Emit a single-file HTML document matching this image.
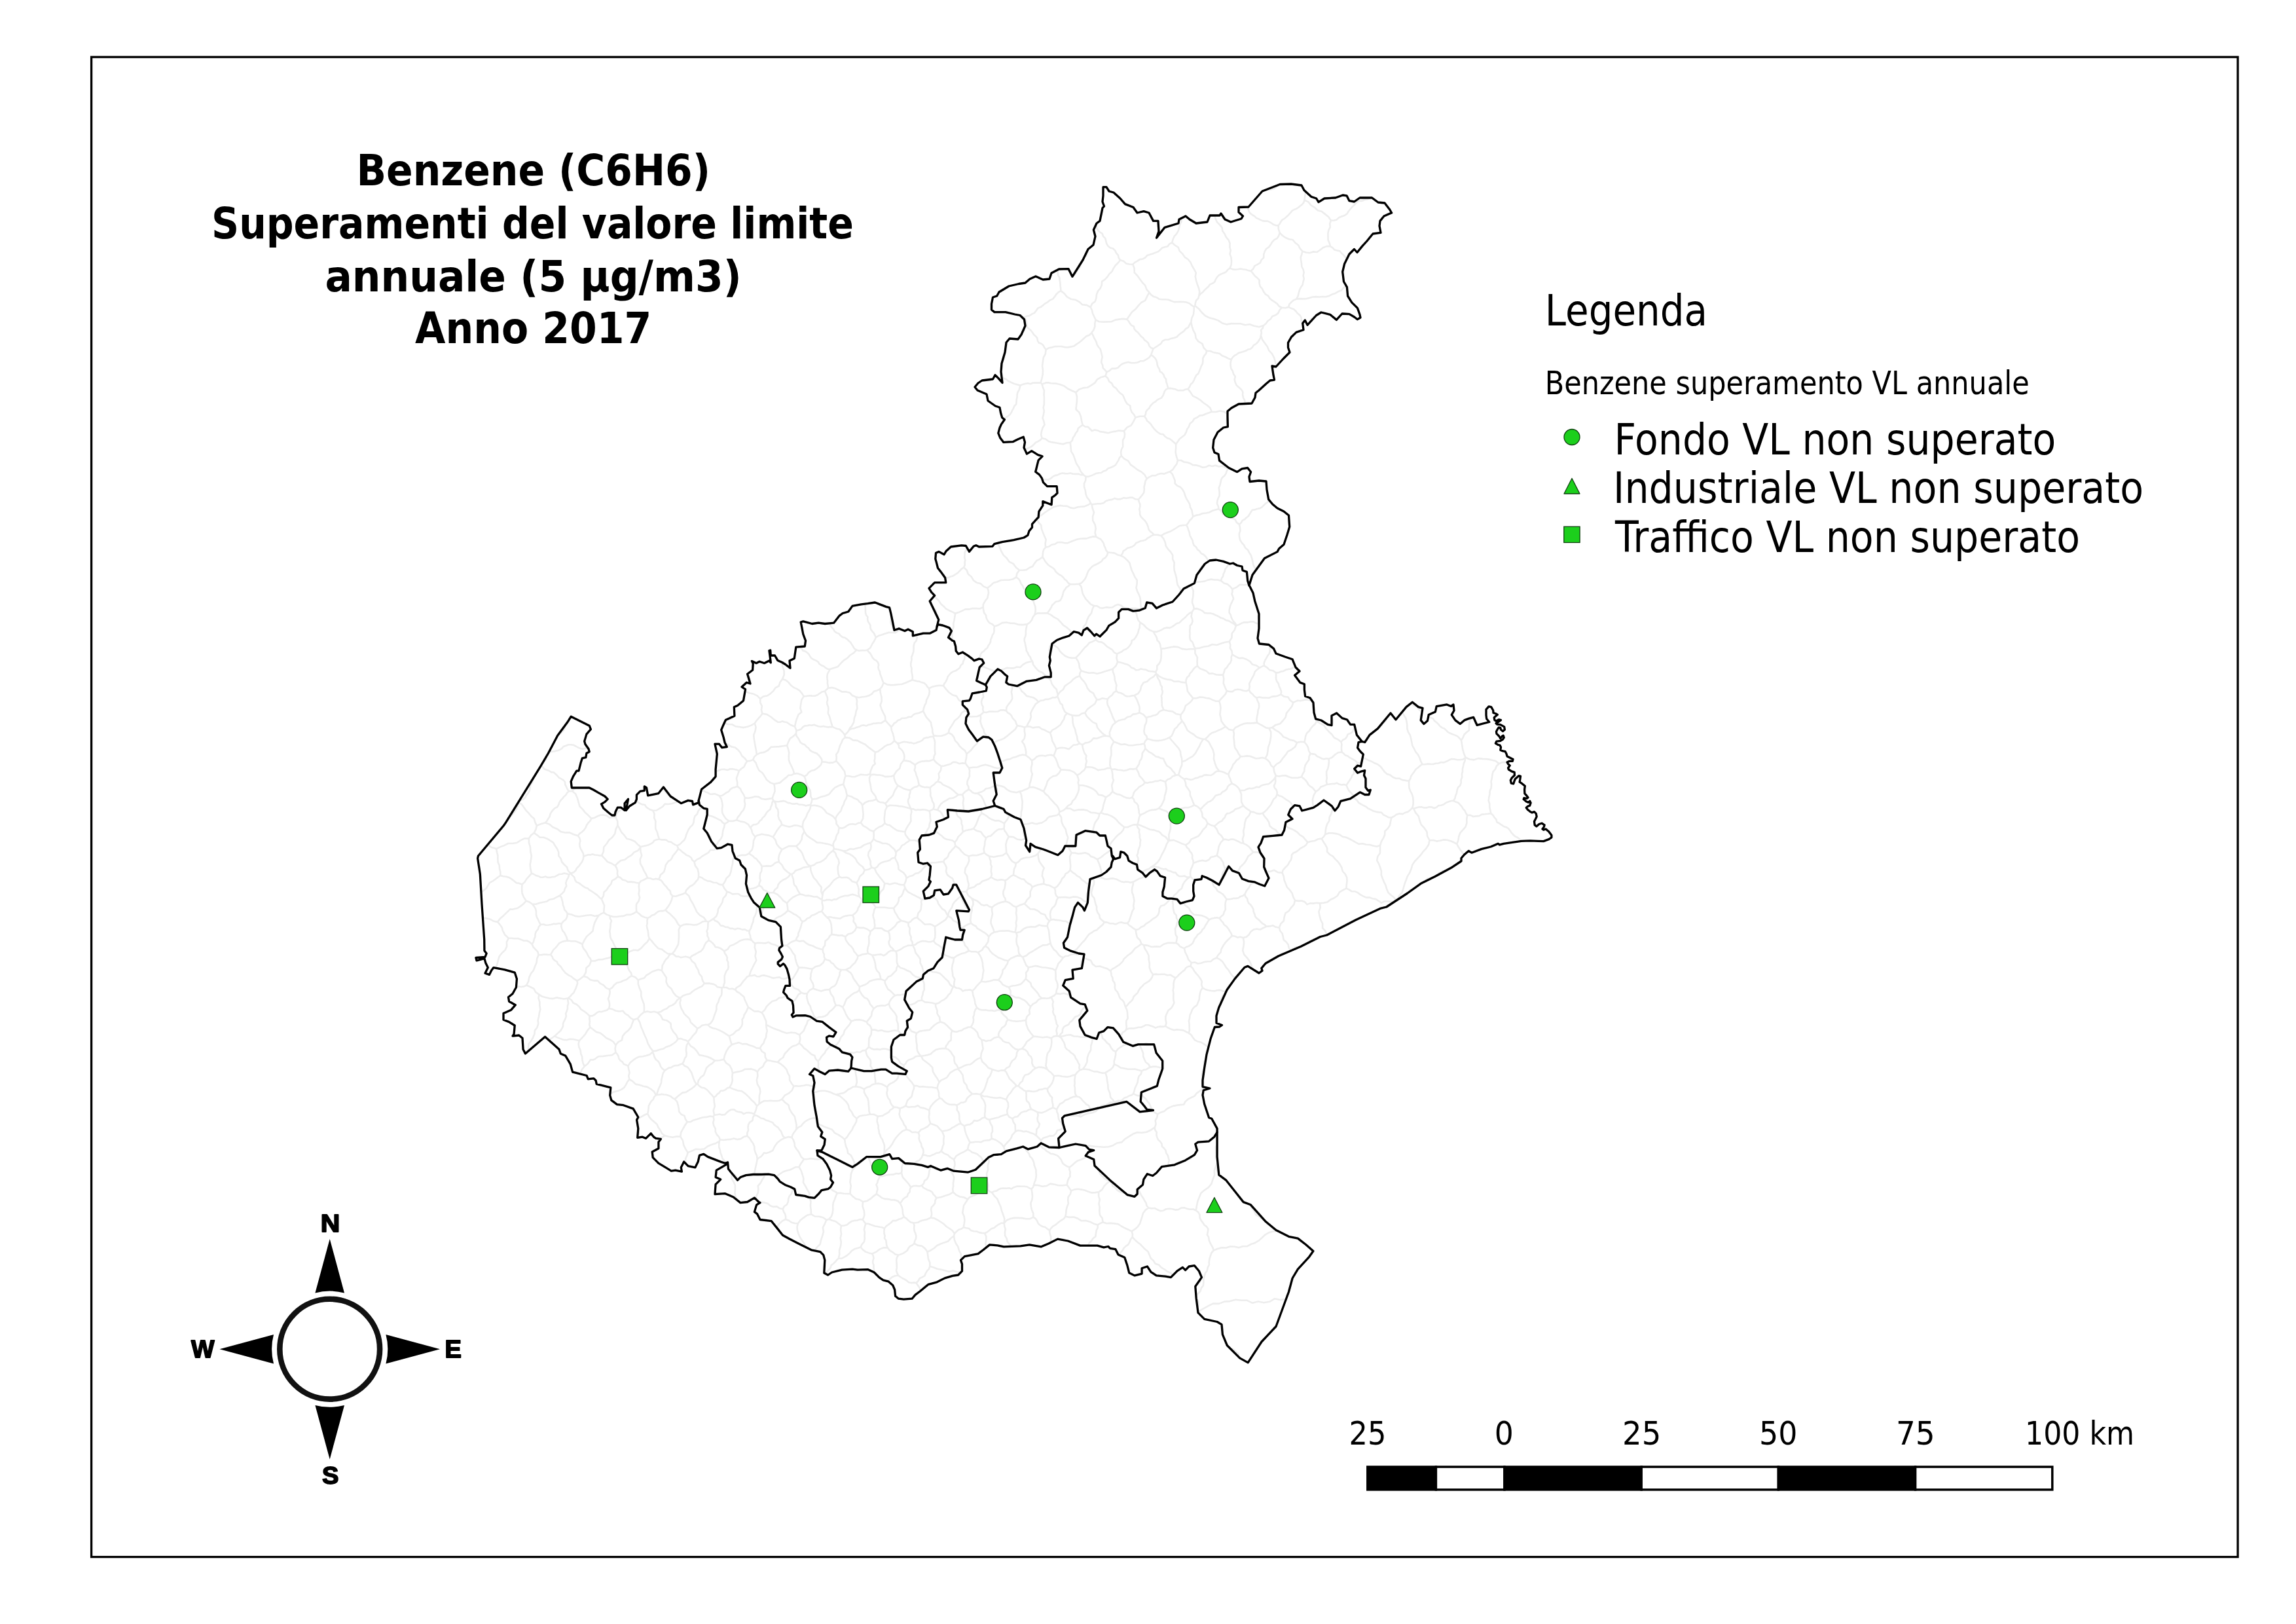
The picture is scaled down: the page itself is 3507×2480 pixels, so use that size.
<!DOCTYPE html><html><head><meta charset="utf-8"><title>Benzene (C6H6) - Anno 2017</title>
<style>html,body{margin:0;padding:0;background:#fff;width:3507px;height:2480px;overflow:hidden}svg{display:block;will-change:transform}.b{font-family:"DejaVu Sans","Liberation Sans",sans-serif;font-weight:bold}.r{font-family:"DejaVu Sans","Liberation Sans",sans-serif}.k{font-family:"Liberation Sans","DejaVu Sans",sans-serif;font-weight:bold;stroke:#000;stroke-width:1.8px;stroke-linejoin:round}</style></head><body>
<svg width="3507" height="2480" viewBox="0 0 3507 2480">
<rect width="3507" height="2480" fill="#fff"/>
<rect x="139.6" y="87.1" width="3278.5" height="2290.5" fill="none" stroke="#000" stroke-width="3.3"/>
<defs><clipPath id="vc"><polygon points="1431.3,956.2 1433.7,946.3 1420.2,918 1427.6,909.4 1422.7,904.4 1419,898.3 1427.6,889.7 1444.8,889.7 1443.6,882.3 1437.4,873.6 1432.5,867.5 1430,857.6 1428.8,853.5 1429.5,844.6 1433.9,842.4 1442.1,846.8 1445,841.7 1452.4,835 1468.7,832.8 1475.3,833.5 1480.5,842.4 1487.1,834.3 1490.8,832.8 1495.3,835 1516,834.3 1518.9,830.6 1530.7,827.6 1548.5,824.7 1564,821 1569.9,817.3 1572.1,810.6 1576.5,805.5 1576.5,800.3 1583.9,792.2 1586.1,790 1586.9,781.1 1592.8,772.2 1592.8,765.6 1606.1,770.7 1606.8,759.6 1611.3,756.7 1615,753 1614.2,742.7 1599.5,742.7 1593.5,736.7 1591.3,730.1 1587.6,724.9 1581.7,720.5 1583.9,711.6 1586.1,702.8 1592.1,696.8 1585.4,694.6 1575.8,688.7 1568.4,693.1 1564,683.5 1565.5,675.4 1563.2,667.3 1554.4,671 1547,674.7 1532.9,675.4 1527.8,668.8 1524.8,661.4 1527,653.2 1529.3,648.1 1534.4,640.7 1530.7,637.7 1528.5,630.3 1527,622.2 1520.4,620 1509,612 1507,602 1493,596 1489,591 1494,585 1500,581 1516.5,579 1520,572.7 1525,577.6 1531,584.5 1529,567.7 1530,555 1535,538 1537,523 1542,517 1555,518 1560,511 1566,497.5 1564.5,487.7 1558,481.5 1550,480 1536,476.6 1519,476.6 1514.5,473 1514.5,464 1516.5,454 1522.7,452 1526,446 1541,437 1556,433.5 1566,432 1573,426 1582,422 1593,427 1603,426 1606,417 1617.5,411 1632,410.6 1638,422.4 1654,397 1662,380.5 1670,374 1673,361 1670.4,351 1675,341 1680,337.4 1684,317.7 1686.5,315 1684,308 1685,299 1685,285.7 1690,285.7 1694,292 1701,294 1711,303 1718.5,311.6 1731,316.5 1737,325 1747,322.7 1755,325 1761.6,337.4 1769,337.4 1770,353.4 1766.5,363.3 1779,347.3 1800,341 1801,335 1811,330 1817,335 1827,341 1844,339 1848,329 1863,329 1865,326 1871,335 1880,339 1896,334 1898.5,330 1892,324 1892,316.5 1907,316 1928,292 1955,281.5 1972,281 1988,283 1992,290.6 2003,300.5 2010.6,303 2014,308.6 2023,303 2040,302 2051,298 2057,298.8 2061,306.7 2068.5,308 2077,302 2095.6,302 2105,309 2115,310 2122.7,320 2125.6,325 2114,330 2108,337.4 2107,345 2109,355.4 2097,357 2088,368 2081,375.6 2073,385.5 2068.5,380.5 2061,388 2053.7,402.7 2050.7,415 2052.5,430 2057.4,438.4 2058.6,452 2064.8,461.8 2073.4,470.4 2077,480.3 2078,485 2073.4,487.7 2068.5,484 2061,479.6 2050,479 2041.4,488.4 2031.5,480.3 2018,477 2010.6,481.5 1997,496.3 1993.3,489 1989.7,493.8 1991,503.7 1980,507.4 1972.4,514.8 1967.5,523.4 1967.5,530.8 1970,538 1960,548 1949,560 1943,559 1945,572.7 1946.5,580 1940,581 1934,586 1923,596 1918,600 1917,607 1912,616 1892,617 1881,623 1875,628 1875,636 1875.4,651.7 1868.7,653 1860,660 1854,671.4 1852.7,683.7 1855,691 1861,693.6 1862.6,703.4 1872.4,711 1877,714.5 1889.7,720.7 1897,715.8 1905.7,714.5 1910.6,720.7 1908,728 1909,735.5 1923,734 1934,735 1935,747.8 1937.7,762.6 1943.8,770 1951,776 1961,781 1968.5,787 1969.7,804.4 1966,816.7 1961,831.5 1953.7,837.7 1951,842.6 1931.5,852.5 1921.7,866 1913,878 1908,894 1909,895.6 1914,905.4 1916.7,917.7 1923,937.4 1923,959.6 1921,974.6 1923.4,983 1938,984.5 1945.6,990.6 1949,998 1962.8,1003 1974,1006.7 1979,1019 1985,1025 1977.6,1031.3 1986,1042.4 1992.4,1044.8 1992.4,1053.4 1993.6,1063.3 2001,1065.8 2006,1073 2007,1088 2009.6,1097.8 2018,1100 2028,1106.4 2034,1107.6 2034,1092.9 2041.6,1089 2050,1096.6 2057.6,1099 2062.6,1106.4 2068.7,1106.4 2072.4,1122.4 2080.3,1132.3 2084.7,1133.5 2092,1122.4 2104.4,1112.6 2124,1089 2132,1099 2148,1079.6 2157.3,1072.2 2166.5,1079.6 2173,1081.4 2170.2,1099.9 2174.8,1105.4 2180.4,1100.8 2182.2,1091.6 2192.4,1087 2194.2,1078.6 2210,1075.9 2216.4,1078.6 2220,1075.9 2221,1085 2217.3,1091.6 2222.9,1099.9 2230.2,1105.4 2236.7,1099.9 2244,1097.1 2250.6,1095.3 2256,1107.3 2274.8,1102.5 2270.7,1097.7 2270,1092.2 2270,1083.3 2274,1078.9 2277.7,1079.6 2280.7,1084.8 2281,1088.5 2285.1,1090 2287.3,1091.4 2284.4,1093.7 2282.2,1095.9 2282.9,1099.6 2285.1,1101 2289.6,1098.8 2292.5,1099.6 2289.6,1101.8 2285.1,1104.7 2286.6,1106.2 2291.8,1106.6 2297.7,1109.9 2298.4,1114.3 2295.5,1116.6 2292.5,1114.3 2291.8,1111.4 2289.2,1111 2287.3,1113.6 2285.5,1117.3 2285.9,1120.3 2289.6,1124 2291.8,1127.6 2294,1124.7 2296.2,1123.2 2297.3,1126.2 2295.5,1129.1 2291.8,1131.3 2285.9,1132.1 2284.4,1135 2288.1,1137.3 2291,1138 2292.5,1141 2291.8,1145.4 2295.5,1146.9 2299.2,1147.6 2301,1151.3 2302.1,1155 2306.6,1157.2 2311,1159.4 2310.3,1162.4 2305.1,1162.4 2302.1,1163.9 2303.6,1166.8 2306.2,1169 2303.6,1172.7 2304.3,1175 2308.8,1177.9 2313.2,1179.4 2313.4,1184.1 2309.6,1187.4 2307.3,1191.5 2308.3,1196.2 2311.7,1196.9 2313,1192.9 2314.4,1189.5 2319.8,1184.7 2322.5,1185.4 2321.8,1190.2 2321.1,1194.2 2325.2,1196.9 2329.3,1200.3 2328.6,1205.7 2328.9,1211.8 2332,1215.2 2334,1217.9 2332,1219.3 2327.9,1218.6 2327.2,1220.6 2331.3,1224 2334.7,1225.4 2336.7,1223.3 2338.1,1226 2336.7,1230.1 2333.3,1231.5 2331.3,1233.5 2333.3,1236.2 2337.4,1239.6 2340.1,1240.9 2343.5,1239.6 2346.2,1242.3 2347.2,1247 2345.5,1250.4 2343.5,1254.5 2344.2,1259.9 2346.9,1261.9 2350.9,1258.5 2355,1257.2 2359.1,1259.9 2358.4,1262.6 2356,1266 2357.7,1267.3 2361.1,1266 2365.8,1270 2369.9,1275.5 2369.9,1278.8 2365.8,1281.6 2357.7,1284.6 2349.6,1284.3 2337.4,1283.9 2323.9,1284.3 2310.3,1286.3 2296.8,1288.3 2290.3,1290.2 2288.4,1288.3 2277.3,1293 2262.6,1296.6 2247.8,1302.2 2243.2,1299.4 2236.7,1305 2232,1310.5 2232,1315 2216.4,1325.3 2192.4,1338.2 2170.2,1349.3 2149.8,1364 2117.7,1385 2108,1387.4 2071,1404.7 2026.6,1428 2016.7,1430.5 1987.2,1445.3 1952.7,1460 1933,1471.2 1926.8,1478.6 1928,1482.3 1923,1486 1906,1475.4 1901,1477.3 1886.2,1494.6 1874,1511.8 1861.6,1539 1858,1551.2 1858,1562.3 1866.5,1565.5 1862.8,1568 1855.4,1568.5 1849.3,1585.7 1843,1610.3 1839.4,1632.5 1837,1649.8 1837,1659.6 1848,1662 1838.2,1665 1837,1672.2 1839.7,1686 1846.6,1706.8 1850.8,1708.2 1859.1,1723.4 1859.1,1730.4 1859.1,1741.4 1859.1,1766.4 1861.8,1794.1 1872.9,1802.4 1888.2,1821.8 1899.2,1835.6 1910.3,1839.8 1932.5,1864.7 1949.1,1878.6 1968.5,1888.3 1982.4,1891.1 1994.8,1900.8 2005.9,1910.5 1999,1920.2 1982.4,1938.2 1974.1,1952 1968.5,1972.8 1949.1,2025.5 1927,2049 1906.2,2080.9 1893.7,2073.9 1874.3,2054.5 1867.4,2037.9 1866,2022.7 1859.1,2018.5 1839.7,2014.4 1830,2004.7 1827.2,1982.5 1825.8,1964.5 1835.5,1950.6 1831.4,1941 1824.4,1932.6 1816.1,1934 1810.6,1939.6 1806.4,1935.4 1798.1,1940.9 1788.4,1950.6 1780.1,1949.2 1766.3,1947.9 1757.9,1942.3 1752.4,1934 1744.1,1936.8 1744.1,1945.1 1733,1947.9 1724.7,1943.7 1721.9,1932.6 1717.8,1920.2 1708.1,1916 1703.9,1907.7 1695.6,1906.3 1692.8,1903.5 1685.9,1904.9 1676.2,1902.1 1649.9,1902.1 1631.2,1895 1615.5,1892.1 1601.8,1899 1590,1903.9 1572.4,1900.9 1558.7,1902.9 1533.2,1903.9 1523.4,1901.9 1511.6,1900.9 1501.8,1908.8 1494,1914.6 1473.4,1918.6 1467.5,1924.4 1469.5,1930.3 1469.5,1941.1 1463.6,1947 1454.8,1948.4 1443,1951.9 1431.3,1957.8 1417.6,1961.7 1405.8,1971.5 1398,1977.4 1393.1,1983.2 1380.3,1984.2 1372.5,1983.2 1367.6,1979.3 1366.6,1969.5 1363.7,1962.7 1356.8,1956.8 1349,1954.8 1343.1,1950.9 1335.2,1943 1325.4,1938.6 1309.8,1939.1 1301.9,1938.2 1286.2,1939.1 1270.6,1943 1264.7,1947 1258.8,1944 1259.8,1924.4 1257.8,1916.6 1252.9,1911.7 1239.2,1908.8 1219.6,1899 1206,1892 1195.5,1886.2 1186.9,1875.4 1178.3,1864.7 1161,1862.5 1156.7,1853.9 1152.4,1850.6 1155.6,1839.9 1161,1836.6 1158.9,1835.5 1152.4,1829.1 1141.6,1835.5 1130.9,1836.6 1120.1,1828 1107.2,1822.6 1092,1823.7 1093.1,1808.6 1100.7,1801.1 1093.1,1797.8 1094.2,1787.1 1109.3,1778.4 1111.5,1775.2 1107.2,1776.3 1100.7,1774.1 1081.3,1766.6 1074.8,1762.3 1068.4,1764.4 1066.2,1774.1 1061.9,1782.8 1051.1,1780.6 1044.7,1774.1 1040.3,1782.8 1041.4,1789.2 1031.7,1787.1 1025.3,1788.1 1005.9,1776.3 997.2,1767.7 996.2,1759 1005.9,1753.7 1005.9,1744 1009.3,1739.4 1001.7,1738.4 998.5,1736.2 994.2,1730.8 986.6,1738.4 981.3,1736.2 973.7,1737.3 974.8,1723.3 972.6,1710.3 974.8,1706 967.2,1693.1 952.2,1687.7 942.5,1686.6 933.8,1680.2 931.7,1672.6 932.8,1660.8 911.2,1655.4 910.1,1650 906.9,1646.8 898.3,1647.8 896.1,1642.5 878.9,1638.1 874.6,1637.1 871.3,1625.2 863.8,1612.3 856.3,1609 854.1,1602.6 832.5,1583.2 802.4,1609 799.1,1602.6 798,1585.3 792.7,1581 783,1582.1 785.1,1578.9 786.2,1566 777.6,1560.6 769,1557.3 769,1547.6 780.8,1542.2 787.3,1534.7 777.6,1529.3 776.5,1522.8 783,1517.5 788.4,1507.8 789.4,1494.8 786.2,1485.1 771.1,1480.8 753.9,1477.6 750.6,1481.9 747.4,1488.4 741,1486.2 745.3,1477.6 742,1471.1 739.9,1463.6 728,1466.8 726.9,1462.5 741,1461.4 743.1,1456 739.9,1451.7 739.7,1434.5 736,1381 733.3,1334.7 729.6,1310.7 730.5,1307 769.3,1260.8 773,1255.3 825.6,1170.3 837.6,1150 851.7,1123.3 866.8,1102.8 872.2,1094.2 900.2,1108.2 902.4,1113.6 895.9,1121.1 892.7,1131.9 893.8,1136.2 899.1,1143.8 900.2,1148 895.9,1150.2 894.8,1156.7 889.4,1157.8 887.3,1164.2 884,1177.2 880.8,1177.2 875.4,1185.8 872.2,1193.3 873.3,1203 884,1203 892.7,1203 900.2,1203 906.7,1206.3 914.2,1210.6 923.9,1216 928.2,1220.3 923.9,1224.6 918.5,1227.8 921.8,1234.3 929.3,1240.7 934.7,1245 939,1245 940.1,1239.7 943.3,1233.2 948.7,1233.2 954.1,1237.5 954.1,1226.7 959.5,1220.3 956.3,1237.5 961.6,1231 970.3,1225.6 972.4,1220.3 972.4,1213.8 977.8,1208.4 984.3,1207.3 984.3,1200.9 987.5,1203 989.7,1214.9 1005.8,1211.6 1013.4,1202 1024.1,1216 1033.8,1222.4 1040.3,1226.7 1051,1222.4 1057.5,1223.5 1058.6,1228.9 1067.2,1225.6 1067.2,1222.4 1071.6,1205.2 1085.6,1194.4 1093.1,1185.8 1093.1,1175 1095.3,1151.3 1092,1136.2 1098.5,1136.2 1102.8,1141.6 1110.3,1140.5 1107.1,1134 1105,1125.4 1101.7,1114.7 1103.9,1109.3 1108.4,1099.5 1121.9,1093.3 1121.3,1079.8 1126.8,1077.3 1135.5,1070 1138.5,1052.7 1133,1049 1140.4,1042.2 1146,1044 1141.6,1029.3 1149.6,1023.2 1150.2,1013.3 1148.4,1009.6 1155.2,1012.7 1160.1,1010.2 1167.5,1012.7 1174.9,1009 1177.3,1012 1176.1,1002.2 1174.9,993.6 1176.7,993 1177.3,1001 1183.5,1001 1187.8,1008.4 1194.6,1011.5 1199.5,1014.5 1207,1020.2 1206,1009 1213.3,1005.4 1215.8,988.2 1229.3,987 1230.5,978.3 1226.8,968.5 1223.2,950 1226.8,948.8 1240.4,952.5 1250.2,951.2 1260.1,952.5 1273.6,951.2 1282.3,940.1 1287.2,936.5 1295.8,934 1302,925.4 1315.5,922.9 1325.4,921.7 1336.5,920 1343.8,922.9 1353.7,926.6 1358.6,927.8 1361,937.7 1366,962.3 1373.4,959.9 1382,963.5 1387,961 1394.3,964.8 1394.3,970.9 1410.3,967.2 1420.2,967.2 1430,962.3 1431.3,956.2"/></clipPath></defs>
<g clip-path="url(#vc)" fill="none" stroke="#ededed" stroke-width="2.6" stroke-linejoin="round">
<path d="M726.9,1462.5 L728,1466.8 M726.9,1462.5 L730.2,1460.8 L733.8,1460.2 L737.3,1461.2 L741,1461.4 M728,1466.8 L734.3,1466.4 L739.9,1463.6 M729.6,1310.7 L730.5,1307 M729.6,1310.7 L729.8,1316.9 L732.6,1322.5 L732.7,1328.6 L733.3,1334.7 M730.5,1307 L734.7,1302.6 L736.3,1296.8 L740.1,1292.1 L745.4,1289.3 M733.3,1334.7 L734.5,1338.2 L733.9,1341.8 L732.9,1345.2 L732.5,1348.7 L734,1352 L735.1,1355.4 L734.7,1359 L734.9,1362.6 M734.9,1362.6 L735.7,1367.3 L734.1,1371.9 L734.9,1376.5 L736,1381 M734.9,1362.6 L738.9,1359.6 L742.9,1356.5 L745.3,1352.2 L748,1347.9 L752.4,1345.7 L756.5,1342.8 L760.3,1339.8 L764.4,1337 M736,1381 L735.9,1386.2 L734.7,1391.2 L736.4,1396.1 L737.4,1401.2 M737.4,1401.2 L737.8,1405.5 L736.2,1409.6 L735.8,1413.8 L735.9,1418 L735.3,1422.4 L736.6,1426.5 L737.6,1430.7 L739.7,1434.5 M737.4,1401.2 L743.2,1402.4 L749,1403.8 L754.2,1406.8 L760.1,1407.9 M739.7,1434.5 L739.9,1438.8 L740.6,1443.1 L741.3,1447.5 L739.9,1451.7 M739.9,1451.7 L743.1,1456 M739.9,1463.6 L740.1,1467.6 L742,1471.1 M741,1461.4 L743.1,1456 M741,1486.2 L742.3,1481.5 L745.3,1477.6 M741,1486.2 L747.4,1488.4 M742,1471.1 L744.1,1474.1 L745.3,1477.6 M745.4,1289.3 L747.9,1292.1 L751,1294.1 L754.6,1294.9 L758.1,1296.2 M745.4,1289.3 L746.5,1284.6 L748.6,1280.3 L752.7,1277.5 L755.3,1273.4 L759.6,1271.1 L763.3,1268.2 L767.2,1265.2 L769.3,1260.8 M747.4,1488.4 L749.6,1485.5 L750.6,1481.9 M750.6,1481.9 L753.9,1477.6 M753.9,1477.6 L757.4,1478.2 M757.4,1478.2 L760.5,1479.9 L764.1,1480.4 L767.6,1480 L771.1,1480.8 M757.4,1478.2 L759.3,1472.3 L760.9,1466.3 L762.8,1460.2 L766.8,1455.3 L771.5,1450.9 L774.2,1445.1 L773.9,1438.6 L776.8,1432.7 M758.1,1296.2 L759,1301.3 L760.4,1306.3 L760.3,1311.5 L760.6,1316.7 L762.7,1321.5 L763.1,1326.7 L764.3,1331.8 L764.4,1337 M758.1,1296.2 L764,1293.4 L770.1,1291.1 L776.1,1288 L782.8,1288 L789.5,1287 L795,1283.3 L801.1,1280.3 L807.8,1280.5 M760.1,1407.9 L762.6,1410.8 L764.9,1413.8 L767,1417 L767.7,1420.8 L769.6,1424.1 L771.2,1427.6 L774.1,1430.1 L776.8,1432.7 M760.1,1407.9 L764.2,1402.4 L769.5,1397.9 L774.4,1393.1 L779.3,1388.4 L782.9,1388.7 L786.5,1387.8 L790,1387.1 L793.1,1385.1 L796,1383.1 L798.8,1381 L801.3,1378.4 L803.7,1375.8 M764.4,1337 L768.8,1338.2 L773.3,1338.7 L777.6,1340.1 L781.5,1342.4 L785.1,1345.3 L788.6,1348.2 L793.1,1348.9 L797.5,1350.4 M769,1547.6 L768.7,1552.4 L769,1557.3 M769,1547.6 L774.3,1543.5 L780.8,1542.2 M769,1557.3 L772.9,1560 L777.6,1560.6 M769.3,1260.8 L773,1255.3 M771.1,1480.8 L774.9,1481.9 L779,1481.9 L782.2,1484.3 L786.2,1485.1 M773,1255.3 L775.3,1251.4 L778.2,1247.9 L781.4,1244.8 L784.5,1241.5 L787.3,1237.9 L789.6,1234 L791.4,1229.7 L791.7,1225.1 M776.5,1522.8 L777.6,1529.3 M776.5,1522.8 L779.3,1519.6 L783,1517.5 M776.8,1432.7 L781.5,1432.7 L786.1,1433.3 L790.9,1433 L795.4,1434.6 L799.9,1436.5 L804.8,1436.5 L809,1438.7 L812.6,1441.9 M777.6,1529.3 L782,1532.9 L787.3,1534.7 M777.6,1560.6 L782.5,1562.3 L786.2,1566 M780.8,1542.2 L783.5,1538 L787.3,1534.7 M783,1517.5 L785.1,1512.3 L788.4,1507.8 M783,1582.1 L785.1,1578.9 M783,1582.1 L787.9,1582.1 L792.7,1581 M785.1,1578.9 L786.5,1572.5 L786.2,1566 M786.2,1485.1 L787.3,1490.1 L789.4,1494.8 M788.4,1507.8 L788.5,1506.6 M788.5,1506.6 L788.6,1500.7 L789.4,1494.8 M788.5,1506.6 L792.5,1506.5 L796.5,1507 L800.6,1506.4 L804.2,1504.5 M791.7,1225.1 L796.7,1228.1 L800.1,1232.8 L803.4,1237.6 L807.5,1241.6 L811.2,1246.2 L815.7,1250 L817.4,1255.6 L819.8,1260.9 M791.7,1225.1 L794.9,1222.4 L798.8,1220.6 L802.3,1218 L804.2,1214.1 L806.9,1210.8 L808.9,1207.1 L809.6,1202.8 L810.1,1198.6 L812.8,1195.5 L814,1191.5 L815.6,1187.8 L817.5,1184.2 L819,1180.4 L819.9,1176.3 L822.6,1173.2 L825.6,1170.3 M792.7,1581 L798,1585.3 M797.5,1350.4 L797.1,1357.1 L797.5,1363.9 L800,1370.1 L803.7,1375.8 M797.5,1350.4 L801.7,1346.7 L804.6,1341.9 L808.4,1337.9 L812,1333.6 M798,1585.3 L799.1,1589.6 L798.1,1594 L798.4,1598.3 L799.1,1602.6 M799.1,1602.6 L801.4,1605.5 L802.4,1609 M802.4,1609 L806.4,1605.6 M803.7,1375.8 L808.6,1377.5 L812.9,1380.5 M804.2,1504.5 L807.1,1498.8 L808.3,1492.6 L810.9,1486.8 L814.9,1481.9 L817,1476 L819.5,1470.3 L820.2,1464 L822.6,1458.2 M804.2,1504.5 L809.8,1507 L815.2,1509.7 L818.2,1515.2 L823.4,1518.7 M806.4,1605.6 L807,1599.8 L807.5,1594.1 L811.3,1589.6 L814.1,1584.5 L816.4,1579.3 L816.9,1573.6 L820.4,1569 L822.2,1563.6 L821.7,1557.9 L823.1,1552.3 L823.9,1546.7 L825.3,1541.2 L824.3,1535.6 L824.3,1530 L822.5,1524.4 L823.4,1518.7 M806.4,1605.6 L810.1,1603 L814.5,1602 L816.9,1598.3 L820.4,1595.5 L823.9,1592.8 L827.9,1590.8 L829.5,1586.6 L832.5,1583.2 M807.8,1280.5 L808,1287.2 L810,1293.7 L810.3,1300.4 L811.8,1306.9 L810.9,1313.6 L809.7,1320.3 L810.3,1327 L812,1333.6 M807.8,1280.5 L811.1,1275.6 L815.7,1271.9 M812,1333.6 L815.4,1335 L818.6,1337 L822.2,1337.9 L825.5,1339.7 L829.3,1339.7 L833,1338.5 L836.5,1340 L840.4,1339.9 L844,1339.1 L847.8,1338.7 L851,1336.9 L854.3,1335 L858.1,1334.8 L861.8,1333.6 L865.6,1334.2 L869.1,1335.7 M812.6,1441.9 L814.6,1446.3 L818,1449.8 L821.3,1453.4 L822.6,1458.2 M812.6,1441.9 L814.9,1438.4 L815.8,1434.3 L817.4,1430.4 L817.6,1426.2 L819,1422.3 L821.7,1419.1 L823,1415.1 L825.9,1412 M812.9,1380.5 L815.7,1383.9 L818,1387.7 L819,1392 L818.9,1396.4 L819.9,1400.7 L822,1404.4 L823.7,1408.3 L825.9,1412 M812.9,1380.5 L818.5,1380.8 L823.9,1379.1 L829.3,1377.8 L834.8,1376.8 L839.6,1373.7 L845.2,1372.8 L850.1,1370.1 L855,1367.6 M815.7,1271.9 L818.5,1266.7 L819.8,1260.9 M815.7,1271.9 L820.3,1275.1 L824.6,1278.7 L830.3,1278.8 L835.6,1280.7 L840.4,1283.6 L845,1286.7 L847.9,1291.5 L851,1296.1 L853.2,1301.2 L853.3,1306.8 L856.6,1311.2 L858.3,1316.5 L862,1320.5 L866,1324.2 L867.7,1329.6 L871.5,1333.7 M819.8,1260.9 L826.2,1258.3 L832.8,1256.4 M822.6,1458.2 L827.2,1458.1 L831.8,1457.5 L836.4,1457.9 L841,1458 M823.4,1518.7 L828.1,1521.8 L833.7,1523.2 L839.1,1524.6 L844.7,1525.1 L850.1,1523.4 L855.8,1524.5 L861.3,1525.5 L866.9,1524.5 M825.6,1170.3 L826,1169.6 M825.9,1412 L830,1411.5 L833.9,1412.8 L837.9,1412.5 L841.8,1412 L845.7,1410.8 L849.7,1411.1 L853.7,1410 L857.7,1410.8 M826,1169.6 L829.2,1164.8 L833.3,1160.7 L835.2,1155.2 L837.6,1150 M826,1169.6 L829.2,1171.6 L831.6,1174.6 L835.2,1175.7 L838.7,1177 L842,1179.1 L845.8,1179.5 L848.6,1182 L851.3,1184.7 L853.9,1187.6 L857.3,1189.3 L860.6,1191.3 L863,1194.3 L863.3,1198.2 L865.1,1201.7 L866.7,1205.2 L868.9,1208.3 M832.5,1583.2 L835.2,1585.6 L837.8,1588 M832.8,1256.4 L835.4,1253.6 L837.3,1250.3 L839.6,1247.1 L840.4,1243.3 L842.3,1239.9 L844.7,1236.9 L847.4,1234.1 L851.1,1232.5 L853.1,1229.3 L854.2,1225.6 L856.3,1222.4 L859,1219.6 L861.3,1216.6 L864.2,1214.2 L866.1,1210.9 L868.9,1208.3 M832.8,1256.4 L839.3,1258.8 L844.5,1263.2 L850.9,1265.8 L856.4,1269.9 L863.1,1271.5 L870,1271.4 L876.2,1274.2 L882.8,1276.2 M837.6,1150 L839.2,1147 M837.8,1588 L842.6,1585.5 L847,1582.3 M837.8,1588 L841,1592.5 L844.6,1596.8 L848.7,1600.8 L854.1,1602.6 M839.2,1147 L842.7,1141 L843.6,1134.2 L848.4,1129.3 L851.7,1123.3 M839.2,1147 L843.1,1148 L847.1,1147.3 L850.9,1146.2 L854.7,1145.2 L858.1,1143.1 L860.7,1140 L864.5,1138.7 L868.1,1137.2 L872,1137.3 L875.9,1137.8 L879.5,1139.5 L882.9,1141.5 L886.6,1142.9 L890.4,1143.8 L894.3,1142.8 L898.2,1142.5 M841,1458 L843.2,1454.2 L845.3,1450.4 L848.6,1447.4 L851.4,1444 L854.2,1440.4 L858.3,1438.3 L862.7,1437.1 L867.1,1436.5 M841,1458 L843.5,1460.8 L844.7,1464.3 L847.4,1466.8 L850.7,1468.6 L852,1472 L854.8,1474.4 L857.3,1477 L859,1480.2 L861.4,1483 L863.6,1485.8 L866.6,1487.9 L869.6,1489.9 L872.9,1491.4 L875.5,1493.9 L878.6,1495.9 L881.5,1497.9 M847,1582.3 L850,1579.6 L853,1576.9 L856,1574.2 L858.3,1570.8 L860,1567.1 L860.1,1563 L861.7,1559.3 L863.6,1555.7 L864.8,1551.8 L864.2,1547.8 L865.7,1544.1 L866.9,1540.3 L866.9,1536.2 L868.1,1532.4 L867.5,1528.4 L866.9,1524.5 M847,1582.3 L851.4,1584.4 L856,1586.1 L860.6,1587.8 L865.5,1588.2 L870.2,1586.8 L875.2,1587 L880,1588.1 L884.8,1589.3 M851.7,1123.3 L856.9,1119.3 L861.5,1114.7 L863.4,1108.4 L866.8,1102.8 M854.1,1602.6 L856.3,1609 M855,1367.6 L857.6,1370.6 L858.5,1374.4 L859.5,1378.1 L859.9,1381.9 L861.4,1385.5 L862.2,1389.3 L864.9,1392 L866.8,1395.4 M855,1367.6 L858.4,1364.6 L861.6,1361.4 L862.9,1357 L865.2,1353.1 L864.3,1348.5 L865.6,1344 L868,1340.1 L869.1,1335.7 M856.3,1609 L859.7,1611.6 L863.8,1612.3 M857.7,1410.8 L860.4,1407 L864.2,1404.2 L866.2,1400 L866.8,1395.4 M857.7,1410.8 L857.2,1414.4 L858.1,1417.8 L859.3,1421.3 L861.8,1423.9 L864.9,1430 L867.1,1436.5 M863.8,1612.3 L864.7,1616 L866.9,1619.1 L869,1622.2 L871.3,1625.2 M866.8,1102.8 L869.1,1098.2 L872.2,1094.2 M866.8,1395.4 L872.8,1396.5 L878.5,1398.9 L884.6,1399.7 L890.6,1398.7 L896.6,1397.7 L902.6,1397.2 L908.6,1399 L914.7,1397.9 M866.9,1524.5 L868.1,1524 M867.1,1436.5 L872.9,1437.3 L878.8,1437.3 L884.3,1439.3 L889.6,1441.8 M868.1,1524 L871.1,1521.6 L873.4,1518.6 L876.4,1516.1 L877.9,1512.5 L879.6,1509.1 L880.9,1505.5 L882.1,1501.8 L881.5,1497.9 M868.1,1524 L872.7,1527 L875.6,1531.5 L880.6,1533.8 L884.6,1537.3 L887.8,1541.7 L892.5,1544.5 L896.7,1547.7 L900.5,1551.4 M868.9,1208.3 L873.8,1208 M869.1,1335.7 L871.5,1333.7 M871.3,1625.2 L872.3,1631.3 L874.6,1637.1 M871.5,1333.7 L872,1333.6 M872,1333.6 L876,1332.2 L879.3,1329.5 L881.1,1325.6 L884.2,1322.8 L886.6,1319.3 L889.1,1316 L890.7,1312.2 L891.3,1308 M872,1333.6 L874.3,1336.9 L877.3,1339.6 L878.2,1343.5 L880.4,1346.9 L884.1,1348.4 L887.3,1350.8 L890.4,1353.2 L893.7,1355.3 L897.5,1356.4 L900.4,1359.2 L903.8,1361 L906.9,1363.2 L910.1,1365.4 L913.2,1367.8 L915.7,1370.7 L918.9,1372.9 M872.2,1094.2 L876,1095.8 L880.1,1095.8 L882.9,1098.8 L886.3,1101 L890.2,1101.7 L893.9,1103.4 L896.5,1106.5 L900.2,1108.2 M872.2,1193.3 L872.3,1198.2 L873.3,1203 M872.2,1193.3 L873.6,1189.5 L875.4,1185.8 M873.3,1203 L876.8,1203.8 L880.4,1203 M873.8,1208 L876.8,1205.1 L880.4,1203 M873.8,1208 L879.1,1212.3 L881.8,1218.5 L883.6,1224.9 L885.4,1231.3 L890,1235.9 L894,1241.1 L898.9,1245.3 L903.4,1250.1 M874.6,1637.1 L878.9,1638.1 M875.4,1185.8 L878.5,1181.8 L880.8,1177.2 M878.9,1638.1 L882.8,1638.3 L886.3,1640 M880.4,1203 L884,1203 M880.8,1177.2 L884,1177.2 M881.5,1497.9 L886.7,1494.6 L891.5,1490.8 M882.8,1276.2 L885.3,1279.8 L886.3,1284 L885.3,1288.2 L885.6,1292.5 L887,1296.4 L889.2,1300 L891,1303.8 L891.3,1308 M882.8,1276.2 L885.4,1272.8 L888.9,1270.5 L891.9,1267.6 L894.4,1264.2 L896,1260.3 L898.3,1256.7 L901.3,1253.8 L903.4,1250.1 M884,1177.2 L886,1170.8 L887.3,1164.2 M884,1203 L888.4,1201.9 L892.7,1203 M884.8,1589.3 L883.6,1594.3 L884.5,1599.4 L886.7,1604 L887.2,1609.2 L889.2,1613.8 L889.5,1618.9 L890.6,1623.8 L892.9,1628.3 M884.8,1589.3 L889.4,1584.5 L893.8,1579.6 L897.1,1573.9 L901.3,1568.7 M886.3,1640 L888.6,1633.6 L892.9,1628.3 M886.3,1640 L891,1641.9 L896.1,1642.5 M887.3,1164.2 L889.4,1157.8 M889.4,1157.8 L894.8,1156.7 M889.6,1441.8 L889.9,1445.6 L891.6,1448.9 L894,1451.7 L896.1,1454.7 L897.6,1458 L899.3,1461.2 L901.8,1463.9 L902.9,1467.5 M889.6,1441.8 L892.5,1436 L895.9,1430.4 L900.7,1426.1 L905.5,1421.8 L906.5,1415.4 L908.3,1409.1 L911.2,1403.3 L914.7,1397.9 M891.3,1308 L894.5,1306.5 L898,1305.4 L901.6,1305.4 L905,1304.4 L908.4,1305.5 L912,1305.8 L915.5,1306.4 L919.1,1306.5 M891.5,1490.8 L894.8,1485 L895.4,1478.3 L900.4,1473.8 L902.9,1467.5 M891.5,1490.8 L897.1,1492.4 L901.6,1496.2 L907.2,1497.6 L912.9,1497.6 L916.8,1501.8 L921.9,1504.4 L925.7,1508.6 L931,1510.9 M892.7,1131.9 L893.8,1136.2 M892.7,1131.9 L894.8,1126.6 L895.9,1121.1 M892.7,1203 L896.5,1203.6 L900.2,1203 M892.9,1628.3 L898.2,1623.9 L902,1618.2 L905.5,1618.5 L908.9,1617.3 L911.6,1614.9 L914.6,1613.2 L921.3,1612.9 L927.9,1612 L934.8,1611.2 L940.4,1607.2 M893.8,1136.2 L896.5,1139 L898.2,1142.5 M894.8,1156.7 L895.9,1150.2 M895.9,1121.1 L898.9,1117.1 L902.4,1113.6 M895.9,1150.2 L900.2,1148 M896.1,1642.5 L898.3,1647.8 M898.2,1142.5 L899.1,1143.8 M898.3,1647.8 L902.5,1646.2 L906.9,1646.8 M899.1,1143.8 L900.2,1148 M900.2,1108.2 L902.4,1113.6 M900.2,1203 L903.2,1205.2 L906.7,1206.3 M900.5,1551.4 L900.3,1555.7 L900.9,1560 L900.2,1564.4 L901.3,1568.7 M900.5,1551.4 L904.6,1551.4 L908.3,1549.5 L911.3,1546.7 L914.9,1544.8 L919,1545.1 L922.9,1543.7 L926.9,1542.8 L930,1540 M901.3,1568.7 L906.2,1572.2 L910.9,1575.9 L916.9,1577.4 L921.7,1581.2 L926.2,1585.3 L931.8,1587.7 L936.9,1591 L940.5,1596 M902.9,1467.5 L908.7,1467.5 L914.1,1465.4 L919.9,1465.3 L925.4,1463.8 L931,1462.5 L936,1459.5 L941.9,1459.8 L947.3,1457.5 M903.4,1250.1 L908.1,1248.8 L912.4,1246.5 L917,1244.8 L921.8,1244.6 L926.8,1245.6 L930.8,1248.8 L935.7,1248 L940.7,1248.4 M906.7,1206.3 L910.3,1208.7 L914.2,1210.6 M906.9,1646.8 L910.1,1650 M910.1,1650 L911.2,1655.4 M911.2,1655.4 L916.1,1658.3 L921.5,1660.1 L927.2,1659.2 L932.8,1660.8 M914.2,1210.6 L919.4,1212.7 L923.9,1216 M914.7,1397.9 L918.3,1395.4 L922.3,1393.6 M918.5,1227.8 L919.5,1231.4 L921.8,1234.3 M918.5,1227.8 L923.9,1224.6 M918.9,1372.9 L921,1377.9 L923.1,1382.8 L922.6,1388.2 L922.3,1393.6 M918.9,1372.9 L921.8,1368.1 L922.4,1362.6 L926.5,1359 L929.4,1354.3 L933.2,1350.1 L934.9,1344.8 L939.8,1342.2 L943.9,1338.5 M919.1,1306.5 L923.6,1311.2 L927.9,1316.1 L934,1318.5 L939.6,1321.8 M919.1,1306.5 L921.9,1300.3 L922.2,1293.5 L926.6,1288.5 L930.2,1282.8 L935.4,1278.5 L939.3,1273 L940.6,1266.4 L943.5,1260.3 M921.8,1234.3 L925.6,1237.5 L929.3,1240.7 M922.3,1393.6 L926.6,1396.6 L931.6,1398.4 M923.9,1216 L928.2,1220.3 M923.9,1224.6 L928.2,1220.3 M929.3,1240.7 L934.7,1245 M930,1540 L931,1536.3 L931,1532.6 L930.3,1528.9 L928.8,1525.4 L930.2,1522 L931.2,1518.4 L931.6,1514.6 L931,1510.9 M930,1540 L935.4,1541.1 L940.3,1543.5 L945.8,1544.5 L951.2,1543.7 L954.8,1547.9 L959.5,1550.6 L963.2,1554.7 L968,1557.3 M931,1510.9 L935.2,1508.1 L938.3,1504 L942.4,1500.7 L947.5,1499.8 L952,1497.5 L956.8,1496.1 L960.6,1492.7 L964.9,1490.2 M931.6,1398.4 L931.9,1402.5 L934,1406.2 L932.6,1410 L932.5,1414.1 L932.1,1418.1 L931.2,1422 L931.9,1425.9 L932.1,1429.9 L933.2,1433.8 L935.5,1437 L937.1,1440.6 L938.8,1444.2 L940.7,1447.8 L941.7,1451.7 L944.8,1454.4 L947.3,1457.5 M931.6,1398.4 L936.7,1400 L942,1400 L947.2,1399.2 L952.5,1398.9 L957.4,1396.8 L962.8,1396.9 L967.7,1395 L972.2,1392.2 M931.7,1672.6 L931.8,1671.4 M931.7,1672.6 L932.5,1676.5 L933.8,1680.2 M931.8,1671.4 L932.5,1666.1 L932.8,1660.8 M931.8,1671.4 L935.6,1668.2 L940.3,1666.7 L945,1665.5 L949.5,1663.6 L953.5,1660.6 L956.1,1656.4 L958.3,1652 L961.3,1648.2 M933.8,1680.2 L938.4,1683.1 L942.5,1686.6 M934.7,1245 L939,1245 M939,1245 L940.1,1239.7 M939.6,1321.8 L941.9,1325.5 L943.2,1329.8 L942.9,1334.2 L943.9,1338.5 M939.6,1321.8 L943.8,1317.6 L948.6,1313.9 L954.6,1312.7 L959.4,1308.8 L964.6,1305.8 L968.7,1301.4 L974.3,1299 L978.1,1294.2 M940.1,1239.7 L941.5,1236.4 L943.3,1233.2 M940.4,1607.2 L939.6,1601.6 L940.5,1596 M940.4,1607.2 L942.8,1609.9 L944.6,1613 L945.4,1616.7 L947.7,1619.6 L950.8,1621.7 L952.6,1625 L956.1,1626.2 L959.4,1627.9 M940.5,1596 L944.4,1591.1 L950,1588.3 L951.1,1582.1 L955,1577.2 L959.8,1573.4 L963.8,1568.7 L965.7,1562.9 L968,1557.3 M940.7,1248.4 L943.2,1254.1 L943.5,1260.3 M940.7,1248.4 L941.1,1243.9 L943.5,1240.2 L947.2,1237.6 L949.2,1233.6 M942.5,1686.6 L947.2,1688.3 L952.2,1687.7 M943.3,1233.2 L948.7,1233.2 M943.5,1260.3 L946.5,1265.7 L949.4,1271.2 L953.7,1275.7 L957.3,1280.7 L963.5,1282.3 L969.3,1284.7 L973.7,1289.2 L978.5,1293.3 M943.9,1338.5 L947.9,1340.5 L951,1343.6 L955.3,1344.5 L959.1,1346.9 L963.4,1346.6 L967.8,1347.1 L972,1348 L976.3,1348.7 M947.3,1457.5 L950.9,1459.4 M948.7,1233.2 L949.2,1233.6 M949.2,1233.6 L954.1,1237.5 M950.9,1459.4 L953.2,1463 L954.6,1467 L957,1470.6 L958.2,1474.7 L959.4,1478.7 L961.3,1482.5 L964.1,1485.9 L964.9,1490.2 M950.9,1459.4 L956.9,1457 L961.9,1452.9 L968.1,1450.8 L974.7,1451.4 L979.7,1447.6 L983.8,1442.8 L988.6,1438.6 L991.8,1433.1 M952.2,1687.7 L955.8,1689.5 L959.5,1691 L963.3,1692.1 L967.2,1693.1 M954.1,1226.7 L955.2,1232.1 L954.1,1237.5 M954.1,1226.7 L956,1222.8 L959.5,1220.3 M956.3,1237.5 L957.2,1233.2 L957.3,1228.8 L958.9,1224.7 L959.5,1220.3 M956.3,1237.5 L958.2,1233.7 L961.6,1231 M959.4,1627.9 L960.3,1633 L961.6,1637.9 L960.2,1643 L961.3,1648.2 M959.4,1627.9 L962.3,1623.1 L966.6,1619.4 L971.1,1616.1 L976.2,1613.7 L981.8,1613.3 L987.2,1612.1 L992.7,1610.2 L996.9,1606.4 M961.3,1648.2 L966.5,1651.4 L970.9,1655.6 L976.8,1656.7 L982.6,1658.7 L988.7,1659.9 L994,1663 L999,1666.9 L1001.9,1672.4 M961.6,1231 L966.1,1228.5 L970.3,1225.6 M964.9,1490.2 L970.5,1492.4 L974.7,1496.6 M967.2,1693.1 L969.3,1696.3 L970,1700.1 L971.8,1703.6 L974.8,1706 M968,1557.3 L973.9,1555.3 M970.3,1225.6 L971.7,1222.2 M971.7,1222.2 L972.4,1220.3 M971.7,1222.2 L974.4,1225 L977.7,1227 L981.2,1228.6 L985.1,1229 L987,1232.4 L990.2,1234.6 L993.5,1236.6 L997.2,1237.8 M972.2,1392.2 L971.9,1386.5 L972,1380.8 L975.4,1376.2 L977.2,1370.7 L975.6,1365.3 L976.5,1359.7 L975.8,1354.2 L976.3,1348.7 M972.2,1392.2 L976.2,1395.3 L979.9,1398.7 L984.6,1400.7 L989.5,1401.9 M972.4,1213.8 L972.4,1220.3 M972.4,1213.8 L974.7,1210.7 L977.8,1208.4 M972.6,1710.3 L972.6,1710.5 M972.6,1710.3 L974.8,1706 M972.6,1710.5 L974.6,1716.7 L974.8,1723.3 M972.6,1710.5 L976.2,1707.3 L980.5,1704.8 L984.7,1702.5 L989.3,1700.8 M973.7,1737.3 L974.4,1733.7 L975.9,1730.4 L975,1726.9 L974.8,1723.3 M973.7,1737.3 L977.4,1735.9 L981.3,1736.2 M973.9,1555.3 L978.3,1550 L983.7,1545.6 M973.9,1555.3 L977.3,1561.4 L979.2,1568 L982,1574.3 L984.6,1580.7 L987.5,1587 L989.7,1593.5 L993.1,1599.6 L997.3,1605.1 M974.7,1496.6 L974.8,1502.9 L976.8,1508.9 L979.3,1514.7 L979.3,1521.1 L981.1,1527.1 L983.5,1533 L984,1539.3 L983.7,1545.6 M974.7,1496.6 L979.4,1494.8 L984.2,1493.5 L987.3,1489.3 L991.7,1486.8 L995.9,1484 L1000.7,1482.2 L1005.7,1480.8 L1010.8,1482.1 M976.3,1348.7 L978.7,1345.6 L982.3,1344.1 L985.6,1342.3 L989.1,1340.8 M977.8,1208.4 L984.3,1207.3 M978.1,1294.2 L978.5,1293.3 M978.1,1294.2 L978.5,1300.5 L980.2,1306.5 L977.7,1312.4 L978.1,1318.8 L981.1,1324.1 L983.6,1329.8 L986.8,1335.1 L989.1,1340.8 M978.5,1293.3 L982.3,1292.3 L986.1,1291.5 L989.9,1290.6 L993.4,1288.9 L997,1286.9 L999.3,1283.5 L1003.1,1282.2 L1007,1281.4 M981.3,1736.2 L986.6,1738.4 M983.7,1545.6 L988.8,1544.6 L993.9,1545.7 L999.1,1544.7 L1004.1,1546.2 M984.3,1200.9 L984.3,1207.3 M984.3,1200.9 L987.5,1203 M986.6,1738.4 L990.9,1735.1 L994.2,1730.8 M987.5,1203 L988.9,1208.9 L989.7,1214.9 M989.1,1340.8 L993.4,1341.2 L997.4,1342.9 L1001.6,1341.9 L1005.9,1342.7 M989.3,1700.8 L990,1696.9 L990.5,1692.9 L990.8,1688.9 L992.6,1685.3 L994.7,1681.8 L997.7,1679.1 L999,1675.3 L1001.9,1672.4 M989.3,1700.8 L991.7,1705.7 L995.2,1709.8 L999.3,1713.2 L1003.4,1716.8 L1005.6,1721.7 L1008.6,1726.1 L1011.1,1731 L1015.6,1734.2 M989.5,1401.9 L988.4,1405.8 L988.7,1409.8 L987.8,1413.7 L988.6,1417.6 L989.7,1421.4 L990.2,1425.4 L990.5,1429.3 L991.8,1433.1 M989.5,1401.9 L992.9,1400.3 L995.7,1397.8 L999.4,1396.8 L1002.3,1394.3 L1005.3,1392 L1009,1391 L1012.8,1391.1 L1016.4,1389.7 M989.7,1214.9 L993.9,1214.2 L997.4,1211.6 L1001.6,1212.5 L1005.8,1211.6 M991.8,1433.1 L995.4,1436.9 L998.6,1441 L1002.1,1444.9 L1005.8,1448.6 L1011.1,1449.7 L1015.3,1453.2 L1019.7,1456.2 L1025.1,1456.8 M994.2,1730.8 L998.5,1736.2 M996.2,1759 L997.5,1763.3 L997.2,1767.7 M996.2,1759 L1001.1,1756.4 L1005.9,1753.7 M996.9,1606.4 L997.3,1605.1 M996.9,1606.4 L998.5,1610.4 L999.8,1614.5 L1002,1618.3 L1005.6,1620.9 L1007.7,1624.7 L1009.2,1628.8 L1011.9,1632.2 L1015.6,1634.6 M997.2,1237.8 L999.6,1243 L999.2,1248.8 L1001.4,1254.1 L1001.2,1259.8 L1001.3,1265.5 L1003.8,1270.7 L1005.2,1276.1 L1007,1281.4 M997.2,1237.8 L1002.7,1237.5 L1007.5,1234.7 L1012.1,1231.9 L1015.6,1227.7 L1020.9,1228 L1026.2,1227.3 L1031.2,1225.5 L1036.3,1224.1 M997.2,1767.7 L1001.9,1771.7 L1005.9,1776.3 M997.3,1605.1 L1002.7,1604.6 L1007.9,1602.8 L1013.2,1601.6 L1017.8,1598.7 L1023.2,1597.1 L1027.8,1594.2 L1032.3,1591 L1035.6,1586.5 M998.5,1736.2 L1001.7,1738.4 M1001.7,1738.4 L1005.5,1738.7 L1009.3,1739.4 M1001.9,1672.4 L1003.1,1671.9 M1003.1,1671.9 L1004.4,1667.1 L1006.1,1662.5 L1008.2,1658 L1010,1653.5 L1010.4,1648.5 L1011.6,1643.7 L1012.8,1638.8 L1015.6,1634.6 M1003.1,1671.9 L1006.8,1671.8 L1010.4,1670.9 L1014,1671.5 L1017.7,1671.7 L1021.2,1672.9 L1024.6,1674.3 L1027.4,1676.8 L1030.7,1678.5 M1004.1,1546.2 L1009.2,1550.8 L1012.3,1556.9 L1019,1558.5 L1024.5,1562.7 L1025.1,1569.5 L1028.3,1575.4 L1032.8,1580.4 L1035.6,1586.5 M1004.1,1546.2 L1009.2,1545.1 L1013.6,1542.1 L1018.4,1540.2 L1022.3,1536.7 L1027.3,1534.9 L1031.5,1531.7 L1034.3,1527.2 L1038.5,1524 M1005.8,1211.6 L1009.2,1206.5 L1013.4,1202 M1005.9,1342.7 L1009.9,1344.5 L1012.5,1347.9 L1014.9,1351.3 L1018,1354.2 L1020.4,1357.8 L1023.6,1360.6 L1024.4,1364.8 L1027.2,1368.2 M1005.9,1342.7 L1007.8,1339.6 L1008.8,1336.1 L1011.6,1333.8 L1014.2,1331.3 L1015.3,1327.9 L1016.1,1324.5 L1016.8,1320.9 L1018.9,1318 L1021,1315 L1024.2,1313.3 L1026.3,1310.4 L1027.6,1307.1 L1032.1,1301.8 L1036.2,1296.1 M1005.9,1744 L1004.7,1748.8 L1005.9,1753.7 M1005.9,1744 L1007.1,1742.3 M1005.9,1776.3 L1010.6,1779.5 L1015.5,1782.4 L1019.8,1786.2 L1025.3,1788.1 M1007,1281.4 L1010.6,1282.4 L1014.4,1282.2 L1018.1,1282.9 L1021,1285.3 L1024.8,1285.8 L1027.9,1288 L1031,1289.9 L1034.3,1291.4 M1007.1,1742.3 L1009.3,1739.4 M1007.1,1742.3 L1010.5,1737.4 L1015.6,1734.2 M1010.8,1482.1 L1011.4,1478.4 L1011.6,1474.6 L1013.5,1471.3 L1015.2,1467.9 L1017.4,1464.8 L1020.2,1462.4 L1022,1459 L1025.1,1456.8 M1010.8,1482.1 L1014.3,1487.6 L1017.9,1493 L1017.6,1499.7 L1020.5,1505.8 L1025.5,1510 L1028.5,1515.9 L1032.7,1520.9 L1038.5,1524 M1013.4,1202 L1014.4,1206.5 L1017.1,1210.2 L1020.3,1213.4 L1024.1,1216 M1015.6,1634.6 L1018.6,1632.6 L1021.7,1630.6 L1025.3,1630.1 L1028.5,1628.1 L1032,1627.1 L1035.7,1627 L1039,1625.5 L1042.4,1624.2 M1015.6,1734.2 L1021.4,1735.7 L1027.3,1736.7 L1033.3,1735.5 L1039.3,1735.8 M1016.4,1389.7 L1020.2,1384.9 L1023.5,1379.8 L1025.9,1374.2 L1027.2,1368.2 M1016.4,1389.7 L1019.4,1392.7 L1022.9,1395.1 L1025.9,1398.1 L1028.9,1401.1 L1031.8,1404.2 L1033.9,1408 L1036,1411.7 L1039.3,1414.5 M1024.1,1216 L1029.6,1218.2 L1033.8,1222.4 M1025.1,1456.8 L1026.9,1456.3 M1025.3,1788.1 L1031.7,1787.1 M1026.9,1456.3 L1030.5,1452 L1033.3,1447.1 L1036,1442.1 L1036.6,1436.4 L1036.9,1430.9 L1036.9,1425.3 L1036.7,1419.6 L1039.3,1414.5 M1026.9,1456.3 L1030,1458.2 L1032.7,1460.7 L1036.4,1460.6 L1039.8,1462.1 L1043.3,1461.5 L1046.9,1460.8 L1050.5,1461.5 L1053.9,1462.7 M1027.2,1368.2 L1032.4,1368.7 L1037.3,1367.1 L1042.1,1365.5 L1046.8,1363.5 M1030.7,1678.5 L1034.1,1682.4 L1035.7,1687.4 L1036.7,1692.4 L1037.2,1697.5 L1040.5,1701.7 L1045.4,1703.9 L1046.9,1708.9 L1049.7,1713.3 M1030.7,1678.5 L1034.4,1675 L1038.3,1671.8 L1042.6,1668.6 L1047.8,1667.9 L1052,1665.1 L1056.3,1662.5 L1060.4,1659.4 L1063.7,1655.6 M1031.7,1787.1 L1036.3,1789.2 L1041.4,1789.2 M1033.8,1222.4 L1036.3,1224.1 M1034.3,1291.4 L1036.2,1296.1 M1034.3,1291.4 L1038.4,1289.3 L1041.6,1286.1 L1045.1,1283.1 L1047.1,1279 L1048.3,1274.6 L1050,1270.5 L1051.9,1266.4 L1054.5,1262.7 L1058,1259.6 L1059.6,1255.2 L1060.1,1250.7 L1061.4,1246.3 L1064.8,1243.2 L1066.4,1238.8 L1069,1235.1 L1073.1,1232.9 M1035.6,1586.5 L1039.7,1586 L1043.5,1587.4 L1047.4,1588.4 L1050.8,1590.5 M1036.2,1296.1 L1039.5,1298.3 L1042.3,1301.1 L1045.6,1303.3 L1048.6,1305.9 L1052.4,1307.3 L1055.7,1309.7 L1057.4,1313.4 L1060.6,1316.1 M1036.3,1224.1 L1040.3,1226.7 M1038.5,1524 L1039.2,1524 M1039.2,1524 L1039.6,1527.6 L1038.5,1531.1 L1039,1534.6 L1039.9,1538.1 L1041.3,1541.3 L1043.2,1544.3 L1044.7,1547.5 L1047.1,1550.2 L1049.7,1552.5 L1052.3,1554.9 L1054.1,1558 L1055.1,1561.4 L1060.2,1566 L1065.3,1570.6 M1039.2,1524 L1043.4,1520.5 L1048.5,1518.7 L1053.9,1517.5 L1058.1,1513.8 L1062.5,1510.8 L1067.3,1508.3 L1072.3,1506.1 L1075.9,1501.9 M1039.3,1414.5 L1044,1412.1 L1049.2,1411.4 L1054.4,1411.8 L1059.5,1412.5 L1064.6,1412.1 L1069.3,1409.9 L1073.8,1407.2 L1079,1406.8 M1039.3,1735.8 L1040.1,1729.5 L1043.2,1723.9 L1046.2,1718.5 L1049.7,1713.3 M1039.3,1735.8 L1043,1741.6 L1044.1,1748.3 L1047.1,1754.3 L1050.6,1760.1 M1040.3,1226.7 L1045.7,1224.8 L1051,1222.4 M1040.3,1782.8 L1041.4,1789.2 M1040.3,1782.8 L1042.9,1778.6 L1044.7,1774.1 M1042.4,1624.2 L1044.6,1620.6 L1045.8,1616.5 L1048.3,1613 L1048.7,1608.7 L1048,1604.4 L1048.2,1600.1 L1049,1595.8 L1051.3,1592.1 M1042.4,1624.2 L1045.8,1627.8 L1050.4,1629.8 L1053.4,1633.7 L1056.1,1637.8 L1057.8,1642.4 L1059.2,1647 L1061.1,1651.5 L1063.7,1655.6 M1044.7,1774.1 L1048.5,1778 M1046.8,1363.5 L1048.2,1359.5 L1051,1356.5 L1054,1353.5 L1057.8,1351.8 L1060.8,1349.1 L1063.3,1345.9 L1066.1,1342.8 L1067.2,1338.8 M1046.8,1363.5 L1052.2,1367.9 L1054.9,1374.4 L1058.5,1380.2 L1061.4,1386.3 L1064.3,1392.5 L1068.9,1397.7 L1075,1401.1 L1079,1406.8 M1048.5,1778 L1046.8,1773.5 L1047.3,1768.8 L1049.4,1764.6 L1050.6,1760.1 M1048.5,1778 L1051.1,1780.6 M1049.7,1713.3 L1055,1713.1 L1059.5,1710.4 L1064.5,1709.3 L1069.3,1707.6 L1074.3,1706.2 L1079.4,1705.9 L1084.4,1704.6 L1089.6,1705.3 M1050.6,1760.1 L1056.7,1757.6 L1062.6,1754.8 L1069.2,1755.2 L1075.8,1754.5 L1080.9,1750.5 L1086.9,1747.9 L1093.1,1745.9 L1098.8,1742.9 M1050.8,1590.5 L1051.3,1592.1 M1050.8,1590.5 L1055.1,1586.1 L1058.8,1581.1 L1063.2,1576.5 L1065.3,1570.6 M1051,1222.4 L1057.5,1223.5 M1051.1,1780.6 L1056.6,1781.3 L1061.9,1782.8 M1051.3,1592.1 L1055,1597.4 L1060.5,1600.8 L1064.7,1605.7 L1068.1,1611.1 L1074.4,1612.2 L1080.6,1613.7 L1086.5,1616.3 L1091.9,1619.7 M1053.9,1462.7 L1056.9,1467.7 L1061.4,1471.2 L1063.5,1476.5 L1066.5,1481.4 L1068,1487 L1071.8,1491.4 L1073,1497 L1075.9,1501.9 M1053.9,1462.7 L1057.6,1459.2 L1062.2,1457.2 L1066.5,1454.5 L1071,1452.3 L1074.2,1448.4 L1076.1,1443.7 L1078.6,1439.2 L1082.6,1436 M1057.5,1223.5 L1058.6,1228.9 M1058.6,1228.9 L1062.6,1226.3 L1067.2,1225.6 M1060.6,1316.1 L1061.9,1322.1 L1065.6,1326.9 L1067,1332.8 L1067.2,1338.8 M1060.6,1316.1 L1064.3,1312.6 L1069,1310.5 L1072.9,1307.3 L1077.2,1304.8 L1081.9,1302.2 L1085.1,1298 L1090.4,1297.9 L1095.1,1295.5 M1061.9,1782.8 L1065.1,1779 L1066.2,1774.1 M1063.7,1655.6 L1065.5,1655.7 M1065.3,1570.6 L1069.2,1568.6 L1072.6,1565.8 L1076.9,1564.9 L1081.3,1564.9 M1065.5,1655.7 L1068.4,1658.6 L1071.8,1660.9 L1076,1661.5 L1079.5,1663.8 L1082.3,1666.7 L1084.9,1669.8 L1087.7,1672.7 L1090.3,1675.8 M1065.5,1655.7 L1066.8,1650.1 L1070.1,1645.4 L1074.8,1641.9 L1077.1,1636.6 L1079,1631 L1083.1,1626.9 L1088,1623.9 L1091.9,1619.7 M1066.2,1774.1 L1067.7,1769.3 L1068.4,1764.4 M1067.2,1222.4 L1067.2,1225.6 M1067.2,1222.4 L1068.3,1228.9 M1067.2,1222.4 L1068,1218.4 L1069.9,1214.8 L1069.8,1210.7 L1071.2,1206.8 M1067.2,1338.8 L1071.9,1340.2 L1075.9,1343.1 L1080.3,1345.2 L1085.2,1345.8 L1089.7,1347.8 L1094.6,1348 L1098.8,1350.6 L1103.7,1351.4 M1068.3,1228.9 L1073.1,1232.9 M1068.3,1228.9 L1071.4,1231.8 L1074.8,1234.3 M1068.4,1764.4 L1074.8,1762.3 M1071.2,1206.8 L1071.6,1205.2 M1071.2,1206.8 L1074.8,1207.5 L1077.9,1209.5 L1081.4,1210.6 L1084.4,1212.8 L1088.1,1212.6 L1091.9,1212.2 L1095.3,1213.6 L1098.7,1215.2 M1071.6,1205.2 L1073.7,1201 L1077.4,1198.2 L1081.6,1196.6 L1085.6,1194.4 M1073.1,1232.9 L1074.8,1234.3 M1074.8,1234.3 L1080.2,1235.3 M1074.8,1265.5 L1076.1,1261.3 L1077,1257 M1074.8,1265.5 L1077.4,1268.8 L1080.2,1272 M1074.8,1762.3 L1078.6,1763.6 L1081.3,1766.6 M1075.9,1501.9 L1082.9,1501.6 L1089.8,1502.9 L1093.1,1504.4 L1095.5,1507.2 L1099.1,1507.8 L1102.6,1508.3 M1077,1257 L1079.3,1251.3 L1079.9,1245.2 M1077,1257 L1078.7,1250.5 L1080.2,1244 M1079,1406.8 L1081.8,1407.9 M1079.9,1245.2 L1080.2,1244 M1079.9,1245.2 L1083.7,1245.4 L1087.4,1246.5 L1091,1248 L1094.4,1249.6 L1097.8,1251.4 L1101.3,1253 L1103.7,1256.1 L1107,1258.1 M1080.2,1235.3 L1079.8,1239.7 L1080.2,1244 M1080.2,1272 L1082.9,1274.7 L1085.1,1277.7 L1085,1281.5 L1086.6,1285 M1081.3,1564.9 L1085,1563.1 L1087.4,1559.8 L1089.5,1556.3 L1090.5,1552.5 L1091.8,1548.8 L1093.3,1545.2 L1094.5,1541.4 L1094.2,1537.4 L1095.2,1533.7 L1097.2,1530.4 L1098.1,1526.7 L1099.5,1523.2 L1101.9,1520 L1102.5,1516 L1102.5,1512.2 L1102.6,1508.3 M1081.3,1564.9 L1084.6,1568.3 L1089,1570.2 L1093.5,1571.1 L1097.8,1572.9 L1102,1574.9 L1106,1577.2 L1109.8,1579.7 L1113.7,1582.2 M1081.3,1766.6 L1086.3,1768 L1091,1770.3 L1095.5,1773.1 L1100.7,1774.1 M1081.8,1407.9 L1081.4,1411.5 L1081.3,1415.1 L1081,1418.7 L1079.4,1422 L1080.7,1425.5 L1080.4,1429.1 L1082.3,1432.3 L1082.6,1436 M1081.8,1407.9 L1085.7,1405.7 L1089.5,1403.2 M1082.6,1436 L1085.8,1437.9 L1088.6,1440.3 L1091,1443.2 L1092.9,1446.3 L1096.6,1446.8 L1100.2,1447.9 L1103.2,1450.1 L1106.1,1452.5 M1085.6,1194.4 L1090.3,1191 L1093.1,1185.8 M1086.6,1285 L1088.6,1288.8 L1091.9,1291.5 M1086.6,1285 L1089.5,1291.3 L1095.1,1295.5 M1089.5,1403.2 L1094.1,1399.3 L1096.3,1393.6 L1097.1,1387.7 L1100.5,1382.7 L1103.5,1377.6 L1104.6,1371.8 L1108.7,1367.4 L1110.5,1361.7 M1089.5,1403.2 L1092.2,1406 L1095.9,1407.5 L1098.6,1410.2 L1100.7,1413.4 L1104.5,1413.9 L1107.9,1415.7 L1111.9,1415.9 L1115.2,1417.9 L1119,1417.9 L1122.6,1419.2 L1126.3,1417.8 L1130.1,1418.3 L1133.7,1419.6 L1137.5,1419.2 L1140.8,1421.2 L1144.6,1421.6 M1089.6,1705.3 L1091,1702.8 M1089.6,1705.3 L1090.5,1710 L1089.2,1714.7 L1090.4,1719.3 L1092.7,1723.4 L1092.8,1728.2 L1094.7,1732.5 L1098,1735.9 L1099.9,1740.3 M1090.3,1675.8 L1090.8,1682.6 L1091.8,1689.3 L1089.7,1695.9 L1091,1702.8 M1090.3,1675.8 L1093.4,1673.9 L1095.6,1670.8 L1098.7,1668.8 L1100.7,1665.7 L1104.4,1665.6 L1107.9,1664.3 L1110.7,1661.8 L1114.3,1660.6 M1091,1702.8 L1095,1702.3 L1099,1701.4 L1103,1702.4 L1107.1,1702.1 L1110.1,1699.1 L1113.2,1696.4 L1117,1694.5 L1121.3,1694.3 L1124.5,1696.9 L1128.5,1697.9 L1132.6,1698.6 L1135.9,1701.1 L1139.7,1699.3 L1144,1699.1 L1148.1,1699.8 L1152,1701.2 M1091.9,1291.5 L1095.3,1295.7 M1091.9,1291.5 L1095.5,1288.4 L1098,1284.3 L1101.1,1280.8 L1103.3,1276.5 L1103.8,1271.9 L1104.6,1267.2 L1106.2,1262.8 L1107,1258.1 M1091.9,1619.7 L1098.8,1619.3 L1105.6,1617.8 M1092,1136.2 L1092.2,1140.1 L1092.4,1144 L1093,1148 L1095.3,1151.3 M1092,1136.2 L1098.5,1136.2 M1092,1823.7 L1092.4,1819.9 L1092.8,1816.2 L1092.5,1812.4 L1093.1,1808.6 M1092,1823.7 L1095.6,1822 L1099.5,1821.5 L1103.3,1822.2 L1107.2,1822.6 M1093.1,1175 L1093.1,1177.9 M1093.1,1175 L1091.7,1169 L1093,1163 L1094.4,1157.2 L1095.3,1151.3 M1093.1,1177.9 L1092.9,1181.8 L1093.1,1185.8 M1093.1,1177.9 L1097.6,1176.8 L1101.8,1175 L1106.5,1174.8 L1111,1176 L1115.3,1174.2 L1120.1,1174.4 L1124.6,1175.4 L1128.9,1177.1 M1093.1,1797.8 L1094.8,1792.6 L1094.2,1787.1 M1093.1,1797.8 L1096.5,1800.3 L1100.7,1801.1 M1093.1,1808.6 L1097.4,1805.3 L1100.7,1801.1 M1094.2,1787.1 L1098.3,1785.5 L1102.4,1783.8 L1105.7,1780.9 L1109.3,1778.4 M1095.1,1295.5 L1095.3,1295.7 M1095.3,1295.7 L1101.7,1294.6 M1098.5,1136.2 L1102.8,1141.6 M1098.7,1215.2 L1101.6,1219.8 L1102.9,1225 L1103.7,1230.3 L1102.9,1235.7 L1103.2,1241.2 L1105.8,1246 L1109,1250.5 L1113.4,1253.7 M1098.7,1215.2 L1102.7,1215 L1106.2,1212.9 L1109.3,1210.5 L1112.9,1208.9 L1115.3,1205.6 L1118.6,1203.3 L1122.5,1202.3 L1126.2,1200.9 M1098.8,1742.9 L1099.9,1740.3 M1098.8,1742.9 L1098.2,1747.3 L1098.2,1751.8 L1099.8,1755.9 L1100.5,1760.4 L1102.2,1764.5 L1103.3,1768.8 L1106.1,1772.2 L1108.6,1775.9 M1099.9,1740.3 L1105.1,1741 L1110.4,1740.3 L1115.7,1739.9 L1120.7,1738.5 L1126,1740.1 L1131.5,1739.1 L1136,1736.1 L1141.3,1734.7 M1100.7,1774.1 L1107.2,1776.3 M1101.7,1114.7 L1103.9,1109.3 M1101.7,1114.7 L1104.2,1119.8 L1105,1125.4 M1101.7,1294.6 L1106.9,1292.6 L1111.4,1289.2 M1102.6,1508.3 L1104.9,1507.7 M1102.8,1141.6 L1106.4,1140.1 L1110.3,1140.5 M1103.7,1351.4 L1106.6,1356.9 L1110.5,1361.7 M1103.7,1351.4 L1107.2,1346.5 L1109.6,1340.9 L1114.4,1336.8 L1116.5,1331 L1117.5,1325 L1119.1,1319.2 L1119.5,1313.1 L1122,1307.5 M1103.9,1109.3 L1106.1,1104.5 M1104.9,1507.7 L1105.5,1504.1 L1106.8,1500.8 L1106.8,1497.1 L1106.7,1493.5 L1106.8,1489.9 L1108,1486.4 L1109.5,1483 L1111.8,1480.2 L1112.7,1476.7 L1112.2,1473 L1112.2,1469.3 L1110.4,1466.1 L1110.8,1462.4 L1109.4,1458.9 L1107.2,1456 L1106.1,1452.5 M1104.9,1507.7 L1109.6,1508 L1113.8,1510.2 L1118.5,1509.8 L1122.9,1511.3 M1105,1125.4 L1106.9,1129.5 L1107.1,1134 M1105.6,1617.8 L1107,1611.4 L1109.5,1605.4 L1113,1599.8 L1117.8,1595.3 M1105.6,1617.8 L1109.1,1623.2 L1114.4,1626.9 L1117.5,1632.5 L1119,1638.7 M1106.1,1104.5 L1108.4,1099.5 M1106.1,1104.5 L1112,1106 L1118,1106.2 L1123.4,1109.2 L1129.4,1110 L1135.6,1111.1 L1141.7,1109.7 L1147.5,1107.6 L1152.8,1104.5 M1106.1,1452.5 L1111.4,1449.7 L1114.8,1444.6 L1120.3,1442.6 L1125.4,1439.8 L1130.5,1436.5 L1136.3,1434.8 L1142.3,1434.2 L1148.2,1435.7 M1107,1258.1 L1110.4,1256.2 L1113.4,1253.7 M1107.1,1134 L1107.6,1135.1 M1107.2,1776.3 L1108.6,1775.9 M1107.2,1822.6 L1110.6,1824.1 L1114.2,1823.9 L1116.9,1826.4 L1120.1,1828 M1107.6,1135.1 L1110.3,1140.5 M1107.6,1135.1 L1112.7,1137.3 L1117.3,1140.4 L1122.9,1141.5 L1127.3,1145.2 L1130.9,1149.5 L1133.4,1154.5 L1137.7,1158.1 L1141.1,1162.5 M1108.4,1099.5 L1112.1,1098.6 L1115.8,1097.8 L1119.2,1096 L1121.9,1093.3 M1108.6,1775.9 L1111.5,1775.2 M1109.3,1778.4 L1111.5,1775.2 M1110.5,1361.7 L1114.9,1363.1 L1118.8,1365.4 L1123.4,1365 L1128,1365 L1131.7,1367.9 L1136.3,1368.8 L1140.9,1368.5 L1145.5,1368.1 M1111.4,1289.2 L1117.9,1290.3 M1111.5,1775.2 L1113.1,1779.9 L1112.5,1784.9 M1112.5,1784.9 L1115,1788.1 M1112.5,1784.9 L1115.8,1789.2 M1113.4,1253.7 L1119.3,1253.9 L1125,1252.2 M1113.7,1582.2 L1115.7,1588.8 L1117.8,1595.3 M1113.7,1582.2 L1120,1579.2 L1124.8,1574.2 L1128.2,1572.8 L1130.5,1570.1 L1132.7,1567.2 L1133.9,1563.9 L1133.9,1560.3 L1133.6,1556.8 L1135.8,1553.9 L1136.5,1550.3 L1140.1,1544.5 L1142.8,1538.1 M1114.3,1660.6 L1117.1,1655.6 L1118.8,1650.1 L1118.3,1644.4 L1119,1638.7 M1114.3,1660.6 L1120.3,1663.1 L1126.4,1665.3 L1133,1666.2 L1138.4,1670.1 L1143.2,1674.6 L1147.5,1679.4 L1152.4,1683.7 L1156.1,1689.1 M1115,1788.1 L1115.8,1789.2 M1115,1788.1 L1117.7,1793.5 L1117.4,1799.5 L1120.4,1804.5 L1122.8,1809.8 L1122.9,1815.6 L1122.4,1821.5 L1123.3,1827.3 L1125.9,1832.6 M1115.8,1789.2 L1119.1,1792.1 L1122.8,1794.4 L1125.4,1798 L1126.6,1802.2 M1117.8,1595.3 L1123.2,1593.6 L1128.7,1592.1 L1134.1,1594.4 L1139.8,1594 L1144.9,1596.3 L1150.3,1597.7 L1155.2,1600.4 L1160.9,1600.7 M1117.9,1290.3 L1117.7,1295.2 L1119,1300 M1119,1300 L1121.4,1303.4 L1122,1307.5 M1119,1300 L1120.8,1305.3 L1123.1,1310.4 M1119,1638.7 L1123.7,1637.3 L1128.5,1636.4 L1133.4,1635.3 L1137.6,1632.8 L1142.7,1632.6 L1147.7,1632.4 L1152.6,1633.9 L1156.8,1636.7 M1120.1,1828 L1122.6,1830.8 L1125.9,1832.6 M1121.3,1079.8 L1121.5,1086.6 L1121.9,1093.3 M1121.3,1079.8 L1126.8,1077.3 M1122,1307.5 L1123.3,1310.8 M1122.9,1511.3 L1125.9,1514.5 L1129.7,1516.6 L1132.9,1519.5 L1136.3,1522.2 L1137.4,1526.3 L1139.3,1530.2 L1141.1,1534.2 L1142.8,1538.1 M1122.9,1511.3 L1125.2,1508.1 L1128.6,1506.2 L1131.6,1503.9 L1133.7,1500.6 L1136,1497.6 L1138.7,1494.9 L1141,1491.8 L1144.6,1490.1 M1123.1,1310.4 L1123.3,1310.8 M1123.1,1310.4 L1127.7,1307 L1133.2,1305.8 L1138.9,1305.9 L1144,1303.3 M1123.3,1310.8 L1126.2,1313.1 L1129.7,1314 M1125,1252.2 L1127,1247.9 L1130,1244.4 L1132.5,1240.4 L1135.6,1236.9 L1137.4,1232.5 L1138.1,1227.8 L1137,1223.1 L1137.8,1218.4 M1125,1252.2 L1130.9,1254.4 L1137.2,1255.5 L1142.8,1258.8 L1146.4,1264.2 M1125.9,1832.6 L1130.9,1836.6 M1126.2,1200.9 L1126.2,1194.7 L1124.9,1188.7 L1126.9,1182.9 L1128.9,1177.1 M1126.2,1200.9 L1130.6,1204.1 L1132.9,1209 L1135.9,1213.4 L1137.8,1218.4 M1126.6,1802.2 L1130.9,1797.8 M1126.8,1077.3 L1131.5,1074 L1135.5,1070 M1128.9,1177.1 L1132.5,1173.8 L1136.5,1171 L1138.5,1166.6 L1141.1,1162.5 M1129.7,1314 L1131.9,1320.5 M1130.9,1797.8 L1135,1795.6 L1139.5,1794.6 M1130.9,1836.6 L1136.2,1835.6 L1141.6,1835.5 M1131.9,1320.5 L1134.9,1324 L1138.4,1327 M1133,1049 L1138.5,1052.7 M1133,1049 L1136.2,1045.1 L1140.4,1042.2 M1135.5,1070 L1136.3,1066.4 L1136.1,1062.7 L1137.6,1059.3 L1138,1055.6 M1137.8,1218.4 L1143.1,1218.7 L1148.3,1217.9 L1153.4,1216.3 L1158.8,1216.9 L1163.5,1219.8 L1169,1220.7 L1174.3,1219.9 L1179.7,1219 M1138,1055.6 L1138.5,1052.7 M1138,1055.6 L1144,1058.3 L1150.5,1059.6 L1156.6,1062.4 L1161.2,1067.2 M1138.4,1327 L1139.5,1331.8 L1140.5,1336.6 M1139.4,1349.6 L1140.2,1343.1 L1140.5,1336.6 M1139.4,1349.6 L1140.7,1353.1 L1141.2,1356.8 M1139.4,1349.6 L1142.4,1355.7 L1142.7,1362.5 M1139.5,1794.6 L1145,1794.8 L1150.3,1793.5 M1140.4,1042.2 L1146,1044 M1141.1,1162.5 L1145.9,1161.9 L1150.3,1160.1 M1141.2,1356.8 L1142.7,1362.5 M1141.2,1356.8 L1146,1357.5 L1150.8,1356.5 L1155.4,1354.9 L1159.4,1352.1 M1141.3,1734.7 L1141.3,1730.2 L1143,1726.1 L1142.5,1721.8 L1143,1717.4 L1145.5,1713.5 L1149.5,1711.2 L1150,1706.7 L1152.3,1702.7 M1141.3,1734.7 L1145,1738.1 L1147.5,1742.4 L1150.4,1746.3 L1152.3,1750.9 L1152.5,1755.8 L1154,1760.6 L1156.1,1765.1 L1156.7,1770 M1141.6,1029.3 L1143.8,1032.5 L1145.2,1036.2 L1146.3,1040 L1146,1044 M1141.6,1029.3 L1145.2,1025.7 L1149.6,1023.2 M1141.6,1835.5 L1147.1,1832.5 L1152.4,1829.1 M1142.7,1362.5 L1145.5,1368.1 M1142.7,1362.5 L1145.1,1366.7 L1147,1371.1 M1142.8,1538.1 L1147.6,1541.2 L1152.3,1544.5 L1158.1,1544.3 L1163.6,1546.4 M1144,1303.3 L1146.1,1300.4 L1148.6,1297.9 L1149.6,1294.5 L1150.4,1291.1 L1151,1284.1 L1153.7,1277.7 M1144,1303.3 L1146.9,1305.4 L1149.9,1307.2 L1152.3,1309.8 L1155.4,1311.6 L1157.5,1314.5 L1160,1317 L1162,1320 L1163.8,1323 M1144.6,1421.6 L1144.6,1425.3 L1146,1428.8 L1146.3,1432.5 L1148.2,1435.7 M1144.6,1421.6 L1147.1,1417.1 L1148.5,1412.1 L1150.5,1407.3 L1151.1,1402.2 L1153.6,1397.7 L1155.4,1392.8 L1155.8,1387.6 L1156.6,1382.5 M1144.6,1490.1 L1146.4,1483.8 L1149.3,1478 L1152.2,1472.2 L1155.3,1466.5 L1153.5,1460 L1154.8,1453.5 L1152.8,1447.2 L1153.2,1440.6 M1144.6,1490.1 L1148.6,1490 L1152.4,1488.9 L1155.8,1491 L1159.9,1491.3 L1163.5,1489.7 L1167.5,1489.4 L1171.3,1490.6 L1175.2,1491.4 L1178.8,1493.1 L1182.7,1493.6 L1186.6,1492.8 L1190.5,1492.2 L1193.9,1494.3 L1197.9,1494.7 L1201.7,1493.4 L1205.7,1493.8 M1145.5,1368.1 L1147,1371.1 M1146.4,1264.2 L1148.2,1267.7 L1148.9,1271.6 L1151,1274.9 L1153.7,1277.7 M1146.4,1264.2 L1148.5,1261.2 L1151.5,1259.2 L1155.2,1258.9 L1158.4,1257 L1160.2,1253.9 L1163.1,1251.8 L1164.9,1248.7 L1167.7,1246.5 L1169.5,1243.5 L1171.4,1240.4 L1173.9,1237.9 L1176.7,1235.7 L1177.4,1232.2 L1179,1229 L1179.4,1225.5 L1181.3,1222.4 M1147,1371.1 L1148.8,1375.1 L1151.7,1378.3 M1148.2,1435.7 L1150.4,1438.5 L1153.2,1440.6 M1148.4,1009.6 L1150.2,1013.3 M1148.4,1009.6 L1152.1,1010.6 L1155.2,1012.7 M1149.6,1023.2 L1150.1,1018.3 L1150.2,1013.3 M1150.3,1160.1 L1152.2,1155.6 L1155.8,1152.4 M1150.3,1160.1 L1154.6,1164.8 L1156.6,1170.8 L1159.4,1176.5 L1164.5,1180.3 L1168,1185.6 L1171.3,1191.1 L1176.4,1195.1 L1182.4,1197.3 M1150.3,1793.5 L1152.1,1793.5 M1150.3,1793.5 L1156.8,1794.7 L1163.2,1793.5 M1151.7,1378.3 L1156.6,1382.5 M1151.7,1378.3 L1155.2,1382.9 L1160.3,1385.7 M1152,1701.2 L1152.3,1702.7 M1152,1701.2 L1154.6,1695.3 L1156.1,1689.1 M1152.1,1793.5 L1153.1,1787.6 L1154.3,1781.7 L1155.7,1775.9 L1156.7,1770 M1152.1,1793.5 L1157.7,1793.9 L1163.2,1793.5 M1152.3,1702.7 L1155.9,1703.7 L1159.3,1705.5 L1162.5,1707.7 L1166.3,1708.3 L1169.5,1710.4 L1173.2,1711.4 L1176.6,1712.9 L1180.2,1714.2 L1182.3,1717.4 L1185.4,1719.7 L1188.6,1721.9 L1190.7,1725.1 L1193.2,1728 L1194.5,1731.7 L1196.1,1735.2 L1199.1,1737.7 M1152.4,1829.1 L1154.9,1831.5 M1152.4,1850.6 L1153.1,1845 L1155.6,1839.9 M1152.4,1850.6 L1156.7,1853.9 M1152.8,1104.5 L1154.6,1110.5 L1153.5,1116.6 L1151.2,1122.4 L1151.8,1128.6 L1152.8,1134.6 L1153.9,1140.5 L1155.1,1146.4 L1155.8,1152.4 M1152.8,1104.5 L1155.5,1100.6 L1158.5,1097 L1161.7,1093.6 L1164.4,1089.7 M1153.2,1440.6 L1158.4,1439.7 L1163.6,1440 L1168.9,1440.5 L1173.9,1438.8 L1178.4,1441.6 L1183.6,1442.7 L1188.4,1445.2 L1193.7,1445.4 M1153.7,1277.7 L1156.7,1275.7 L1160.2,1274.8 L1163.7,1273.8 L1167.2,1274.5 L1174.2,1275.6 L1180.7,1278.1 M1154.9,1831.5 L1157.9,1834.5 M1154.9,1831.5 L1155.4,1826.2 L1157.8,1821.4 L1158.4,1816.1 L1157.7,1810.8 L1161.4,1807 L1163.8,1802.3 L1166.6,1797.9 L1169.1,1793.3 M1155.2,1012.7 L1160.1,1010.2 M1155.6,1839.9 L1161,1836.6 M1155.8,1152.4 L1161.5,1149.7 L1167.7,1148.6 L1173.3,1145.5 L1177.6,1140.8 L1183.8,1140.5 L1190,1140.1 L1196.1,1139.2 L1202.2,1138.4 M1156.1,1689.1 L1159.6,1685.8 M1156.6,1382.5 L1160.3,1385.7 M1156.7,1770 L1159.6,1768 L1162.5,1766.1 L1165,1763.5 L1166.8,1760.5 L1170.4,1761.1 L1173.9,1760.1 L1177.1,1758.5 L1180.3,1757 L1183.2,1750.7 L1187.3,1745 L1192.8,1740.7 L1199.1,1737.7 M1156.7,1853.9 L1158.9,1858.2 L1161,1862.5 M1156.8,1636.7 L1157.4,1643.1 L1155.8,1649.3 L1156.9,1655.7 L1160.3,1661.1 L1161.4,1667.3 L1159.9,1673.5 L1159.8,1679.6 L1159.6,1685.8 M1156.8,1636.7 L1160.3,1632 L1165.2,1628.9 L1167.7,1623.6 L1171.4,1619.1 M1157.9,1834.5 L1158.9,1835.5 M1157.9,1834.5 L1162.7,1835.9 L1167.8,1836.4 L1172.7,1837.9 L1176.5,1841.3 L1181.4,1842.9 L1186.5,1842.4 L1190.7,1845.3 L1195.8,1846.2 M1158.9,1835.5 L1161,1836.6 M1159.4,1352.1 L1159.9,1348.3 L1161.6,1344.9 L1160.6,1341.2 L1160.8,1337.4 L1161.3,1333.7 L1163.2,1330.4 L1163.4,1326.7 L1163.8,1323 M1159.4,1352.1 L1163.6,1354.7 L1166.2,1358.9 L1170.6,1360.7 L1174.7,1363.3 M1159.6,1685.8 L1163.4,1683.1 L1167.5,1681 L1172.1,1681.3 L1176.7,1680.7 L1181.2,1681.3 L1185.8,1681.2 L1190.4,1680.7 L1194.5,1678.6 M1160.1,1010.2 L1163.7,1011.6 L1167.5,1012.7 M1160.3,1385.7 L1160.2,1389.3 L1159.9,1392.8 L1161.2,1396.1 L1162.8,1399.3 M1160.9,1600.7 L1163.2,1596.5 L1166.4,1592.8 L1167.9,1588.2 L1170.1,1584 L1170.5,1579.1 L1171.8,1574.5 L1170.7,1569.7 L1170.3,1564.9 M1160.9,1600.7 L1163.8,1605.5 L1168.5,1608.6 L1168.8,1614.2 L1171.4,1619.1 M1161,1862.5 L1165.5,1863.4 L1169.9,1862 L1173.8,1864.2 L1178.3,1864.7 M1161.2,1067.2 L1161.3,1073.1 L1163.9,1078.3 L1162.9,1084.1 L1164.4,1089.7 M1161.2,1067.2 L1165.9,1063.5 L1171.8,1062.5 L1176.7,1059.3 L1181,1055.4 L1184.4,1050.4 L1189.7,1047.5 L1191.5,1041.8 L1195.1,1037.1 M1162.8,1399.3 L1163.7,1399.8 M1162.8,1399.3 L1167.9,1403.2 L1173.9,1405.4 M1163.2,1793.5 L1169.1,1793.3 M1163.2,1793.5 L1168.6,1792 L1174,1793.1 M1163.6,1546.4 L1166.3,1550.6 L1168.3,1555.2 L1170.3,1559.8 L1170.3,1564.9 M1163.6,1546.4 L1168,1542.4 L1170.9,1537.2 L1175,1532.9 L1179.5,1529.1 L1185.4,1527.6 L1190,1523.7 L1196,1523.2 L1201.4,1520.6 M1163.7,1399.8 L1169.4,1401.6 L1173.9,1405.4 M1163.7,1399.8 L1163.1,1394.9 L1164.9,1390.3 L1166.8,1385.8 L1167.7,1381.1 L1169,1376.5 L1171,1372.1 L1173.9,1368.2 L1174.7,1363.3 M1163.8,1323 L1170.7,1322.4 L1177.6,1322.6 L1180.7,1320.8 L1183.2,1318.3 L1186.4,1316.8 L1189.9,1316.3 M1164.4,1089.7 L1171.2,1090.9 L1177.1,1094.5 L1182.3,1098.8 L1188,1102.6 L1191.6,1102.7 L1195,1101.4 L1198.3,1102.5 L1201.8,1103 L1207.5,1107 L1214,1109.5 M1167.5,1012.7 L1171.6,1011.6 L1174.9,1009 M1169.1,1793.3 L1174,1793.1 M1170.3,1564.9 L1176.4,1567.8 L1182.3,1570.8 L1188.7,1572.9 L1194.9,1575.5 L1201.5,1577.7 L1208.3,1576.8 L1215.1,1577.3 L1221.3,1580.3 M1171.4,1619.1 L1175.5,1619.6 L1179.6,1620.6 L1183.7,1621.2 L1187.8,1622.1 M1173.9,1405.4 L1177.9,1405.4 L1181.6,1407.1 M1173.9,1405.4 L1179.6,1405.8 L1185,1407.9 M1174,1793.1 L1178.1,1794.9 L1182.6,1794.6 M1174.7,1363.3 L1181.1,1363 M1174.9,993.6 L1174.5,998 L1176.1,1002.2 M1174.9,993.6 L1176.7,993 M1174.9,1009 L1177.3,1012 M1176.1,1002.2 L1177.6,1007 L1177.3,1012 M1176.7,993 L1177.8,996.9 L1177.3,1001 M1177.3,1001 L1183.5,1001 M1178.3,1864.7 L1182.4,1870.2 L1186.9,1875.4 M1179.7,1219 L1181.3,1222.4 M1179.7,1219 L1181.5,1213.7 L1183.6,1208.5 L1183.3,1202.8 L1182.4,1197.3 M1180.7,1278.1 L1183.9,1273.2 L1186.8,1268.2 L1190.3,1263.5 L1194.2,1259.2 M1180.7,1278.1 L1184.5,1282.9 L1186.2,1288.7 L1189.9,1293.4 L1194.5,1297.3 M1181.1,1363 L1187.3,1365.7 L1192.2,1370.2 L1196.4,1375.4 L1202,1379.1 M1181.1,1363 L1183.5,1358.6 L1187.5,1355.5 L1188.7,1350.6 L1191.9,1346.7 L1195.9,1343.7 L1200.5,1341.8 L1204.5,1338.8 L1207.4,1334.7 M1181.3,1222.4 L1182.5,1223.5 M1181.6,1407.1 L1185,1407.9 M1181.6,1407.1 L1183.5,1404.1 L1186.1,1401.7 L1189.3,1400.1 L1192.7,1399 L1198.4,1395.2 L1203.4,1390.5 M1182.4,1197.3 L1186.7,1196.2 L1191.1,1195.4 L1194.5,1192.5 L1197.9,1189.6 L1201.4,1186.9 L1204.5,1183.7 L1209.1,1183.5 L1213.2,1181.6 M1182.5,1223.5 L1184.9,1227.7 L1185.2,1232.5 L1188.2,1236.4 L1188.9,1241.2 L1188.5,1246 L1189.9,1250.7 L1192.8,1254.6 L1194.2,1259.2 M1182.5,1223.5 L1186,1224.3 L1189.6,1224.3 L1193.1,1223.6 L1196.7,1223.1 L1200.1,1224 L1203.2,1225.9 L1206.8,1226.4 L1210.1,1227.6 L1213.7,1227.6 L1217.2,1227 L1220.4,1228.7 L1224,1228.8 L1227.6,1229.3 L1231,1230.4 L1234.5,1229.6 L1238,1229 M1182.6,1794.6 L1185.4,1797.4 M1182.6,1794.6 L1185.2,1797.4 L1188,1800 M1183.5,1001 L1184.9,1005.1 L1187.8,1008.4 M1185,1407.9 L1189.1,1411.2 L1192.4,1415.3 M1185.4,1797.4 L1188,1800 M1185.4,1797.4 L1189.1,1794.2 L1193.1,1791.5 L1197.3,1788.9 L1202,1787.6 L1206.7,1786.5 L1211.1,1784.3 L1215.5,1782.2 L1220.5,1782.2 M1186.9,1875.4 L1190.5,1881.3 L1195.5,1886.2 M1186.9,1875.4 L1188.6,1870.8 L1191.9,1867.2 L1195.6,1864.1 L1200,1862 M1187.8,1008.4 L1194.1,1011.3 M1187.8,1622.1 L1192.8,1624.9 L1197.2,1628.6 L1201.2,1632.9 L1203.2,1638.3 L1206,1643.4 L1206.1,1649.3 L1208.9,1654.2 L1212.4,1658.7 M1187.8,1622.1 L1191.6,1618 L1196.3,1614.8 L1198.4,1609.5 L1202.3,1605.4 L1206.1,1601.2 L1210.5,1597.7 L1216,1596.3 L1220.7,1593.1 M1188,1800 L1191.2,1804.3 M1188.2,1469.4 L1188.2,1472.1 M1188.2,1469.4 L1191.2,1467.4 L1193.8,1464.9 M1188.2,1472.1 L1191.6,1475.5 M1189.9,1316.3 L1189.1,1311.3 L1190,1306.3 L1191.9,1301.6 L1194.5,1297.3 M1189.9,1316.3 L1194.4,1320.9 L1197.4,1326.7 L1202.2,1331 L1207.4,1334.7 M1189.9,1451.1 L1190.5,1447.8 M1189.9,1451.1 L1193.2,1456.6 M1190.5,1447.8 L1193.7,1445.4 M1190.5,1447.8 L1194.9,1444.4 M1191.2,1804.3 L1195.5,1807.3 L1200,1809.8 M1191.6,1475.5 L1196.6,1471.6 M1192.4,1415.3 L1191.3,1420.2 L1191.5,1425.2 L1192.8,1430.1 L1193.6,1435 M1193.2,1456.6 L1195.4,1461.1 M1193.6,1435 L1193.5,1439.5 L1194.8,1443.9 M1193.6,1435 L1194.1,1439.7 L1194.9,1444.4 M1193.7,1445.4 L1194.9,1444.4 M1193.8,1464.9 L1195.4,1461.1 M1194.1,1011.3 L1194.6,1011.5 M1194.1,1011.3 L1195.2,1017.9 L1197.6,1024.1 L1197.7,1030.8 L1195.1,1037.1 M1194.2,1259.2 L1198,1260.7 L1201.9,1261.8 L1206.1,1262.6 L1210.1,1261.4 L1214.1,1260.3 L1218.2,1260.8 L1222.2,1261.8 L1226,1263.3 M1194.5,1297.3 L1199.6,1294.7 L1204.8,1292.1 L1210.5,1292.1 L1216.3,1292 M1194.5,1678.6 L1198.5,1672.9 L1204.6,1669.7 L1209.8,1665.1 L1212.4,1658.7 M1194.5,1678.6 L1199,1683.5 L1204.4,1687.4 L1206.1,1693.9 L1209.4,1699.7 L1213.8,1704.9 L1215.2,1711.5 L1216.6,1718 L1216.4,1724.6 M1194.6,1011.5 L1199.5,1014.5 M1194.8,1443.9 L1194.9,1444.4 M1194.8,1443.9 L1201.7,1443.8 M1195.1,1037.1 L1200.3,1038.7 L1204.4,1042.1 L1207.8,1046.2 L1212,1049.6 L1216.9,1051.9 L1221.5,1054.7 L1224.9,1058.9 L1227.8,1063.4 M1195.5,1886.2 L1200.3,1889.9 L1206,1892 M1195.8,1846.2 L1196.9,1850.2 L1199.1,1853.8 L1200.2,1857.8 L1200,1862 M1195.8,1846.2 L1198,1842 L1201.9,1839.5 L1203.8,1835.3 L1204.2,1830.7 L1205.8,1826.5 L1208.7,1823.1 L1210.2,1818.9 L1211.9,1814.8 M1196.6,1471.6 L1198.8,1473.8 M1196.6,1515.4 L1197.7,1510.9 M1196.6,1515.4 L1201,1519.8 M1197.7,1510.9 L1199.9,1505.4 M1198.8,1473.8 L1202.1,1479.9 M1199.1,1737.7 L1204.3,1736.1 L1209.6,1737.1 M1199.5,1014.5 L1202.9,1017.7 L1207,1020.2 M1199.9,1505.4 L1206.5,1505.4 M1200,1809.8 L1204,1811 L1207.8,1812.7 M1200,1862 L1204.8,1863.7 L1208.9,1866.7 L1213.8,1868 L1218.9,1868.3 M1201,1519.8 L1201.4,1520.6 M1201,1519.8 L1203.2,1524.2 M1201.4,1520.6 L1203.2,1524.2 M1201.7,1443.8 L1204.9,1441.3 L1208.3,1438.8 L1212,1437.2 L1215.9,1435.8 M1201.7,1443.8 L1205.5,1446.9 L1208.6,1450.8 L1211,1455.2 L1214.2,1458.9 L1214.8,1463.8 L1216.1,1468.6 L1217.7,1473.3 L1220.2,1477.6 M1202,1379.1 L1202.9,1384.8 L1203.4,1390.5 M1202,1379.1 L1206.1,1374.5 L1210.9,1370.5 L1216.3,1367.6 L1222.1,1365.5 M1202.1,1479.9 L1202.7,1484 L1204.3,1487.7 M1202.2,1138.4 L1203.9,1143.8 L1205.2,1149.4 L1204.8,1155 L1204.9,1160.7 L1206.9,1166 L1209.4,1171 L1211.6,1176.2 L1213.2,1181.6 M1202.2,1138.4 L1204.2,1132.9 L1206.9,1127.6 L1211.8,1124.3 L1215.9,1120.1 M1203.2,1524.2 L1206.1,1527.1 L1209.9,1528.7 M1203.4,1390.5 L1206.6,1392.1 L1209.7,1393.9 L1212.6,1395.9 L1215.9,1397.3 L1218.8,1399.5 L1221.7,1401.6 L1223.2,1405 L1226,1407.4 M1204.3,1487.7 L1205.7,1493.8 M1204.3,1487.7 L1205.2,1491.5 L1206,1495.4 M1205.7,1493.8 L1206,1495.4 M1206,1009 L1206.8,1014.6 L1207,1020.2 M1206,1009 L1209.9,1007.6 L1213.3,1005.4 M1206,1495.4 L1206.1,1497.7 M1206,1495.4 L1205.3,1500.4 L1206.5,1505.4 M1206,1892 L1209.7,1893.2 L1212.6,1895.9 L1215.9,1897.9 L1219.6,1899 M1206.1,1497.7 L1206.4,1501.5 L1206.5,1505.4 M1206.1,1497.7 L1206.7,1497.7 M1206.7,1497.7 L1211.4,1493.7 L1214.6,1488.4 L1217.8,1483.2 L1220.2,1477.6 M1206.7,1497.7 L1208.9,1503.9 L1213.2,1509 L1219.4,1511.2 L1224,1516.1 M1207.4,1334.7 L1209.3,1335 M1207.8,1812.7 L1211.9,1814.8 M1207.8,1812.7 L1213.7,1815.7 M1209.3,1335 L1210.5,1339 L1211.9,1343 L1212.2,1347.2 L1213.2,1351.3 L1216.3,1354.3 L1217.9,1358.3 L1220,1361.9 L1222.1,1365.5 M1209.3,1335 L1212.8,1332.8 L1215.1,1329.5 L1219,1328.3 L1222.8,1327 L1226.2,1325.1 L1230.1,1324.2 L1234,1323.7 L1237.8,1322.6 M1209.3,1549.7 L1211,1553.1 M1209.3,1549.7 L1212.1,1546.4 M1209.6,1737.1 L1210.3,1733.5 L1212.1,1730.4 L1214.3,1727.5 L1216.4,1724.6 M1209.6,1737.1 L1212,1741.2 L1213.6,1745.7 L1214,1750.6 L1216.6,1754.7 L1219.6,1758.4 L1221.8,1762.6 L1224,1767 L1227.8,1770 M1209.9,1528.7 L1210.3,1530.3 M1209.9,1528.7 L1211.5,1535.3 M1210.3,1530.3 L1211.5,1535.3 M1210.3,1530.3 L1214.3,1527.2 L1217,1523 L1219.6,1518.7 L1224,1516.1 M1211,1553.1 L1216.5,1550.8 M1211.5,1535.3 L1210.6,1540.9 L1212.1,1546.4 M1211.9,1814.8 L1213.7,1815.7 M1212.4,1658.7 L1216.3,1658.2 L1220.1,1658.7 L1223.9,1658.2 L1227.7,1657.8 L1231.6,1656.7 L1235.5,1657.3 L1239.2,1658.5 L1243.1,1658.6 M1213.2,1181.6 L1217.3,1181.1 L1221.2,1182.3 L1225,1183.6 L1228.5,1185.6 M1213.3,1005.4 L1213.2,1001 L1213.1,996.6 L1214.1,992.3 L1215.8,988.2 M1213.7,1815.7 L1214.2,1820.2 L1215.7,1824.5 M1214,1109.5 L1216.6,1115.7 M1214,1109.5 L1215.3,1103.4 L1217.1,1097.5 L1219.4,1091.6 L1224.3,1087.5 L1222.4,1081.4 L1223.3,1075 L1224.3,1068.7 L1227.8,1063.4 M1215.7,1824.5 L1222.5,1826.1 L1229.4,1826.4 M1215.8,988.2 L1221.5,987.7 M1215.9,1120.1 L1216.6,1115.7 M1215.9,1120.1 L1216.6,1123.9 L1219,1127 L1220.9,1130.3 L1222.6,1133.7 L1225.7,1135.9 L1229.4,1137.2 L1231.8,1140.2 L1235,1142.4 L1237.1,1145.7 L1240.4,1147.9 L1244,1149.2 L1247.6,1150.5 L1250.4,1153.2 L1252.9,1156.2 L1255.1,1159.4 L1255.6,1163.3 M1215.9,1435.8 L1216.9,1432.1 L1219.3,1429 L1219.4,1425.2 L1221,1421.6 L1222.4,1418.1 L1223.5,1414.5 L1224.2,1410.8 L1226,1407.4 M1215.9,1435.8 L1221.4,1437.4 L1227.1,1436.8 L1231.4,1440.3 L1236.4,1443 L1241.6,1444.5 L1246.4,1447.2 L1251.6,1448.8 L1256.8,1450.3 M1216.3,1292 L1221.2,1287.7 L1224.5,1282.1 L1225.4,1275.6 L1228.5,1269.9 M1216.3,1292 L1219,1295.9 L1222.6,1299 L1225.3,1302.9 L1226.9,1307.4 L1228.5,1311.9 L1231.1,1315.9 L1233.6,1320.1 L1237.8,1322.6 M1216.4,1724.6 L1219.7,1721.4 L1223.9,1719.3 L1226.6,1715.6 L1230,1712.5 L1234,1710.1 L1238.3,1708.3 L1243,1707.4 L1247.7,1708.3 M1216.5,1550.8 L1223.2,1551.9 L1229.8,1550.6 M1216.6,1115.7 L1220.2,1114.7 L1223.7,1113.5 L1226,1110.6 L1229.1,1108.4 L1232.7,1108.2 L1236.2,1107.2 L1239.9,1107.7 L1243.5,1106.7 L1246.8,1108.1 L1250.2,1109.3 L1253.9,1109.7 L1257.5,1108.9 L1260.9,1109.8 L1264.5,1110.4 L1268,1110.1 L1271.6,1109.9 M1218.9,1868.3 L1217.5,1873.4 L1217.9,1878.7 L1219.5,1883.7 L1221.5,1888.6 L1224.1,1893 L1227.1,1897.1 L1229.9,1901.4 L1232.8,1905.6 M1218.9,1868.3 L1222.6,1863.2 L1227.7,1859.4 L1232.8,1855.7 L1239,1854.2 M1219.6,1899 L1222.3,1901.7 L1225.7,1903.3 L1229.5,1903.7 L1232.8,1905.6 M1220.2,1477.6 L1225.4,1477.5 L1230.5,1478 L1235.6,1479 L1240.7,1479.8 M1220.5,1782.2 L1222,1779 L1223.9,1776 L1226.1,1773.1 L1227.8,1770 M1220.5,1782.2 L1223.6,1787.6 L1225.6,1793.5 L1227.4,1799.6 L1226.9,1805.9 L1230.2,1811.1 L1233.1,1816.6 L1236.2,1822.1 L1236.4,1828.5 M1220.7,1593.1 L1222.4,1586.8 L1221.3,1580.3 M1220.7,1593.1 L1224.6,1596.3 L1227.7,1600.3 L1231.9,1603.1 L1235.6,1606.5 L1239.4,1610 L1244.3,1612 L1245.9,1617 L1249.6,1620.8 M1221.3,1580.3 L1224.2,1577.4 L1227.2,1574.6 L1229,1570.9 L1230.4,1567 L1232.5,1563.4 L1233.4,1559.3 L1236.6,1556.7 L1239.7,1553.9 M1221.5,987.7 L1225.4,987.4 L1229.3,987 M1221.5,987.7 L1224.5,990.1 L1226.2,993.5 L1229.8,994.5 L1233,996.6 L1235.5,999.2 L1237.3,1002.5 L1239.6,1005.4 L1242.8,1007.2 L1246.3,1008.6 L1249.4,1010.5 L1251.5,1013.7 L1254.5,1016 L1257.9,1017.3 L1260.8,1019.6 L1264,1021.6 L1267.7,1022 M1222.1,1365.5 L1226.4,1366.3 L1230.4,1367.9 L1234.8,1367.6 L1239.1,1368.4 L1243.4,1369.5 L1247.8,1369.3 L1251.6,1371.6 L1255.4,1373.8 M1223.2,950 L1226.8,948.8 M1223.2,950 L1223.8,954.9 L1226.6,958.9 L1226.2,963.7 L1226.8,968.5 M1224,1516.1 L1228.4,1517.4 L1233,1517 M1226,1263.3 L1227.2,1266.6 L1228.5,1269.9 M1226,1263.3 L1226.1,1258.8 L1227.1,1254.4 L1229.5,1250.5 L1231.8,1246.7 L1233.1,1242.4 L1235.5,1238.7 L1237.5,1234.7 L1238.4,1230.4 M1226,1407.4 L1230,1405.8 L1232.8,1402.6 L1236.8,1401.1 L1239.8,1398 L1243.8,1396.8 L1247.5,1394.9 L1251.1,1392.7 L1255.2,1391.7 M1226.8,948.8 L1230.3,949.8 L1233.3,951.7 L1236.9,951.6 L1240.4,952.5 M1226.8,968.5 L1228.4,973.5 L1230.5,978.3 M1227.8,1063.4 L1232,1063 L1236.2,1062.2 L1240.4,1062.6 L1244.7,1062.7 L1248.7,1061.3 L1252.1,1058.8 L1255.7,1056.4 L1259.9,1055.5 M1227.8,1770 L1231.4,1770.2 L1235,1769.8 L1238.6,1769.1 L1242.2,1769.6 L1245.8,1770.3 L1249.4,1770.4 L1253,1770 L1256.6,1769.5 M1228.5,1185.6 L1230.3,1189.9 L1231.2,1194.5 L1232.6,1198.9 L1234.9,1202.9 L1237.6,1206.9 L1238.1,1211.6 L1238.4,1216.3 L1240.5,1220.5 M1228.5,1185.6 L1232.5,1183.3 L1235.2,1179.6 L1239,1177.1 L1243.4,1176.1 L1247.3,1173.8 L1250.9,1171 L1254,1167.6 L1255.6,1163.3 M1228.5,1269.9 L1232,1275.4 L1237.2,1279.4 L1242.7,1282.8 L1247.9,1286.6 L1254.3,1287 L1260.6,1288.2 L1266.9,1289.6 L1272.9,1292 M1229.3,987 L1229.4,982.6 L1230.5,978.3 M1229.4,1826.4 L1235.3,1828.4 M1229.8,1550.6 L1233.9,1550.9 L1237.6,1552.5 M1232.8,1905.6 L1235.9,1907.4 L1239.2,1908.8 M1233,1517 L1236.6,1512.2 L1242,1509.5 M1233,1517 L1232.2,1522.2 L1233.4,1527.3 L1234.9,1532.3 L1237.8,1536.7 L1239,1541.7 L1241.3,1546.2 L1243.2,1551 L1246.3,1555.1 M1235.3,1828.4 L1236.3,1828.5 M1235.3,1828.4 L1236.4,1828.5 M1236.3,1828.5 L1238.5,1834.7 L1237.9,1841.3 L1238.7,1847.7 L1239,1854.2 M1236.3,1828.5 L1240.1,1829.9 L1244.1,1829.4 M1236.4,1828.5 L1240.2,1829.7 L1244.1,1829.4 M1236.5,1640.5 L1241.8,1642.7 M1236.5,1640.5 L1240.6,1636.5 L1244,1631.9 M1237.6,1552.5 L1239.7,1553.9 M1237.6,1552.5 L1241.5,1554.9 L1245.2,1557.7 M1237.8,1322.6 L1238,1322.6 M1238,1229 L1238.4,1230.4 M1238,1229 L1239.6,1224.9 L1240.5,1220.5 M1238,1322.6 L1238.3,1328.8 L1240.3,1334.7 L1242.9,1340.4 L1247.2,1344.9 L1250.6,1350.1 L1254.7,1354.8 L1254.1,1361.1 L1256.4,1367.1 M1238,1322.6 L1243.2,1321 L1247.4,1317.8 L1252.7,1316.6 L1257.3,1313.9 L1261.4,1310.5 L1264.4,1306 L1268.2,1302.3 L1272.4,1299 M1238.4,1230.4 L1244.1,1229.8 L1249.7,1230.9 L1255,1232.9 L1259.3,1236.8 L1262.6,1241.3 L1267.6,1243.8 L1272.4,1246.6 L1276,1250.8 M1239,1854.2 L1244.6,1857.5 L1251,1857.8 L1257.2,1859.2 L1262.4,1862.9 M1239.2,1908.8 L1244.1,1909.8 M1239.7,1553.9 L1243.9,1556.1 L1247.5,1559.2 M1240.4,952.5 L1245.4,952.9 L1250.2,951.2 M1240.5,1220.5 L1247.2,1219.7 L1253.5,1217.1 L1260,1215.5 L1266.3,1213 L1270.6,1207.6 L1275.4,1202.7 L1281.6,1199.6 L1288.2,1197.5 M1240.7,1479.8 L1239.7,1483.5 L1238.6,1487.2 L1238.4,1491 L1237.8,1494.8 L1239.5,1498.3 L1241.6,1501.7 L1242.7,1505.5 L1242,1509.5 M1240.7,1479.8 L1246,1475.9 L1252.4,1474.6 L1257.3,1470.3 L1260.2,1464.4 M1241.8,1642.7 L1243.5,1647.9 L1244,1653.4 M1241.8,1666.4 L1241.9,1667.4 M1241.8,1666.4 L1242.4,1662.5 L1243.1,1658.6 M1241.8,1666.4 L1244.5,1660.2 L1244,1653.4 M1241.8,1666.4 L1243.2,1671.8 L1242.1,1677.2 L1242.1,1682.7 L1244,1687.9 M1241.9,1667.4 L1242.7,1672.5 L1242.2,1677.7 L1241.8,1683 L1244,1687.9 M1241.9,1667.4 L1246.5,1667.8 L1250.8,1666.2 L1255.3,1665.7 L1259.8,1665.8 L1264.3,1666.7 L1268.6,1668 L1272.7,1670 L1276.9,1671.6 M1242,1509.5 L1248.1,1511.8 L1254.3,1513.4 L1260.6,1511.6 L1267,1511 M1243.1,1658.6 L1244,1653.4 M1244,1631.9 L1248.2,1633.4 L1251.6,1636.2 M1244,1687.9 L1244.4,1692.3 L1245,1696.7 L1245.3,1701.1 L1247.2,1705.2 M1244.1,1829.4 L1248.2,1826.6 L1251,1822.5 M1244.1,1909.8 L1248.7,1910.1 L1252.9,1911.7 M1244.1,1909.8 L1248,1904.6 L1252.7,1900 L1254,1893.6 L1256.1,1887.5 L1257.9,1881.1 L1256.9,1874.6 L1259.8,1868.8 L1262.4,1862.9 M1245.2,1557.7 L1246.3,1555.1 M1245.2,1557.7 L1247.5,1559.2 M1246.3,1555.1 L1250.7,1553.1 L1255.5,1553 L1260.1,1551.7 L1264.1,1549.1 L1266.8,1545.2 L1270.6,1542.3 L1273.9,1538.9 L1276.7,1535.2 M1247.2,1705.2 L1247.7,1708.3 M1247.2,1705.2 L1247,1711.1 L1248.9,1716.7 M1247.5,1559.2 L1251.6,1560.5 L1255.9,1560.3 M1247.7,1708.3 L1247,1714.5 L1249.4,1720.3 M1248,1756.9 L1248.3,1760.8 L1249,1764.7 M1248,1756.9 L1254.8,1756.9 M1248,1756.9 L1252.1,1759.4 L1256.8,1759.8 M1248.9,1716.7 L1249.4,1720.3 M1248.9,1716.7 L1254.7,1718.4 L1260,1721.1 L1265.7,1722.9 L1271.2,1725.3 L1275,1730.1 L1280.5,1732.8 L1285.5,1736.1 L1290.1,1739.9 M1249,1764.7 L1252.3,1767.9 L1256.6,1769.5 M1249,1764.7 L1252.7,1767.4 L1256.8,1769.6 M1249.4,1720.3 L1252.3,1724.8 L1255.9,1728.9 M1249.6,1620.8 L1250.2,1624.8 L1249.7,1628.9 L1250.8,1632.8 L1252.3,1636.6 M1249.6,1620.8 L1252.2,1617.6 L1254.2,1614.1 L1256.9,1611 L1259.7,1608.1 L1261.5,1604.3 L1264.4,1601.2 L1267.3,1598.1 L1271.1,1596.4 M1250.2,951.2 L1255,952.7 L1260.1,952.5 M1251,1822.5 L1254.9,1817.6 M1251.6,1636.2 L1252.3,1636.6 M1251.6,1636.2 L1256.3,1637.5 L1260.2,1640.5 M1252.3,1636.6 L1256.6,1637.8 L1260.2,1640.5 M1252.9,1911.7 L1257.8,1916.6 M1253.7,1735.3 L1255.9,1728.9 M1253.7,1735.3 L1257.4,1736.8 L1260.2,1739.7 M1254.8,1756.9 L1257.6,1752.9 L1259.1,1748.3 M1254.9,1817.6 L1259.6,1815.8 L1264.7,1815.7 M1255.2,1391.7 L1256.9,1387.7 L1256.8,1383.3 L1255.6,1379.1 L1255.8,1374.8 M1255.2,1391.7 L1258.9,1396.5 L1263,1400.9 M1255.4,1373.8 L1255.8,1374.8 M1255.4,1373.8 L1256.4,1367.1 M1255.6,1163.3 L1261.1,1163.8 L1266.6,1164.9 L1272.2,1164.6 L1277.3,1162.2 M1255.8,1374.8 L1259.5,1375.3 L1263.1,1374.1 L1266.8,1374.1 L1270.4,1375.1 L1273.8,1373.4 L1277.6,1373.5 L1280.7,1371.4 L1284,1369.8 L1287.5,1368.7 L1291.1,1367.7 L1294.8,1367.9 L1298.3,1366.7 L1302,1365.8 L1305.7,1366.8 L1309.2,1368.1 L1312.7,1369.4 M1255.9,1560.3 L1260.2,1565.7 L1266.4,1568.6 M1256.4,1367.1 L1257.3,1362.1 L1260.5,1358.2 L1264.1,1354.9 L1267.8,1351.7 L1270.7,1347.8 L1273.8,1344 L1277.8,1341.3 L1282.2,1339.1 M1256.6,1769.5 L1256.8,1769.6 M1256.8,1450.3 L1257.1,1454 L1258.8,1457.3 L1258.7,1461 L1260.2,1464.4 M1256.8,1450.3 L1257.6,1446.7 L1259.9,1443.9 L1260.2,1440.4 L1260.6,1436.9 L1263.5,1434.9 L1265.9,1432.4 L1267.5,1429.2 L1270.3,1426.9 M1256.8,1759.8 L1261.5,1763.8 L1266.8,1766.8 L1272.8,1768 L1278.4,1770.6 M1256.8,1769.6 L1260.1,1773.2 L1262.7,1777.4 M1257.8,1916.6 L1259,1920.4 L1259.8,1924.4 M1258.8,1944 L1259.1,1939.1 L1260.2,1934.2 L1259.6,1929.3 L1259.8,1924.4 M1258.8,1944 L1261,1945.1 M1259.1,1748.3 L1259,1743.9 L1260.2,1739.7 M1259.9,1055.5 L1264.9,1050.7 M1259.9,1055.5 L1261.3,1058.7 L1262.5,1062 L1263.9,1065.3 L1264.1,1068.8 L1263,1072.3 L1263.6,1075.9 L1265,1079.2 L1265.4,1082.8 L1265,1086.3 L1264.9,1089.9 L1266.7,1093.1 L1267.7,1096.5 L1269.5,1103.2 L1271.6,1109.9 M1260.1,952.5 L1266.6,951.9 M1260.2,1464.4 L1263.6,1466.1 L1267.4,1467.1 L1269.7,1470.2 L1273.1,1472.1 L1275.2,1475.4 L1278,1478.1 L1281.3,1480.3 L1285.2,1481 M1260.2,1640.5 L1263.7,1638.1 L1266.6,1635.1 M1261,1945.1 L1264.7,1947 M1261,1945.1 L1263,1941.7 L1266.1,1939.3 L1268.5,1936.1 L1269.6,1932.3 L1272.6,1930 L1275.4,1927.3 L1277.9,1924.3 L1280.8,1921.8 M1262.4,1862.9 L1266.2,1861.7 M1262.5,1584.1 L1263.1,1590.7 M1262.5,1584.1 L1266.4,1581.9 M1262.7,1777.4 L1264.9,1782.4 L1267.6,1787.2 M1263,1400.9 L1265.9,1403.1 L1267.8,1406.2 L1269.1,1409.5 L1269.8,1413 L1270.4,1419.9 L1270.3,1426.9 M1263,1400.9 L1268.1,1400.3 L1273,1401.4 L1278,1402.1 L1283,1402.8 L1287.4,1400.1 L1292.3,1398.6 L1297.3,1397.8 L1302.4,1397.5 M1263.1,1590.7 L1266.2,1592.6 L1268.6,1595.2 M1264.7,1815.7 L1267.5,1813.5 M1264.7,1815.7 L1268.6,1812.7 M1264.7,1947 L1268,1945.5 L1270.6,1943 M1264.9,1050.7 L1264.6,1047 L1263.9,1043.4 L1264.1,1039.7 L1263.5,1036.1 L1263.4,1032.3 L1264.1,1028.6 L1266,1025.4 L1267.7,1022 M1264.9,1050.7 L1270.6,1050.1 L1276.2,1051.3 L1281.3,1053.9 L1286.3,1056.5 L1292.1,1056.4 L1297.7,1057.7 L1301.7,1062 L1307.1,1064.2 M1266.2,1861.7 L1269.9,1857.7 L1271.6,1852.5 L1272.3,1847.1 L1272.2,1841.8 L1272.8,1836.5 L1274.9,1831.7 L1276.6,1826.8 L1278.9,1822.1 M1266.2,1861.7 L1271.2,1863.7 L1276.4,1865.2 L1280.7,1868.5 L1284.9,1871.8 M1266.4,1568.6 L1271,1573.4 L1276.9,1576.3 M1266.4,1581.9 L1273,1583 M1266.6,951.9 L1270.1,951.2 L1273.6,951.2 M1266.6,951.9 L1268.4,955.2 L1270.5,958.2 L1273.1,960.9 L1274.8,964.2 L1277.9,966.4 L1281.4,967.7 L1283.8,970.6 L1286.8,972.9 L1290.5,973.8 L1293.7,975.9 L1296.3,978.5 L1299.1,981 L1301.1,984.1 L1303.1,987.3 L1305,990.5 L1308.2,992.6 M1266.6,1635.1 L1273.1,1634.8 L1279.6,1634 M1267,1511 L1268.9,1517.4 L1272.9,1522.7 L1274.2,1529.1 L1276.7,1535.2 M1267,1511 L1270.3,1507.6 L1274.6,1505.8 L1277.5,1502.2 L1279,1497.7 L1280.6,1493.6 L1282.4,1489.5 L1282.7,1484.9 L1285.2,1481 M1267.5,1813.5 L1268.6,1812.7 M1267.5,1813.5 L1269.8,1816.3 L1272.8,1818.4 L1276,1819.9 L1278.9,1822.1 M1267.6,1787.2 L1268.1,1791.3 L1269.6,1795.1 M1267.7,1022 L1273.8,1019.9 L1280,1017.9 L1284.2,1013 L1288.8,1008.4 L1294.1,1005.1 L1298.5,1000.5 L1303.9,997.2 L1308.2,992.6 M1268.6,1595.2 L1271.1,1596.4 M1268.6,1595.2 L1274.5,1598.1 M1268.6,1801 L1269.6,1795.1 M1268.6,1801 L1272.5,1805.9 M1268.6,1812.7 L1270.5,1809.3 L1272.5,1805.9 M1270.3,1426.9 L1275.6,1427.6 L1280.8,1428.6 L1286.2,1428.3 L1291.2,1430.5 M1270.6,1943 L1274.5,1942 L1278.2,1940.1 L1282.1,1938.8 L1286.2,1939.1 M1271.1,1596.4 L1277.1,1597.9 L1281.9,1601.8 M1271.6,1109.9 L1276.9,1112.4 L1282.6,1113.7 L1286.8,1117.8 L1290.4,1122.4 M1272.4,1299 L1273.9,1296.2 M1272.4,1299 L1276.2,1302.9 L1277.8,1308.1 L1280.8,1312.6 L1281.7,1318 L1279.8,1323.1 L1279.8,1328.6 L1280.4,1334 L1282.2,1339.1 M1272.9,1292 L1273.9,1296.2 M1272.9,1292 L1272.7,1288.2 L1274.3,1284.8 L1276.4,1281.7 L1277.1,1278 L1278.4,1274.5 L1280.6,1271.4 L1281,1267.7 L1281.8,1264.1 M1273,1583 L1274.5,1579.4 L1276.9,1576.3 M1273.6,951.2 L1276.1,948.7 L1278,945.7 L1280.2,942.9 L1282.3,940.1 M1273.9,1296.2 L1280.7,1297.3 L1287.3,1299.2 M1274.5,1598.1 L1278.3,1599.7 L1281.9,1601.8 M1274.5,1598.1 L1278.8,1594.1 L1282.3,1589.4 L1284.4,1583.8 L1288.4,1579.4 L1290,1573.7 L1293.7,1569.1 L1297.6,1564.6 L1300.4,1559.5 M1276,1250.8 L1277.5,1254.3 L1277.5,1258.1 L1279.8,1261 L1281.8,1264.1 M1276,1250.8 L1277.9,1246 L1281.1,1242 L1284.5,1238.1 L1286,1233.1 L1288.5,1228.7 L1289.9,1223.8 L1292.6,1219.4 L1293.8,1214.4 M1276.7,1535.2 L1282.2,1535.3 L1287.1,1537.9 M1276.9,1671.6 L1280.9,1670.7 L1284.9,1669.8 L1288.9,1668.9 L1292.4,1666.6 L1295.5,1663.8 L1299.2,1662.1 L1302.7,1659.7 L1306.9,1659.2 M1276.9,1671.6 L1282.9,1673.7 L1287.6,1677.9 L1292.2,1682.1 L1295.7,1687.3 L1297.2,1693.4 L1301,1698.3 L1303.8,1703.9 L1308.5,1708.1 M1277.3,1162.2 L1277.8,1157.2 L1277.2,1152.2 L1280.2,1148.1 L1281.6,1143.3 L1283,1138.6 L1285.3,1134.2 L1287.1,1129.5 L1290.7,1126.1 M1277.3,1162.2 L1281.7,1167.2 L1286,1172.4 L1290,1178 L1291.4,1184.7 M1278.4,1770.6 L1283.9,1774.3 L1290,1776.7 L1295.3,1780.8 L1301.9,1782.3 M1278.9,1822.1 L1283.8,1821.7 L1288.7,1822.8 L1293.6,1823 L1298.5,1822.9 M1279.6,1634 L1283.6,1635.1 L1287.4,1637 L1291.6,1636.9 L1295.7,1636.2 M1280.8,1921.8 L1282.2,1915.6 L1282,1909.3 L1284,1903.2 L1284.8,1897 L1283.7,1890.7 L1285,1884.4 L1284.1,1878.1 L1284.9,1871.8 M1280.8,1921.8 L1285.7,1921.6 L1290.2,1919.4 L1294.3,1916.8 L1297.9,1913.6 L1301.2,1909.9 L1305.3,1907.3 L1310,1905.9 L1314.6,1904.5 M1281.8,1264.1 L1286.3,1264.8 L1290.5,1263.3 L1294,1260.6 L1297.9,1258.7 L1302.3,1258.2 L1306.6,1259.1 L1310.5,1257.1 L1314.8,1256.2 M1281.9,1601.8 L1285.6,1606 M1281.9,1601.8 L1286.3,1606.8 M1282.2,1339.1 L1285.6,1340.3 L1289.3,1340 L1292.9,1339.8 L1296.3,1340.9 L1299.1,1343.2 L1301.6,1345.9 L1305.1,1347 L1308.5,1348.3 M1282.3,940.1 L1287.2,936.5 M1284.9,1871.8 L1289.3,1871.6 L1293.7,1870.5 L1297,1867.6 L1300.7,1865.1 L1304.9,1863.9 L1309.2,1863.8 L1313.3,1862.1 L1317.7,1862.4 M1285.2,1481 L1292.1,1480.7 M1285.6,1606 L1286.3,1606.8 M1285.6,1606 L1290.2,1607.1 L1294.8,1607.9 L1299.5,1607.2 L1304.2,1607.7 L1308.8,1606.3 L1313.6,1607 L1317.6,1604.4 L1322.4,1603.7 M1286.2,1939.1 L1290.1,1938.9 L1294.1,1939.1 L1298.1,1939.6 L1301.9,1938.2 M1286.3,1606.8 L1292.7,1607.5 L1298.5,1610.1 M1287.1,1537.9 L1289.9,1543.6 L1292.4,1549.5 L1295.8,1555 L1300.4,1559.5 M1287.1,1537.9 L1289.7,1534 L1291.2,1529.5 L1293.3,1525.2 L1297.2,1522.4 L1300.6,1519.2 L1304.4,1516.5 L1308.9,1515.1 L1312.5,1512 M1287.2,936.5 L1291.8,936.3 L1295.8,934 M1287.3,1299.2 L1292.1,1302.4 L1297.5,1304.1 L1302.4,1307.1 L1306.6,1311 L1309.2,1316.1 L1313.1,1320.3 L1317.7,1323.8 L1320.7,1328.7 M1287.3,1299.2 L1293,1299.1 L1298.1,1296.3 L1303.7,1296.8 L1309.1,1295.3 L1314.7,1294.1 L1319.3,1290.6 L1324.4,1288.6 L1329.8,1287.1 M1288.2,1197.5 L1289.6,1191 L1291.4,1184.7 M1288.2,1197.5 L1289.9,1201.7 L1291.8,1205.7 L1292.7,1210.1 L1293.8,1214.4 M1290.1,1739.9 L1290.9,1745.3 L1292.1,1750.6 L1294.3,1755.6 L1295.1,1761 L1299.8,1764.3 L1302.4,1769.5 L1304.8,1774.6 L1305.1,1780.3 M1290.1,1739.9 L1293.6,1736.8 L1296,1732.8 L1298.7,1729 L1301.5,1725.3 L1303.3,1721 L1305.8,1717 L1308,1712.8 L1308.5,1708.1 M1290.4,1122.4 L1290.7,1126.1 M1290.4,1122.4 L1294.8,1118 M1290.7,1126.1 L1297.4,1126.7 L1302.9,1130.4 L1309.6,1130.9 L1315.4,1134 L1321.4,1136.7 L1326.4,1141.1 L1331.6,1144.9 L1336.8,1148.8 M1291.2,1430.5 L1295.5,1426.5 L1301.3,1424.9 L1305.8,1421.1 L1308.3,1415.8 M1291.2,1430.5 L1291.7,1435.1 L1294.3,1438.9 L1296.9,1442.6 L1300.4,1445.5 L1303.1,1449.1 L1304.7,1453.2 L1307.7,1456.5 L1310.3,1460.1 M1291.4,1184.7 L1296.2,1185 L1300.8,1186.1 L1305.7,1186.3 L1310.2,1184.4 L1314.7,1182.8 L1319.5,1183.3 L1324.3,1183.5 L1328.8,1182 M1292.1,1480.7 L1295.3,1479.1 L1298.6,1477.7 L1300.9,1474.9 L1303.4,1472.4 L1306.2,1470 L1307.8,1466.8 L1309.8,1463.7 L1310.3,1460.1 M1292.1,1480.7 L1295.7,1483.1 L1299.3,1485.6 L1301.7,1489.2 L1303.2,1493.3 L1305.4,1496.9 L1308,1500.1 L1310.3,1503.7 L1313,1506.9 M1293.8,1214.4 L1297.2,1215.5 L1300.7,1216.4 L1303.6,1218.5 L1306.9,1219.8 L1310.3,1221.4 L1312.5,1224.3 L1315.4,1226.5 L1317.1,1229.7 M1294.8,1118 L1296.7,1115 L1298.1,1111.7 L1300.7,1109.1 L1302.4,1106 L1304.2,1102.8 L1304.6,1099.2 L1305.1,1095.6 L1306.6,1092.4 L1307.2,1088.9 L1307.8,1085.4 L1309.3,1082 L1309.1,1078.3 L1308.5,1074.7 L1309.1,1071.1 L1308.5,1067.5 L1307.1,1064.2 M1294.8,1118 L1297.1,1114.7 L1300.7,1112.8 L1304.6,1112.4 L1308.3,1110.8 L1312.1,1109.8 L1315.6,1108 L1319.5,1107.4 L1323.4,1108.4 L1326.8,1106.7 L1330.5,1106 L1334.2,1104.8 L1338,1104.6 L1341.8,1104 L1345.8,1104.3 L1349.1,1102.2 L1352.4,1100.2 M1295.7,1636.2 L1300,1631 M1295.8,934 L1299.9,930.5 L1302,925.4 M1298.5,1610.1 L1301.9,1614.6 M1298.5,1822.9 L1298.9,1816.9 L1299.8,1811 L1298.4,1805.1 L1299.3,1799.1 L1299.8,1793 L1301.9,1787.2 L1305.8,1782.5 L1309.5,1777.6 M1298.5,1822.9 L1302.6,1827.1 L1307.2,1830.8 L1313,1832 L1318,1835.3 M1300,1631 L1301.1,1625.5 L1300.7,1620 M1300,1631 L1306.5,1632.5 M1300,1631 L1304.9,1632.1 L1310,1632.3 L1314.7,1634.2 L1319.5,1635.6 M1300.4,1559.5 L1306.2,1557.6 L1312.2,1557.1 L1318.1,1558.2 L1323.7,1560.6 M1300.7,1620 L1301.9,1614.6 M1301.9,1782.3 L1305.1,1780.3 M1301.9,1782.3 L1305.1,1779 L1309.5,1777.6 M1301.9,1938.2 L1305.9,1938.3 L1309.8,1939.1 M1302,925.4 L1308.7,923.8 L1315.5,922.9 M1302.4,1397.5 L1304.2,1402.2 L1303.6,1407.2 L1306.7,1411.1 L1308.3,1415.8 M1302.4,1397.5 L1305.3,1395.4 L1307.9,1392.9 L1309.9,1389.9 L1310.8,1386.3 L1313,1383.5 L1314.1,1380.2 L1315.8,1377 L1316.3,1373.5 M1305.1,1780.3 L1309.8,1777.4 M1306.5,1632.5 L1307,1639.2 L1308.2,1645.8 L1308.9,1652.6 L1306.9,1659.2 M1306.5,1632.5 L1312.7,1635.4 L1319.5,1635.6 M1306.9,1659.2 L1313.7,1660.3 L1319.9,1663.1 M1307.1,1064.2 L1312.1,1065.2 L1317.2,1064.2 L1322.2,1063.8 L1327.1,1062.3 L1331.6,1059.9 L1334.9,1055.8 L1339.8,1054.4 L1344.3,1052.1 M1308.2,992.6 L1312.2,993.8 L1316.3,993.1 L1320.4,993.2 L1324.5,992.8 M1308.3,1415.8 L1313.9,1416.9 L1319.5,1416.9 L1324.8,1419 L1329.5,1422.2 M1308.5,1348.3 L1310.6,1353.3 L1311.9,1358.6 L1311.3,1364.1 L1312.7,1369.4 M1308.5,1348.3 L1311.4,1343.3 L1313.6,1337.9 L1318.3,1334.1 L1320.7,1328.7 M1308.5,1708.1 L1312.7,1704.4 L1318.2,1703.2 L1323.6,1702.7 L1328.9,1701.5 M1309.5,1777.6 L1309.8,1777.4 M1309.8,1777.4 L1312.7,1774.1 L1316.5,1771.8 L1319.6,1768.8 L1323.5,1766.7 M1309.8,1939.1 L1313.8,1939.2 L1317.6,1938.2 L1321.5,1938.9 L1325.4,1938.6 M1310.3,1460.1 L1314.1,1458.8 L1317.9,1457.2 L1321.9,1456.9 L1325.8,1455.7 M1312.5,1512 L1313,1506.9 M1312.5,1512 L1314.6,1516.1 L1317.2,1519.9 L1320.3,1523.4 L1324.7,1525.2 L1327.4,1528.9 L1328.8,1533.2 L1331.9,1536.6 L1334.6,1540.2 M1312.7,1369.4 L1316.3,1373.5 M1313,1506.9 L1317.1,1505.2 L1321.3,1503.8 L1325.1,1501.5 L1328.3,1498.4 L1332.4,1497 L1336.7,1496 L1341,1495.4 L1345.4,1495.2 M1314.6,1904.5 L1316.6,1900.1 L1319.8,1896.5 L1320.8,1891.8 L1320.5,1887 L1320.9,1882.3 L1319.9,1877.6 L1320.9,1873.1 L1322.3,1868.6 M1314.6,1904.5 L1318,1908.5 L1322.2,1911.6 L1327.1,1913.4 L1332.2,1914.5 M1314.8,1256.2 L1318.1,1250.1 L1318.6,1243.2 L1317.9,1236.4 L1317.1,1229.7 M1314.8,1256.2 L1318.5,1261.1 L1324,1263.9 L1328.8,1267.7 L1334.5,1269.7 M1315.5,922.9 L1321.3,922.2 M1316.3,1373.5 L1322.8,1374.2 L1329,1376.6 M1317.1,1229.7 L1321.5,1225.5 L1327.1,1223.3 L1333,1222.6 L1338.7,1220.6 M1317.7,1862.4 L1319.3,1859.2 L1320.3,1855.9 L1320.1,1852.4 L1319.8,1848.9 L1317.5,1842.3 L1318,1835.3 M1317.7,1862.4 L1319.8,1865.6 L1322.3,1868.6 M1318,1835.3 L1324,1834.1 L1329.3,1830.9 L1333.9,1826.9 L1338.8,1823.4 M1319.5,1635.6 L1325.5,1635.1 L1331.4,1635.6 M1319.9,1663.1 L1320,1668.2 L1322.4,1672.8 L1325.2,1676.9 L1326.5,1681.8 L1326.8,1686.8 L1327.3,1691.7 L1327.4,1696.7 L1328.9,1701.5 M1319.9,1663.1 L1324,1660.6 L1328.6,1659.2 L1332.5,1656.2 L1337.2,1655 M1320.7,1328.7 L1326.5,1327.8 L1331.5,1324.8 M1321.3,922.2 L1325.4,921.7 M1321.3,922.2 L1321.9,929 L1322,935.9 L1323,939.3 L1325.4,942 L1325.1,945.6 L1325.8,949 L1327.8,951.9 L1329.5,955 L1329.4,958.5 L1330.5,961.9 L1335,967.1 L1337.9,973.4 M1322.3,1868.6 L1326.1,1868.7 L1329.6,1870 L1333.1,1871.2 L1336.6,1872.5 L1340.2,1873 L1343.9,1873.7 L1347.6,1874.3 L1350.9,1876.1 M1322.4,1603.7 L1327,1598.9 M1322.4,1603.7 L1323.1,1608 L1324.4,1612.1 L1327,1615.5 L1329.7,1618.9 L1330.1,1623.2 L1329.6,1627.5 L1331.8,1631.3 L1333.4,1635.3 M1323.5,1766.7 L1326.4,1766.7 M1323.5,1766.7 L1329,1766.2 L1334.2,1767.8 L1339.6,1767.1 L1345,1766.7 M1323.7,1560.6 L1325.5,1563.8 L1328.6,1565.8 L1330.4,1568.9 L1331.2,1572.4 M1323.7,1560.6 L1327.4,1556.1 L1331,1551.4 L1331.9,1545.5 L1334.6,1540.2 M1324.5,992.8 L1329.4,989.2 L1332.1,983.7 L1335.4,978.8 L1337.9,973.4 M1324.5,992.8 L1326.9,995.5 L1329.4,998 L1331.1,1001.2 L1332.8,1004.4 L1335.3,1007.1 L1338.6,1008.8 L1341,1011.6 L1342.2,1015.1 L1341.4,1018.7 L1342.1,1022.4 L1343.9,1025.6 L1344.3,1029.3 L1345.6,1032.6 L1346.9,1035.9 L1348,1039.4 L1349.5,1042.6 M1325.4,921.7 L1331.2,922.2 L1336.5,920 M1325.4,1938.6 L1330.2,1939.9 L1334.4,1942.6 M1325.8,1455.7 L1324.9,1451.5 L1325.6,1447.2 L1326.9,1443.1 L1327.5,1438.9 L1327.3,1434.7 L1327.1,1430.4 L1329,1426.5 L1329.5,1422.2 M1325.8,1455.7 L1329,1457.1 L1332.2,1458.7 M1326.4,1766.7 L1327.7,1770.8 L1329.5,1774.7 L1330.4,1779 L1333,1782.5 L1335.9,1785.7 L1338.1,1789.4 L1341,1792.6 L1343.5,1796.1 M1326.4,1766.7 L1331.2,1766.7 L1335.7,1768.1 L1340.5,1768.3 L1345,1766.7 M1327,1598.9 L1327.1,1592.1 L1327.5,1585.4 L1330.7,1579.3 L1331.2,1572.4 M1327,1598.9 L1330.9,1601.2 L1335,1602.8 L1339.5,1602.1 L1344,1602.9 L1348.3,1601.5 L1352.9,1601.7 L1357.2,1603 L1361.4,1604.5 M1328.8,1182 L1330.3,1183.1 M1328.8,1182 L1329.8,1177.6 L1331.3,1173.4 L1333.3,1169.3 L1336.7,1166.4 L1335.6,1162 L1336.4,1157.6 L1336.3,1153.2 L1336.8,1148.8 M1328.9,1701.5 L1335.2,1701.9 L1340.8,1704.9 M1329,1376.6 L1334.2,1380.3 L1337.7,1385.6 M1329,1376.6 L1333.3,1374.8 L1336.6,1371.5 L1340.7,1369.2 L1343.3,1365.4 L1345.6,1361.2 L1349.2,1358.1 L1350.4,1353.6 L1351.3,1349 M1329.5,1422.2 L1332.8,1419.9 L1335.7,1417.3 M1329.8,1287.1 L1330.6,1292.1 L1329.9,1297 L1326.9,1301.1 L1326,1306.2 L1327.8,1310.7 L1329.7,1315.2 L1329.6,1320.2 L1331.5,1324.8 M1329.8,1287.1 L1332.4,1284.4 L1334.3,1281.1 M1330.3,1183.1 L1328,1187.8 L1328.2,1192.9 L1329.5,1197.8 L1330.2,1202.8 L1331.1,1207.8 L1334.1,1211.9 L1337.2,1215.8 L1338.7,1220.6 M1330.3,1183.1 L1334.7,1182.7 L1339.1,1183.4 L1343.5,1183.5 L1347.8,1184.2 L1352,1186.1 L1356.6,1185.9 L1361.2,1185.8 L1365.4,1184 M1331.2,1572.4 L1336.3,1572.6 L1341.2,1574.2 L1346.4,1573.3 L1351.4,1574.9 L1356.5,1575.5 L1361.5,1574.4 L1366.6,1573.5 L1371.7,1574.3 M1331.4,1635.6 L1333.4,1635.3 M1331.4,1635.6 L1335.4,1634.9 M1331.5,1324.8 L1335.8,1326.1 M1332.2,1458.7 L1334.4,1463.1 L1336,1467.7 L1337,1472.5 L1337.5,1477.4 L1339.3,1482.1 L1342.8,1485.7 L1344.4,1490.4 L1345.4,1495.2 M1332.2,1458.7 L1336.6,1458.4 L1341,1457.8 L1345.6,1457.4 L1349.7,1459.3 L1353.7,1457 L1356.8,1453.8 L1360.9,1451.7 L1365.5,1451.6 M1332.2,1914.5 L1333.8,1917.8 L1334.5,1921.4 L1333.4,1924.9 L1333.2,1928.6 L1334.6,1931.9 L1334.4,1935.5 L1335,1939.1 L1334.4,1942.6 M1332.2,1914.5 L1338.1,1911.9 L1343.2,1907.9 L1349.2,1905.4 L1355.7,1905.2 M1333.4,1635.3 L1339.4,1632.8 L1345.8,1633.2 M1334.3,1281.1 L1334.7,1275.4 L1334.5,1269.7 M1334.3,1281.1 L1338.4,1284.3 L1343.4,1285.8 L1348.1,1288 L1353.4,1288 L1358.3,1289.9 L1362,1293.6 L1366.1,1296.9 L1368.5,1301.6 M1334.4,1942.6 L1335.2,1943 M1334.5,1269.7 L1338.1,1265.8 L1342.7,1263 L1347.6,1261 L1351.4,1257.1 M1334.6,1540.2 L1339.7,1536.5 L1345.9,1535.6 L1352.2,1535.7 L1357.8,1532.9 M1335.2,1943 L1339.1,1947 L1343.1,1950.9 M1335.4,1634.9 L1336,1639.9 L1336.4,1644.9 L1337.1,1649.9 L1337.2,1655 M1335.4,1634.9 L1340.5,1633.5 L1345.8,1633.2 M1335.7,1417.3 L1336.3,1413.3 L1335.7,1409.2 L1335.5,1405.1 L1334.1,1401.3 L1333.5,1397.2 L1334.7,1393.2 L1335.4,1389.1 L1337.7,1385.6 M1335.7,1417.3 L1341.2,1417.6 L1346.7,1417.6 L1351.1,1420.9 L1356.5,1422.4 M1335.8,1326.1 L1338.6,1332.5 L1342.7,1338.1 L1347.1,1343.5 L1351.3,1349 M1335.8,1326.1 L1339.9,1323.9 L1342.4,1320.1 L1346.1,1317.5 L1350.4,1316.1 L1354.7,1314.9 L1359,1313.8 L1362.4,1310.8 L1366.9,1309.8 M1336.5,920 L1340.3,921 L1343.8,922.9 M1336.8,1148.8 L1341,1147.7 L1344.5,1145 L1348.1,1142.6 L1351.3,1139.8 L1355.1,1137.6 L1359.4,1136.8 L1363.1,1134.4 L1366,1131.1 M1337.2,1655 L1342,1654.6 L1346.8,1655.5 L1351,1657.7 L1355.1,1660.2 M1337.7,1385.6 L1344.5,1385.7 L1351.4,1385.8 L1358.2,1386.7 L1365,1386.8 M1337.9,973.4 L1342.4,970.7 L1347.4,969.3 L1352.3,967.6 L1357.2,965.9 L1362.5,966 L1367.8,966.1 L1372.2,962.9 L1377.4,961.6 M1338.7,1220.6 L1341.2,1223.6 L1344.7,1225.3 L1348.6,1225.5 L1352.2,1226.9 M1338.8,1823.4 L1339.4,1819.8 L1340.4,1816.3 L1339.9,1812.6 L1338.4,1809.3 L1340.2,1806.2 L1340.9,1802.7 L1342.7,1799.6 L1343.5,1796.1 M1338.8,1823.4 L1343,1826.1 L1346.9,1829.2 L1351.6,1830.9 L1356.6,1831.1 L1361.5,1832.5 L1366.5,1832.4 L1371.4,1834 L1375,1837.6 M1340.8,1704.9 L1339.9,1708.5 L1339.6,1712.2 L1340.6,1715.8 L1341.7,1719.3 L1341.5,1722.9 L1342.5,1726.5 L1342.8,1730.1 L1344.4,1733.5 L1345.5,1737 L1347.8,1740 L1348.9,1743.5 L1350.3,1746.9 L1351.1,1750.5 L1350.8,1754.2 L1350.8,1757.9 L1350.4,1761.6 M1340.8,1704.9 L1344.4,1704.2 L1348.1,1703.9 L1351.2,1701.9 L1354.5,1700.2 L1357.7,1698.2 L1359.7,1695.1 L1362.9,1693.4 L1365.4,1690.6 M1343.1,1950.9 L1345.8,1953.3 L1349,1954.8 M1343.5,1796.1 L1347.8,1796.2 L1351.9,1794.9 L1356.1,1794.1 L1360.3,1793.8 L1364.6,1793.6 L1368.6,1792 L1372.9,1792.4 L1377,1791 M1343.8,922.9 L1348.7,924.9 L1353.7,926.6 M1344.3,1052.1 L1347.6,1047.7 L1349.5,1042.6 M1344.3,1052.1 L1344.9,1058.3 L1346.4,1064.4 L1346.7,1070.8 L1344.6,1076.8 L1346.4,1082.7 L1349,1088.3 L1352,1093.9 L1352.4,1100.2 M1345,1766.7 L1349.4,1765.4 M1345,1766.7 L1348.7,1766.8 L1352.4,1766.5 L1356,1765.2 L1358.8,1762.7 M1345.4,1495.2 L1351.8,1497.6 M1345.8,1633.2 L1349.4,1633 L1353,1633.2 M1349,1954.8 L1354.6,1956.2 M1349.4,1765.4 L1350.4,1761.6 M1349.4,1765.4 L1354.1,1764.2 L1358.8,1762.7 M1349.5,1042.6 L1354.7,1045.2 L1360.5,1046.1 L1366.3,1045.9 L1372,1045.2 L1377.7,1044.8 L1383.1,1042.7 L1388.3,1040.5 L1393.5,1038.2 M1350.4,1761.6 L1354.1,1756.4 L1359,1752.3 L1362.7,1747.2 L1365.7,1741.6 L1369.4,1736.3 L1373.7,1731.6 L1378.5,1727.2 L1384.6,1724.9 M1350.9,1876.1 L1350.4,1879.8 L1350.5,1883.6 L1351.6,1887.2 L1351,1891 L1353.3,1894.1 L1353.8,1898 L1354.2,1901.7 L1355.7,1905.2 M1350.9,1876.1 L1353.6,1872.5 L1357.3,1869.9 L1360.8,1867.3 L1363.9,1864 L1368.5,1864.1 L1372.6,1862.1 L1376.9,1860.7 L1380.7,1858.4 M1351.3,1349 L1355.2,1349.2 L1358.8,1350.5 L1362.6,1349.6 L1366.3,1348.5 L1370,1349.1 L1373.5,1350.6 L1377.2,1351.2 L1381,1351.3 M1351.4,1257.1 L1350.7,1250.7 L1351.4,1244.2 L1352.1,1237.7 L1354.9,1231.8 M1351.4,1257.1 L1355,1259.5 L1359.3,1260.3 L1362.6,1263.1 L1366.1,1265.5 L1369.7,1267.9 L1373.9,1269 L1378.2,1269.7 L1382.4,1270.3 M1351.8,1497.6 L1351.8,1501.2 L1353.2,1504.5 L1354.8,1507.7 L1356.5,1510.8 L1359.4,1512.7 L1362.1,1515.1 L1364.5,1517.6 L1366.9,1520.2 M1351.8,1497.6 L1354.5,1494.8 L1356.8,1491.6 L1360.6,1490.3 L1363.4,1487.5 L1366.2,1484.6 L1369,1481.8 L1369.5,1477.8 L1371.5,1474.3 M1352.2,1226.9 L1354.9,1231.8 M1352.2,1226.9 L1355.4,1224 L1357.8,1220.5 L1361,1217.7 L1363.8,1214.6 L1365.3,1210.6 L1367,1206.8 L1369.4,1203.2 L1371.4,1199.5 M1352.4,1100.2 L1356.8,1105.1 L1361.3,1110 M1353,1633.2 L1357.2,1637.1 L1362.6,1639.2 M1353.7,926.6 L1358.6,927.8 M1354.6,1956.2 L1356.8,1956.8 M1354.6,1956.2 L1358.8,1953.5 L1362.6,1950.2 L1367.2,1948.2 L1372.2,1947.8 M1354.9,1231.8 L1359.3,1229.8 L1364,1230 L1368.7,1230.2 L1373.3,1231.1 L1377.9,1231.5 L1382.4,1232.6 L1386.8,1233.8 L1391.3,1234.9 M1355.1,1660.2 L1355.6,1664.5 L1354.4,1668.6 L1355.1,1672.7 L1356.5,1676.7 L1359.2,1680 L1360.2,1684.1 L1362.3,1687.7 L1365.4,1690.6 M1355.1,1660.2 L1357,1657.1 L1359.9,1654.9 L1363.2,1653.4 L1366.2,1651.6 L1369.1,1649.3 L1371.3,1646.4 L1372.2,1642.9 L1373.5,1639.5 M1355.7,1905.2 L1358.8,1909.4 L1363.3,1912.1 L1367.5,1915.4 L1372.6,1916.6 M1356.5,1422.4 L1358.5,1426 L1359,1430.1 L1359.3,1434.3 L1357.6,1438.1 L1358.1,1442.1 L1360,1445.7 L1363.2,1448.2 L1365.5,1451.6 M1356.5,1422.4 L1361.9,1418.8 L1366.9,1414.6 L1370.6,1409 L1376.6,1406 M1356.8,1956.8 L1360,1960 L1363.7,1962.7 M1357.8,1532.9 L1359.1,1529.1 L1361.2,1525.7 L1363.9,1522.8 L1366.9,1520.2 M1357.8,1532.9 L1359.5,1538.4 L1363.1,1542.8 L1366.9,1547 L1369.6,1552 L1369.5,1557.7 L1371.5,1563.1 L1371.9,1568.7 L1371.7,1574.3 M1358.6,927.8 L1359.8,932.8 L1361,937.7 M1358.8,1762.7 L1360.2,1766.5 L1362.7,1769.6 M1361,937.7 L1361,944.2 L1360.4,950.6 L1362.8,956.6 L1366,962.3 M1361.3,1110 L1361.9,1115.4 L1363.9,1120.5 L1365.3,1125.7 L1366,1131.1 M1361.3,1110 L1363.9,1107.5 L1365.8,1104.5 L1368.9,1102.8 L1371.3,1100.1 L1374.9,1099.1 L1377.6,1096.7 L1381.3,1096.7 L1384.8,1096.2 L1388.1,1094.7 L1391.8,1094.8 L1394.3,1092.3 L1397.1,1090.2 L1403.9,1088.8 L1410.1,1085.9 M1361.4,1598.5 L1361.4,1604.5 M1361.4,1598.5 L1361.8,1602.2 L1361,1605.9 L1361.5,1609.6 L1361.4,1613.3 M1361.4,1598.5 L1362.3,1592.8 L1365,1587.7 M1361.4,1604.5 L1361,1609.9 L1361.4,1615.3 M1361.4,1613.3 L1361.4,1615.3 M1361.4,1613.3 L1367.4,1614.4 L1372.3,1618.2 L1375.3,1623.5 L1380.5,1626.8 M1361.4,1615.3 L1362.6,1621.3 M1362.6,1621.3 L1366.8,1625.7 L1372.2,1628.4 M1362.6,1639.2 L1366.2,1638.3 L1369.8,1639.2 M1362.7,1769.6 L1367.6,1769.5 L1372.5,1768.6 M1363.7,1962.7 L1365.6,1965.9 L1366.6,1969.5 M1365,1386.8 L1366.6,1392.3 L1369.7,1397.1 L1372.5,1402.1 L1376.6,1406 M1365,1386.8 L1368.1,1383.4 L1371,1379.9 L1372.6,1375.6 L1373,1371 L1376.8,1368.4 L1379,1364.3 L1380.3,1359.9 L1382.5,1356 M1365,1587.7 L1370.7,1585.3 L1374.6,1580.5 M1365.4,1184 L1365.6,1188.3 L1366.9,1192.3 L1368.7,1196.2 L1371.4,1199.5 M1365.4,1184 L1369,1178.1 L1374.2,1173.6 L1375.9,1166.8 L1380.2,1161.3 M1365.4,1690.6 L1370.2,1691 L1374.7,1692.7 M1365.5,1451.6 L1368.7,1452.9 M1366,962.3 L1369.9,961.6 L1373.4,959.9 M1366,1131.1 L1370.6,1134.9 M1366.6,1969.5 L1367.5,1974.4 L1367.6,1979.3 M1366.9,1309.8 L1368.4,1305.8 L1368.5,1301.6 M1366.9,1309.8 L1368.9,1314 L1371.1,1318.1 L1372.2,1322.6 L1372.3,1327.3 L1376,1330.2 L1379.9,1332.7 L1383,1336.3 L1384.6,1340.8 M1366.9,1520.2 L1370.9,1519.3 L1374.9,1519.4 L1378.9,1518.6 L1383,1519.2 M1367.6,1979.3 L1372.5,1983.2 M1368.5,1301.6 L1370.9,1298.9 L1374,1297 L1376,1294 L1377.9,1290.9 L1381.2,1289.6 L1383.9,1287.1 L1386.9,1285.3 L1389.8,1283.2 M1368.7,1452.9 L1369.7,1458.2 L1369.8,1463.6 L1369.8,1469.1 L1371.5,1474.3 M1368.7,1452.9 L1375,1450.3 L1380.6,1446.4 L1387,1443.9 L1393.8,1443.5 M1369.8,1639.2 L1373.5,1639.5 M1369.8,1639.2 L1376.3,1639.8 L1382.9,1640.4 M1370.6,1134.9 L1372.8,1138.1 L1373.2,1141.9 L1376.2,1144 L1378.7,1146.9 L1380.4,1150.3 L1381.3,1153.9 L1381.4,1157.7 L1380.2,1161.3 M1370.6,1134.9 L1374.2,1134.9 L1377.6,1133.6 L1381.2,1132.7 L1384.8,1133.3 L1388.2,1134.1 L1391.8,1134.1 L1395.3,1135.4 L1398.9,1134.8 L1402.3,1133.3 L1405.8,1132.2 L1409,1130.3 L1411.3,1127.4 L1414.8,1126.4 L1418.3,1126.1 L1421.8,1125.1 L1425.4,1124.7 M1371.4,1199.5 L1376,1201.9 L1380.5,1204.3 L1385.4,1205.9 L1390.5,1206.9 M1371.5,1474.3 L1375.6,1477.9 L1380.8,1479.5 L1385.5,1482 L1390.4,1484 L1394,1488.2 L1398.5,1491.5 L1403.8,1492.7 L1409,1494.4 M1371.7,1574.3 L1375.6,1577.8 L1380,1580.5 M1372.2,1628.4 L1375.6,1631 L1379.7,1632.5 M1372.2,1628.4 L1375.2,1630.7 L1378.5,1632.4 L1381.8,1634.3 L1385.3,1635.6 M1372.2,1947.8 L1370.3,1944.2 L1369,1940.3 L1369.8,1936.3 L1369.7,1932.2 L1369.5,1928.1 L1369.2,1924 L1370.1,1920 L1372.6,1916.6 M1372.2,1947.8 L1375.2,1950 L1378.4,1952 L1381.8,1953.6 L1384.9,1955.6 L1387.9,1958.2 L1391.8,1959.1 L1395.7,1958.6 L1399.5,1959 M1372.5,1768.6 L1377.3,1771.2 L1380.8,1775.3 M1372.5,1768.6 L1376.6,1773.5 L1382.3,1776.5 M1372.5,1983.2 L1376.4,1983.8 L1380.3,1984.2 M1372.6,1916.6 L1376.2,1915.3 L1379.7,1913.9 L1382.8,1911.8 L1385.8,1909.6 L1387.6,1906.1 L1390,1903.1 L1393.5,1901.5 L1396.5,1899 M1373.4,959.9 L1377.4,961.6 M1373.5,1639.5 L1378.1,1640.7 L1382.9,1640.4 M1374.6,1580.5 L1380,1580.5 M1374.6,1580.5 L1378.2,1579.7 L1381.7,1580.5 M1374.7,1692.7 L1379,1691 L1383.2,1689 M1374.7,1692.7 L1374.4,1697.1 L1373.6,1701.5 L1374.8,1705.8 L1377,1709.6 L1379.3,1713.2 L1380.7,1717.3 L1383.5,1720.7 L1384.6,1724.9 M1375,1837.6 L1377.4,1842.5 L1378.7,1847.8 L1379,1853.2 L1380.7,1858.4 M1375,1837.6 L1377.2,1834.5 L1379.4,1831.2 L1382.4,1828.8 L1385.8,1827 L1386.9,1823.2 L1389.6,1820.3 L1389.8,1816.5 L1391.4,1812.9 M1376.6,1406 L1382.1,1407.3 L1387.4,1409.2 M1377,1791 L1377.6,1786.9 L1377.3,1782.8 L1378.4,1778.7 L1380.8,1775.3 M1377,1791 L1378.7,1797.6 L1383.2,1802.6 L1387.6,1807.5 L1391.4,1812.9 M1377.4,961.6 L1382,963.5 M1379.7,1632.5 L1379.9,1632.3 M1379.7,1632.5 L1380.3,1632.8 M1379.9,1632.3 L1380.3,1632.8 M1379.9,1632.3 L1380.5,1626.8 M1380,1580.5 L1381.7,1580.5 M1380.2,1161.3 L1385,1161.9 L1389.7,1162.7 L1393.7,1165.3 L1397.7,1168.1 M1380.3,1632.8 L1385.3,1635.6 M1380.3,1984.2 L1386.8,1984.4 L1393.1,1983.2 M1380.5,1626.8 L1383.3,1624.1 L1385.2,1620.7 L1388.3,1618.4 L1392,1617.2 L1395.6,1615.7 L1398.5,1613.2 L1402.4,1612.8 L1406.2,1612.5 M1380.7,1858.4 L1384.4,1860.7 L1387.4,1863.8 L1391,1866.4 L1395.2,1867.5 M1380.8,1775.3 L1382.3,1776.5 M1381,1351.3 L1382.5,1356 M1381,1351.3 L1383.2,1346.2 L1384.6,1340.8 M1381.7,1526.6 L1382.4,1522.9 L1383,1519.2 M1381.7,1526.6 L1381.2,1519.7 L1384.1,1513.5 M1381.7,1526.6 L1383.9,1530.3 L1385.8,1534.2 M1381.7,1526.6 L1383.9,1529.7 L1385.3,1533.2 L1387.4,1536.3 L1388.9,1539.8 M1381.7,1580.5 L1382.9,1574.6 M1382,963.5 L1387,961 M1382.3,1776.5 L1389.2,1775.7 L1396,1777.4 M1382.4,1270.3 L1382.8,1274.2 L1385,1277.4 L1387.3,1280.4 L1389.8,1283.2 M1382.4,1270.3 L1384.1,1265.9 L1386.4,1261.8 L1389.1,1257.9 L1391.5,1253.9 L1391.2,1249.2 L1391.3,1244.5 L1392.3,1239.8 L1391.5,1235.1 M1382.5,1356 L1384.5,1359.5 L1387.3,1362.4 L1390.8,1364.2 L1394.3,1366.1 L1397.9,1367.8 L1401.3,1369.7 L1404.9,1371.2 L1407.9,1373.8 M1382.9,1574.6 L1386.5,1568.6 M1382.9,1640.4 L1383.8,1638.5 M1382.9,1640.4 L1385.3,1635.6 M1383,1519.2 L1384.1,1513.5 M1383.2,1689 L1384.6,1684.8 L1386,1680.6 L1389.1,1677.6 L1392.4,1674.7 L1393.5,1670.5 L1394.4,1666.4 L1396,1662.3 L1396,1658 M1383.2,1689 L1387.8,1690.7 L1392.6,1690.2 L1397.5,1690.2 L1402,1688.2 L1405.8,1691.2 L1410.5,1692.1 L1415,1693.6 L1419.3,1695.4 M1383.8,1638.5 L1385.3,1635.6 M1383.8,1638.5 L1385.4,1644.2 L1389,1648.8 L1392.9,1653.1 L1396,1658 M1384.1,1513.5 L1388.9,1511 L1392.7,1507.2 L1395.9,1502.9 L1399.7,1499.1 M1384.6,1340.8 L1389,1338.3 L1394,1337.1 L1398.1,1334 L1403.1,1332.9 L1407.2,1329.9 L1410.3,1325.9 L1413.9,1322.1 L1418.7,1320.2 M1384.6,1724.9 L1389.3,1726.2 L1393.3,1729.2 L1398.1,1728.7 L1402.9,1729.7 M1385.3,1559 L1384.7,1563.9 L1386.5,1568.4 M1385.3,1559 L1386.2,1563.8 L1386.5,1568.6 M1385.3,1559 L1391.3,1555.4 M1385.8,1534.2 L1388.9,1539.8 M1385.8,1534.2 L1391.8,1534.3 L1397.4,1532.1 L1402.2,1528.5 L1408.2,1527.5 M1386.5,1568.4 L1386.5,1568.6 M1386.5,1568.4 L1389.7,1571.2 L1392.1,1574.7 L1396.1,1576.2 L1400,1577.8 M1387,961 L1390.9,962.5 L1394.3,964.8 M1387.4,1409.2 L1387.6,1413.7 L1389.8,1417.7 L1389.2,1422.1 L1389.6,1426.5 L1391.6,1430.6 L1391.4,1435.1 L1393.7,1439 L1393.8,1443.5 M1387.4,1409.2 L1390.9,1407.3 L1393.6,1404.4 L1396.9,1402 L1400.9,1401.3 M1388.9,1539.8 L1391.7,1542.4 L1393.7,1545.8 M1389.8,1283.2 L1393.6,1283.2 L1397.4,1283.2 L1401.1,1284.3 L1404.5,1286.1 M1390.5,1206.9 L1390.2,1210.5 L1388.9,1214 L1389,1217.7 L1387.3,1221 L1387,1224.7 L1388.2,1228.3 L1389.7,1231.6 L1391.3,1234.9 M1390.5,1206.9 L1393.4,1204.2 L1396.7,1202.1 L1400.7,1201.3 L1403.8,1198.7 M1391.3,1234.9 L1391.5,1235.1 M1391.3,1555.4 L1393.1,1550.8 L1393.7,1545.8 M1391.4,1812.9 L1395.3,1811 L1399.5,1810.9 L1403.7,1811.5 L1407.9,1810.5 M1391.5,1235.1 L1395.2,1235.4 L1398.4,1237.2 L1402,1236.5 L1405.6,1236.9 L1409.2,1236.2 L1412.8,1236.5 L1416.3,1237.4 L1419.7,1238.7 M1393.1,1983.2 L1396.1,1980.8 L1398,1977.4 M1393.5,1038.2 L1393.9,1033.8 L1393.2,1029.5 L1392.3,1025.2 L1392.5,1020.8 L1391.2,1016.5 L1391.4,1012.1 L1392.5,1007.7 L1392.3,1003.3 L1394,999.2 L1395.3,995 L1395.6,990.6 L1395.6,986.1 L1396.8,981.7 L1399.7,978.3 L1400.8,973.9 L1400.6,969.4 M1393.5,1038.2 L1397,1039.2 L1400.5,1040.3 L1404.2,1040.6 L1407.7,1042.1 L1411.4,1043 L1414.4,1045.4 L1416.4,1048.6 L1419,1051.4 M1393.8,1443.5 L1394.2,1443.6 M1394.2,1443.6 L1397,1449 L1398.4,1454.9 L1402.2,1459.6 L1405.6,1464.6 L1405.6,1470.7 L1408.5,1476.2 L1410,1481.9 L1411.1,1487.8 M1394.2,1443.6 L1398.3,1442.4 L1401.5,1439.7 L1405.4,1438.1 L1409.4,1437.1 L1413.6,1437.2 L1417.7,1438.3 L1421.9,1438.1 L1426,1437 M1394.3,964.8 L1394.3,970.9 M1394.3,970.9 L1400.6,969.4 M1395.2,1867.5 L1396.6,1871.4 L1396.1,1875.4 L1396.6,1879.4 L1398.1,1883.2 L1399.3,1887.1 L1399.1,1891.3 L1397.3,1895 L1396.5,1899 M1395.2,1867.5 L1398.7,1867.3 L1402.2,1866.8 L1405.2,1864.9 L1408.6,1863.7 L1415.4,1862.2 L1421.8,1859.5 M1396,1658 L1400.6,1658.1 L1404.8,1659.7 L1409.3,1659.3 L1413.8,1659.8 L1418.3,1660.1 L1422.8,1660.2 L1427.2,1661 L1431.6,1661.7 M1396,1777.4 L1396.1,1777.4 M1396,1777.4 L1402.1,1777.3 L1407.8,1779.4 M1396.1,1777.4 L1401.7,1779.6 L1407.8,1779.4 M1396.1,1777.4 L1399.6,1773.8 L1404.2,1771.9 L1407.5,1768.2 L1409.4,1763.6 M1396.5,1899 L1402,1901.9 L1408.1,1902.8 L1413,1906.6 L1416.5,1911.7 M1397.7,1168.1 L1397.9,1172.2 L1396.7,1176.1 L1398.6,1179.7 L1399.6,1183.6 L1401,1187.3 L1402.2,1191 L1403,1194.9 L1403.8,1198.7 M1397.7,1168.1 L1400.7,1165.7 L1404,1163.9 L1407.6,1162.7 L1411.5,1162.4 L1415.2,1161.9 L1419,1162.2 L1422.6,1161 L1426.1,1159.6 M1398,1977.4 L1402.1,1975.3 L1405.3,1971.9 M1399.5,1959 L1401.4,1962.1 L1403.5,1964.9 L1405.3,1968.2 L1405.3,1971.9 M1399.5,1959 L1402.6,1956 L1404.7,1952.2 L1408.6,1950.4 L1412.3,1948.4 L1413.9,1944.5 L1415.9,1940.8 L1418.9,1937.8 L1420.3,1933.7 M1399.7,1499.1 L1403.8,1497.2 L1407.8,1495.1 M1399.7,1499.1 L1404.9,1497.8 L1409,1494.4 M1400,1577.8 L1398.9,1582.2 L1399.4,1586.7 L1399.7,1591.2 L1400.5,1595.6 L1400.5,1600.2 L1401.3,1604.8 L1403.5,1608.8 L1406.2,1612.5 M1400,1577.8 L1404.4,1574.9 L1409.6,1574 L1414.8,1573.4 L1419.9,1572.8 L1423.5,1569 L1427.2,1565.5 L1431.5,1562.5 L1436.4,1560.6 M1400.6,969.4 L1405.3,967.8 L1410.3,967.2 M1400.9,1401.3 L1401.8,1397.7 L1402.6,1394.2 L1405.2,1391.5 L1406.8,1388.2 L1407,1384.6 L1407.6,1381 L1407.1,1377.4 L1407.9,1373.8 M1400.9,1401.3 L1403.8,1404 L1406.9,1406.3 L1409.7,1409.1 L1412.7,1411.7 L1416.7,1411.5 L1420.8,1411.3 L1424.6,1412.8 L1428,1415 M1401.7,1302 L1402.3,1305.6 L1402.5,1309.3 L1401.9,1313.1 L1403,1316.7 M1401.7,1302 L1405.4,1297 M1402.9,1729.7 L1404.2,1734 L1403.6,1738.4 L1404.8,1742.7 L1407.1,1746.5 L1407.7,1751 L1410.1,1754.8 L1410.6,1759.3 L1409.4,1763.6 M1402.9,1729.7 L1406.7,1725.2 L1412.2,1722.9 L1417.3,1720 L1421.2,1715.7 M1403,1316.7 L1406.4,1318.6 L1410.3,1319.2 M1403.8,1198.7 L1407.6,1201.1 L1411.9,1202.3 L1416.4,1202.1 L1420.8,1202.8 M1404.2,1282.3 L1404.5,1286.1 M1404.2,1282.3 L1404.9,1285.9 L1405,1289.6 L1405.6,1293.3 L1405.4,1297 M1404.2,1282.3 L1405.9,1279 L1407.9,1276 M1404.5,1286.1 L1405.8,1291.5 L1405.4,1297 M1405.3,1971.9 L1405.8,1971.5 M1405.8,1971.5 L1408.7,1968.8 L1410.7,1965.4 L1414,1963.2 L1417.6,1961.7 M1406.2,1612.5 L1407,1612.7 M1407,1612.7 L1409.9,1618.3 L1415,1622 L1419.9,1625.8 L1424.2,1630.2 L1425,1636.5 L1428.2,1641.9 L1431.7,1647 L1434.6,1652.5 M1407,1612.7 L1411.9,1612 L1416.8,1611.1 L1421.7,1609.5 L1425.4,1605.9 L1429.5,1603.1 L1434.4,1601.8 L1439.3,1601.1 L1444.3,1601.1 M1407.8,1495.1 L1410.5,1498.5 L1411.6,1502.7 L1411.6,1507 L1411.8,1511.3 L1409.9,1515.1 L1409.3,1519.2 L1407.8,1523.2 L1408.2,1527.5 M1407.8,1495.1 L1409.3,1494.3 M1407.8,1779.4 L1412.9,1780.1 L1417.6,1782.3 M1407.9,1276 L1411.6,1275.7 M1407.9,1276 L1413.5,1276.2 L1419,1275 M1407.9,1373.8 L1413.9,1373.6 L1419.3,1371.1 M1407.9,1810.5 L1410.9,1807.3 L1412.1,1803.1 L1415.7,1800.8 L1417.9,1797 L1418.9,1792.9 L1419.4,1788.7 L1420.6,1784.6 L1422.5,1780.8 M1407.9,1810.5 L1410.2,1813.6 L1413.7,1815.3 L1416.9,1817.2 L1420.5,1818.3 L1423.7,1820.4 L1425.6,1823.8 L1428.2,1826.4 L1430.4,1829.4 M1408.2,1527.5 L1413,1530.4 L1418.6,1530.7 L1423.9,1531.5 L1429.1,1533.1 M1409,1494.4 L1409.3,1494.3 M1409.3,1494.3 L1410.5,1488.3 M1409.4,1763.6 L1413.2,1763.9 L1416.7,1765.2 L1420.6,1765.4 L1424.1,1763.8 L1427.5,1762.4 L1430.7,1760.7 L1434.5,1760.2 L1437.5,1757.9 M1410.1,1085.9 L1411,1081.5 L1412.3,1077.3 L1414.5,1073.3 L1415.2,1068.8 L1417.4,1064.8 L1419.2,1060.6 L1419.9,1056 L1419,1051.4 M1410.1,1085.9 L1412.5,1090.6 L1414.9,1095.2 L1418.4,1099.1 L1421.9,1103.1 L1422.7,1108.2 L1424.1,1113.2 L1424.4,1118.5 L1426.3,1123.4 M1410.3,967.2 L1415.2,967.4 L1420.2,967.2 M1410.3,1319.2 L1416.5,1318 M1410.3,1361 L1412.1,1366.5 L1412.8,1372.2 M1410.3,1361 L1414.2,1357.6 L1417.7,1353.7 M1410.5,1488.3 L1411.1,1487.8 M1410.5,1488.3 L1414.9,1486.2 L1417.7,1482.3 M1411.1,1487.8 L1414.9,1485.7 L1417.7,1482.3 M1411.6,1275.7 L1415.3,1275.2 L1419,1275 M1411.6,1275.7 L1414.3,1271.6 L1416.5,1267.3 L1419.3,1263.1 L1419.8,1258.1 L1421.5,1253.4 L1420.8,1248.4 L1420.7,1243.5 L1419.7,1238.7 M1412.8,1372.2 L1419.3,1371.1 M1412.8,1372.2 L1416.6,1372.5 L1420.2,1371 M1416.5,1318 L1417.9,1319.4 M1416.5,1318 L1418.7,1320.2 M1416.5,1911.7 L1417.3,1917.2 L1418,1922.8 L1420.3,1928 L1420.3,1933.7 M1416.5,1911.7 L1421.9,1909.2 L1426.9,1906 L1431.3,1902 L1436.8,1899.5 L1442.5,1897.4 L1448.2,1895.5 L1452.3,1891 L1457.1,1887.3 M1417.6,1782.3 L1421.5,1780.4 M1417.6,1961.7 L1420.9,1960.2 L1424.4,1959.6 L1428,1959.2 L1431.3,1957.8 M1417.7,1353.7 L1418.9,1349.7 L1421.4,1346.3 M1417.7,1482.3 L1419.2,1481.7 M1417.7,1482.3 L1421.7,1480.1 L1426,1478.7 M1417.9,1319.4 L1421.4,1323 M1417.9,1319.4 L1423.4,1317.2 L1429.4,1317.3 L1435.2,1316.4 L1441,1315.8 M1418.7,1320.2 L1421.4,1323 M1419,898.3 L1421.2,901.1 L1422.7,904.4 M1419,898.3 L1423.7,893.6 M1419,1051.4 L1424.1,1048.7 L1429.6,1047.4 L1435.3,1046.8 L1441,1047.3 M1419,1275 L1422.5,1273.1 L1426.4,1272.4 M1419,1343.8 L1420.1,1340.2 L1420.2,1336.5 M1419,1343.8 L1421.4,1346.3 M1419.2,1481.7 L1422.4,1479.7 L1426,1478.7 M1419.2,1481.7 L1424.5,1484.2 L1430.3,1484.7 L1435.8,1486.6 L1440.1,1490.6 L1444.1,1494.7 L1448.4,1498.4 L1451.1,1503.6 L1455.8,1507.1 M1419.3,1371.1 L1420.2,1371 M1419.3,1695.4 L1419.6,1700.6 L1418.8,1705.7 L1419.7,1710.8 L1421.2,1715.7 M1419.3,1695.4 L1421.6,1689.6 L1425.6,1684.7 L1430.2,1680.5 L1435.3,1677 M1419.7,1238.7 L1425.4,1235.6 M1420.2,918 L1423.6,914 L1427,910.1 M1420.2,918 L1422,921.6 L1423.4,925.4 L1425.7,928.7 L1428.9,931.2 L1430.2,935 L1431.2,938.8 L1433.4,942.2 L1433.7,946.3 M1420.2,967.2 L1424.8,964.2 L1430,962.3 M1420.2,1336.5 L1420.7,1329.7 L1421.4,1323 M1420.2,1371 L1420.4,1370.9 M1420.2,1371 L1423,1368.6 L1426.4,1367.2 M1420.3,1933.7 L1426.1,1935.5 L1431.8,1937.7 L1437.7,1938.7 L1443.6,1940.3 L1449.7,1941.9 L1455.8,1940.4 L1461.6,1942.2 L1467.7,1942.9 M1420.4,1370.9 L1423.8,1370.1 M1420.4,1370.9 L1425.2,1368 M1420.8,1202.8 L1420.9,1207 L1421.3,1211.1 L1421.2,1215.4 L1423.1,1219.2 L1424,1223.5 L1426.3,1227.1 L1426.8,1231.5 L1425.4,1235.6 M1420.8,1202.8 L1423.5,1200.1 L1426.7,1198.2 L1429.1,1195.2 L1432.5,1193.4 M1421.2,1715.7 L1426.4,1717.5 L1431.6,1719.6 L1435.2,1723.8 L1439.1,1727.8 M1421.5,1780.4 L1422.5,1780.8 M1421.5,1780.4 L1425,1783 L1428.7,1785.3 L1432.9,1786.3 L1437.2,1787.2 M1421.8,1859.5 L1423,1855.6 L1423,1851.5 L1422.1,1847.5 L1422.8,1843.5 L1425.7,1840.6 L1428.2,1837.3 L1428.4,1833.1 L1430.4,1829.4 M1421.8,1859.5 L1427.3,1860.5 L1432.3,1863.1 L1437,1866 L1441.6,1869.1 L1445.5,1873 L1450.2,1876 L1454.8,1879.2 L1458,1883.8 M1422.5,1780.8 L1426.2,1782.3 L1429.8,1784.2 L1433.4,1786 L1437.2,1787.2 M1422.7,904.4 L1425.6,906.5 L1427.6,909.4 M1423.7,893.6 L1427.6,889.7 M1423.7,893.6 L1426.7,890.8 L1430.6,889.7 M1423.8,1370.1 L1425.2,1368 M1423.8,1370.1 L1428.5,1371.8 L1431.8,1375.5 L1433.3,1380.2 L1436.3,1384.1 L1439.2,1388 L1443.4,1390.4 L1445.6,1394.7 L1448.1,1398.7 M1425.2,1368 L1426.4,1367.2 M1425.4,1124.7 L1427,1128.9 L1428.1,1133.2 L1427.9,1137.6 L1427.9,1142.1 L1427.9,1146.6 L1428.5,1151 L1426.6,1155.1 L1426.1,1159.6 M1425.4,1124.7 L1426.3,1123.4 M1425.4,1235.6 L1432,1237 M1426,1437 L1428.2,1431.8 L1428.5,1426.1 L1428.2,1420.6 L1428,1415 M1426,1437 L1429.4,1441.2 L1434.1,1443.7 L1438.4,1447 L1441,1451.7 M1426,1478.7 L1428.1,1473.4 L1432,1469.2 M1426.1,1159.6 L1428.4,1162.8 L1431.3,1165.5 L1434.5,1167.8 L1437.7,1170.1 M1426.3,1123.4 L1432.2,1124 L1438.1,1123.8 L1443.8,1122.1 L1448.9,1119 M1426.4,1272.4 L1427.5,1270.2 M1426.4,1272.4 L1428,1267.1 L1431.3,1262.6 M1426.4,1367.2 L1426.7,1365.5 M1426.4,1367.2 L1426.2,1363.4 L1427.6,1359.9 M1426.7,1365.5 L1427.6,1359.9 M1426.7,1365.5 L1429.1,1362.8 L1430.4,1359.5 M1427,910.1 L1427.6,909.4 M1427,910.1 L1430.5,914 L1434.3,917.7 L1437.2,922.2 L1441.2,925.7 L1444.9,929.7 L1449.7,932.2 L1454.5,934.4 L1459.2,936.8 M1427.5,1270.2 L1428.9,1266.1 L1431.3,1262.6 M1427.5,1270.2 L1431.8,1271.4 L1435.4,1274.2 L1438.9,1276.8 L1442,1280 L1446.1,1281.7 L1450.5,1282.5 L1454.9,1283.4 L1458.3,1286.4 M1427.6,889.7 L1430.6,889.7 M1427.6,1359.9 L1430.4,1359.5 M1427.6,1359.9 L1431.7,1358.2 L1436.2,1358.6 M1428,1415 L1433.5,1411.6 L1438.9,1408 L1444.4,1404.3 L1448.1,1398.8 M1428.8,853.5 L1428.7,849 L1429.5,844.6 M1428.8,853.5 L1430,857.6 M1429.1,1533.1 L1429.1,1536.7 L1430.4,1540.1 L1431.6,1543.6 L1431.4,1547.2 L1433,1550.5 L1435.2,1553.4 L1435.4,1557.1 L1436.4,1560.6 M1429.1,1533.1 L1433.8,1531.8 L1437.7,1528.7 L1442,1526.6 L1445.8,1523.5 L1448.5,1519.5 L1452.1,1516.1 L1453.7,1511.5 L1455.8,1507.1 M1429.5,844.6 L1433.9,842.4 M1430,857.6 L1430.4,862.8 L1432.5,867.5 M1430,962.3 L1431.3,956.2 M1430,1255.2 L1430,1259 L1431.3,1262.6 M1430,1255.2 L1435.9,1254.4 L1441,1251.5 M1430.4,1359.5 L1436.2,1358.6 M1430.4,1829.4 L1437.1,1828.2 L1443.5,1826 L1450,1824.1 L1455.8,1820.5 M1430.6,889.7 L1434.2,889.7 L1437.7,890.8 L1441.1,889.4 L1444.8,889.7 M1431.3,956.2 L1432.5,953.7 M1431.3,956.2 L1431.7,951 L1433.7,946.3 M1431.3,1957.8 L1436.7,1954 L1443,1951.9 M1431.6,1661.7 L1432.6,1656.9 L1434.6,1652.5 M1431.6,1661.7 L1433,1665.4 L1434,1669.2 L1434,1673.2 L1435.3,1677 M1432,1237 L1436,1239.1 L1438.8,1242.8 L1440.8,1246.8 L1443.7,1250.2 M1432,1237 L1434.2,1232.3 L1437,1227.9 L1441,1224.6 L1445.5,1222.1 L1450,1219.3 L1455.2,1218.8 L1459.7,1216.6 L1463.9,1213.7 M1432,1469.2 L1436.1,1466.1 L1439.2,1462 M1432.5,867.5 L1434.7,870.7 L1437.4,873.6 M1432.5,953.7 L1436.2,954.8 L1440,955 M1432.5,1193.4 L1434.6,1187.6 L1433.7,1181.4 L1437.1,1176.2 L1437.7,1170.1 M1432.5,1193.4 L1437.1,1195 L1440.5,1198.4 L1444.8,1200.2 L1449.1,1202.1 L1453,1204.7 L1456.7,1207.6 L1460.1,1210.9 L1463.9,1213.7 M1433.9,842.4 L1438.3,844 L1442.1,846.8 M1434.6,1652.5 L1437.8,1649.4 L1441.9,1647.7 L1446,1645.7 L1448.7,1642.1 L1451.2,1638.3 L1455,1635.8 L1458.9,1633.6 L1463.3,1632.5 M1435.3,1677 L1438.8,1678.3 L1441.3,1681.1 L1443.9,1683.5 L1447,1685.4 L1450.5,1686.7 L1454.1,1686.9 L1457.7,1686.8 L1461.3,1687.6 M1436.2,1358.6 L1438.8,1362.2 L1441.1,1366 M1436.4,1560.6 L1442,1562.2 L1446.4,1566 L1450.4,1570 L1454.5,1574 M1437.2,1787.2 L1441.9,1785 L1447,1784.3 M1437.4,873.6 L1441.6,877.2 L1443.6,882.3 M1437.5,1757.9 L1439.1,1754.4 L1440,1750.6 L1441.5,1746.9 L1441.2,1743 L1441.4,1739 L1442,1735.1 L1440.6,1731.5 L1439.1,1727.8 M1437.5,1757.9 L1442.2,1761.5 L1447.7,1763.6 L1451.9,1767.7 L1457,1770.7 M1437.7,1170.1 L1442.5,1169.5 L1447.1,1167.9 L1451.9,1166.7 L1455.8,1163.7 L1460.7,1164.1 L1465.1,1166.2 L1469.9,1165.4 L1474.8,1165.7 M1439.1,1727.8 L1442.9,1726.7 L1446.7,1726.2 L1450.5,1725.1 L1453.7,1722.7 L1457.1,1720.9 L1460.4,1718.8 L1463.8,1716.8 L1467.6,1715.9 M1439.2,1462 L1440.4,1455.4 M1439.2,1462 L1439,1456.7 L1441,1451.7 M1440,955 L1444.8,957 L1449.8,958.6 M1440.4,1455.4 L1440.2,1450.5 L1442,1446 M1440.4,1455.4 L1443.8,1458.6 L1448.2,1460.2 L1452.4,1462.1 L1456.9,1462.9 M1441,1047.3 L1445,1052.4 L1449.4,1057.3 L1454.8,1061.2 L1461.1,1063.1 L1464.5,1068.9 L1469.9,1072.8 L1472.4,1079 L1473.7,1085.4 M1441,1047.3 L1442.5,1043.7 L1444.8,1040.7 L1446.6,1037.2 L1447.5,1033.5 L1450,1030.5 L1452.6,1027.6 L1455.9,1025.5 L1459.7,1024.3 L1462.9,1022.2 L1466,1019.8 L1467.5,1016.1 L1470.6,1013.6 L1471.4,1009.8 L1473.3,1006.4 L1473.3,1002.5 L1474.9,998.9 M1441,1251.5 L1443.7,1250.2 M1441,1251.5 L1444.8,1249.7 L1448.5,1247.8 M1441,1315.8 L1442.9,1312.4 L1446.2,1310.2 L1448.5,1307 L1449.5,1303.2 L1452.1,1300.5 L1454.5,1297.5 L1457.1,1294.9 L1459.4,1291.8 M1441,1315.8 L1443.7,1320.3 L1445.9,1325 L1445,1330.3 L1446.6,1335.4 L1450.6,1338.9 L1455.1,1341.6 L1456.8,1346.7 L1459.5,1351.2 M1441,1451.7 L1442,1446 M1441.1,1366 L1444.9,1365.9 L1448.5,1364.8 M1442,1446 L1443.1,1442.3 L1444.9,1438.9 L1444.4,1435.1 L1444.8,1431.3 M1442.1,846.8 L1445,841.7 M1443,1951.9 L1449.1,1950.7 L1454.8,1948.4 M1443.6,882.3 L1443.6,882.4 M1443.6,882.4 L1445.1,885.9 L1444.8,889.7 M1443.6,882.4 L1447.9,882.3 L1451.7,880.5 L1455.8,879.4 L1459.3,877.1 L1462.9,874.9 L1465.8,871.9 L1468.6,868.8 L1472.1,866.5 M1443.7,1250.2 L1448.5,1247.8 M1444.3,1601.1 L1445,1597.3 L1447.4,1594.2 L1449.3,1590.8 L1452.5,1588.7 L1452.8,1585 L1452.7,1581.3 L1452.9,1577.5 L1454.5,1574 M1444.3,1601.1 L1448.8,1602.9 L1452.2,1606.2 L1454.6,1610.3 L1457.4,1614.1 L1457.4,1618.9 L1458.5,1623.6 L1461.6,1627.2 L1463.7,1631.5 M1444.8,1431.3 L1448.4,1431.9 L1451.4,1433.9 L1454.9,1434.4 L1458.4,1435 M1445,841.7 L1449.4,839.1 L1452.4,835 M1447,1784.3 L1450.4,1785.7 M1447,1784.3 L1452.3,1785.4 L1456.8,1788.2 M1447.3,1236.7 L1448.7,1242.2 L1448.5,1247.8 M1447.3,1236.7 L1454.1,1236.1 L1460.7,1237.9 M1447.3,1236.7 L1451,1236.5 L1454.7,1237.1 L1458.3,1237.6 L1462,1238 M1448.1,1398.7 L1448.1,1398.8 M1448.1,1398.7 L1448.9,1393.9 L1451.2,1389.7 L1454,1385.7 L1455.5,1381.1 L1458.2,1377.1 L1461.7,1373.8 L1465.2,1370.4 L1469.7,1368.4 M1448.1,1398.8 L1452.9,1401.5 L1456.2,1405.9 L1461.2,1408.1 L1465.3,1411.7 M1448.5,973.4 L1451.3,968.6 L1453.4,963.5 M1448.5,973.4 L1451.6,975.8 L1454.7,978.3 M1448.5,1364.8 L1452.4,1361 L1454.7,1356 M1448.9,1119 L1449.9,1113.7 L1452.9,1109.2 L1455.8,1104.7 L1458.5,1100.2 L1462.8,1097 L1466.4,1093 L1469.1,1088.3 L1473.7,1085.4 M1448.9,1119 L1453.8,1121.5 L1457.1,1125.9 L1458.9,1131.1 L1462.9,1135 L1465.8,1139.5 L1469.7,1143.1 L1474,1146.4 L1476.5,1151.3 M1449.8,958.6 L1453.4,963.5 M1450.4,1785.7 L1452.7,1789.7 L1455.5,1793.4 L1457.1,1797.8 L1456.7,1802.5 L1455.9,1807 L1456.1,1811.5 L1455.2,1816 L1455.8,1820.5 M1450.4,1785.7 L1456.8,1788.2 M1452.4,835 L1456.5,834.9 L1460.6,834.4 L1464.6,833.1 L1468.7,832.8 M1454.5,1574 L1458,1575.5 L1461.9,1575.6 L1465.4,1574.3 L1469.1,1573.6 L1472,1571.2 L1475.6,1570 L1479,1568.5 L1482.8,1568.4 M1454.7,978.3 L1455.3,978.5 M1454.7,978.3 L1457.4,979.3 M1454.7,1356 L1456,1351.2 M1454.8,1948.4 L1459.1,1947.3 L1463.6,1947 M1455.3,978.5 L1457.4,979.3 M1455.3,978.5 L1454.5,973.2 L1454,967.9 L1454.7,962.6 L1456.5,957.6 L1456.3,952.3 L1457.5,947.2 L1458.3,942 L1459.2,936.8 M1455.8,1507.1 L1457.3,1506.7 M1455.8,1820.5 L1460.5,1824.8 L1466.2,1827.5 L1472.5,1828.5 L1478.2,1831.4 M1456,1351.2 L1459.5,1351.2 M1456,1351.2 L1460.8,1351.2 M1456.8,1788.2 L1457.6,1788.3 M1456.8,1788.2 L1462.3,1788.8 L1467.7,1787.4 L1472.9,1789.4 L1478.3,1790.2 M1456.9,1462.9 L1456.3,1468.4 L1454.7,1473.7 L1453.9,1479.3 L1454.9,1484.8 L1455.4,1490.6 L1458.4,1495.5 L1457.3,1501.1 L1457.3,1506.7 M1456.9,1462.9 L1462.1,1459.2 L1468,1456.6 L1474.2,1455 L1479.9,1452 M1457,1770.7 L1458.3,1775 L1458.5,1779.5 L1457.1,1783.8 L1457.6,1788.3 M1457,1770.7 L1460.8,1765.1 L1466.6,1761.7 L1472.5,1758.8 L1478.1,1755.3 M1457.1,1887.3 L1458,1883.8 M1457.1,1887.3 L1457.8,1893.2 L1460,1898.8 L1463.3,1903.8 L1465,1909.7 L1467.8,1915 L1468.2,1921.1 L1468.4,1927 L1469.5,1932.9 M1457.3,1506.7 L1460.6,1508.7 L1464.4,1509 L1467.9,1510.7 L1470.5,1513.5 L1474,1512.1 L1477.9,1511.9 L1481.7,1511.5 L1485.3,1513.1 M1457.4,979.3 L1457.5,983.4 L1459.6,987 M1457.6,1788.3 L1462.8,1788.1 L1467.9,1789.3 L1473.2,1788.6 L1478.3,1790.2 M1458,1883.8 L1460.9,1880.7 L1464.1,1877.9 L1468.2,1876.8 L1471.7,1874.2 M1458.3,1286.4 L1459.4,1291.8 M1458.3,1286.4 L1461.6,1282.3 L1463.8,1277.6 L1467.6,1274.1 L1471,1270.2 M1458.4,1435 L1463.7,1434.4 L1468.9,1435 M1458.4,1435 L1464,1434.1 L1469.5,1435 M1459.2,936.8 L1464.4,935.1 L1469.4,932.9 L1474.5,930.4 L1480.1,930.4 L1485.4,929 L1490.9,929.1 L1496.6,929.5 L1501.7,927.2 M1459.4,1291.8 L1464.8,1295.4 L1468.9,1300.3 L1473.5,1304.9 L1479.5,1307.4 M1459.5,1351.2 L1460.8,1351.2 M1459.6,987 L1460.7,990.4 L1460.2,994 M1460.2,994 L1463.9,998.7 M1460.7,1237.9 L1462,1238 M1460.7,1237.9 L1461,1242.4 L1462.9,1246.5 L1466.6,1249.1 L1468.7,1253.2 L1468.6,1257.5 L1470.1,1261.6 L1470,1266 L1471,1270.2 M1460.8,1351.2 L1463.1,1357 L1466.5,1362.2 M1460.8,1351.2 L1461.3,1356.2 L1464.1,1360.4 L1467.2,1364.2 L1469.7,1368.4 M1460.8,1390.6 L1462,1395.6 M1460.8,1390.6 L1465.5,1390.6 L1470,1391.8 L1474.7,1391.4 L1479.3,1391.9 M1461.3,1687.6 L1462,1691.3 L1461.6,1695 L1463.9,1698 L1465.1,1701.6 L1465.4,1705.3 L1465.3,1708.9 L1466.3,1712.5 L1467.6,1715.9 M1461.3,1687.6 L1464.8,1686 L1467.8,1683.7 L1471.7,1683.6 L1475.2,1681.8 L1476.5,1678.2 L1479,1675.2 L1482,1672.7 L1485.1,1670.5 M1462,1238 L1467,1239.2 L1472.2,1238.6 M1462,1238 L1466.3,1239 L1470.7,1238.4 L1474.9,1239.7 L1479.3,1239 M1462,1395.6 L1462.9,1400.6 L1464.5,1405.4 M1463.3,1632.5 L1463.7,1631.5 M1463.3,1632.5 L1467.2,1636.7 L1470.4,1641.4 L1471.3,1647 L1472.4,1652.6 L1476.2,1656.8 L1477.7,1662.3 L1481.1,1666.7 L1485.1,1670.5 M1463.6,1947 L1467.7,1942.9 M1463.7,1631.5 L1468.3,1629.9 L1472.5,1627.6 L1477.1,1626 L1481.9,1625.5 L1485.9,1622.8 L1489.5,1619.5 L1493.5,1616.9 L1498.1,1615.2 M1463.9,998.7 L1470.3,996 M1463.9,1213.7 L1470.1,1213.3 M1464.5,1405.4 L1465.3,1411.7 M1464.5,1405.4 L1466.4,1410.2 L1465.8,1415.3 M1465.3,1411.7 L1465.8,1415.3 M1465.8,1415.3 L1466.7,1418.8 M1465.8,1415.3 L1467,1420.2 M1466.5,1362.2 L1471.2,1361.8 L1475.9,1361.5 M1466.5,1362.2 L1468.9,1365.4 L1470.5,1369.1 L1470.2,1373.1 L1471.1,1377 L1473.3,1380.4 L1476.8,1382.5 L1478.4,1386.1 L1480.5,1389.4 M1466.7,1418.8 L1467,1420.2 M1466.7,1418.8 L1470.7,1416.3 L1474.6,1413.7 L1478.8,1411.5 L1483.2,1409.9 M1467,1420.2 L1473.2,1420.2 M1467.5,1924.4 L1469.5,1930.3 M1467.5,1924.4 L1470.4,1921.4 L1473.4,1918.6 M1467.6,1715.9 L1472.8,1719.5 M1467.7,1942.9 L1469.5,1941.1 M1468.7,832.8 L1475.3,833.5 M1468.9,1435 L1469.5,1435 M1468.9,1435 L1472.4,1438.8 L1474,1443.8 L1477.7,1447.4 L1479.9,1452 M1469.5,1435 L1470.5,1431.4 L1470.7,1427.6 M1469.5,1930.3 L1469.5,1932.9 M1469.5,1932.9 L1469,1937 L1469.5,1941.1 M1469.7,1368.4 L1469.9,1374.6 L1472.9,1380 L1475.6,1385.6 L1480.5,1389.4 M1470.1,1213.3 L1472,1219.5 L1470.9,1226 L1471.7,1232.3 L1472.2,1238.6 M1470.1,1213.3 L1474.3,1208.8 L1479.7,1205.7 M1470.3,996 L1474.9,998.9 M1470.3,996 L1473.6,999 L1477.7,1000.6 M1470.3,1070.8 L1470.3,1076.3 M1470.3,1070.8 L1475.4,1069.9 L1480.5,1069.8 M1470.3,1076.3 L1473.1,1080.9 L1477.7,1083.7 M1470.7,1427.6 L1471.1,1423.6 L1473.2,1420.2 M1471,1270.2 L1474.7,1268.3 L1478.8,1267.4 L1482.9,1266.8 L1486.9,1265.6 M1471.7,1874.2 L1472.8,1868.6 L1473.4,1863 L1472.6,1857.3 L1470.2,1852.1 L1471.2,1846.5 L1472.1,1840.9 L1475.1,1836.2 L1478.2,1831.4 M1471.7,1874.2 L1475.8,1875.3 L1480,1876 L1483.2,1879.1 L1487.4,1880.3 L1491.7,1880.5 L1495.6,1882.1 L1499.8,1882.9 L1504,1883.3 M1472.1,866.5 L1473.8,862.9 L1473.5,858.9 L1474.3,855.1 L1473.2,851.3 L1473.5,847.4 L1473.6,843.5 L1475.7,840.2 L1477.1,836.5 M1472.1,866.5 L1476.7,870.8 L1478.9,876.7 L1483.7,880.7 L1486.8,886.1 L1491.8,889.8 L1497.9,891.2 L1502.4,895.6 L1508.2,897.9 M1472.2,1238.6 L1475.8,1238.5 L1479.3,1239 M1472.8,1719.5 L1473.9,1726.1 L1475.8,1732.5 L1478.6,1738.6 L1481.6,1744.6 M1472.8,1719.5 L1476.9,1717.8 L1481.4,1717.1 L1485.2,1714.8 L1487.9,1711.1 L1492.4,1711.8 L1496.7,1710.2 L1500.2,1707.4 L1504.5,1706.3 M1473.4,1918.6 L1478.6,1917 L1484,1918 L1489.1,1916.6 L1494,1914.6 M1473.7,1085.4 L1478.5,1086.2 M1474.8,1165.7 L1474.9,1162 L1475.8,1158.5 L1476.2,1154.9 L1476.5,1151.3 M1474.8,1165.7 L1477.3,1169.4 L1480,1172.8 M1474.9,998.9 L1477.7,1000.6 M1475,1105 L1474.9,1100.3 L1475.9,1095.7 M1475,1105 L1477,1109.8 L1479.6,1114.2 M1475.3,833.5 L1477.1,836.5 M1475.9,1095.7 L1477.6,1093.1 M1475.9,1095.7 L1479.6,1090 M1475.9,1361.5 L1478.6,1357.6 M1475.9,1361.5 L1479,1367.6 L1484.3,1371.9 M1476.5,1151.3 L1480.1,1148.3 L1483.6,1145.2 L1486.2,1141.4 L1489.5,1138.1 L1493,1134.6 L1494.6,1129.9 L1498.3,1126.6 L1503,1125.3 M1477.1,836.5 L1480.5,842.4 M1477.6,1093.1 L1479.6,1090 M1477.6,1093.1 L1482.6,1094.5 L1487.7,1094.2 L1492.8,1094 L1497.6,1092 M1477.7,1000.6 L1481.9,1002.6 L1485.1,1006.1 M1477.7,1083.7 L1478.5,1086.2 M1477.7,1083.7 L1479.6,1090 M1478.1,1755.3 L1479.1,1749.7 L1481.6,1744.6 M1478.1,1755.3 L1481.7,1757.1 L1484.7,1759.8 L1488.6,1760.7 L1492.4,1762.2 L1495.4,1764.9 L1498.6,1767.3 L1500.6,1770.9 L1502.5,1774.4 M1478.2,1831.4 L1481.1,1828.1 L1485.2,1826.4 L1489.3,1825.1 L1493,1822.9 L1496.3,1820.1 L1500.1,1817.9 L1504.6,1817.9 L1508.7,1816.3 M1478.3,1790.2 L1484.5,1789.2 L1490.1,1786.3 M1478.5,1086.2 L1479.6,1090 M1478.6,1357.6 L1479.8,1351 L1478.1,1344.6 L1477.1,1338 L1473.6,1332.4 L1474.6,1325.9 L1478,1320.2 L1480.3,1314 L1479.5,1307.4 M1478.6,1357.6 L1483.3,1355.8 L1488.1,1354.6 L1491.7,1351 L1496.6,1349.5 L1500.2,1345.8 L1505,1344.2 L1509.7,1342.5 L1513.7,1339.5 M1479.3,1239 L1484,1238.8 L1488.8,1238.8 L1493.5,1238.1 L1497.8,1235.9 M1479.3,1239 L1484.5,1237.8 L1489.9,1238.5 L1494.9,1237 L1500,1235.5 M1479.3,1391.9 L1480.5,1389.4 M1479.5,1307.4 L1485.6,1306.1 L1491.8,1306.2 L1497.8,1304.5 L1503.6,1302.4 M1479.6,1114.2 L1482.1,1118.1 L1485.1,1121.6 M1479.7,1205.7 L1479.3,1201.4 L1477.3,1197.6 L1477.5,1193.3 L1479.1,1189.2 L1481,1185.4 L1480.8,1181.1 L1481.1,1176.9 L1480,1172.8 M1479.7,1205.7 L1482.9,1207.6 L1485.6,1210.3 L1489.2,1211.6 L1493,1211.5 M1479.9,1452 L1483.3,1453.1 L1486.8,1453.3 L1490.4,1453.3 L1493.7,1454.5 M1480,1172.8 L1486.4,1171.8 L1492.8,1171.5 L1498.9,1169.2 L1505.2,1167.7 L1511.4,1169.4 L1517.5,1171.7 L1524,1173.3 L1530.5,1171.9 M1480.5,842.4 L1483.6,838.2 L1487.1,834.3 M1480.5,1069.8 L1482.3,1067 M1481.6,1744.6 L1485.9,1744.4 L1490.1,1743.8 L1494.4,1743.8 L1498.6,1744.1 L1502.4,1742 L1506.7,1741.5 L1511.1,1741.1 L1514.8,1738.8 M1482.3,1067 L1483.1,1062.7 L1485.1,1058.8 M1482.8,1568.4 L1484.9,1565 L1486.6,1561.3 L1487.1,1557.3 L1486.5,1553.3 L1487.9,1549.6 L1488.3,1545.7 L1489.7,1542 L1492.2,1538.9 M1482.8,1568.4 L1488.4,1571.9 L1492.9,1576.8 L1494.8,1583.3 L1499.5,1588.1 M1483.2,1409.9 L1482.2,1405.1 L1482.8,1400.3 L1483.1,1395.5 L1484.7,1390.9 L1484.4,1385.9 L1486.5,1381.4 L1486.3,1376.4 L1484.3,1371.9 M1483.2,1409.9 L1486.6,1412.5 L1490.5,1414.3 L1493,1417.9 L1496.9,1420 L1500.4,1422.3 L1504.1,1424.4 L1507.5,1427.1 L1510.3,1430.3 M1484.3,1371.9 L1488.1,1374 L1492.2,1375.5 L1495.6,1378.2 L1498.6,1381.4 L1502.9,1382.7 L1507.4,1381.8 L1511,1384.3 L1515.2,1385.7 M1485.1,1006.1 L1487.9,1008.9 M1485.1,1058.8 L1490.7,1058.2 L1496.2,1057 M1485.1,1121.6 L1487.8,1127.4 L1492.5,1131.7 M1485.1,1670.5 L1491.3,1670.2 L1497.5,1671.2 M1485.3,1513.1 L1486.3,1519.7 L1488.5,1526.1 L1489.5,1532.7 L1492.2,1538.9 M1485.3,1513.1 L1488.9,1509.8 L1491.8,1505.8 L1495.1,1502.3 L1498.5,1498.8 M1486.9,1265.6 L1490.6,1259.9 L1493.1,1253.6 L1495.4,1247.2 L1499.6,1241.8 M1486.9,1265.6 L1492.2,1268.8 L1498.2,1270.3 L1501.7,1275.3 L1506,1279.7 M1487.1,834.3 L1490.8,832.8 M1487.9,1008.9 L1491.6,1007.6 L1495.2,1006.1 M1487.9,1008.9 L1491.3,1006.7 L1495.3,1006.1 M1489,591 L1493,596 M1489,591 L1491.3,587.8 L1494,585 M1490.1,1786.3 L1493.9,1783.6 L1496.7,1780 M1490.8,832.8 L1495.3,835 M1491.6,1039.4 L1494.4,1033.7 L1494.3,1027.4 M1491.6,1039.4 L1495.5,1040.8 L1499,1043 M1492.2,1538.9 L1496.2,1541.6 L1500.8,1542.5 L1505.5,1542.2 L1510.2,1543.2 L1514.8,1543.1 L1519.4,1544 L1523.9,1542.3 L1528.6,1542.9 M1492.5,1131.7 L1497,1128.3 L1501.7,1125.2 M1493,596 L1496.5,597.8 L1499.4,600.4 L1503.3,600.8 L1507,602 M1493,1211.5 L1498.6,1215.5 L1502,1221.4 L1504.4,1227.6 L1507.2,1233.7 M1493,1211.5 L1496.4,1210 L1500,1209 L1503.2,1207 L1505.8,1204.3 L1509.5,1203.7 L1513.1,1202.9 L1516.3,1201.1 L1520,1200.3 M1493.7,1454.5 L1497.1,1459.3 L1499.5,1464.6 L1500.9,1470.3 L1501.3,1476.1 L1502.4,1481.9 L1501.3,1487.6 L1500.7,1493.4 L1498.5,1498.8 M1493.7,1454.5 L1497.1,1452.7 L1500.3,1450.7 L1502,1447.3 L1504.9,1444.7 M1494,585 L1497.5,583.7 L1500,581 M1494,1914.6 L1497.4,1911 L1501.8,1908.8 M1494.3,1027.4 L1496,1023.4 L1496.2,1019 M1495.2,1006.1 L1495.3,1006.1 M1495.2,1006.1 L1497.1,1003 L1497.7,999.4 L1499.7,996.4 L1502.8,994.3 L1505.1,991.6 L1508,989.5 L1509.3,986.2 L1511.5,983.3 L1513,980.1 L1513.3,976.6 L1514.8,973.4 L1515.8,970 L1517.9,967.1 L1518.6,963.5 L1518.4,959.9 L1519,956.4 M1495.3,835 L1500.7,834.6 L1505.6,832.3 L1510.9,832.9 L1516,834.3 M1495.3,1006.1 L1499.9,1007 M1496.2,1019 L1496.9,1018.3 M1496.2,1019 L1499.8,1016.1 L1502.7,1012.6 M1496.2,1057 L1501.7,1055.9 M1496.2,1057 L1501.3,1056.3 L1506.3,1055 M1496.7,1780 L1500,1777.6 L1502.5,1774.4 M1496.7,1780 L1500.8,1778 L1504,1774.7 L1506,1770.6 L1509.6,1767.7 M1496.9,1018.3 L1499.5,1015.1 L1502.7,1012.6 M1496.9,1018.3 L1502.3,1018.3 L1507.2,1020.4 L1512.2,1022.2 L1517.1,1024.2 L1522.4,1024 L1527.6,1023.4 L1532.8,1022.1 L1537.6,1019.9 L1542.9,1020.3 L1548.1,1020.4 L1553.1,1018.5 L1558.4,1019 L1562.2,1015.2 L1566.8,1012.3 L1571.9,1010.7 L1577.2,1010 M1497.5,1671.2 L1497.9,1671.7 M1497.5,1671.2 L1501.2,1667.3 L1504.1,1662.7 L1505.7,1657.6 L1507.5,1652.5 L1508.8,1647.3 L1512.2,1643 L1514.2,1638.1 L1515.7,1633 M1497.6,1092 L1502.4,1087.5 M1497.6,1092 L1498.2,1096.6 L1497.4,1101.2 L1498.5,1105.7 L1500.1,1110 L1502.3,1114.1 L1503.2,1118.7 L1505.9,1122.4 L1508.9,1125.9 M1497.8,1235.9 L1499.6,1241.8 M1497.8,1235.9 L1500,1235.5 M1497.9,1671.7 L1499.3,1676.1 L1502.1,1679.7 L1504.1,1683.8 L1505.2,1688.2 L1504.8,1692.7 L1504.7,1697.3 L1504.1,1701.8 L1504.5,1706.3 M1497.9,1671.7 L1502.4,1674.2 L1507.5,1674.3 L1512.3,1675.5 L1517.2,1676.3 L1522.2,1676.8 L1527.2,1676.1 L1532,1677.6 L1536.8,1679 M1498.1,1615.2 L1498.9,1608.3 L1501.6,1601.8 L1500.5,1594.9 L1499.5,1588.1 M1498.1,1615.2 L1500.4,1621.3 L1505.3,1625.7 L1509.6,1630.7 L1515.7,1633 M1498.5,1498.8 L1505.2,1499.5 L1511.8,1498.3 L1518.2,1496.2 L1525,1496.6 M1499,1043 L1505.4,1045.8 M1499.5,1588.1 L1503,1588.5 L1506.2,1590.1 L1509.6,1589 L1513.1,1588.9 L1518.8,1584.8 L1525.6,1583.3 M1499.6,1241.8 L1503.8,1244 L1507.8,1246.7 L1511.5,1249.7 L1515.8,1251.8 L1520.4,1253.4 L1525.3,1253.1 L1529.7,1255 L1533.9,1257.5 M1499.9,1007 L1502.7,1012.6 M1500,581 L1504.2,581.8 L1508.4,581.3 L1512.7,580.9 L1516.5,579 M1500,1235.5 L1503.5,1234 L1507.2,1233.7 M1500,1235.5 L1505,1234.5 L1509.8,1233 L1515,1232.7 L1519.7,1230.5 M1501.7,927.2 L1501.8,923.2 L1503.7,919.6 L1505.8,916.3 L1508.3,913.3 L1509,909.4 L1510,905.6 L1509.6,901.6 L1508.2,897.9 M1501.7,927.2 L1502.2,931.6 L1503.2,935.9 L1506,939.5 L1506.7,944 L1508.7,948 L1511.6,951.4 L1515.7,953.2 L1519,956.4 M1501.7,1055.9 L1501.5,1060.1 L1502.2,1064.2 L1500,1067.8 L1498.9,1071.8 L1499.6,1075.8 L1501.6,1079.4 L1501.2,1083.5 L1502.4,1087.5 M1501.7,1055.9 L1506.3,1055 M1501.7,1125.2 L1503,1125.3 M1501.7,1125.2 L1505.4,1124.8 L1508.9,1125.9 M1501.8,1908.8 L1506.9,1904.7 M1502.4,1087.5 L1506.8,1088 L1511,1086.6 L1515.4,1086.6 L1519.7,1086.8 L1524.2,1086.5 L1528.2,1084.4 L1532.7,1084.3 L1537,1085.6 M1502.5,1774.4 L1506.1,1771 L1509.7,1767.6 M1503,1125.3 L1506.4,1126.2 L1510,1126 M1503.6,1302.4 L1502.5,1296.6 L1504,1291 L1504.5,1285.2 L1506,1279.7 M1503.6,1302.4 L1507.1,1305.3 L1511.1,1307.5 M1504,1883.3 L1506.3,1888.3 L1506.3,1893.9 L1505.2,1899.4 L1506.9,1904.7 M1504,1883.3 L1507.8,1881.5 L1511.1,1878.9 L1514.4,1876.2 L1518.6,1875 L1521.8,1872.3 L1525.3,1869.8 L1529.2,1867.8 L1533.6,1867.7 M1504.5,1706.3 L1507.6,1708.7 L1511.3,1710 M1504.9,1444.7 L1507.1,1441.4 L1509.3,1438.1 L1509.8,1434.2 L1510.3,1430.3 M1504.9,1444.7 L1509.5,1447.6 L1512.3,1452.3 L1515.9,1456.2 L1520.3,1459.2 L1524.7,1462.2 L1529.7,1464.1 L1534.6,1466.2 L1539.9,1467.2 M1505.4,1045.8 L1507.3,1049.5 M1505.4,1045.8 L1508.2,1043.2 L1510.3,1040 L1512.2,1036.7 L1512.8,1032.9 M1506,1279.7 L1509.3,1277.3 L1513.2,1276.5 L1516.2,1273.8 L1519,1271 L1522,1268.4 L1525.5,1266.4 L1529.6,1266.3 L1533.5,1265.4 M1506.3,1055 L1507.3,1049.5 M1506.9,1904.7 L1511.6,1900.9 M1507,602 L1508.5,606.9 L1509,612 M1507.2,1233.7 L1513.8,1233.7 L1519.7,1230.5 M1508.2,897.9 L1513.1,894.3 L1517.4,890.1 L1523.3,888.5 L1528.8,886 L1534.9,885.8 L1540.9,885.8 L1546.9,884.5 L1552.2,881.5 M1508.7,1816.3 L1509.8,1810.1 L1507.9,1804.1 L1507.4,1798.1 L1507.1,1792 L1509.1,1786.1 L1508.8,1779.9 L1510.6,1773.9 L1509.6,1767.7 M1508.7,1816.3 L1511.3,1819.4 L1515,1821.1 M1508.9,1125.9 L1510,1126 M1509,612 L1511.8,614.1 L1514.2,616.7 L1517.6,617.9 L1520.4,620 M1509.6,1767.7 L1509.7,1767.6 M1509.7,1767.6 L1514.1,1766.6 L1517.5,1763.7 M1510,1126 L1514.8,1129.6 M1510.3,1430.3 L1513.9,1426.2 L1518.6,1423.5 M1511.1,1307.5 L1511.8,1311.5 L1513.4,1315.3 L1513.1,1319.4 L1514.6,1323.3 L1514,1327.3 L1513.9,1331.4 L1514.8,1335.5 L1513.7,1339.5 M1511.1,1307.5 L1517.9,1308.7 L1524.6,1307.2 L1531.5,1306.2 L1537.2,1302.2 M1511.3,1710 L1512.1,1713.6 L1513.7,1717 L1515.6,1720.3 L1515.9,1724.1 L1516,1727.9 L1514.2,1731.3 L1514.4,1735.1 L1514.8,1738.8 M1511.3,1710 L1514.7,1708.7 L1518.2,1707.9 L1521.7,1707.1 L1525.2,1706.4 L1528.4,1704.7 L1531.9,1703.6 L1535.3,1702.5 L1538.8,1701.7 M1511.6,1900.9 L1517.6,1900 L1523.4,1901.9 M1512.8,1032.9 L1515.9,1030.5 L1518.4,1027.4 M1513.7,1339.5 L1518.6,1342.4 L1523.9,1344.2 L1529.6,1343.2 L1535.2,1344.6 M1514.5,464 L1513.8,468.5 L1514.5,473 M1514.5,464 L1516.4,459.2 L1516.5,454 M1514.5,473 L1516.5,474.6 M1514.8,1129.6 L1517.5,1135 M1514.8,1129.6 L1518.3,1134 L1519.7,1139.4 M1514.8,1738.8 L1520.3,1740.5 L1525.3,1743.5 L1529.8,1747 L1533.3,1751.6 M1515,1821.1 L1518.8,1826.3 L1523.4,1830.9 L1525.8,1836.9 L1528.5,1842.7 L1530,1849 L1532.3,1855 L1534.3,1861.2 L1533.6,1867.7 M1515,1821.1 L1518.5,1819.2 L1522.4,1818.5 L1525.6,1816.1 L1529.4,1814.7 L1533.3,1814.6 L1537.2,1814.7 L1541.2,1814.3 L1545,1815.5 L1548.4,1813.2 L1552.3,1811.9 L1556.3,1811.5 L1560.3,1811.8 L1564.4,1811.7 L1568.4,1812.2 L1571.9,1814.1 L1575.6,1815.7 M1515.2,1385.7 L1515,1390.6 L1516,1395.4 L1515,1400.2 L1513.7,1404.9 L1513.5,1409.8 L1515.3,1414.4 L1517.3,1418.8 L1518.6,1423.5 M1515.2,1385.7 L1519.7,1382.1 L1524.9,1379.5 L1530.3,1377.6 L1536,1376.6 M1515.7,1633 L1520.2,1634.5 L1524.8,1635.7 L1529.4,1634.6 L1534.2,1634.5 M1516,834.3 L1518.9,830.6 M1516.5,454 L1522.7,452 M1516.5,474.6 L1519,476.6 M1516.5,474.6 L1520.9,476.5 L1525.6,476.6 M1516.5,579 L1518.4,575.9 L1520,572.7 M1517.2,1180 L1518.8,1184 L1518.6,1188.4 L1518.3,1192.7 L1519.5,1196.8 M1517.2,1180 L1517.4,1184.7 L1517.7,1189.4 L1517.9,1194.1 L1519.7,1198.5 M1517.2,1180 L1522.1,1179.8 L1527,1180 M1517.2,1223 L1518.8,1226.6 L1519.7,1230.5 M1517.2,1223 L1520.4,1218.5 L1522.2,1213.3 M1517.5,1135 L1519.7,1139.4 M1517.5,1135 L1522.3,1131.8 L1527.7,1129.9 L1533.2,1127.9 L1537.8,1124.4 L1542.2,1120.7 L1546.7,1117.1 L1551.1,1113.2 L1553.9,1108.1 M1517.5,1763.7 L1523.3,1762.6 L1529.3,1762.7 M1518.4,1027.4 L1520.4,1023.9 L1523.9,1021.8 M1518.6,1423.5 L1522.6,1422.9 L1526.5,1421.7 L1530.6,1421.6 L1534.6,1421.6 L1538.7,1421.3 L1542.7,1421.9 L1546.7,1423 L1550.7,1423.4 M1518.9,830.6 L1523.6,829.4 M1519,476.6 L1525.6,476.6 M1519,956.4 L1525.1,954.4 L1530.7,951.1 L1537.2,950.5 L1543.6,951.7 L1550,951.9 L1556,953.9 L1562.3,954.1 L1568.6,953.3 M1519.5,1196.8 L1519.7,1198.5 M1519.5,1196.8 L1524,1199.4 L1529,1200.3 L1534,1202 L1537.8,1205.5 L1542.3,1208.2 L1547.4,1209.4 L1552.7,1210.2 L1557.8,1208.5 M1519.7,1139.4 L1520.9,1144.6 L1523.4,1149.3 M1519.7,1198.5 L1520,1200.3 M1519.7,1198.5 L1521.2,1202.1 L1522.8,1205.6 L1522.4,1209.4 L1522.2,1213.3 M1519.7,1230.5 L1523.2,1231.2 L1526.7,1232 L1530,1233.5 L1533,1235.5 M1520,572.7 L1521.9,575.8 L1525,577.6 M1520,1200.3 L1520.1,1207 L1522.2,1213.3 M1520.4,620 L1527,622.2 M1522.7,452 L1526,446 M1523.4,1149.3 L1523.9,1155.2 L1527,1160.3 M1523.4,1901.9 L1528.1,1903.8 L1533.2,1903.9 M1523.6,829.4 L1527.4,829.4 L1530.7,827.6 M1523.6,829.4 L1526.8,835.3 L1529.3,841.7 L1532.6,847.6 L1537.6,852.3 L1541.7,857.9 L1547.9,861 L1551.8,866.5 L1557.1,870.8 M1523.9,1021.8 L1529.4,1024.6 M1524.8,661.4 L1524.9,657 L1527,653.2 M1524.8,661.4 L1526.9,664.8 L1527.8,668.8 M1525,577.6 L1527.2,581.8 L1531,584.5 M1525,1496.6 L1527.6,1493.3 L1529.5,1489.5 L1531.1,1485.7 L1531.6,1481.4 L1534.6,1478.5 L1536.6,1474.8 L1538.9,1471.3 L1539.9,1467.2 M1525,1496.6 L1528.8,1499.8 L1531.7,1503.7 L1536.1,1505.9 L1540.7,1507.5 M1525.6,476.6 L1530.8,477.9 L1536,476.6 M1525.6,1583.3 L1525.1,1579.4 L1526.4,1575.7 L1528.7,1572.6 L1530.6,1569.3 L1534,1567.4 L1536.4,1564.3 L1537.1,1560.4 L1539.5,1557.3 M1525.6,1583.3 L1529.2,1586.2 L1532.2,1589.8 L1536.4,1591.8 L1541.1,1592.5 L1544.1,1596 L1547.3,1599.3 L1551.1,1602.1 L1555.7,1603 M1526,446 L1530.3,444.8 L1533.9,442.1 L1537,439 L1541,437 M1527,622.2 L1527,626.4 L1528.5,630.3 M1527,653.2 L1529.3,648.1 M1527,1160.3 L1527.6,1162.3 M1527,1160.3 L1529.9,1165.8 L1530.5,1171.9 M1527,1180 L1528.2,1176 L1530.8,1172.7 M1527.6,1162.3 L1528.1,1167.8 L1530.8,1172.7 M1527.6,1162.3 L1532.7,1162 L1537.5,1160.1 L1542.5,1159.3 L1547.1,1156.9 L1552.1,1155.8 L1556.8,1153.8 L1561.9,1152.5 L1567,1153.5 M1527.8,668.8 L1531,671.6 L1532.9,675.4 M1528.5,630.3 L1528.7,634.3 L1530.7,637.7 M1528.6,1542.9 L1530.4,1547.1 L1533.5,1550.5 L1537.1,1553.4 L1539.5,1557.3 M1528.6,1542.9 L1530.1,1539.6 L1530.8,1536.1 L1533,1533.3 L1534.3,1529.9 L1536.9,1527.3 L1540.3,1525.8 L1542.3,1522.7 L1543.5,1519.2 M1529,567.7 L1530.4,571.3 L1529.9,575.1 M1529,567.7 L1530.5,561.4 L1530,555 M1529.3,648.1 L1531.5,644.2 L1534.4,640.7 M1529.3,1762.7 L1534.3,1759.5 M1529.3,1762.7 L1533.1,1760.1 L1537.1,1757.8 M1529.4,1024.6 L1532.5,1027 L1535,1030 M1529.9,575.1 L1529.6,579.9 L1531,584.5 M1529.9,575.1 L1532.9,577.8 L1536.8,579.1 L1539.9,581.7 L1543.5,583.4 L1547.1,585.2 L1550.8,586.6 L1554.7,587.4 L1558.5,588.7 M1530,555 L1531.9,550.9 L1534.1,547 L1534,542.4 L1535,538 M1530.5,1171.9 L1530.8,1172.7 M1530.7,637.7 L1533.1,639.7 M1530.7,827.6 L1535.2,827 L1539.7,826.7 L1544.3,826.8 L1548.5,824.7 M1532.9,675.4 L1536.4,674.4 L1539.9,673.6 L1543.4,674.4 L1547,674.7 M1533,1235.5 L1535.7,1240.4 M1533.1,639.7 L1534.4,640.7 M1533.1,639.7 L1536.3,637.7 L1539.4,635.6 L1542.4,633.3 L1544.6,630.2 L1546.1,626.8 L1548,623.6 L1549.4,620 L1552.1,617.3 L1552.6,613.7 L1552.8,610 L1553.6,606.4 L1553.6,602.6 L1554.5,599 L1556.5,595.8 L1557.5,592.3 L1558.5,588.7 M1533.2,1903.9 L1539.1,1903.7 L1544.9,1903.4 M1533.3,1751.6 L1534.3,1755.5 L1534.3,1759.5 M1533.3,1751.6 L1535.2,1748.4 L1537.8,1745.6 L1540.3,1742.9 L1542.9,1740.2 L1544.8,1737 L1546,1733.3 L1548.6,1730.6 L1551.1,1727.8 M1533.5,1265.4 L1533.9,1261.5 L1533.9,1257.5 M1533.5,1265.4 L1534.6,1268.8 L1537,1271.6 L1538.6,1274.8 L1540.8,1277.6 M1533.6,1867.7 L1533.7,1867.7 M1533.7,1867.7 L1534.3,1872.5 L1535.7,1877.2 L1534.9,1882 L1535.1,1886.9 L1537.6,1891.1 L1538.6,1896 L1541.6,1899.8 L1544.9,1903.4 M1533.7,1867.7 L1537.9,1863.3 L1543.5,1861 L1549.4,1859.9 L1555.4,1859.9 L1561.2,1860.1 L1567,1861.2 L1573,1861.3 L1578.4,1858.6 M1533.9,1257.5 L1536.3,1254.3 L1538.8,1251.1 L1540.6,1247.4 L1543.8,1244.8 M1534.2,1634.5 L1536.9,1637.2 L1538.6,1640.6 L1540.3,1644 L1542,1647.4 L1544.9,1649.8 L1547.5,1652.5 L1550.2,1655.2 L1552.6,1658.1 M1534.2,1634.5 L1537.6,1630.8 L1542.1,1628.6 L1543.7,1623.9 L1546.4,1619.7 L1550.5,1616.8 L1552.7,1612.3 L1553.2,1607.3 L1555.7,1603 M1534.3,1759.5 L1537.1,1757.8 M1535,538 L1536.9,534.6 L1537.1,530.7 L1538,526.8 L1537,523 M1535,1030 L1538.7,1032.9 M1535.2,1344.6 L1535.8,1348.7 L1535.1,1352.8 L1534.4,1356.9 L1532.6,1360.7 L1532.3,1364.8 L1533.3,1368.9 L1535.5,1372.4 L1536,1376.6 M1535.2,1344.6 L1538.6,1342.9 L1541.4,1340.2 L1544.4,1337.9 L1547.9,1336.3 M1535.7,1240.4 L1539.7,1242.7 L1543.8,1244.8 M1535.7,1240.4 L1538.1,1243.7 L1541.7,1245.6 L1545.4,1246.9 L1549.3,1247.8 M1536,476.6 L1539.2,478.5 L1542.6,479.8 L1546.3,480.7 L1550,480 M1536,1376.6 L1540.5,1377.9 L1544.3,1380.5 L1547.8,1383.6 L1552.3,1384.9 M1536.8,1042.1 L1538.4,1037.6 L1538.7,1032.9 M1536.8,1042.1 L1540.5,1045 M1536.8,1679 L1539.8,1684.2 L1540.1,1690.1 L1538.2,1695.8 L1538.8,1701.7 M1536.8,1679 L1539.7,1673 L1544.1,1668.1 L1547.7,1662.5 L1552.6,1658.1 M1537,523 L1539,519.6 L1542,517 M1537,1085.6 L1537.3,1080.2 L1540.3,1075.6 L1543.7,1071.6 L1546.2,1067 L1545.8,1061.7 L1544.8,1056.6 L1546.1,1051.5 L1546.4,1046.2 M1537,1085.6 L1539.3,1088.5 L1542.5,1090.2 L1544.9,1092.9 L1546.4,1096.2 L1548.8,1098.8 L1551.2,1101.5 L1552.2,1104.9 L1553.9,1108.1 M1537.1,1757.8 L1541.1,1756.9 L1544.8,1755.2 L1549,1755.6 L1552.8,1753.9 M1537.2,1302.2 L1536.8,1295.8 L1536.3,1289.5 L1537.9,1283.3 L1540.8,1277.6 M1537.2,1302.2 L1540.2,1306.8 L1543,1311.6 L1546.7,1315.9 L1551.8,1318.3 M1538.8,1701.7 L1541.8,1705.9 L1546.4,1708.2 M1539.5,1557.3 L1546.2,1559 L1553.1,1559.7 L1560,1559 L1566.9,1558 M1539.9,1467.2 L1543.9,1463.6 L1548.8,1461.5 L1553.8,1459.4 L1559.2,1459.8 M1540.5,1045 L1546.4,1046.2 M1540.5,1045 L1547,1046.4 L1553.5,1047.7 M1540.7,1507.5 L1543.6,1513 L1543.5,1519.2 M1540.7,1507.5 L1544.2,1506.1 L1547.8,1505.3 L1551.5,1505 L1555.1,1504.1 L1558.8,1502.9 L1561.8,1500.5 L1564.2,1497.6 L1566.7,1494.8 M1540.8,1277.6 L1547.7,1278.1 L1553.7,1281.7 L1560.5,1282.6 L1567.1,1280.6 M1541,437 L1545,436.5 L1548.3,434.2 L1552.1,433.2 L1556,433.5 M1542,517 L1548.6,516.1 L1555,518 M1543.5,1519.2 L1547.5,1521.3 L1551.6,1523.4 L1556.2,1523.4 L1560.4,1525.5 L1564.6,1527.4 L1568.1,1530.3 L1570.9,1533.9 L1574.2,1537.1 M1543.8,1244.8 L1549.3,1247.8 M1544.9,1903.4 L1551.8,1903.2 L1558.7,1902.9 M1546.4,1046.2 L1549.9,1047.2 L1553.5,1047.7 M1546.4,1708.2 L1547.7,1713.2 L1550.6,1717.5 L1550.8,1722.7 L1551.1,1727.8 M1546.4,1708.2 L1550,1705.7 L1554.3,1705.2 L1557,1702 L1560,1698.9 L1563.9,1697.4 L1568,1696.9 L1571.5,1694.5 L1575.7,1694 M1547,674.7 L1550.4,672.3 L1554.4,671 M1547.9,1336.3 L1548.4,1331.7 L1549,1327.1 L1551.1,1322.9 L1551.8,1318.3 M1547.9,1336.3 L1552,1338 L1555.7,1340.2 L1559.7,1342.2 L1564.1,1342.8 L1566.8,1346.2 L1570.2,1349 L1574.2,1351 L1576.9,1354.6 M1548.5,824.7 L1552.4,823.7 L1556.1,822.1 L1560.1,821.9 L1564,821 M1549.3,1247.8 L1553.2,1249.9 L1557.5,1250.9 M1549.3,1247.8 L1554.5,1248.9 L1559,1251.5 M1550,480 L1554,480.7 L1558,481.5 M1550.7,1423.4 L1552.2,1424.5 M1550.7,1423.4 L1551.5,1418.6 L1552.5,1413.9 L1551.8,1409 L1553,1404.2 L1552.9,1399.4 L1552,1394.6 L1552.6,1389.8 L1552.3,1384.9 M1551.1,1727.8 L1555,1726.3 L1559.2,1726.7 L1563.2,1728.1 L1567.4,1727.6 L1571.3,1728.7 L1575.2,1730.2 L1579,1731.6 L1582.5,1733.8 M1551.8,1318.3 L1555.9,1315.8 L1559,1312.3 L1563.4,1310.5 L1568,1309.5 L1572.7,1309.3 L1577.2,1307.9 L1581.7,1306.5 L1585.4,1303.5 M1552.2,881.5 L1553.4,875.6 L1557.1,870.8 M1552.2,881.5 L1555.7,883.8 L1558.1,887.3 L1559.5,891.2 L1562,894.6 L1563.6,898.5 L1566.9,901.2 L1570.1,903.8 L1572.9,906.8 L1574.6,910.7 L1575.3,914.8 L1578.4,917.9 L1579.6,922 L1581.3,925.9 L1581.7,930.2 L1581.5,934.5 L1580.5,938.6 M1552.2,1424.5 L1553.6,1429 L1552.6,1433.6 L1552.5,1438.1 L1553.4,1442.6 L1555.5,1446.8 L1555.7,1451.4 L1556.4,1456.1 L1559.2,1459.8 M1552.2,1424.5 L1558.4,1423 L1563.1,1418.7 L1568.8,1416 L1575,1415.4 L1581.5,1415.5 L1587.2,1412.5 L1593.3,1413.9 L1599.6,1414.2 M1552.3,1384.9 L1558.4,1382 L1564.8,1380.1 M1552.6,1658.1 L1555.6,1658.4 M1552.8,1753.9 L1557.9,1753.1 L1562.6,1751 M1553.5,1047.7 L1554.3,1047.3 M1553.5,1047.7 L1557.2,1045.8 L1560.4,1043 L1564.4,1041.9 L1568.2,1040.3 M1553.9,1108.1 L1559.6,1109 L1565,1110.8 M1554.3,1047.3 L1558,1046 L1561.8,1044.9 L1564.8,1042.3 L1568.2,1040.3 M1554.3,1047.3 L1558.1,1050.9 L1560.5,1055.5 L1564.6,1058.8 L1567.9,1062.7 L1573,1064.1 L1578.2,1065.2 L1582.7,1068.1 L1586.3,1072 M1554.4,671 L1558.8,669.3 L1563.2,667.3 M1555,518 L1557.8,514.7 L1560,511 M1555.6,1658.4 L1558.2,1660.8 L1561.2,1662.7 L1563.9,1665.1 L1567.2,1666.4 M1555.6,1658.4 L1558,1654 L1561.8,1650.8 L1563,1646 L1565.5,1641.8 L1570.4,1640.6 L1574.5,1637.7 L1577.7,1634 L1581.8,1631.2 M1555.7,1603 L1561,1601.6 M1556,433.5 L1561,432.6 L1566,432 M1557.1,870.8 L1562.5,870.8 L1567.8,870.1 L1572.2,867 L1577.2,865 L1580.1,860.4 L1583.3,856.2 L1588.1,853.8 L1592.4,850.6 M1557.5,1250.9 L1559.8,1245.9 L1559.8,1240.4 L1561.1,1235.1 L1561.4,1229.7 L1561.7,1224.3 L1560.7,1218.9 L1559.9,1213.5 L1557.8,1208.5 M1557.5,1250.9 L1559,1251.5 M1557.8,1208.5 L1561.7,1207.7 L1565.3,1205.9 L1569.1,1204.6 L1572.4,1202.3 M1558,481.5 L1561.1,484.4 M1558.5,588.7 L1562.1,586.9 L1566,586 L1570,585.3 L1574,586.3 L1577.6,584.7 L1581.6,584.5 L1585.6,584.6 L1589.5,584.6 M1558.7,1902.9 L1565.7,1902.6 L1572.4,1900.9 M1559,1251.5 L1559.6,1255.8 L1561.9,1259.4 M1559,1251.5 L1559.8,1255.1 L1561.7,1258.2 L1562.3,1261.8 L1564,1265 M1559.2,1459.8 L1562.2,1461.5 M1560,511 L1561.9,507.6 L1564.6,505 L1564.8,501.1 L1566,497.5 M1561,1601.6 L1565.1,1596.5 L1568.4,1590.8 L1573.6,1586.9 L1578.6,1582.6 M1561,1601.6 L1565.7,1602.9 L1569.3,1606.2 L1571.2,1610.8 L1575,1613.9 L1576.5,1618.5 L1576.3,1623.4 L1578.1,1627.9 L1581.8,1631.2 M1561.1,484.4 L1564,485.1 M1561.1,484.4 L1564.5,487.7 M1561.9,1259.4 L1564,1265 M1561.9,1259.4 L1565.5,1258.5 L1569.2,1258.2 L1572.9,1257.6 L1576.5,1256.5 L1580.1,1257.7 L1583.9,1258.2 L1587.6,1257.1 L1591.3,1256.5 L1594.5,1254.5 L1597.8,1252.5 L1600,1249.3 L1603.1,1247.1 L1606.9,1246.6 L1610.5,1245.7 L1614.4,1245 L1617.5,1242.7 M1562.2,1461.5 L1563.8,1465.7 L1565.7,1469.9 L1567.5,1474.2 L1570.9,1477.3 M1562.2,1461.5 L1567.8,1459.3 L1572.3,1455.3 L1577.6,1452.5 L1582.6,1449.3 L1587.7,1446.1 L1593.1,1443.4 L1599.1,1443 L1604.7,1440.5 M1562.6,1751 L1566,1752.7 M1562.6,1751 L1566.6,1752.8 L1570.4,1754.9 M1563.2,667.3 L1565.3,671.1 L1565.5,675.4 M1564,485.1 L1566.3,488.3 L1567.9,491.8 L1568.1,495.7 L1568.6,499.6 L1571.6,502 L1574.5,504.5 L1576.9,507.5 L1579,510.7 L1581.8,513.4 L1584.3,516.2 L1584.9,520.1 L1586.7,523.5 L1590.4,524.8 L1593.5,527.3 L1595.2,530.8 L1597.6,533.8 M1564,485.1 L1567.9,482.9 L1572.3,482.1 L1576.1,479.7 L1580.1,477.8 L1582.8,474.2 L1585.4,470.5 L1589.7,468.9 L1593.3,466.1 L1596.7,463.3 L1600.5,461.1 L1604,458.3 L1608.1,456.6 L1610.9,453.2 L1613.3,449.5 L1616.5,446.3 L1620.4,444.1 M1564,683.5 L1564.6,679.4 L1565.5,675.4 M1564,683.5 L1565.5,686.8 M1564,821 L1569.9,817.3 M1564,1265 L1565.7,1268.7 L1566,1272.7 L1565.6,1276.8 L1567.1,1280.6 M1564,1265 L1563,1269.8 L1564,1274.6 L1565.8,1279.1 L1567.7,1283.5 M1564.5,487.7 L1564.5,492.7 L1566,497.5 M1564.8,1380.1 L1567,1377.2 L1568.7,1374 L1571.5,1371.6 L1573.7,1368.7 L1573.7,1365 L1573.7,1361.3 L1575.5,1358 L1576.9,1354.6 M1564.8,1380.1 L1569.2,1384.3 L1573.8,1388.2 L1579.9,1388.5 L1585.5,1391 L1590.2,1395 L1596.1,1396.7 L1598.8,1402.2 L1603,1406.6 M1565,1110.8 L1564.8,1116.5 L1565.8,1122.1 L1564.7,1127.8 L1561.1,1132.4 L1564.4,1137 L1566.1,1142.4 L1567.2,1147.9 L1567,1153.5 M1565,1110.8 L1568.2,1109.5 M1565.5,686.8 L1568.4,693.1 M1565.5,686.8 L1569,684.9 L1572.7,683.4 L1576.1,681.5 L1579.1,678.8 L1581.8,675.9 L1585.4,674.1 L1588.9,672.1 L1591.6,669.2 M1566,432 L1569.8,429.3 L1573,426 M1566,1752.7 L1570.4,1754.9 M1566,1752.7 L1567.2,1756.4 L1569.7,1759.3 L1572,1762.3 L1573.1,1766 L1576,1768.6 L1577.9,1772 L1579.3,1775.6 L1579.7,1779.5 L1581.2,1783.1 L1582.5,1786.8 L1582.4,1790.7 L1582.9,1794.6 L1582.4,1798.5 L1581.7,1802.3 L1580,1805.8 L1579.1,1809.6 M1566.5,1291 L1567.9,1287.4 L1567.7,1283.5 M1566.5,1291 L1569.9,1295.7 L1572.7,1300.7 M1566.7,1494.8 L1567.5,1490.2 L1567,1485.6 L1570,1481.9 L1570.9,1477.3 M1566.7,1494.8 L1570.5,1497.9 L1574.2,1501.1 L1575.5,1506 L1578.9,1509.7 L1582.1,1513.2 L1585.3,1516.9 L1587.7,1521.1 L1591.3,1524.4 M1566.9,1558 L1568.6,1552.4 L1572.9,1548.4 L1572.2,1542.6 L1574.2,1537.1 M1566.9,1558 L1567.8,1564.9 L1570.2,1571.5 L1574.2,1577.2 L1578.6,1582.6 M1567,1153.5 L1571.9,1157.1 L1576.1,1161.4 M1567.1,1280.6 L1567.7,1283.5 M1567.2,1666.4 L1567.5,1670.1 L1567.7,1673.8 L1567.5,1677.5 L1568.3,1681.2 L1571.2,1683.7 L1572.9,1687.1 L1573.5,1690.8 L1575.7,1694 M1567.2,1666.4 L1571.4,1665.9 L1575.5,1666.6 L1579.6,1666.9 L1583.7,1666 L1587.5,1664 L1591.7,1663.6 L1595.7,1662.1 L1599.9,1662.5 M1568.2,1040.3 L1571.9,1039.6 L1575.6,1039.1 L1579.2,1038.1 L1583,1038.4 M1568.2,1109.5 L1570.4,1104.6 L1573.2,1100 L1574.9,1094.7 L1574.2,1089.3 L1576.4,1084.4 L1579,1079.8 L1581.8,1075.1 L1586.3,1072 M1568.2,1109.5 L1573.1,1109.5 L1577.7,1111.4 L1582.4,1110.5 L1587.3,1110.3 L1591.1,1113.2 L1595.7,1114.8 L1599.8,1117.1 L1604.2,1119.1 M1568.4,693.1 L1571.9,690.6 L1575.8,688.7 M1568.6,953.3 L1568,957 L1567.2,960.6 L1566.8,964.3 L1566.9,968 L1566.2,971.7 L1564.8,975.2 L1564.8,979 L1565.9,982.7 L1566.5,986.4 L1567.4,990 L1567.8,993.8 L1569.9,997 L1571.3,1000.5 L1573.7,1003.4 L1574.9,1007 L1577.2,1010 M1568.6,953.3 L1572.8,950.8 L1575.9,947 L1577.6,942.5 L1580.5,938.6 M1569.9,817.3 L1570.8,813.9 L1572.1,810.6 M1570.4,1754.9 L1573.9,1754.2 L1577.3,1752.8 L1580.5,1751.2 L1584.2,1751 M1570.9,1477.3 L1576.2,1476.3 L1581.4,1474.9 L1586.6,1475.9 L1591.8,1477.3 L1597.1,1477.5 L1602.3,1478.5 L1607.5,1479.4 L1612.2,1482 M1572.1,810.6 L1576.5,805.5 M1572.4,1202.3 L1572.8,1197.1 L1574.5,1192.2 L1575.5,1187.1 L1576.8,1182.1 L1575.1,1177.1 L1575.1,1171.8 L1576.5,1166.7 L1576.1,1161.4 M1572.4,1202.3 L1578.1,1202.1 L1583.6,1203.7 L1588.8,1206 L1593.9,1208.5 M1572.4,1900.9 L1576.8,1901.4 L1581.3,1902 L1585.6,1903.3 L1590,1903.9 M1572.7,1300.7 L1574.8,1294.7 L1574,1288.4 M1573,426 L1577.4,423.8 L1582,422 M1574,1288.4 L1577.4,1291.2 L1581.3,1293.3 M1574.2,1537.1 L1577.9,1533.2 L1582.7,1530.7 L1586.2,1526.5 L1591.3,1524.4 M1575.6,1815.7 L1576.4,1821.1 L1577,1826.6 L1576.4,1832.1 L1574.4,1837.3 L1574.9,1842.7 L1576.1,1848 L1578.3,1853.1 L1578.4,1858.6 M1575.6,1815.7 L1577.9,1813 L1579.1,1809.6 M1575.7,1694 L1580.4,1696.1 L1585,1698.6 M1575.8,688.7 L1580.8,691.3 L1585.4,694.6 M1576.1,1161.4 L1580.1,1159.1 L1583.2,1155.8 L1587.4,1154.1 L1592,1153.8 L1596.5,1154.5 L1600.8,1153.2 L1605.3,1152.8 L1609.6,1154.2 M1576.5,800.3 L1576.5,805.5 M1576.5,800.3 L1580.1,796.2 L1583.9,792.2 M1576.9,1354.6 L1581,1352.7 L1585.3,1351.3 L1589.7,1350.4 L1594.2,1349.6 M1577.2,1010 L1578,1014.8 L1581,1018.6 L1584,1022.2 L1587.5,1025.3 L1592,1027 L1595.4,1030.3 L1599.5,1032.6 L1604,1033.8 M1578.4,1858.6 L1581.8,1861 L1584.2,1864.4 L1585.8,1868.3 L1588.7,1871.2 L1592.5,1873 L1596.5,1874 L1599.7,1876.6 L1603.1,1878.9 M1578.6,1582.6 L1585.4,1583.2 L1592.2,1584.2 L1599.2,1583.5 L1605.9,1585.2 M1579.1,1809.6 L1585.7,1810 L1592,1811.7 L1598.6,1811 L1604.4,1807.6 L1610.7,1808.8 L1616.9,1810.2 L1623.3,1810.3 L1629.7,1809.5 M1580.5,938.6 L1584.9,936.4 L1589.9,936.5 L1594.7,936.4 L1599.5,936.4 M1581.3,1293.3 L1585.7,1294.5 L1590,1295.9 M1581.3,1293.3 L1587.4,1295.4 L1593.6,1297 M1581.7,720.5 L1583.7,716.3 L1583.9,711.6 M1581.7,720.5 L1585,722.2 L1587.6,724.9 M1581.8,1631.2 L1586.3,1629.6 L1591,1629.9 L1595.6,1630.8 L1599.7,1633.2 M1582,422 L1587.3,424.9 L1593,427 M1582.5,1733.8 L1583.1,1729.2 L1583.4,1724.6 L1586.6,1721 L1587.9,1716.5 L1585.2,1712.6 L1584.5,1707.9 L1585.6,1703.3 L1585,1698.6 M1582.5,1733.8 L1586.4,1737.5 L1590.1,1741.4 M1583,1038.4 L1589.5,1036.1 L1596,1033.8 M1583.9,711.6 L1585.1,707.2 L1586.1,702.8 M1583.9,792.2 L1584.3,791.8 M1584.2,1751 L1587.9,1747.7 M1584.2,1751 L1586.9,1748.1 L1590.1,1745.8 M1584.3,791.8 L1586.1,790 M1584.3,791.8 L1586.1,797.5 L1590.2,801.8 L1590.9,807.6 L1593,813.1 L1595.2,818.6 L1597.7,824 L1596.6,829.9 L1597.1,835.8 M1585,1698.6 L1591.3,1699.4 L1597.3,1697.1 L1602.6,1694 L1608.2,1691.3 M1585.4,694.6 L1588.5,696.5 L1592.1,696.8 M1585.4,1303.5 L1588,1299.9 L1590,1295.9 M1585.4,1303.5 L1586,1309.6 L1587.5,1315.6 L1591.1,1320.7 L1594.7,1325.6 L1592.5,1331.4 L1591.8,1337.5 L1594.4,1343.3 L1594.2,1349.6 M1586.1,702.8 L1588.4,699.1 L1592.1,696.8 M1586.1,790 L1586.2,788.9 M1586.2,788.9 L1586.2,785 L1586.9,781.1 M1586.2,788.9 L1591,786.6 L1595.2,783.3 L1599.5,780.2 L1604,777.4 L1608.6,774.6 L1613.8,773 L1619.2,771.9 L1624.6,772.7 L1630.1,772.9 L1635,775.4 L1640.5,776.2 L1645.7,774.4 L1651.1,773.8 L1656.4,773.4 L1661.4,771.3 L1666.1,768.7 M1586.3,1072 L1589.5,1069.9 L1593.4,1069.5 L1596.9,1067.8 L1600.8,1067.9 L1604.4,1066.8 L1607.8,1065.1 L1611.7,1065.3 L1615.2,1063.7 M1586.9,781.1 L1589.7,776.5 L1592.8,772.2 M1587.6,724.9 L1591.3,730.1 M1587.9,1747.7 L1590.1,1745.8 M1587.9,1747.7 L1590.5,1750.4 L1592.6,1753.4 L1596,1755 L1598.5,1757.8 L1601.8,1759.6 L1604.8,1761.7 L1608.5,1762.1 L1612,1763.4 L1615.5,1764.9 L1618.1,1767.7 L1620.5,1770.5 L1622,1773.9 L1623.8,1777.2 L1627,1779.3 L1630.1,1781.3 L1633.6,1782.5 M1589.5,584.6 L1591.5,586.4 M1589.5,584.6 L1591.3,578.3 L1592.7,572 L1593,565.4 L1592,558.9 L1592.9,552.6 L1593.8,546.2 L1596.8,540.3 L1597.6,533.8 M1590,1295.9 L1593.6,1297 M1590,1903.9 L1595.4,1900.2 L1601.8,1899 M1590.1,1741.4 L1590.2,1745.8 M1590.1,1741.4 L1593.8,1737.7 L1598.8,1736.2 L1603.7,1734.6 L1608.8,1734.5 L1612.9,1731.1 L1614.9,1726.2 L1620,1725.1 L1624.2,1721.9 M1590.1,1745.8 L1590.2,1745.8 M1590.1,1745.8 L1596.5,1747.9 L1602.1,1751.8 M1590.2,1745.8 L1595.7,1749.7 L1602.1,1751.8 M1591.3,730.1 L1592.3,733 M1591.3,1524.4 L1595,1524.2 L1598.6,1524.7 L1602.3,1524.3 L1605.7,1522.7 M1591.5,586.4 L1592.9,591.5 L1595,596.4 L1594.5,601.7 L1594.9,607 L1594.9,612.2 L1594.8,617.4 L1593.7,622.6 L1594.8,627.8 L1593.9,633.1 L1592.5,638.3 L1594.4,643.4 L1595.5,648.7 L1592.6,653.3 L1591,658.5 L1590.1,663.9 L1591.6,669.2 M1591.5,586.4 L1595,585.6 L1598.2,584.2 L1601.8,584.4 L1605.2,585.3 L1612.1,585.6 L1618.9,587 L1625.3,589.4 L1630.9,593.5 L1637,596.5 L1643.3,599.3 M1591.6,669.2 L1597.1,670.5 L1601.7,674 L1607.1,675.4 L1612.6,676.3 L1618.2,677.3 L1623.8,678.3 L1629.1,676.3 L1634.8,675.7 M1592.3,733 L1593.5,736.7 M1592.3,733 L1596.4,732.1 L1600.6,732.5 L1604.6,731 L1607.8,728.2 L1611.3,726.1 L1615.3,725.4 L1619,723.5 L1622.9,722.5 L1626.9,723.1 L1630.9,723.2 L1635,722.5 L1639,723.7 L1643.1,723.9 L1647.1,723.7 L1651,725.1 L1655.1,725.2 M1592.4,850.6 L1592.8,846.7 L1593.2,842.7 L1594.5,838.9 L1597.1,835.8 M1592.4,850.6 L1594.5,853.7 L1596.3,857 L1598.7,859.8 L1601.1,862.7 L1604.2,864.9 L1607.5,866.8 L1610.5,869.2 L1612.3,872.6 L1615,875.2 L1617.9,877.5 L1621.3,879.2 L1624,881.8 L1626.3,884.7 L1629.3,886.9 L1631.5,890.1 L1634.6,892.2 M1592.8,765.6 L1592.8,772.2 M1592.8,765.6 L1596.4,766.3 L1600,766.6 L1603.2,768.4 L1606.1,770.7 M1593,427 L1598.1,427.3 L1603,426 M1593.5,736.7 L1596.7,739.5 L1599.5,742.7 M1593.6,1297 L1598.8,1298.1 L1603.4,1300.7 M1593.9,1208.5 L1597,1212.4 L1601,1215.5 L1604,1219.5 L1607.5,1223.1 L1610.8,1226.9 L1614.5,1230.4 L1617.1,1234.8 L1618.3,1239.8 M1593.9,1208.5 L1596.3,1203.6 L1598.4,1198.5 L1599.9,1193.1 L1603.4,1188.8 L1608.2,1185.5 L1613.7,1184.2 L1617.8,1180.2 L1620.7,1175.3 M1594.2,1349.6 L1598.3,1351.4 L1602.7,1352 L1606.6,1354.2 L1610.6,1356.1 M1596,1033.8 L1599.3,1033.8 M1596,1033.8 L1600,1034.5 L1604,1033.8 M1597.1,835.8 L1602.1,834.7 L1606.3,831.8 L1611.3,831 L1615.6,828.2 L1620.6,828.1 L1625.6,829.1 L1630.7,829.2 L1635.5,827.3 L1640.1,825.5 L1644.8,823.7 L1649.6,822.7 L1654.6,822.3 L1659.6,822.4 L1664.3,820.7 L1669.1,819.4 L1674.1,819.6 M1597.6,533.8 L1601.9,531.3 L1606.7,530.6 L1611.4,529.1 L1616.3,529 L1621.1,529 L1625.9,530.1 L1630.8,530.5 L1635.6,529.6 L1640.4,528.6 L1644.3,525.6 L1648.4,523 L1652.1,520 L1655.6,516.7 L1659.2,513.5 L1663.8,511.8 L1667.3,508.3 M1599.3,1033.8 L1605.2,1033.8 M1599.3,1033.8 L1602.6,1036.3 L1605.2,1039.3 L1606.2,1043.3 L1608.3,1046.8 L1610.9,1050 L1613.9,1052.8 L1614.6,1056.9 L1616,1060.7 M1599.5,742.7 L1603.2,743.1 L1606.8,743.8 L1610.6,743.5 L1614.2,742.7 M1599.5,936.4 L1601.8,933.5 L1603.9,930.5 L1605.7,927.3 L1607.2,923.9 L1610.1,921.5 L1612.6,918.7 L1616.4,918.3 L1619.9,916.5 L1621.4,913.2 L1622.9,909.9 L1623.7,906.3 L1624.7,902.8 L1626.9,899.9 L1628.9,896.8 L1632.1,895 L1634.6,892.2 M1599.5,936.4 L1605.1,938.9 L1610.1,942.6 L1615.6,945.4 L1619.9,949.9 L1624,954.6 L1629.2,958 L1633.8,962 L1637.4,967.1 M1599.6,1414.2 L1600.6,1410.1 L1603,1406.6 M1599.6,1414.2 L1601.9,1420.6 L1602.7,1427.3 L1603.3,1433.9 L1604.7,1440.5 M1599.7,1633.2 L1597.4,1627.3 L1598.3,1621 L1598.7,1614.9 L1600,1608.8 L1603.7,1603.7 L1605.6,1597.7 L1606.4,1591.5 L1605.9,1585.2 M1599.7,1633.2 L1602.2,1635.7 L1605.2,1637.8 L1607.7,1640.3 L1609.8,1643.2 M1599.9,1662.5 L1600.3,1666.5 L1602.3,1669.9 L1604.2,1673.3 L1607.1,1676 L1606.9,1679.9 L1607.6,1683.7 L1608.4,1687.4 L1608.2,1691.3 M1599.9,1662.5 L1603.8,1658.5 L1607,1653.9 L1609.1,1648.8 L1609.8,1643.2 M1601.8,1899 L1604.6,1897.6 M1602.1,1751.8 L1606,1753.1 L1610,1752.5 L1614,1751.8 L1618,1752.5 M1602.4,1016.3 L1604,1012.8 L1604.3,1008.9 M1602.4,1016.3 L1604,1021.8 L1605.2,1027.4 M1603,426 L1605.4,421.8 L1606,417 M1603,1406.6 L1605.2,1404.8 M1603.1,1878.9 L1603.5,1883.7 L1605.1,1888.2 L1605.2,1892.9 L1604.6,1897.6 M1603.1,1878.9 L1605.5,1875.6 L1608.2,1872.6 L1611.9,1870.7 L1615,1868.1 L1618.1,1865.5 L1621.5,1863.2 L1625,1861.1 L1627.3,1857.7 M1603.3,1003.3 L1604.3,1008.9 M1603.3,1003.3 L1603.3,998.2 L1605.3,993.5 L1607.1,988.7 L1606.9,983.6 M1603.3,1003.3 L1603.5,998 L1602.6,992.7 L1603.7,987.4 L1607,983 M1603.4,1300.7 L1609.7,1302.9 L1615.8,1305.7 M1604,1033.8 L1605.2,1033.8 M1604.2,1119.1 L1606.1,1125.4 L1607.5,1131.9 L1610.8,1137.7 L1613.4,1143.8 M1604.2,1119.1 L1607.3,1114.9 L1611.9,1112.7 L1615.9,1109.7 L1619.9,1106.7 L1622.4,1102.3 L1625.2,1098.2 L1626.5,1093.2 L1629.9,1089.3 M1604.6,1897.6 L1610,1894.8 L1615.5,1892.1 M1604.7,1440.5 L1605.8,1444.1 L1607.9,1447.2 L1609.9,1450.4 L1613.1,1452.5 L1615.2,1455.5 L1617.5,1458.5 L1620.4,1460.9 L1623.9,1462.3 M1605.2,1027.4 L1605.2,1033.8 M1605.2,1404.8 L1604.5,1400.1 L1604,1395.5 L1604.9,1390.8 L1607.3,1386.6 L1610.8,1383.5 L1612.9,1379.3 L1614,1374.8 L1616.1,1370.6 M1605.2,1404.8 L1609,1404 L1612.8,1404.9 L1616.6,1405.3 L1620.4,1405.7 L1624.2,1406.7 L1628.1,1406.7 L1631.3,1409 L1634.7,1410.9 M1605.7,1522.7 L1610,1520.5 L1613.3,1517.1 M1605.7,1522.7 L1607.3,1526.2 L1608.8,1529.8 L1607.8,1533.6 L1608.2,1537.5 L1609,1541.4 L1608.2,1545.2 L1609.5,1548.9 L1611.7,1552.1 L1611.9,1556 L1613.2,1559.6 L1613.8,1563.5 L1615.9,1566.8 L1614.2,1570.3 L1613.5,1574.2 L1614.5,1578 L1614.3,1582 M1605.9,1585.2 L1609.7,1582.6 L1614.3,1582 M1606,417 L1610.8,415.3 L1615,412.3 M1606.1,770.7 L1607.8,765.2 L1606.8,759.6 M1606.8,759.6 L1611.3,756.7 M1606.9,983.6 L1607,983 M1606.9,983.6 L1611.7,986.3 L1616.1,989.5 L1618.7,994.3 L1622.7,998.2 L1627,1001.7 L1632.1,1004 L1637.6,1004.9 L1643.2,1004.5 M1607,983 L1610.1,979.4 L1614.4,977.5 M1608.2,1691.3 L1614.1,1694.1 M1609.6,1154.2 L1611.5,1149 L1613.4,1143.8 M1609.6,1154.2 L1612.9,1159.2 L1615,1164.8 L1616.9,1170.6 L1620.7,1175.3 M1609.8,1643.2 L1613.9,1642.7 L1618.1,1642.7 L1622.1,1643.8 L1626.2,1644.1 L1630.4,1644.5 L1634.5,1643.8 L1638.3,1642.1 L1642.4,1641.4 M1610.6,1356.1 L1611.9,1359.9 L1611.9,1363.9 L1613.2,1367.7 L1616.1,1370.6 M1610.6,1356.1 L1614.7,1353.8 L1617.6,1350 L1620.3,1346.2 L1622.1,1341.9 L1625.6,1338.7 L1627.6,1334.4 L1631.6,1332.1 L1634.7,1328.6 M1611.3,756.7 L1615,753 M1612.2,1482 L1612.5,1486.4 L1612.6,1490.8 L1612.6,1495.4 L1614.4,1499.5 L1615.6,1503.9 L1615.3,1508.4 L1613.7,1512.6 L1613.3,1517.1 M1612.2,1482 L1614.6,1476.7 L1616.6,1471.3 L1620.6,1467.1 L1623.9,1462.3 M1613.3,1517.1 L1619.1,1517.9 L1624.9,1516.8 L1630.6,1518.4 L1635.3,1521.9 M1613.4,1143.8 L1618,1142.1 L1622.9,1141.7 L1627.8,1142.5 L1632.4,1144.1 L1636.1,1140.9 L1639.7,1137.6 L1644.6,1137.3 L1649.2,1135.4 M1614.1,1694.1 L1614.4,1697.9 L1616,1701.4 L1616.5,1705.1 L1617,1708.8 L1618.9,1712.1 L1621.7,1714.7 L1622.9,1718.3 L1624.2,1721.9 M1614.1,1694.1 L1616.3,1689.9 L1619,1685.8 L1623.4,1683.8 L1626.8,1680.3 L1631.3,1678.8 L1635.4,1676.5 L1639.8,1674.9 L1644.5,1674.2 M1614.2,742.7 L1615.1,747.8 L1615,753 M1614.3,1582 L1617.5,1582.5 M1614.4,977.5 L1618.9,975.2 L1623.7,973.8 M1615,412.3 L1617.5,411 M1615,412.3 L1615.6,416.3 L1616.2,420.3 L1618.3,423.9 L1618.7,428 L1619.4,432 L1619.6,436.1 L1620.1,440.1 L1620.4,444.1 M1615.2,1063.7 L1616,1060.7 M1615.2,1063.7 L1616.9,1067 L1618.1,1070.6 L1619.6,1074.1 L1622.7,1076.4 L1623.3,1080.2 L1624.9,1083.6 L1626.7,1087.1 L1629.9,1089.3 M1615.5,1892.1 L1619.6,1892.8 L1623.6,1892.1 L1627.2,1894.2 L1631.2,1895 M1615.8,1305.7 L1618.9,1302 L1623,1299.5 M1616,1060.7 L1619.4,1056.3 L1623.9,1053 L1626.3,1047.9 L1630.9,1044.5 L1635.5,1041.5 L1639.2,1037.3 L1643.9,1034.2 L1649.1,1032.3 M1616.1,1370.6 L1621.9,1370.3 L1627.8,1370.1 L1633.7,1371 L1639.5,1369.5 L1645.4,1369.9 L1651,1372 L1655.6,1375.9 L1661.4,1377.5 M1616.6,1738.7 L1618,1742 L1618.8,1745.4 L1619,1749 L1618,1752.5 M1616.6,1738.7 L1618.8,1735.6 L1621.6,1733 L1623.8,1729.7 L1627.2,1727.8 M1617.5,411 L1621.1,410.4 L1624.7,410.5 L1628.4,410.4 L1632,410.6 M1617.5,1242.7 L1618.3,1239.8 M1617.5,1242.7 L1621.1,1248.3 L1621.5,1255 L1624,1261 L1627.7,1266.3 L1629,1272.8 L1631.3,1279.1 L1629.7,1285.5 L1628.3,1292 M1617.5,1582.5 L1618.1,1582.9 M1617.5,1582.5 L1620,1579.3 L1622.8,1576.3 L1623,1572.1 L1624.8,1568.4 L1628.3,1566.2 L1632.1,1564.8 L1634.1,1561.1 L1637.5,1558.8 L1639.9,1555.5 L1642.7,1552.5 L1646.6,1551.4 L1650.1,1549.1 L1651.1,1545.2 L1653,1541.7 L1655.9,1538.8 L1657.8,1535.3 M1618,1752.5 L1624.5,1752.2 L1630.5,1749.7 M1618.1,1582.9 L1621.3,1585.2 L1623.1,1588.6 L1625.1,1591.9 L1626.4,1595.5 L1627.1,1599.4 L1629.6,1602.5 L1633,1604.5 L1635.6,1607.3 L1638.9,1609.5 L1641.7,1612.3 L1643,1616.1 L1645.4,1619.2 L1646.8,1622.9 L1649,1626.2 L1648.3,1630.2 L1649.3,1634.1 M1618.1,1582.9 L1623.7,1582.3 L1629.2,1580.8 L1635,1580.2 L1640.4,1582.5 L1646,1582.8 L1651.5,1583.7 L1657.2,1583.8 L1662.7,1582.5 M1618.3,1239.8 L1623.6,1237.9 L1627.9,1234.4 M1620.4,444.1 L1625.7,448.2 L1629.9,453.4 L1635.8,456.7 L1642.4,457.7 L1648.3,460.8 L1653.2,465.2 L1659.8,465.9 L1665.7,469 M1620.7,1175.3 L1627.4,1175.8 L1634.1,1176.4 L1640.4,1179.1 L1645.3,1183.8 M1622.5,1707.5 L1623.1,1711.7 L1623.7,1715.9 M1622.5,1707.5 L1626,1703.9 M1623,1299.5 L1625.7,1296.2 L1626.8,1292 M1623.7,973.8 L1628.6,973.2 L1633,971 M1623.7,1505.1 L1626.2,1501.2 L1627.2,1496.7 M1623.7,1505.1 L1629.5,1508.1 L1633.2,1513.5 M1623.7,1715.9 L1625.7,1722.6 M1623.7,1715.9 L1625.1,1722 L1627.2,1727.8 M1623.9,1462.3 L1627.5,1460 L1631.7,1459.7 L1635.5,1457.9 L1639.4,1456.7 L1643.5,1457.1 L1647.6,1457.6 L1651.8,1457.1 L1655.9,1457.5 M1624.2,1721.9 L1625.7,1722.6 M1624.4,1440 L1625,1443.6 L1625.6,1447.3 M1624.4,1440 L1628.6,1436.4 L1630.5,1431.3 M1625.6,1447.3 L1630.1,1450.6 L1635.5,1452.2 M1625.7,1722.6 L1627.2,1727.8 M1626,1703.9 L1631.5,1703.7 L1637,1703.6 L1642.4,1703.6 L1647.9,1703.9 L1651.9,1699.8 L1657,1697.4 L1662.6,1696.9 L1667.7,1694.4 M1626,1703.9 L1632.2,1702.7 L1638.5,1703.5 L1644.8,1703.5 L1650.8,1705.4 L1656.3,1702.2 L1662.2,1700.2 L1668.4,1699.2 L1674.2,1696.8 L1678.6,1692.2 L1683.6,1688.2 L1690.1,1687 L1695.6,1683.6 L1702,1683.2 L1708,1680.8 L1714.4,1681.2 L1720.7,1682.3 M1626.8,1292 L1628.3,1292 M1626.8,1292 L1631.5,1292 M1627.2,1496.7 L1633.3,1496.1 L1639.2,1494.3 M1627.3,1857.7 L1628.3,1852.7 L1628.6,1847.6 L1629.9,1842.8 L1631.9,1838.1 L1631.2,1832.9 L1631.7,1827.7 L1634.9,1823.5 L1636.2,1818.4 M1627.3,1857.7 L1633.8,1858.9 L1640.3,1858.5 L1646.4,1860.8 L1651.9,1864.3 L1658.4,1864.1 L1664.7,1865.7 L1670.5,1868.7 L1676.7,1870.4 M1627.9,1234.4 L1631.4,1230.3 L1636.2,1227.9 L1638.4,1223.1 L1642.3,1219.4 L1644.6,1214.6 L1646.9,1209.8 L1648,1204.6 L1647.7,1199.3 M1627.9,1234.4 L1634.7,1234.7 L1640.7,1238.1 L1647.3,1236.6 L1653.9,1236.4 L1660.5,1237.5 L1666.3,1240.9 L1672.9,1241.3 L1679.3,1242.7 M1628.3,1292 L1632.1,1291.7 L1635.6,1293.1 L1639.4,1293.4 L1642.9,1292 M1629.7,1809.5 L1630.3,1806 L1631.1,1802.6 L1632.6,1799.3 L1634.6,1796.4 L1634.4,1792.9 L1634.7,1789.4 L1633.3,1786.1 L1633.6,1782.5 M1629.7,1809.5 L1633,1813.9 L1636.2,1818.4 M1629.9,1089.3 L1633.7,1091 L1637.7,1092.2 M1630.5,1431.3 L1630.7,1426.6 L1631.7,1421.9 L1632.6,1417.3 L1634.2,1412.8 M1630.5,1749.7 L1636.7,1748.2 L1643,1747 M1631.2,1895 L1636,1897 L1639.7,1900.8 L1644.8,1901.3 L1649.9,1902.1 M1631.5,1292 L1633.7,1297.3 L1636.6,1302.2 M1631.5,1292 L1637.2,1291.2 L1642.9,1292 M1632,410.6 L1634.9,416.5 L1638,422.4 M1633,971 L1637.4,967.1 M1633,971 L1636.1,967.2 L1640.3,964.5 M1633.2,1513.5 L1634.7,1517.6 L1635.3,1521.9 M1633.2,1513.5 L1634.7,1518.2 L1635.6,1523.1 M1633.6,1782.5 L1637.9,1779.3 L1641.8,1775.6 L1646.1,1772.4 L1651.3,1770.8 L1656.3,1768.5 L1660.3,1764.7 L1663.2,1760.2 L1666.5,1755.9 M1634.2,1412.8 L1634.7,1410.9 M1634.2,1412.8 L1636.6,1408.9 L1637.4,1404.4 L1639.3,1400.2 L1639,1395.6 M1634.6,892.2 L1641.3,892.3 L1647.9,891.7 M1634.7,1328.6 L1635.2,1322 L1634.6,1315.3 L1634,1308.5 L1636.6,1302.2 M1634.7,1328.6 L1637.9,1331.9 L1641.8,1334.4 L1645.2,1337.6 L1649.3,1339.6 L1652.2,1343.3 L1656.1,1345.8 L1659.6,1349 L1664,1350.6 M1634.7,1410.9 L1635.8,1407.1 L1636.2,1403.1 L1637.8,1399.4 L1639,1395.6 M1634.8,675.7 L1637.8,672.7 L1638.9,668.6 L1641.3,665.3 L1643,661.5 L1645.8,658.2 L1646.8,654 L1650.1,651.4 L1653.7,649.2 M1634.8,675.7 L1635.5,682.5 L1636.2,689.3 L1639.7,695.2 L1641.9,701.7 L1644.2,708.1 L1648.1,713.7 L1650.7,720 L1655.1,725.2 M1635.3,1521.9 L1635.6,1523.1 M1635.5,1452.2 L1638,1453 M1635.5,1452.2 L1641.3,1455.3 L1647.8,1456 M1635.6,1523.1 L1639.7,1524.5 L1643.3,1527.1 L1646.1,1530.5 L1650,1532.6 M1636.2,1818.4 L1641.3,1816.4 L1646.7,1815.7 L1652,1816.6 L1657.3,1817.8 L1662.3,1819.7 L1667.5,1821.4 L1672.8,1821.1 L1678.2,1820.4 M1636.6,1302.2 L1641.9,1302.5 L1647.1,1303.7 L1652.4,1303.1 L1657.7,1302.2 L1662.7,1304.2 L1666.5,1308 L1671.5,1309.6 L1676.1,1312.4 M1637.4,967.1 L1640.3,964.5 M1637.7,1092.2 L1638.4,1097.8 L1638.6,1103.4 L1640,1108.9 L1642.2,1114.1 L1643.4,1119.6 L1645.1,1124.9 L1645.9,1130.7 L1649.2,1135.4 M1637.7,1092.2 L1642.8,1092.9 L1647.9,1092.8 L1652.2,1089.8 L1657.3,1088.6 M1638,422.4 L1640.9,419.9 L1643.4,417 L1644.8,413.4 L1647.7,410.7 L1649.9,407.6 L1650.4,403.7 L1652.1,400.3 L1654,397 M1638,1453 L1642.6,1455.5 L1647.8,1456 M1638,1453 L1642,1451.4 L1645.3,1448.7 L1648,1445.5 L1650.7,1442.2 L1653.4,1439 L1656.5,1436.2 L1658.9,1432.8 L1661.3,1429.4 L1664.1,1426.1 L1667.9,1424.1 L1671.2,1421.5 L1675.2,1420.2 L1678.3,1417.3 L1681.4,1414.5 L1684.6,1411.7 L1686.8,1408.1 M1638,1481.1 L1638.8,1487.7 L1639.2,1494.3 M1638,1481.1 L1641.7,1481.8 L1645.3,1480.5 L1648.8,1479.3 L1652.4,1478.7 M1639,1395.6 L1639.4,1390.4 L1641.6,1385.7 M1640.3,964.5 L1644.1,964.9 L1647.7,966.4 M1641.6,1385.7 L1643.2,1381.5 L1646.5,1378.3 M1642.4,1641.4 L1641.9,1645.5 L1641.3,1649.6 L1641.7,1653.8 L1641.1,1657.9 L1642,1662.1 L1641.9,1666.3 L1642.4,1670.5 L1644.5,1674.2 M1642.4,1641.4 L1645.5,1637.4 L1649.3,1634.1 M1642.9,1292 L1642.5,1287.7 L1642.1,1283.4 L1641.9,1279 L1644,1275 M1643,1747 L1646.8,1748 L1650.8,1747.4 L1654.6,1748.2 L1658.2,1749.7 M1643.2,1004.5 L1646.3,1008.9 L1648.3,1014 L1648.9,1019.4 L1651.3,1024.3 M1643.2,1004.5 L1646.9,1000.9 L1650.3,997 L1653.5,993 L1656.8,989 L1660.8,985.5 L1664,981.4 L1669,979.7 L1673.6,977.1 M1643.3,599.3 L1645,605.7 L1644.9,612.3 L1644.1,618.8 L1643.5,625.3 L1648.5,629.9 L1651,636.2 L1652.1,642.8 L1653.7,649.2 M1643.3,599.3 L1648.1,594.7 L1654.4,592.4 L1661,591.8 L1666.8,588.3 L1672.4,584.6 L1676.2,579.1 L1682.1,575.9 L1688.5,574.2 M1644,1275 L1647.9,1274.9 L1651.5,1273.3 L1655,1271.6 L1657.6,1268.7 M1644.5,1674.2 L1648.4,1675.2 L1651.5,1677.7 L1653.8,1680.9 L1656.7,1683.6 L1659.4,1686.5 L1663,1688.2 L1664.5,1691.9 L1667.7,1694.4 M1645.3,1183.8 L1646.6,1187.5 L1647.6,1191.4 L1646.7,1195.4 L1647.7,1199.3 M1645.3,1183.8 L1649.3,1181.6 L1652.7,1178.6 L1656.3,1175.7 L1658.3,1171.6 M1646.5,1378.3 L1650.7,1381.6 L1654,1385.7 M1647.7,966.4 L1649.9,968.1 M1647.7,966.4 L1652.3,970 M1647.7,1199.3 L1653.5,1199.3 L1659.2,1200.5 L1664.7,1202.5 L1670,1205 L1674.5,1208.8 L1677.9,1213.7 L1683.9,1214.6 L1689.2,1217.5 M1647.8,1456 L1651.8,1457.4 L1656,1457.2 M1647.9,891.7 L1651.4,895.7 L1652.6,900.9 L1653.6,906.1 L1656,910.7 L1658.8,915.2 L1662.5,919 L1666.1,922.9 L1671,925 M1647.9,891.7 L1652,890.2 L1654.9,887 L1657.6,883.6 L1659.4,879.8 L1660.8,875.8 L1662.4,871.9 L1665,868.7 L1667.8,865.5 L1671.4,863.2 L1675.2,861.5 L1679,859.5 L1682.5,857.2 L1685,853.6 L1688.7,851.3 L1691.1,847.7 L1692.3,843.5 M1648.8,1557.8 L1649.4,1562.6 L1650,1567.4 M1648.8,1557.8 L1651.2,1553.7 L1654.8,1550.6 M1649.1,1032.3 L1649.4,1028.1 L1651.3,1024.3 M1649.1,1032.3 L1652.2,1037 L1656.1,1041.1 L1659.1,1045.9 L1661.1,1051.2 L1664.8,1055.7 L1669.9,1058.5 L1672.4,1063.6 L1675.4,1068.4 M1649.2,1135.4 L1653.2,1137.4 M1649.3,1634.1 L1653.9,1632.7 M1649.9,968.1 L1652.3,970 M1649.9,968.1 L1653.8,963.3 L1655,957.2 L1658.9,952.5 L1660.5,946.6 L1663.1,941.1 L1667,936.4 L1668.5,930.5 L1671,925 M1649.9,1902.1 L1655.9,1903.3 L1661.9,1902.1 M1650,1532.6 L1653.7,1532.6 L1657.2,1533.8 M1650,1567.4 L1652.6,1570.2 L1654.3,1573.6 L1656.6,1576.7 L1657.2,1580.5 M1651.3,1024.3 L1657.3,1026.3 L1663.4,1027.8 L1669.7,1027.3 L1675.9,1028.7 L1682,1027.3 L1687.9,1025.2 L1693.9,1023.4 L1699.8,1021.4 M1652.3,970 L1654.1,966.5 L1655,962.7 M1652.4,1478.7 L1652.9,1474.5 L1653.4,1470.3 L1655.1,1466.4 L1655.2,1462.1 M1652.4,1478.7 L1651.4,1473.2 L1651.8,1467.7 L1654.6,1462.9 L1655.9,1457.5 M1653.2,1137.4 L1653.8,1141.8 L1655.1,1146.1 L1656.6,1150.4 L1659.4,1154 L1658.6,1158.5 L1659.9,1162.8 L1658.4,1167.1 L1658.3,1171.6 M1653.2,1137.4 L1657.5,1134.6 L1662.5,1133.8 L1666.9,1131.3 L1670.1,1127.4 L1675.2,1127.7 L1679.9,1126 L1684.6,1124.3 L1689.5,1123.8 M1653.7,649.2 L1657.5,651.5 L1661.8,651.9 L1664.9,655 L1667.9,658 L1672,656.6 L1676.4,657.2 L1680.2,659.1 L1684.5,659.6 L1688.6,660.4 L1692.7,661.2 L1696.7,660.1 L1700.8,659.1 L1704.8,658.6 L1708.8,657.6 L1712.9,657.9 L1717,658.1 M1653.9,1632.7 L1657.7,1627.5 L1660.5,1621.7 L1660.8,1615.3 L1662.9,1609.2 L1666.2,1603.5 L1666.3,1597 L1668.2,1590.9 L1668.6,1584.6 M1653.9,1632.7 L1658.3,1632.7 L1662.8,1633.3 L1666.9,1634.9 L1671.1,1636.4 L1675.5,1636.2 L1679.7,1637.7 L1684.1,1638.7 L1688.5,1638.2 M1654,397 L1656.4,392.9 L1659.9,389.7 L1660.9,385.1 L1662,380.5 M1654,1385.7 L1656.4,1390.6 M1654.8,1550.6 L1658.3,1547.4 L1660.8,1543.4 M1655,962.7 L1660.6,959 M1655.1,725.2 L1658.6,727.9 M1655.2,1462.1 L1656,1457.2 M1655.2,1462.1 L1660.6,1464.8 L1666.2,1466.8 L1668.9,1472.4 L1673.9,1476 L1679.9,1475.5 L1685.7,1477.4 L1691.3,1479.3 L1696.3,1482.6 M1655.9,1457.5 L1656,1457.2 M1656.4,1390.6 L1659.9,1384.9 L1661.3,1378.3 M1657.2,1533.8 L1657.8,1535.3 M1657.2,1533.8 L1659.7,1538.3 L1660.8,1543.4 M1657.2,1580.5 L1662.7,1582.5 M1657.2,1580.5 L1662.2,1581.9 L1666.8,1584.1 M1657.3,1088.6 L1661.1,1082.9 L1666.7,1078.8 L1672.3,1074.7 L1675.4,1068.4 M1657.3,1088.6 L1660.1,1094.1 L1664.5,1098.4 L1669,1102.6 L1674.6,1105.1 L1676.2,1111.2 L1680.1,1116 L1684.4,1120.4 L1689.5,1123.8 M1657.6,1268.7 L1664.1,1269.6 L1670.5,1270.6 M1657.6,1268.7 L1661.8,1269.8 L1666.1,1271 L1670.5,1272.2 L1674.9,1271.2 M1657.8,1535.3 L1658.6,1539.6 L1660.8,1543.4 M1658.2,1749.7 L1660.6,1752.9 L1663.7,1755.3 M1658.2,1749.7 L1665.2,1749.9 L1672.2,1750.8 L1679.2,1751.3 L1686.2,1751.8 L1693.3,1751.2 L1700.1,1749.2 L1706.2,1745.5 L1713.3,1744.4 L1718.3,1739.4 L1724.3,1735.6 L1730.3,1731.8 L1736.9,1729.3 L1744.1,1729.7 L1751.3,1728.7 L1757.8,1725.7 L1763.8,1721.7 M1658.2,1765 L1662.3,1759.4 M1658.2,1765 L1664.6,1767.4 L1670.7,1770.5 M1658.3,1171.6 L1663.3,1171.3 L1668.3,1171.7 L1673,1173.5 L1677.3,1176.1 L1682.1,1175.3 L1686.9,1174.7 L1691.6,1173.1 L1696.5,1172.8 M1658.6,727.9 L1658.2,733.4 L1656,738.4 L1656.1,743.9 L1657.8,749.1 L1658.5,754.5 L1660.4,759.6 L1663.9,763.8 L1666.1,768.7 M1658.6,727.9 L1662.7,727.9 L1666.6,726.4 L1670.4,724.9 L1674,723.1 L1678,722.3 L1682.1,722 L1685.5,719.5 L1689.5,718.4 L1692.4,715.3 L1696.5,714 L1700.3,712.3 L1703.9,710.1 L1706,706.6 L1708.3,703.1 L1709.8,699.1 L1712.8,696.1 M1660.6,959 L1662.7,962.4 L1666.1,964.5 M1661.3,1378.3 L1661.4,1377.5 M1661.3,1378.3 L1660.9,1373.9 L1660,1369.5 L1660.2,1364.9 L1662.6,1361 M1661.4,1377.5 L1661.4,1373.4 L1661.8,1369.2 L1662.7,1365.2 L1662.6,1361 M1661.9,1902.1 L1665.4,1903.3 L1669.1,1902.9 L1672.6,1902.4 L1676.2,1902.1 M1661.9,1902.1 L1663.9,1898 L1667.3,1894.8 L1669.7,1891 L1673.4,1888.2 L1674,1883.7 L1674.6,1879.2 L1676.7,1875 L1676.7,1870.4 M1662,380.5 L1665.7,376.9 L1670,374 M1662.3,1759.4 L1666.4,1757.6 L1670.7,1756.7 M1662.6,1361 L1663.4,1355.8 L1664,1350.6 M1662.6,1361 L1661.7,1356.3 L1661.7,1351.5 L1664.3,1347.4 L1665,1342.6 M1662.7,1582.5 L1666.8,1584.1 M1663.7,1755.3 L1666.5,1755.9 M1663.7,1755.3 L1667.4,1755.2 L1670.7,1756.7 M1664,1350.6 L1664.6,1346.6 L1665,1342.6 M1665,1342.6 L1669.6,1341 M1665,1342.6 L1669.1,1341.8 L1673,1340.3 L1676.9,1338.9 L1680.6,1337.1 M1665.7,469 L1668,473.8 L1669.1,479 L1671.4,483.7 L1673.6,488.5 M1665.7,469 L1668.1,463.8 L1672.7,460.4 L1674.4,455.2 L1675,449.7 L1677,444.5 L1680.6,440.4 L1682.8,435.3 L1683.1,429.8 L1687.7,426.9 L1691.4,422.9 L1694.4,418.4 L1698.4,414.6 L1700.8,409.8 L1703.8,405.3 L1707.7,401.5 L1711.1,397.3 M1666.1,768.7 L1667.6,770.5 M1666.1,964.5 L1669.5,967.3 L1671.7,971 M1666.5,1755.9 L1670.7,1756.7 M1666.8,1584.1 L1668.6,1584.6 M1666.8,1584.1 L1671.3,1584.2 L1675.1,1586.5 M1667.3,508.3 L1670.4,503.9 L1672.3,499 L1672.3,493.7 L1673.6,488.5 M1667.3,508.3 L1669.4,511.7 L1670.9,515.5 L1672.9,519 L1674.7,522.6 L1675.7,526.6 L1678,530 L1680.7,533.1 L1681.8,537.1 L1682.8,541.2 L1683.7,545.3 L1682.7,549.4 L1682.2,553.7 L1684.1,557.5 L1684.7,561.8 L1687.6,564.9 L1690.4,568.1 M1667.6,770.5 L1668.9,776.7 L1671,782.7 L1669.1,788.8 L1669.3,795.2 L1672.5,800.8 L1673.7,807 L1672.6,813.4 L1674.1,819.6 M1667.6,770.5 L1672.1,769.7 L1676.7,769.2 L1681.3,769.3 L1685.8,768.1 L1689.4,765 L1693.9,763.6 L1698.5,762.9 L1702.7,760.9 L1707.1,762.4 L1711.8,762.1 L1716.2,760.3 L1720.9,760.7 L1725.5,759.9 L1730.1,759.9 L1734.3,762.3 L1739,762.7 M1667.7,1694.4 L1672.5,1693.6 L1676.4,1690.7 L1681,1692.2 L1685.7,1691.4 L1689.9,1689.2 L1693.9,1686.8 L1698.6,1686.6 L1703.3,1686.3 M1668.6,1584.6 L1675.1,1586.5 M1669.6,1341 L1673.4,1339.7 M1669.6,1341 L1671.1,1345.4 L1671,1350.1 L1669.2,1354.3 L1668.1,1358.8 L1666.9,1363.3 L1668,1367.9 L1671.3,1371.4 L1672.4,1376 L1673.4,1380.4 L1675.1,1384.6 L1675,1389.2 L1676.5,1393.5 L1679.2,1397.3 L1679.9,1402 L1683.2,1405.3 L1686.8,1408.1 M1670,374 L1669.9,367.1 L1673,361 M1670.4,351 L1671.4,356.1 L1673,361 M1670.4,351 L1672.1,347.3 L1673.8,343.7 M1670.5,1270.6 L1674.9,1271.2 M1670.5,1270.6 L1669.7,1266.9 L1670.5,1263.1 L1671.5,1259.5 L1672.8,1256 L1675,1252.9 L1677.3,1250 L1678.7,1246.4 L1679.3,1242.7 M1670.7,1770.5 L1671.7,1775.3 L1672,1780.2 M1671,925 L1675.9,925.5 L1680,928.2 L1684.8,928.6 L1689.5,927.4 L1694.3,927.9 L1699.1,927.5 L1703.1,924.8 L1707.6,923.1 L1712.2,924.5 L1715.8,927.6 L1720.4,928.7 L1725,929.7 L1729.6,929.1 L1734.3,929.1 L1738.8,930.1 L1743.5,930.5 M1671.7,971 L1673.4,969.3 M1671.7,971 L1674.5,968.2 M1672,1780.2 L1675.2,1783 L1678.1,1786.1 L1678.9,1790.4 L1681.3,1794 L1684.4,1796.9 L1687.4,1800 L1691.3,1801.8 L1695.6,1802.4 M1673.4,969.3 L1673.9,973.2 L1673.6,977.1 M1673.4,969.3 L1674.5,968.2 M1673.4,1339.7 L1678.1,1338.9 L1682.3,1336.5 M1673.4,1339.7 L1677.1,1339.5 L1680.7,1340.1 L1684.2,1341.1 L1687.7,1342.2 L1691.3,1342.5 L1695,1341.9 L1698.6,1341.4 L1702.2,1341.9 L1705.8,1342.8 L1709.1,1344.6 L1712.4,1346.2 L1716,1347.1 L1719.7,1346.6 L1723.3,1346.8 L1727,1347.8 L1730.7,1346.8 M1673.6,488.5 L1679.2,491.3 L1685.4,491.6 L1691.5,491.4 L1697.6,491.2 L1703.2,488.6 L1709.2,487.6 L1715.3,486.9 L1721.4,487.6 M1673.6,977.1 L1677.8,980 L1682.9,980.6 L1687,983.4 L1690.5,987 L1694.6,989.7 L1698.8,992.2 L1701.8,996.3 L1706.3,998.6 M1673.8,343.7 L1675,341 M1673.8,343.7 L1675.1,347.8 L1677,351.6 L1680.2,354.5 L1683.7,356.9 L1685.1,360.9 L1688.2,363.9 L1689.3,368 L1690.2,372 L1692.5,375.7 L1695.9,378.4 L1700.1,379.5 L1703.2,382.6 L1705,386.4 L1707.8,389.6 L1708.7,393.8 L1711.1,397.3 M1674.1,819.6 L1677.5,821.6 L1681.1,823.2 L1683.5,826.3 L1685.7,829.6 L1686.6,833.4 L1688.4,836.8 L1689.6,840.6 L1692.3,843.5 M1674.5,968.2 L1680,972 M1674.9,1271.2 L1679.8,1276 M1675,341 L1680,337.4 M1675.1,1586.5 L1677,1581.8 L1678.7,1577 M1675.4,1068.4 L1679.7,1068.1 L1683.6,1066.3 L1687.7,1067 L1691.9,1067.4 M1676.1,1312.4 L1678.6,1318.3 L1680.7,1324.3 L1682.2,1330.7 L1680.6,1337.1 M1676.1,1312.4 L1681.8,1309.2 L1686.7,1305 L1692.2,1301.4 L1697.2,1297.3 M1676.2,1902.1 L1681.1,1903.3 L1685.9,1904.9 M1676.7,1870.4 L1680.5,1868.2 L1684.6,1866.4 M1678.2,1820.4 L1678.1,1826.3 L1679.7,1832 L1678.5,1837.8 L1679.6,1843.7 L1679.3,1849.6 L1680,1855.5 L1683.7,1860.4 L1684.6,1866.4 M1678.2,1820.4 L1683.4,1816.6 L1686.7,1811.1 L1691.1,1806.6 L1696.2,1802.9 M1678.7,1577 L1680.1,1576.5 M1678.7,1577 L1682.3,1575.8 L1685.9,1574.6 M1679.3,1242.7 L1681.6,1241.1 M1679.8,1276 L1684.1,1276.3 L1688.4,1276 M1680,337.4 L1681.8,332.7 L1683.4,327.8 L1684.3,322.8 L1684,317.7 M1680,972 L1682,969 L1684.7,966.5 L1687.9,964.6 L1690.2,961.8 M1680.1,1576.5 L1685.9,1574.6 M1680.1,1576.5 L1682.9,1580.6 L1684,1585.4 L1687.8,1588.6 L1690.8,1592.4 L1694.8,1595.4 L1697,1599.8 L1699.9,1603.8 L1704.2,1606.2 M1680.6,1337.1 L1682.3,1336.5 M1681.6,1241.1 L1684.3,1235.5 L1685.5,1229.3 L1687.3,1223.4 L1689.2,1217.5 M1681.6,1241.1 L1686.6,1243 L1691.9,1243.9 L1696.9,1245.9 L1701.5,1248.6 L1705.5,1252.1 L1708.9,1256.3 L1712.9,1259.8 L1717.2,1263 M1682.3,1336.5 L1686.3,1334.4 L1689.7,1331.5 M1684,308 L1683.4,303.4 L1685,299 M1684,308 L1685.1,311.5 L1686.5,315 M1684,317.7 L1686.5,315 M1684.6,1866.4 L1690.3,1868.2 L1696.2,1867.9 L1702.1,1868.4 L1707.9,1869.3 L1712.8,1872.5 L1718,1875.3 L1723.3,1877.7 L1728.6,1880.3 M1685,285.7 L1685.7,292.4 L1685,299 M1685,285.7 L1690,285.7 M1685.9,1574.6 L1688.8,1571.5 L1691.9,1568.6 M1685.9,1904.9 L1689.5,1905 L1692.8,1903.5 M1686.8,1408.1 L1691.3,1408.6 L1695.4,1410.2 L1699.9,1410.3 L1704.3,1411.4 L1708.4,1409.3 L1713,1408.4 L1717.4,1409.8 L1722,1409.9 M1688.4,1276 L1689.5,1280.1 L1691.9,1283.6 L1692.9,1287.8 L1692,1292 M1688.5,574.2 L1690.4,568.1 M1688.5,574.2 L1692.2,577.7 L1694.1,582.4 L1698.2,585.4 L1700.4,590 L1704.6,592.8 L1707.6,596.8 L1711,600.4 L1715.1,603.3 L1717.1,607.9 L1719,612.6 L1721.9,616.9 L1726.3,619.5 L1726.8,624.6 L1728.7,629.3 L1732.1,633.1 L1734.4,637.6 M1688.5,1638.2 L1692.5,1635.6 L1696.6,1633.2 L1700,1629.7 L1701.9,1625.3 M1688.5,1638.2 L1690.4,1644.3 L1691.2,1650.6 L1692.3,1656.9 L1692.7,1663.2 L1695.3,1669.2 L1696.2,1675.6 L1700.6,1680.4 L1703.3,1686.3 M1689.2,1217.5 L1694.9,1213.8 L1699.4,1208.7 M1689.5,1123.8 L1695.3,1124.7 M1689.7,1331.5 L1693.3,1327.7 L1697,1324 M1690,285.7 L1692.5,288.5 L1694,292 M1690.2,961.8 L1692.7,958.9 L1693.9,955.3 M1690.4,568.1 L1694.7,566.1 L1698.2,562.9 L1702.9,562.9 L1707.5,561.7 L1710.7,558.3 L1714.5,555.5 L1718.9,554.1 L1723.5,552.9 L1728.1,554.3 L1732.9,554.3 L1737.7,553.5 L1742,551.3 L1746.9,551.1 L1751.2,548.7 L1755.3,546 L1758.2,542.1 M1691.9,1067.4 L1691.1,1072.3 L1692.1,1077.1 L1694.5,1081.4 L1696,1086 L1698,1090.3 L1699.5,1094.8 L1701.7,1099.1 L1703.9,1103.3 M1691.9,1067.4 L1694.9,1064.1 L1698.6,1061.5 L1701.1,1057.7 L1705,1055.3 M1691.9,1568.6 L1696,1570.2 L1700.3,1569.8 M1692,1292 L1694.8,1294.1 M1692,1292 L1697,1295.8 M1692.3,843.5 L1697.4,844 L1702.4,844.6 L1706.9,847.2 L1711.9,848.5 M1692.8,1903.5 L1695.6,1906.3 M1693.9,955.3 L1699,953.4 L1703.1,949.8 M1694,292 L1697.8,292.1 L1701,294 M1694.8,1294.1 L1697,1295.8 M1694.8,1294.1 L1695.7,1289.2 L1698.6,1285.2 L1701.8,1281.5 L1704.9,1277.7 L1708.5,1274.4 L1712.4,1271.5 L1715.5,1267.6 L1717.2,1263 M1695.3,1124.7 L1698.4,1128.7 L1701.4,1132.8 M1695.3,1124.7 L1694.8,1118.6 L1696.9,1112.9 L1699.4,1107.4 L1703.9,1103.3 M1695.6,1802.4 L1696.2,1802.9 M1695.6,1802.4 L1699.2,1804.9 L1703.1,1806.9 L1705,1810.9 L1708.6,1813.7 L1711.3,1817.2 L1714.2,1820.4 L1718.5,1821.7 L1721.9,1824.6 M1695.6,1906.3 L1699.6,1908.1 L1703.9,1907.7 M1696.2,1802.9 L1697.9,1807 L1699.5,1811.2 L1703.3,1813.7 L1706.2,1817.1 L1709.8,1819.6 L1714,1820.9 L1718.4,1821.8 L1721.9,1824.6 M1696.3,1482.6 L1697.3,1486.3 L1697.7,1490 L1699.5,1493.4 L1699.7,1497.3 L1702.1,1500.4 L1703.1,1504.2 L1702.7,1508.1 L1703.9,1511.8 L1706.6,1514.6 L1708.3,1518 L1709.6,1521.6 L1711.2,1525 L1714.4,1527.3 L1716.8,1530.5 L1717.9,1534.2 L1719.1,1537.9 M1696.3,1482.6 L1699.1,1479.7 L1702.6,1477.8 L1705.9,1475.7 L1709.3,1473.6 L1712.1,1470.9 L1715,1468.1 L1716.6,1464.4 L1719.7,1461.8 L1722.5,1459 L1725.8,1456.8 L1728.9,1454.4 L1731.3,1451.3 L1733.8,1448.1 L1737.1,1446 L1740.3,1443.7 L1743.5,1441.4 M1696.5,1172.8 L1697.9,1175 M1696.5,1172.8 L1695.3,1167.8 L1695.6,1162.6 L1696,1157.5 L1697.5,1152.6 L1697.4,1147.4 L1697,1142.2 L1698.7,1137.3 L1701.4,1132.8 M1697,1295.8 L1697.2,1297.3 M1697,1295.8 L1698.7,1301.3 L1698.3,1307 M1697,1324 L1696.8,1320.2 L1698.3,1316.7 M1697.2,1297.3 L1697.1,1302.2 L1698.3,1307 M1697.9,1175 L1698.9,1179.2 L1699.4,1183.4 L1699.5,1187.7 L1701,1191.7 L1699.2,1195.7 L1698.1,1200 L1699,1204.3 L1699.4,1208.7 M1697.9,1175 L1702.7,1174.6 L1707.4,1175.7 L1712.1,1176 L1716.7,1177.1 L1721.4,1176 L1725.8,1174.1 L1730.6,1174.6 L1735.4,1173.7 M1698.3,1307 L1700.7,1311.8 M1698.3,1316.7 L1700.7,1311.8 M1699.4,1208.7 L1702.6,1211.1 L1706.1,1212.9 L1710.1,1213.4 L1713.7,1215.2 L1717.3,1217.1 L1721.1,1218.4 L1725.3,1219 L1729.2,1217.7 M1699.5,1307 L1700.7,1311.8 M1699.5,1307 L1703.2,1311.8 M1699.8,1021.4 L1699.9,1025.8 L1701.5,1029.8 L1702.5,1034 L1702.8,1038.3 L1704.2,1042.4 L1705.4,1046.6 L1704.7,1050.9 L1705,1055.3 M1699.8,1021.4 L1704.5,1016.8 L1707.1,1010.8 M1700.3,1569.8 L1705.5,1573.7 L1708.7,1579.3 M1701,294 L1706,298.5 L1711,303 M1701.4,1132.8 L1707,1134.8 L1712.5,1137 L1718.5,1136.4 L1724.3,1138.3 L1730.2,1138.2 L1736,1137.3 L1741.9,1136.8 L1747.6,1135.5 M1701.9,1625.3 L1701.7,1620.4 L1703.1,1615.8 L1704.1,1611 L1704.2,1606.2 M1701.9,1625.3 L1707,1627.4 L1711.6,1630.5 L1717,1631.6 L1722.4,1632.6 L1727.9,1632.8 L1733.4,1632.5 L1738.7,1634.1 L1744,1635.5 M1703.1,949.8 L1705.9,947.1 L1708.6,944.2 M1703.2,1311.8 L1706.9,1310.6 L1710.6,1309.4 M1703.3,1686.3 L1706.1,1685.6 M1703.9,1103.3 L1708.1,1100.5 L1712.9,1099.3 L1717.9,1098.2 L1721.9,1095.1 L1726.9,1094 L1730.8,1090.6 L1735.8,1090.1 L1740.5,1088.3 M1703.9,1907.7 L1705.6,1912 L1708.1,1916 M1704.2,1606.2 L1707.7,1601.8 L1712.4,1598.6 L1717.3,1595.7 L1722.7,1594.2 M1705,1055.3 L1708,1057.5 L1711.7,1058.3 L1715.2,1059.7 L1718,1062.1 L1721.5,1063.5 L1725.3,1063.2 L1728.9,1062.4 L1732.6,1062 M1706.1,1685.6 L1709.4,1683.7 L1713.2,1682.9 L1717,1683.2 L1720.7,1682.3 M1706.1,1685.6 L1709.8,1684.5 L1712.5,1681.8 L1714.9,1678.9 L1717.6,1676.4 L1721.2,1675.5 L1724.4,1673.6 L1728,1672.6 L1731,1670.3 M1706.3,998.6 L1705.4,1004.8 L1707.1,1010.8 M1706.3,998.6 L1709.7,996.7 L1713.4,995.2 L1716.4,992.6 L1720.1,991.2 L1723.3,988.8 L1725.8,985.7 L1728.1,982.3 L1728.8,978.2 L1732.4,976.3 L1734.8,973 L1736.7,969.6 L1738.4,966 L1739.2,962.1 L1740.7,958.5 L1740.8,954.6 L1741.5,950.7 M1707.1,1010.8 L1710.9,1011.5 L1714.7,1012.4 L1718.3,1013.7 L1722,1014.7 L1725.5,1016.6 L1728.1,1019.6 L1731.9,1020.7 L1735,1023.2 L1738.9,1023 L1742.6,1021.4 L1746.5,1022.2 L1750.3,1022.7 L1753.8,1024.6 L1757.6,1025.3 L1761.5,1025.4 L1765.3,1026.3 M1708.1,1916 L1709.8,1916.7 M1708.6,935 L1708.7,939.6 L1708.6,944.2 M1708.6,935 L1713.3,930.4 M1708.7,1579.3 L1710.4,1582.2 M1708.7,1579.3 L1711.2,1581.9 L1713.8,1584.4 L1715.4,1587.7 L1715.9,1591.3 M1709.8,1916.7 L1714.1,1917.7 L1717.8,1920.2 M1709.8,1916.7 L1711.5,1912.7 L1714.6,1909.7 L1716.6,1905.9 L1719.8,1902.9 L1723.4,1900.4 L1725.5,1896.6 L1727,1892.5 L1729.7,1889.1 M1710.4,1582.2 L1714.3,1586.1 L1715.9,1591.3 M1710.4,1582.2 L1713.1,1579.8 L1714.7,1576.6 L1717.9,1575 L1720.3,1572.3 M1710.6,1309.4 L1710.7,1305 L1711.8,1300.7 M1711,303 L1715.6,306.5 L1718.5,311.6 M1711.1,397.3 L1716.2,398.8 L1720.1,402.4 L1725.2,403.5 L1730.4,403.7 M1711.8,1300.7 L1716.7,1302 M1711.9,848.5 L1717.2,851.2 L1721.5,855.2 L1725.4,859.7 L1727,865.5 L1728.7,871 L1731.2,876.1 L1733.5,881.3 L1736.8,886 L1736.6,891.8 L1735.5,897.5 L1737.2,903.1 L1739.9,908.3 L1741.7,913.7 L1742.2,919.3 L1742.5,924.9 L1743.5,930.5 M1711.9,848.5 L1714.5,845.5 L1715.7,841.7 L1719,839.5 L1722,837 L1725.8,835.9 L1729.6,834.8 L1732.9,832.5 L1735.2,829.2 L1738.7,827.7 L1742.2,826.2 L1746,825.5 L1749.7,824.6 L1752.5,822 L1755.9,820.1 L1759,817.9 L1762.7,816.7 M1712.8,696.1 L1712.1,691.3 L1712.9,686.5 L1715.2,682.1 L1715.1,677.1 L1715.1,672.1 L1717.5,667.8 L1718.1,662.9 L1717,658.1 M1712.8,696.1 L1717.5,700.8 L1723.4,703.8 L1726.9,709.6 L1732.4,713.4 L1737.6,717.5 L1743.5,720.6 L1748.5,725.1 L1751.7,731 M1713.3,930.4 L1718.3,929.4 L1723.4,930.4 M1715.9,1591.3 L1719.5,1592.4 L1722.7,1594.2 M1715.9,1591.3 L1719.9,1591.6 L1723.4,1593.5 L1726.9,1595.2 L1730.2,1597.3 M1716.7,1302 L1719.6,1304.1 L1721.7,1307 M1717,658.1 L1721.5,652.7 L1727.7,649.6 L1731.3,643.7 L1734.4,637.6 M1717.2,1263 L1722.3,1263.2 L1726.9,1261.1 L1731.6,1259.4 L1736.6,1259.5 M1717.8,1920.2 L1720.7,1926.1 L1721.9,1932.6 M1718.5,311.6 L1725.1,313.2 L1731,316.5 M1719.1,1537.9 L1721.2,1541.8 L1722,1546.2 L1722.3,1550.6 L1722.6,1555 L1720.4,1558.9 L1720.2,1563.5 L1720.8,1567.9 L1720.3,1572.3 M1719.1,1537.9 L1722,1535 L1724.5,1531.8 L1727.7,1529.1 L1730.3,1526 L1731.5,1522 L1734.5,1519 L1737.6,1516.2 L1739.4,1512.4 L1741.6,1509 L1744.6,1506.1 L1747.3,1503 L1750.8,1500.8 L1754.5,1498.7 L1757.5,1495.8 L1759.8,1492.2 L1761,1488.1 M1720.3,1572.3 L1723.8,1570.8 L1727.7,1570.2 L1731.5,1570.6 L1735.3,1569.7 L1739,1568.8 L1742.9,1568.8 L1746.5,1567.3 L1749.8,1565.3 L1753.8,1565.3 L1757.6,1566.5 L1761.3,1567.7 L1764.8,1569.6 L1768.4,1568.2 L1772.3,1567.6 L1776.2,1567.9 L1780.1,1567.1 M1720.7,1682.3 L1725.3,1686.8 L1730.1,1691.1 L1736.2,1693.5 L1741,1697.9 M1721.4,487.6 L1725.2,482.1 L1729,476.6 L1734.2,472.3 L1738.5,467.2 L1743.1,462 L1749.3,458.8 L1752.1,452.6 L1755.5,446.7 M1721.4,487.6 L1723.9,490.5 L1725.8,493.9 L1728.3,496.9 L1731.8,498.5 L1732.6,502.4 L1735.2,505.4 L1738.2,507.8 L1740.6,510.8 L1743,513.7 L1746.1,516 L1748.1,519.2 L1751.3,521.4 L1754.1,524.2 L1755.3,528 L1757.8,531 L1761.5,532.5 M1721.7,1307 L1723.8,1310.4 L1724,1314.3 M1721.9,1824.6 L1727.7,1825.1 L1733,1827.3 M1721.9,1932.6 L1724.2,1937.9 L1724.7,1943.7 M1722,1409.9 L1724.6,1406.7 L1725.9,1402.7 L1727.2,1398.9 L1728.4,1395 L1729.8,1391 L1732,1387.5 L1731.2,1383.3 L1731.9,1379.1 L1732.5,1375 L1731.6,1370.9 L1730.8,1366.8 L1729.2,1363 L1729,1358.9 L1729.5,1354.9 L1730.8,1350.9 L1730.7,1346.8 M1722,1409.9 L1724.7,1413 L1728.1,1415.2 L1731.3,1417.7 L1734.7,1419.9 M1722.7,1594.2 L1726.1,1596.5 L1730.2,1597.3 M1723.4,930.4 L1727.1,931.7 L1730.8,933.1 M1724,1314.3 L1727.5,1315.6 L1730.3,1318 M1724.7,1943.7 L1728.9,1945.7 L1733,1947.9 M1728.6,1880.3 L1729.9,1884.6 L1729.7,1889.1 M1728.6,1880.3 L1733.4,1877.2 L1737.7,1873.5 L1741,1868.8 L1742.8,1863.4 L1744.5,1858 L1746.1,1852.5 L1749.5,1847.9 L1754.2,1844.5 M1729.2,1217.7 L1731.8,1220.7 L1732.9,1224.5 L1736.1,1226.8 L1738.4,1230 L1738.8,1233.9 L1739.6,1237.6 L1739.8,1241.5 L1741.4,1245.1 M1729.2,1217.7 L1730.9,1214.2 L1731.9,1210.4 L1734.2,1207.2 L1737.3,1204.8 L1739.7,1201.8 L1743.2,1200 L1746.4,1198 L1748.8,1194.9 M1729.7,1889.1 L1733.3,1893.1 L1737.2,1896.8 L1741.6,1900 L1745.3,1903.9 L1749.1,1907.8 L1753.5,1911.2 L1755.7,1916.3 L1757.7,1921.4 L1761.8,1925 L1764.6,1929.8 L1770,1931.5 L1773.8,1935.6 L1778.5,1938.3 L1782.7,1941.6 L1787.7,1943.7 L1791.9,1947.1 M1730.2,1597.3 L1734.1,1595.1 L1738.6,1594.9 M1730.3,1318 L1736.5,1320.4 M1730.4,403.7 L1732.6,409.8 L1732.8,416.4 L1737.4,421 L1741.1,426.3 L1744.8,431.3 L1749.2,435.8 L1751.3,441.9 L1755.5,446.7 M1730.4,403.7 L1733.5,400.6 L1737.3,398.6 L1741,396.1 L1745.4,395.5 L1749.3,393.4 L1752.2,390.1 L1756.3,388.7 L1760.5,387.5 L1764.6,385.9 L1768.7,384.4 L1772.1,381.7 L1775.1,378.5 L1779.3,377.2 L1783.6,376.3 L1786.2,372.6 L1790.2,370.5 M1730.7,1346.8 L1735.3,1344.5 L1739.7,1341.8 L1744.7,1340.4 L1749.4,1338.3 M1730.8,933.1 L1732.8,932.9 M1730.8,933.1 L1735.5,933.4 L1740,932.2 M1731,316.5 L1733.7,321 L1737,325 M1731,1670.3 L1736.7,1672.9 L1742.9,1673.8 M1731,1670.3 L1732.6,1665.9 L1733.7,1661.4 L1735.7,1657.2 L1737.6,1652.9 L1738.2,1648.3 L1739.5,1643.7 L1742.8,1640.2 L1744,1635.5 M1732.6,1062 L1736.3,1068 L1738.8,1074.5 L1740.1,1077.8 L1740.7,1081.3 L1740.4,1084.8 L1740.5,1088.3 M1732.6,1062 L1738.3,1059.2 L1741.9,1054 L1743.3,1047.9 L1746.5,1042.6 L1752.3,1040.7 L1756.7,1036.4 L1762,1033.4 L1766,1028.8 M1732.8,932.9 L1736.3,931.9 L1740,932.2 M1732.8,932.9 L1735.9,937 L1736.8,942 L1738.4,946.7 L1741.5,950.7 M1733,1827.3 L1737.2,1823.2 M1733,1947.9 L1738.4,1945.8 L1744.1,1945.1 M1734.4,637.6 L1741.1,635.7 L1748,635.8 M1734.7,1419.9 L1735.5,1425.8 L1737,1431.5 L1741.3,1435.7 L1743.5,1441.4 M1734.7,1419.9 L1739.3,1418.9 L1742.8,1415.8 L1747.2,1414.1 L1750.4,1410.7 L1754.3,1408.5 L1758,1405.8 L1761.5,1402.8 L1765.5,1400.6 L1768.9,1397.2 L1770.5,1392.6 L1770.8,1387.7 L1773.3,1383.5 L1778,1382.3 L1781.7,1379.2 L1785,1375.7 L1788.2,1372.2 M1735.4,1173.7 L1738.6,1179.2 L1740.7,1185.2 L1745.1,1189.7 L1748.8,1194.9 M1735.4,1173.7 L1737.7,1170.2 L1740,1166.6 L1740.8,1162.3 L1743.5,1158.9 L1744.5,1154.6 L1744.8,1150.3 L1747.3,1146.8 L1749.3,1143 M1736.5,1320.4 L1736.9,1322.6 M1736.5,1320.4 L1736.6,1324.2 L1737.7,1327.8 M1736.6,1259.5 L1737.7,1263.6 L1740.4,1266.8 L1739.8,1270.9 L1741,1275 L1740.8,1279.1 L1742.2,1283 L1741.5,1287 L1741.4,1291 L1740,1294.8 L1738.6,1298.6 L1738.1,1302.7 L1736.6,1306.5 L1738.4,1310.3 L1738.6,1314.5 L1737.3,1318.5 L1736.9,1322.6 M1736.6,1259.5 L1737.5,1258.7 M1736.9,1322.6 L1737.7,1327.8 M1737,325 L1741.9,323.3 L1747,322.7 M1737.2,1816.3 L1737.2,1823.2 M1737.2,1816.3 L1739.4,1814.4 M1737.2,1816.3 L1741,1812.4 L1745.5,1809.3 M1737.5,1258.7 L1738.5,1255.3 L1739.3,1251.9 L1739.9,1248.3 L1741.4,1245.1 M1737.5,1258.7 L1743.9,1261.2 L1750.1,1263.9 L1756.4,1266.8 L1763.2,1267.6 L1766.5,1268.9 L1769.9,1269.8 L1772.6,1272 L1774.8,1274.9 L1780.7,1278.4 L1784.9,1284 M1737.7,1327.8 L1743.3,1331.7 M1737.7,1327.8 L1741,1330.8 L1745,1332.8 M1738.6,1594.9 L1739.9,1594.9 M1738.6,1594.9 L1744.8,1595.3 L1750.6,1593.3 L1756.5,1595.1 L1762.6,1594.9 M1739,762.7 L1741.9,759.4 L1744.6,756 L1747.2,752.3 L1747.8,747.8 L1747.6,743.4 L1748.7,739.2 L1749.4,734.8 L1751.7,731 M1739,762.7 L1739.8,766.5 L1741.4,770.1 L1741.3,774 L1740.3,777.8 L1741.2,781.7 L1741.1,785.6 L1742.8,789.2 L1745.5,792 L1748.3,794.6 L1750.6,797.7 L1752.4,801.1 L1753.7,804.7 L1754.5,808.5 L1757,811.6 L1760.1,813.9 L1762.7,816.7 M1739.4,1814.4 L1741.9,1811.2 L1745.5,1809.3 M1739.4,1814.4 L1740,1818.6 L1741.8,1822.5 L1743.8,1826.3 L1746.3,1829.7 L1748.2,1833.4 L1750.5,1837 L1751.5,1841.2 L1754.2,1844.5 M1739.9,1594.9 L1742.2,1599.2 L1744.3,1603.7 L1746.1,1608.3 L1746.2,1613.3 L1748,1617.8 L1750.2,1622.3 L1754.3,1625.2 L1756.7,1629.6 M1739.9,1594.9 L1745.6,1594.9 L1751.2,1595.9 L1757,1596.3 L1762.6,1594.9 M1740,932.2 L1743.7,930.7 M1740,932.2 L1744.2,929.2 L1749.3,928.5 M1740.5,1088.3 L1746.5,1091.2 L1750.9,1096.1 M1741,1697.9 L1746.2,1697 L1751.3,1697.9 L1756.3,1696.6 L1761.4,1695.5 M1741.4,1245.1 L1744.7,1243.1 L1748.3,1241.8 L1751.5,1239.6 L1755,1238.1 L1758.7,1236.9 L1762.5,1236.6 L1766.3,1236.1 L1769.8,1234.3 M1741.5,950.7 L1746.8,954 L1751,958.6 L1756.1,962.3 L1761.9,964.6 M1742.2,1682.3 L1742.5,1678 L1742.9,1673.8 M1742.2,1682.3 L1741.9,1676.6 L1743.1,1671.1 M1742.2,1682.3 L1746.1,1685.2 L1748.2,1689.5 M1742.9,1673.8 L1743.4,1668 M1743.1,1671.1 L1743.4,1668 M1743.1,1671.1 L1746.4,1674.8 L1750.1,1678 L1752.7,1682.2 L1756,1685.9 L1757.7,1690.7 L1760.6,1694.8 L1763.7,1698.9 L1768.2,1701.3 M1743.3,1331.7 L1745,1332.8 M1743.3,1331.7 L1747.2,1330.1 L1750.8,1328.2 L1754.9,1327 L1758.2,1324.3 M1743.4,1668 L1749.1,1664.7 L1755.4,1663.2 M1743.5,930.5 L1743.7,930.7 M1743.5,1441.4 L1746.9,1443.1 M1743.7,930.7 L1749.3,928.5 M1744,1635.5 L1747.1,1633.7 L1750.7,1633.2 L1753.7,1631.4 L1756.7,1629.6 M1744.1,1936.8 L1745.1,1940.9 L1744.1,1945.1 M1744.1,1936.8 L1748.3,1935.6 L1752.4,1934 M1745,1332.8 L1747,1335.7 L1749.4,1338.3 M1745,1332.8 L1747,1336.3 L1750,1339 M1745.5,1809.3 L1745.2,1805 L1746.9,1801 M1746.9,1443.1 L1748.7,1448.8 L1752,1453.8 L1754.6,1459.3 L1754.7,1465.4 L1755.9,1471.3 L1755.7,1477.3 L1757.7,1483.1 L1761,1488.1 M1746.9,1443.1 L1753.2,1443.9 L1759.2,1446 L1765.6,1445.4 L1771.9,1445.8 L1777.2,1442 L1783.5,1439.9 L1789.9,1439.9 L1796.4,1440.1 M1746.9,1801 L1749.1,1796.5 L1752.4,1792.7 M1747,322.7 L1751.3,322.9 L1755,325 M1747.6,1135.5 L1748.8,1139.2 L1749.3,1143 M1747.6,1135.5 L1749.4,1131.5 L1752.4,1128.3 M1748,635.8 L1749.9,632.7 L1750.4,629 L1752.3,625.9 L1755.2,623.6 L1756.8,620.4 L1759.2,617.7 L1761.7,615.1 L1764.9,613.4 L1767.4,610.8 L1770.6,609.2 L1773.9,607.6 L1776.1,604.7 L1777.6,601.3 L1778.7,597.8 L1780.9,594.8 L1784.3,593.1 M1748,635.8 L1750.5,639.1 L1752.2,642.8 L1755.5,645.3 L1758.3,648.3 L1760.4,651.8 L1763,655 L1765.8,657.9 L1769,660.5 L1772.6,662.8 L1776.8,663.3 L1779.5,666.5 L1782.8,669.1 L1786.8,670.2 L1790.1,672.8 L1793.1,675.5 L1796.2,678.2 M1748.2,1689.5 L1751.8,1694.3 M1748.8,1194.9 L1752.8,1195.6 L1756.7,1194.6 L1760.6,1194.3 L1764.3,1192.9 L1768.5,1192.9 L1772.3,1191.4 L1776.2,1192.5 L1780,1193.8 M1749.3,928.5 L1750.1,924.1 L1751.7,920 M1749.3,1143 L1752.2,1145.8 L1755.2,1148.4 L1758.9,1150.2 L1762.1,1152.6 L1765.3,1155.2 L1769.3,1156 L1773,1157.8 L1777,1158.4 L1778.5,1162.1 L1780.3,1165.7 L1782.4,1169.3 L1785.9,1171.5 L1788.9,1174.1 L1791.2,1177.4 L1794,1180.2 L1795.7,1183.9 M1749.4,1338.3 L1750,1339 M1750,1339 L1751.9,1337.1 M1750,1339 L1753,1335.8 L1756.2,1332.8 M1750.9,1096.1 L1751.3,1100.3 L1750.5,1104.4 L1748.6,1108.2 L1748,1112.4 L1747.4,1116.6 L1748.3,1120.9 L1751.3,1124.1 L1752.4,1128.3 M1750.9,1096.1 L1754.3,1094.7 L1758,1094 L1761.4,1092.7 L1765.1,1092 L1768.4,1090.1 L1770.6,1086.9 L1773.9,1085.2 L1777.5,1084.1 M1751.7,731 L1755.6,728.4 L1759.8,726.3 L1764.6,726.3 L1768.9,724.2 L1773.5,723 L1778.3,723.6 L1782.6,721.8 L1787,720.3 M1751.7,920 L1755.9,920.3 L1760,921.4 M1751.8,1694.3 L1756.7,1694 L1761.4,1695.5 M1751.9,1337.1 L1756.2,1332.8 M1751.9,1337.1 L1754.9,1334.1 L1758.7,1332 L1762.9,1331.4 L1767,1330.2 M1752.4,1128.3 L1756.7,1129.2 L1760.8,1130.5 L1765.2,1131.1 L1769.5,1131.1 L1773.9,1130.5 L1778.1,1129.6 L1782.2,1128.1 L1786.2,1126.3 M1752.4,1792.7 L1756.3,1794.8 L1760.7,1795.5 M1752.4,1934 L1754.8,1938.4 L1757.9,1942.3 M1754.2,1844.5 L1758.9,1845.4 L1763.6,1845 L1767.8,1847.2 L1772.2,1849.1 L1776.9,1848.7 L1781.1,1846.4 L1785.8,1845.7 L1790.5,1846.2 L1795.1,1847.6 L1799.9,1847.1 L1804,1844.6 L1808.9,1844.2 L1813.2,1845.9 L1817.7,1846.7 L1822.5,1846.5 L1826.8,1848.5 M1755,325 L1757,328 L1757.9,331.4 L1759.2,334.8 L1761.6,337.4 M1755.4,1663.2 L1761.6,1661.2 L1767.4,1658.4 M1755.5,446.7 L1758.4,450.4 L1762.3,453.1 L1766.9,454.3 L1770.9,456.8 L1775.5,457.3 L1780.1,457.2 L1784.8,457.8 L1789.1,459.5 L1793.5,461.1 L1798.1,461 L1802.7,460.9 L1807.3,461 L1811.9,461.5 L1816.3,463.1 L1819.9,466.1 L1823.9,468.5 M1756.2,1332.8 L1760,1330.5 L1763.5,1327.8 M1756.7,1629.6 L1761.5,1628.9 L1766.4,1628.9 L1771.2,1630 L1775.7,1631.8 M1757.9,1942.3 L1762.5,1944.4 L1766.3,1947.9 M1758.2,542.1 L1759.8,537.3 L1761.5,532.5 M1758.2,542.1 L1761.4,544.1 L1764.1,546.7 L1766.1,549.9 L1767.3,553.5 L1767.7,557.1 L1768.9,560.6 L1771,563.7 L1771.7,567.4 L1775,569.2 L1777.4,572.2 L1778.5,575.9 L1781,578.8 L1781.2,582.5 L1782.4,586 L1783.3,589.5 L1784.3,593.1 M1758.2,1324.3 L1763.4,1320.8 L1768.1,1316.7 L1771.7,1311.6 L1774.2,1305.9 L1777.1,1300.6 L1779.8,1295.1 L1781.9,1289.3 L1784.9,1284 M1758.2,1324.3 L1762.1,1323.7 L1766,1323.7 L1769.8,1324.5 L1773.3,1326.3 L1777.1,1327.2 L1781,1326.9 L1784.1,1329.4 L1788,1330.3 L1791.6,1332.1 L1795.7,1332.6 L1798,1335.9 L1801.4,1338.3 L1805.3,1338.3 L1809.2,1337.6 L1812.8,1339.5 L1816.9,1339.5 M1760,921.4 L1763.7,924.7 L1766.5,928.8 M1760.7,1795.5 L1766.3,1791.3 M1761,1488.1 L1765.4,1487.6 L1769.8,1488 L1774.3,1487.8 L1778.7,1487.7 L1783.1,1489.2 L1787.7,1488.7 L1791.5,1491.2 L1795.4,1493.4 M1761.5,532.5 L1765.4,530 L1769.2,527.5 L1773.1,524.9 L1775.6,520.9 L1779.8,518.7 L1784.5,518.7 L1788.7,516.9 L1793.2,516 L1797.6,514.5 L1800.8,511.2 L1804.4,508.3 L1808.1,505.8 L1811.1,502.2 L1815.1,499.8 L1817.1,495.7 L1819.4,491.7 M1761.6,337.4 L1765.3,337.7 L1769,337.4 M1761.9,964.6 L1763.4,967.9 L1765.4,970.9 L1767,974.2 L1767.5,977.8 L1770.3,980.3 L1772,983.6 L1772.6,987.2 L1773.4,990.8 M1761.9,964.6 L1766.2,964.9 L1770.4,963.6 L1774.2,961.8 L1777.9,959.6 L1782.1,958.4 L1786.5,958.9 L1790.4,957.1 L1794,954.6 L1797.4,952 L1801.6,950.9 L1804.5,947.8 L1807.7,945 L1811,942.3 L1813.7,939 L1817,936.4 L1820.8,934.5 M1762.6,1594.9 L1765.6,1601.2 L1766.2,1608.1 M1762.7,816.7 L1768.3,816.7 L1773.6,818.2 M1763.5,1327.8 L1767,1330.2 M1763.5,1327.8 L1767.2,1330.3 M1763.8,1721.7 L1765.6,1716.6 L1764.7,1711.2 L1767.3,1706.5 L1768.2,1701.3 M1763.8,1721.7 L1764.4,1725.7 L1766.8,1729.1 L1766.4,1733.1 L1767.4,1737 L1769.2,1740.6 L1772.2,1743.3 L1774.5,1746.7 L1774.9,1750.8 L1778.1,1753.4 L1780.5,1756.7 L1781.3,1760.8 L1783.6,1764.2 L1784.7,1768.1 L1785.8,1772 L1784.7,1776 L1785.3,1780.1 M1765.3,1026.3 L1766,1028.8 M1765.3,1026.3 L1767.4,1021.9 L1767.2,1017 L1770.5,1013.5 L1772.7,1009.3 L1773.6,1004.7 L1773.6,1000.1 L1773.9,995.4 L1773.4,990.8 M1766,1028.8 L1766.7,1029.3 M1766.2,1608.1 L1769,1610.7 L1771.5,1613.7 L1773.3,1617.1 L1775.7,1620.1 M1766.3,1791.3 L1769.9,1786 L1774.6,1781.6 M1766.3,1947.9 L1773.2,1948.5 L1780.1,1949.2 M1766.5,363.3 L1767.8,358.2 L1770,353.4 M1766.5,363.3 L1769.6,358.9 L1770.7,353.7 L1775.5,351.3 L1779,347.3 M1766.5,928.8 L1770.8,925.6 L1776,924 M1766.7,1029.3 L1767.4,1032.8 L1768.7,1036.1 L1770.8,1039 L1772,1042.4 L1772.8,1045.9 L1774.9,1048.9 L1774.6,1052.5 L1775.9,1056 L1775.2,1059.6 L1773.8,1062.9 L1774.6,1066.5 L1774.4,1070.2 L1774.8,1073.8 L1774.7,1077.4 L1776.1,1080.7 L1777.5,1084.1 M1766.7,1029.3 L1771.3,1033.2 L1776.7,1035.8 L1782.5,1037.6 L1788.5,1038.1 L1793.9,1040.8 L1800,1040.6 L1805.7,1041.9 L1811.6,1042.5 M1767,1330.2 L1767.2,1330.3 M1767.2,1330.3 L1768.8,1334.6 L1772.2,1337.7 M1767.4,1658.4 L1768,1653.4 L1769.8,1648.8 M1768.2,1701.3 L1773,1698.7 L1778.2,1697.1 L1782.2,1693.5 L1787,1690.9 L1792,1688.9 L1797.3,1687.9 L1802.7,1687.1 L1808,1686.8 L1810.7,1681.9 L1814.9,1678.4 L1819.8,1676 L1824.7,1673.6 L1827.9,1669.3 L1832.4,1666.3 L1836.5,1662.8 L1841.3,1660.5 M1769,337.4 L1767.8,341.4 L1768.2,345.5 L1769.7,349.3 L1770,353.4 M1769.8,1234.3 L1773.7,1230.4 L1776.2,1225.5 L1778.4,1220.5 L1779.1,1215.1 L1780.7,1209.9 L1781.8,1204.5 L1781,1199.2 L1780,1193.8 M1769.8,1234.3 L1775.6,1236.8 L1781.5,1238.8 L1786.1,1243 L1790.7,1247.3 M1769.8,1648.8 L1771.4,1644.5 L1774.2,1640.9 L1774.8,1636.4 L1775.7,1632 M1772.2,1337.7 L1775.8,1339.3 L1779.6,1340 M1773.4,990.8 L1779.9,990.1 L1786.3,988.8 L1792.8,987.4 L1799.4,988.1 L1805.5,990.9 L1812.2,991.7 L1818.8,991 L1825.4,991.1 M1773.6,818.2 L1777.3,822.7 L1779.7,828 L1780.8,833.7 L1784.1,838.6 L1788.1,842.9 L1791.2,847.9 L1791.2,853.9 L1793.7,859.4 L1793.3,865.2 L1793.7,871 L1795.4,876.6 L1796.9,882.2 L1797.6,887.9 L1798.9,893.6 L1802.2,898.5 L1804.1,904 M1773.6,818.2 L1778,815.3 L1782.8,813.2 L1787.8,811.5 L1792.4,808.8 L1797,806 L1801.5,803 L1806.8,802.1 L1812.2,801.8 M1774.6,1781.6 L1780,1781.5 L1785.3,1780.1 M1774.6,1781.6 L1779.5,1781.8 L1784.4,1780.9 L1789.2,1779.8 L1794,1778.8 M1775.7,1620.1 L1774.9,1625.9 L1775.7,1631.8 M1775.7,1620.1 L1775.1,1626 L1775.7,1632 M1775.7,1631.8 L1775.7,1632 M1775.9,1362.3 L1775.9,1368.5 M1775.9,1362.3 L1776.5,1357.8 L1778.3,1353.7 M1775.9,1368.5 L1779.5,1370.6 L1783.3,1372.2 M1776,924 L1780,923.7 L1783.7,922 L1787,919.7 L1791,919 M1777.5,1084.1 L1784.2,1085.6 L1790.9,1086.4 L1796.7,1090.3 L1803.6,1091.5 M1778.3,1353.7 L1778.6,1346.8 L1779.6,1340 M1779,347.3 L1783.8,344.5 L1789.1,342.9 L1794.7,342.9 L1800,341 M1780,1193.8 L1783.3,1190.4 L1787.7,1188.7 L1791.2,1185.4 L1795.7,1183.9 M1780.1,1567.1 L1781.5,1562.2 L1780.4,1557.3 L1780.4,1552.2 L1782.3,1547.6 L1784.4,1543 L1788.5,1539.9 L1791.3,1535.9 L1793.4,1531.4 L1792.4,1526.7 L1792.3,1521.9 L1792.5,1517 L1791.7,1512.3 L1792.6,1507.5 L1792.5,1502.6 L1793.3,1497.8 L1795.4,1493.4 M1780.1,1567.1 L1784.2,1569.5 L1788.5,1571.6 L1793.1,1573.1 L1798,1572.3 L1802.7,1572.7 L1807.3,1573.4 L1811.6,1575.5 L1815.8,1577.6 M1780.1,1949.2 L1784.4,1949.2 L1788.4,1950.6 M1783.3,1372.2 L1788.2,1372.2 M1783.3,1372.2 L1789.4,1372.2 M1784.3,593.1 L1788.2,592.9 L1792,593.7 L1795.8,594.6 L1799.3,596.2 L1803.2,596.1 L1807.1,596.3 L1810.7,594.8 L1814.5,594 M1784.9,1284 L1785.8,1283.6 M1785.3,1780.1 L1789.6,1779.3 L1794,1778.8 M1785.8,1283.6 L1785.5,1279 L1785.4,1274.3 L1786.7,1269.9 L1788,1265.4 L1787.9,1260.8 L1788,1256.1 L1788.2,1251.4 L1790.7,1247.3 M1785.8,1283.6 L1792.5,1282.9 L1798.8,1285.4 L1804.8,1288.1 L1811,1290.4 M1786.2,1126.3 L1789.6,1123.8 L1791.4,1120.1 L1792.9,1116.3 L1794.7,1112.7 L1798,1110.2 L1800.1,1106.7 L1803.2,1104.1 L1805.4,1100.7 M1786.2,1126.3 L1789.5,1130.5 L1793.1,1134.5 L1796.6,1138.6 L1800.2,1142.6 L1802.9,1147.3 L1803.5,1152.8 L1805.1,1158 L1805.4,1163.4 M1787,720.3 L1791.4,717.1 L1794.3,712.5 L1797.6,708.2 L1798.9,702.9 M1787,720.3 L1790.7,723.9 L1792.6,728.7 L1794.6,733.4 L1794.7,738.6 L1798.6,741.9 L1803.2,744 L1806.5,747.9 L1808.9,752.3 L1810.3,757.1 L1812.2,761.6 L1814.9,765.7 L1817.2,770 L1818.1,774.9 L1820.5,779.2 L1821.3,784 L1822.3,788.8 M1788.2,1372.2 L1789.4,1372.2 M1788.4,1950.6 L1791.9,1947.1 M1789.4,1372.2 L1791,1372.4 M1789.4,1372.2 L1791.7,1372.5 M1790.2,370.5 L1791.6,365.6 L1793.6,360.9 L1797.1,357.1 L1799.7,352.7 L1801.1,347.9 L1802.1,342.9 L1804.5,338.4 L1804.7,333.2 M1790.2,370.5 L1794.6,374.5 L1799.7,377.6 L1801.8,383.4 L1806.3,387.6 L1809.6,392.6 L1814.6,396 L1818.4,400.5 L1820.8,406 L1823.9,411.1 L1826.8,416.5 L1825.8,422.5 L1827.1,428.5 L1828.8,434.2 L1831,439.7 L1832.3,445.6 L1831.4,451.6 M1790.7,1247.3 L1793.7,1243.4 L1797.4,1240.2 L1801,1236.7 L1805.4,1234.5 L1810.2,1233.2 L1815.2,1233.3 L1819.8,1231.6 L1824.3,1229.5 M1791,919 L1793.7,916.3 L1796.7,914.1 L1799.2,911.3 L1801,908 M1791,1372.4 L1794.4,1373.8 L1798,1373.4 M1791,1372.4 L1793.2,1367.5 L1797.4,1364 L1800.7,1359.9 L1805,1356.7 L1806.5,1351.6 L1809.1,1346.9 L1812.7,1342.8 L1816.9,1339.5 M1791.7,1372.5 L1791,1376.9 L1791.8,1381.2 L1791.8,1385.6 L1792.4,1389.9 L1793.6,1394.3 L1796.7,1397.6 L1797.1,1402.1 L1799.4,1405.9 L1797.7,1409.9 L1796.8,1414.2 L1795,1418.3 L1795.3,1422.8 L1795.7,1427.4 L1798.1,1431.3 L1797.3,1435.7 L1796.4,1440.1 M1791.7,1372.5 L1798,1373.4 M1791.9,1947.1 L1795.5,1944.5 L1798.1,1940.9 M1794,1778.8 L1797.7,1776.1 L1801.8,1774.2 L1806.4,1773.7 L1810.6,1771.9 M1795.4,1493.4 L1798.4,1491.3 L1800.7,1488.4 L1803.5,1486 L1806.2,1483.6 L1809.4,1481.4 L1811.3,1478.1 L1814.6,1476 L1818.4,1475.5 M1795.7,1183.9 L1800.1,1183.3 M1796.2,678.2 L1796.1,684.5 L1795.6,690.8 L1796.9,696.9 L1798.9,702.9 M1796.2,678.2 L1799,674.2 L1801.7,670.2 L1805.6,667.2 L1809.4,664.3 L1811.8,660 L1813.2,655.4 L1816,651.4 L1817.6,646.8 L1821.5,643.8 L1824,639.5 L1828.6,637.5 L1832.5,634.6 L1837.4,634.1 L1841.8,632 L1846.4,630.5 L1850.9,628.7 M1796.4,1440.1 L1799.8,1442 L1802,1445.1 L1805.4,1446.9 L1808.9,1448.2 M1798,1373.4 L1800.3,1376.6 L1803,1379.6 M1798.1,1940.9 L1802.2,1938.1 L1806.4,1935.4 M1798.9,702.9 L1804,703 L1808.4,705.5 L1813.3,706.1 L1818,707.7 L1822.4,710.3 L1827.5,710.4 L1832.2,711.8 L1836.8,713.7 L1841.9,713.2 L1846.5,710.8 L1851.6,711.9 L1856.6,710.8 L1861.6,712.5 L1866.8,711.6 L1871.4,713.7 L1876.1,715.6 M1800,341 L1801,335 M1800.1,1183.3 L1801.6,1178.4 L1803,1173.4 L1805.2,1168.6 L1805.4,1163.4 M1800.1,1183.3 L1804.2,1186.7 L1808.6,1189.7 M1801,335 L1804.7,333.2 M1801,908 L1804.1,904 M1801,908 L1804.2,903.2 L1808,899 M1803,1379.6 L1806.4,1378.6 M1803,1379.6 L1807.1,1377.7 L1811.6,1377 M1803.6,1091.5 L1803.3,1096.3 L1805.4,1100.7 M1803.6,1091.5 L1806.1,1088.3 L1808.4,1085.1 L1809.8,1081.3 L1811,1077.5 L1814.3,1075.2 L1817.5,1072.8 L1820.3,1069.9 L1822.4,1066.4 M1804.1,904 L1808,899 M1804.7,333.2 L1807.9,331.8 L1811,330 M1805.4,1100.7 L1808.8,1105.1 L1811.3,1110.1 L1813.7,1115.3 L1818.3,1118.7 L1823.2,1121.5 L1827.4,1125.3 L1832.6,1127.4 L1838,1128.8 M1805.4,1163.4 L1811.2,1161.3 L1816.3,1157.8 L1821.9,1154.8 L1826,1150.1 L1828.9,1144.8 L1832,1139.5 L1834.6,1133.9 L1838,1128.8 M1806.4,1378.6 L1811.6,1377 M1806.4,1378.6 L1810.9,1382.9 L1816,1386.6 L1818.8,1392.3 L1823.4,1396.7 L1829.7,1397.4 L1836,1398.2 L1841.9,1400.6 L1847,1404.4 M1806.4,1935.4 L1810.6,1939.6 M1808,899 L1814,896.9 L1819.2,893.2 M1808,899 L1812.6,898.1 L1816.4,895.3 L1820.9,893.8 L1824.4,890.6 M1808.6,1189.7 L1810.8,1194.7 L1811.5,1200.2 L1814.7,1204.6 L1817.7,1209.1 L1817.9,1214.6 L1820.3,1219.5 L1822.1,1224.6 L1824.3,1229.5 M1808.6,1189.7 L1812.1,1189.1 L1815.6,1189.9 L1819.1,1190.8 L1822.6,1189.9 L1825.8,1188.4 L1829.3,1187.8 L1832.4,1186.1 L1836,1185.6 L1839.1,1183.6 L1842.8,1183.4 L1846.4,1183.7 L1849.9,1184 L1853,1182.2 L1855.6,1179.7 L1858.7,1177.7 L1862.4,1177.5 M1808.9,1448.2 L1810.3,1454.2 L1813.2,1459.8 L1815.4,1465.7 L1819.8,1470.2 M1808.9,1448.2 L1812,1446 L1815.7,1444.9 L1818.8,1442.8 L1821.7,1440.4 L1823.3,1437 L1824.7,1433.5 L1827.4,1430.7 L1829.2,1427.4 L1832.3,1425.4 L1835,1422.8 L1836.7,1419.5 L1839.5,1417 L1841,1413.6 L1843.1,1410.6 L1844.8,1407.4 L1847,1404.4 M1810.6,1771.9 L1814.5,1770.5 L1818.6,1769.5 L1821.2,1766.3 L1824.4,1763.6 M1810.6,1939.6 L1812.8,1936.3 L1816.1,1934 M1811,330 L1814.2,332.2 L1817,335 M1811,1290.4 L1812.8,1293.9 L1815.8,1296.4 L1817.4,1300 L1820.1,1302.8 L1821.4,1306.6 L1821,1310.5 L1822.5,1314.1 L1822.9,1318 M1811,1290.4 L1816.3,1287 L1819.5,1281.6 L1825,1279.2 L1830.6,1276.7 L1834.4,1272.1 L1837.6,1267 L1842.1,1262.8 L1844.5,1257.2 M1811.6,1042.5 L1813,1049.1 L1814,1055.8 L1818.1,1061.2 L1822.4,1066.4 M1811.6,1042.5 L1811.6,1038.4 L1813.1,1034.6 L1816.2,1031.9 L1817.8,1028.1 L1820.6,1025.3 L1822.8,1022 L1825.5,1019.1 L1828.9,1017 M1811.6,1377 L1816.3,1375.1 L1821.4,1374.6 M1812.2,801.8 L1814.9,798.7 L1816.9,795 L1820,792.3 L1822.3,788.8 M1812.2,801.8 L1814.1,805.5 L1815.3,809.5 L1816.9,813.4 L1817.3,817.5 L1819.3,821.2 L1821.4,824.8 L1822.2,828.9 L1823.7,832.8 L1827,835.4 L1829,839.1 L1832.4,841.6 L1834.7,845.1 L1838.6,847 L1841.6,850 L1844,853.5 L1845.9,857.3 M1814.5,594 L1817.1,590.8 L1818.6,586.9 L1821.7,584.2 L1823.8,580.6 L1825.3,576.8 L1827.2,573.1 L1830.4,570.4 L1832,566.5 L1833.6,562.7 L1834.9,558.9 L1836.9,555.3 L1837.4,551.1 L1837.4,546.9 L1839.4,543.2 L1842.1,539.9 L1843.2,535.9 M1814.5,594 L1818.5,599.1 L1821.9,604.6 L1827.8,607.4 L1833.3,610.8 L1838,615 L1843.3,618.5 L1848.3,622.7 L1850.9,628.7 M1815.8,1577.6 L1816.9,1573.1 L1816.7,1568.4 L1816.6,1563.7 L1815.9,1559.2 L1817.1,1554.7 L1817.5,1550 L1819.6,1545.9 L1821.1,1541.5 L1824.2,1537.8 L1828.2,1535.1 L1829.9,1530.7 L1831.8,1526.4 L1832.1,1521.7 L1832.9,1517.1 L1834.2,1512.5 L1837,1508.6 M1815.8,1577.6 L1819.6,1580.5 L1822.1,1584.5 L1825.1,1588.4 L1829.5,1590.4 L1834.2,1591.5 L1838.3,1593.9 L1842.3,1596.6 L1845.6,1600 M1816.1,1934 L1820.4,1934.4 L1824.4,1932.6 M1816.9,1339.5 L1818.5,1338.9 M1817,335 L1822.4,337.3 L1827,341 M1818.4,1475.5 L1819.8,1470.2 M1818.4,1475.5 L1822,1478.8 L1824.3,1483.1 L1827.4,1486.8 L1830.6,1490.4 L1833.5,1494.4 L1835.8,1498.8 L1835.2,1503.9 L1837,1508.6 M1818.5,1338.9 L1818,1333.5 L1818.8,1328.1 L1821.1,1323.1 L1822.9,1318 M1818.5,1338.9 L1821.4,1341.9 L1825,1344 M1819.2,893.2 L1820.7,897.6 L1822.7,901.9 L1822.6,906.6 L1822.3,911.3 L1821.3,915.9 L1821,920.6 L1822.9,925 L1823.8,929.6 M1819.2,893.2 L1824.4,890.6 M1819.4,491.7 L1820.3,485.8 L1822.9,480.3 L1823.6,474.4 L1823.9,468.5 M1819.4,491.7 L1820.5,498 L1822.5,504.2 L1825.6,509.9 L1826.6,516.3 L1830.6,521.6 L1836.4,524.8 L1838.6,531.1 L1843.2,535.9 M1819.8,1470.2 L1824.9,1469.5 L1829.8,1471.5 L1834.7,1470.7 L1839.5,1469 L1844.5,1468.2 L1849.6,1468.1 L1853.5,1464.7 L1858.2,1462.7 M1820.8,934.5 L1823.8,929.6 M1820.8,934.5 L1820.1,938.2 L1819.6,941.8 L1821.1,945.3 L1821.5,949.1 L1820.3,952.7 L1817.7,955.5 L1817.7,959.3 L1817.2,963 L1817.5,966.7 L1817.3,970.4 L1817.4,974.1 L1818.3,977.7 L1821.2,980.2 L1822.7,983.7 L1823.7,987.3 L1826.1,990.3 M1821.4,1374.6 L1824,1368.5 M1822.3,788.8 L1827.1,786.9 L1832.1,786 L1836.9,784 L1842.1,783.5 L1847.1,782.4 L1851.7,780 L1856.5,778.4 L1861.5,777.2 M1822.4,1066.4 L1827.6,1066.3 L1832.5,1064.6 L1837.6,1064.7 L1842.6,1066 L1847.7,1066.6 L1852.3,1068.9 L1857.1,1070.7 L1862.3,1070.5 M1822.7,1351.2 L1823,1356.1 L1822.7,1361 M1822.7,1351.2 L1823.8,1347.5 L1825,1343.8 M1822.7,1351.2 L1824.1,1347.7 L1825,1344 M1822.7,1361 L1823.9,1364.7 L1824,1368.5 M1822.9,1318 L1827.4,1316.3 L1832.1,1314.8 L1836.9,1313.9 L1841.8,1315 L1846.4,1313 L1849.5,1309.1 L1854.2,1307.9 L1858.8,1306.4 M1823.8,929.6 L1828.3,929.4 L1832.6,930.9 L1836.7,932.9 L1840,936 L1844.4,936.5 L1848.8,936.5 L1853.1,937.5 L1857.1,939.5 L1861.1,941.2 L1864.7,943.6 L1869,944.7 L1872.6,947.3 L1877,948.1 L1880.7,950.5 L1884.7,952.6 L1887.8,955.7 M1823.9,468.5 L1825.4,467 M1824.3,1229.5 L1829.5,1231.9 L1833.5,1235.9 M1824.4,890.6 L1824.8,889.3 M1824.4,890.6 L1825.8,884.2 L1828,878 M1824.4,1763.6 L1826.2,1760 L1828.6,1756.7 M1824.4,1932.6 L1828.1,1936.6 L1831.4,1941 M1824.8,889.3 L1826,883.5 L1828,878 M1824.8,889.3 L1829.9,888.6 L1835,888.2 L1840.1,887.6 L1844.9,885.6 L1850,884.6 L1855.1,885.5 L1860.2,885.5 L1865.2,887 M1825,1343.8 L1825,1344 M1825,1343.8 L1830.1,1344.2 L1835,1342.6 M1825.4,467 L1825.9,462.8 L1827.1,458.8 L1830.2,455.8 L1831.4,451.6 M1825.4,467 L1831,471.4 L1835.5,477 L1840.7,482 L1847.2,485.3 L1854.1,487 L1860.8,489.4 L1866.8,493.4 L1873.8,495.4 L1880.7,494.1 L1887.8,494.2 L1894.9,494.2 L1901.8,496.2 L1909,495.2 L1915.8,497.8 L1922.9,499.3 L1929.8,497.2 M1825.4,991.1 L1826.1,990.3 M1825.4,991.1 L1825.5,997.9 L1828.9,1003.8 L1828.6,1010.4 L1828.9,1017 M1825.8,1747 L1827.1,1751.9 L1828.6,1756.7 M1825.8,1747 L1830,1744.2 M1825.8,1964.5 L1827,1967.9 L1826.6,1971.5 L1827.3,1975 L1826.9,1978.6 M1825.8,1964.5 L1828.8,1961.3 L1832.1,1958.6 L1834.3,1954.8 L1835.5,1950.6 M1826.1,990.3 L1832.7,989.6 L1839,987.5 L1845.6,986.7 L1851.7,984 L1858.5,985 L1864.9,982.7 L1871.2,980.7 L1877.8,979.7 M1826.8,1848.5 L1830.3,1851.2 L1832.5,1855.1 L1832.6,1859.6 L1834.6,1863.6 L1837.2,1867 L1839.4,1870.7 L1843,1873.1 L1845.4,1876.7 L1844.9,1881.1 L1843.9,1885.5 L1846.2,1889.4 L1846.7,1893.9 L1848.4,1897.8 L1850.4,1901.6 L1852.5,1905.4 L1853.8,1909.5 M1826.8,1848.5 L1827.9,1841.6 L1829.3,1834.8 L1831.8,1828.3 L1834.4,1821.9 L1839.9,1817.3 L1845.8,1813.4 L1850.4,1807.8 L1852.6,1800.9 L1855.1,1794.4 L1854.9,1787.4 L1857.1,1780.9 L1859.7,1774.5 L1857.2,1767.9 L1857.9,1760.9 L1859.9,1754.2 L1859.1,1747.2 M1826.9,1978.6 L1827.2,1982.5 M1826.9,1978.6 L1830.3,1975.2 L1833.6,1971.7 L1834.9,1966.9 L1837.9,1963.1 L1838.3,1958.3 L1838.3,1953.5 L1839.6,1948.9 L1840.9,1944.3 L1843.8,1940.5 L1844.7,1935.7 L1846.9,1931.5 L1846.7,1926.7 L1847.5,1922 L1849,1917.5 L1850.6,1913 L1853.8,1909.5 M1827,341 L1831.2,339.8 L1835.3,338.7 L1839.7,339.5 L1844,339 M1827.2,1982.5 L1830.1,1987.2 L1830.4,1992.7 L1828.9,1997.9 L1829.8,2003.3 M1828,878 L1831.3,873.8 L1833.1,868.7 L1836.2,864.3 L1840.4,861 M1828.9,1017 L1832.7,1020.9 L1837.9,1022.8 L1842.9,1024.9 L1846.9,1028.7 L1852.3,1028.4 L1857.5,1030.3 L1862.8,1030.6 L1868.2,1030.4 M1829.8,2003.3 L1830,2004.7 M1829.8,2003.3 L1837.3,1998.8 L1844.9,1994.6 L1853,1990.6 L1862,1990.9 L1870.1,1987.6 L1878.8,1987.1 L1887.3,1984.8 L1896.1,1985.8 L1905,1985.8 L1913.1,1989.8 L1921.7,1987.5 L1930.5,1989.2 L1939.3,1987.8 L1947,1983.2 L1955.8,1985 L1964.6,1983.5 M1830,1744.2 L1834.2,1743.7 L1838.4,1744.3 L1842.7,1744.6 L1846.6,1742.8 M1830,2004.7 L1834.1,2010.3 L1839.7,2014.4 M1831.4,451.6 L1834,448.5 L1837.2,446.2 L1839.8,443.2 L1842.6,440.4 L1845.7,437.8 L1848,434.4 L1851.8,432.9 L1855.2,430.7 L1856.7,426.9 L1858.9,423.4 L1861.7,420.4 L1865.4,418.4 L1869.2,417 L1872.8,415.2 L1875.3,412 L1878.6,409.5 M1831.4,1941 L1832.4,1946.2 L1835.5,1950.6 M1833.5,1235.9 L1836.1,1241.6 L1836.7,1247.7 L1841.7,1251.5 L1844.5,1257.2 M1833.5,1235.9 L1836.3,1233.2 L1838.9,1230.3 L1841.9,1227.8 L1844.7,1225 L1848.5,1223.6 L1851.8,1221.3 L1854.4,1218.2 L1856.6,1214.9 L1860.4,1213.7 L1864.4,1212.7 L1867,1209.5 L1870.7,1207.8 L1873.8,1205.1 L1875.3,1201.2 L1878.1,1198.3 L1881.8,1196.5 M1835,1342.6 L1836.2,1337.7 M1836.2,1337.7 L1842.4,1340 M1837,1508.6 L1841.1,1510.9 L1845.6,1512.2 L1850.1,1513 L1854.8,1513.4 L1859.3,1512.2 L1864,1511.9 L1868.4,1513.7 L1873.2,1513.6 M1837,1649.8 L1836.1,1654.7 L1837,1659.6 M1837,1649.8 L1836.9,1645.3 L1836.2,1640.9 L1836.9,1636.3 L1839.4,1632.5 M1837,1659.6 L1841.3,1660.5 M1837,1672.2 L1837.8,1668.6 L1838.2,1665 M1837,1672.2 L1838.8,1675.3 L1839.4,1678.9 L1838.9,1682.5 L1839.7,1686 M1838,1128.8 L1840.7,1128.7 M1838.2,1665 L1842.8,1662.5 L1848,1662 M1839.4,1632.5 L1839.5,1626.8 L1839.9,1621.2 L1842,1615.9 L1843,1610.3 M1839.7,1686 L1843.5,1690.3 L1845.6,1695.6 L1845.2,1701.3 L1846.6,1706.8 M1839.7,2014.4 L1844.5,2015.9 L1849.1,2017.7 L1854.1,2018.6 L1859.1,2018.5 M1840.4,861 L1845.9,857.3 M1840.4,861 L1843.9,858.2 L1847.8,856 M1840.7,1128.7 L1846.3,1132.9 L1849.5,1139.1 L1852.7,1145.2 L1854.4,1151.8 L1853.9,1158.8 L1855.8,1165.5 L1858.2,1172 L1862.4,1177.5 M1840.7,1128.7 L1844.2,1125.6 L1847.3,1122.1 L1851,1119.2 L1855.5,1117.8 L1859.7,1115.8 L1864,1114.1 L1868.1,1112 L1872,1109.6 M1841.3,1660.5 L1848,1662 M1842.4,1340 L1846,1343.1 L1850.6,1344.2 M1842.4,1340 L1847.9,1341.3 L1852.2,1345 M1843,1610.3 L1843.1,1604.8 L1845.6,1600 M1843.2,535.9 L1848.3,536 L1853.1,537.9 L1858,538.9 L1862.9,539.9 L1866.8,543.2 L1871.6,545 L1876,547.4 L1880.7,549.2 M1844,339 L1847.2,334.5 L1848,329 M1844.5,1257.2 L1849.3,1260 L1854.7,1261.5 M1845.6,1600 L1847.3,1596.6 L1849,1593.3 L1848.3,1589.4 L1849.3,1585.7 M1845.9,857.3 L1847.8,856 M1846.6,1706.8 L1850.8,1708.2 M1846.6,1742.8 L1851.6,1740.4 L1854.9,1735.9 M1847,1404.4 L1850.7,1402.7 L1854.6,1401.9 L1858.6,1401.2 L1862.6,1402.2 M1847.8,856 L1852.6,854.4 L1857.6,855 M1848,329 L1851.5,329.4 L1855,329 M1849.3,1585.7 L1849.4,1581 L1851.7,1576.9 L1852.6,1572.2 L1855.4,1568.5 M1850.6,1344.2 L1852.2,1345 M1850.6,1344.2 L1852.4,1348.6 L1853.8,1353.2 L1857.4,1356.4 L1859.6,1360.7 L1863.8,1363 L1867.9,1365.6 L1870.9,1369.4 L1873.6,1373.3 M1850.8,1708.2 L1853.5,1711.6 L1855.3,1715.6 L1857.2,1719.5 L1859.1,1723.4 M1850.9,628.7 L1857.2,629 L1863.4,627.5 L1869.8,628.7 L1875,632.4 M1852.2,1345 L1857,1348.2 L1862,1351.2 M1852.7,683.7 L1853.6,677.6 L1854,671.4 M1852.7,683.7 L1853.3,687.5 L1855,691 M1853.8,1909.5 L1859.8,1907 L1866.1,1905.2 L1872.8,1905.5 L1879.1,1903.6 L1885.7,1903.7 L1892.1,1905.3 L1898.4,1903.2 L1905.1,1903.1 L1910.8,1900 L1917,1897.9 L1922.6,1894.6 L1927.5,1890.2 L1932.3,1885.6 L1938.1,1882.3 L1944.5,1880.6 L1951.1,1879.6 M1854,671.4 L1857.5,666 L1860,660 M1854.7,1261.5 L1858.6,1266.4 L1861.1,1272.2 L1865.7,1276.5 L1869,1281.8 M1854.7,1261.5 L1857.6,1259.5 L1860.2,1257.1 L1863,1255 L1866.3,1253.7 L1868.3,1250.7 L1870.9,1248.3 L1872,1244.9 L1874.3,1242.1 L1877.9,1241.9 L1881,1240.1 L1884.2,1238.5 L1886.5,1235.8 L1893.2,1233.7 L1899.2,1230.3 M1854.9,1735.9 L1856.4,1732.1 L1859.1,1729 M1855,329 L1859,328.2 L1863,329 M1855,329 L1856.8,334.2 L1859,339.2 L1862.9,343.1 L1866.4,347.3 L1867.4,352.8 L1870.6,357.3 L1872.9,362.3 L1876.5,366.4 L1878.6,371.5 L1878.4,377.1 L1879.7,382.5 L1878.6,387.9 L1880.5,393.1 L1881,398.7 L1880.7,404.3 L1878.6,409.5 M1855,691 L1861,693.6 M1855.4,1568.5 L1859.1,1568.4 L1862.8,1568 M1857.6,855 L1863,856.8 L1868.7,857.4 M1858,1551.2 L1858.2,1556.8 L1858,1562.3 M1858,1551.2 L1859.9,1545.1 L1861.6,1539 M1858,1562.3 L1862,1564.6 L1866.5,1565.5 M1858.2,1462.7 L1860.8,1458.1 L1864.5,1454.3 L1865.6,1449.1 L1868.2,1444.5 L1871.1,1440.2 L1874.5,1436.3 L1878.3,1432.7 L1881.9,1429 M1858.2,1462.7 L1863.1,1465.1 L1867.3,1468.6 L1870.3,1473.1 L1873.1,1477.7 L1876.7,1481.7 L1879.4,1486.3 L1882.7,1490.5 L1887,1493.7 M1858.8,1306.4 L1860.4,1299.8 L1861.5,1293.1 L1864.4,1286.9 L1869,1281.8 M1858.8,1306.4 L1861.6,1308.7 L1864.5,1310.9 L1866.3,1314 L1868.4,1317 L1869,1320.6 L1870.3,1324 L1871.5,1327.3 L1872.8,1330.7 M1859.1,1723.4 L1859.1,1729 M1859.1,1729 L1859.1,1730.4 M1859.1,1730.4 L1858,1735.9 L1859.1,1741.4 M1859.1,1741.4 L1859.1,1747.2 M1859.1,1747.2 L1856.9,1751.8 L1857.2,1756.8 L1857.5,1761.7 L1859.1,1766.4 M1859.1,1766.4 L1859.5,1769.9 L1860,1773.4 L1859.1,1776.9 L1858.7,1780.4 L1859.4,1783.9 L1859.3,1787.5 L1861.4,1790.5 L1861.8,1794.1 M1859.1,2018.5 L1862.8,2020.2 L1866,2022.7 M1860,660 L1864.8,657.1 L1868.7,653 M1861,693.6 L1862.6,698.4 L1862.6,703.4 M1861.5,777.2 L1860.8,773 L1859,769.2 L1859.4,765 L1860.6,761 L1862.6,757.2 L1862.7,753 L1862.4,748.8 L1861.8,744.7 L1863.4,741 L1864.3,736.9 L1865.1,732.9 L1867,729.2 L1870.3,726.6 L1872.6,723.1 L1873.8,719.1 L1876.1,715.6 M1861.5,777.2 L1865.4,780.6 L1867.9,785.1 L1873,786 L1877.3,789 L1881.8,791.2 L1886.5,793.1 L1888.8,797.8 L1893,800.9 M1861.6,1539 L1862.3,1535.4 L1864.6,1532.5 L1864.6,1528.9 L1865.3,1525.3 L1866.9,1522.2 L1869.2,1519.4 L1871.9,1517 L1873.2,1513.6 M1861.8,1794.1 L1864.8,1796.1 L1868.3,1797 L1870.7,1799.6 L1872.9,1802.4 M1862,1351.2 L1864.3,1345.7 L1868.4,1341.5 L1871.4,1336.4 L1872.8,1330.7 M1862,1351.2 L1862.5,1347.1 L1864.7,1343.6 L1866.4,1339.9 L1867,1335.9 L1868.2,1331.9 L1870.8,1328.6 L1873.3,1325.3 L1876.8,1323 M1862.3,1070.5 L1863.7,1075.5 L1864.5,1080.7 L1864,1085.8 L1863.4,1091 L1864.7,1096.1 L1865.6,1101.3 L1868.6,1105.6 L1872,1109.6 M1862.3,1070.5 L1865.4,1066.8 L1868.7,1063.3 L1872.1,1059.7 L1873.7,1055 M1862.4,1177.5 L1866.1,1178.2 L1869.6,1179.5 L1873,1181.2 L1876.5,1182.4 M1862.6,703.4 L1868.3,706.2 L1872.4,711 M1862.6,1402.2 L1865.5,1399.3 L1868.7,1396.8 L1869.7,1392.7 L1871.8,1389.2 L1871.6,1385.1 L1871.5,1381.1 L1872,1377.1 L1873.6,1373.3 M1862.6,1402.2 L1865,1405.6 L1867.9,1408.6 L1869.9,1412.3 L1873.4,1414.8 L1876.1,1418 L1878.2,1421.6 L1880.4,1425.1 L1881.9,1429 M1862.8,1568 L1866.5,1565.5 M1863,329 L1865,326 M1865,326 L1869,329.8 L1871,335 M1865.2,887 L1865.9,883.2 L1868.1,880.1 L1868.8,876.4 L1870.5,873.1 L1871.4,869.3 L1873.7,866.2 L1875.9,863 L1879.1,860.9 M1865.2,887 L1869.4,890.5 L1874.7,892 L1878.9,895.5 L1882.4,899.6 M1866,2022.7 L1867.8,2026.2 L1868.1,2030.2 L1867.4,2034 L1867.4,2037.9 M1867.4,2037.9 L1869.2,2042.2 L1869.2,2046.9 L1871.1,2051.1 L1874.3,2054.5 M1868.2,1030.4 L1869.3,1036.8 L1868.7,1043.2 L1871,1049.2 L1873.7,1055 M1868.2,1030.4 L1869.7,1026.3 L1870.8,1022.1 L1874.1,1019.2 L1876.3,1015.4 L1879.3,1012.2 L1880.9,1008 L1880.7,1003.6 L1882.1,999.4 M1868.7,653 L1875.4,651.7 M1868.7,857.4 L1873.9,858.5 L1878.6,861 M1869,1281.8 L1873,1281.9 L1876.8,1282.9 L1880.6,1281.5 L1884.7,1281.9 L1888.3,1283.5 L1891.8,1285.2 L1895.3,1287.2 L1899.2,1287.8 M1871,335 L1875.3,337.4 L1880,339 M1872,1109.6 L1877.2,1113.9 L1883.8,1115.3 M1872.4,711 L1877,714.5 M1872.8,1330.7 L1875.1,1327 L1876.8,1323 M1872.9,1802.4 L1877.1,1807.1 L1882,1810.9 L1885.5,1816.1 L1888.2,1821.8 M1873.2,1513.6 L1874,1511.8 M1873.6,1373.3 L1877.3,1373.3 L1880.9,1372.8 L1884.4,1371.8 L1888.1,1371.9 L1891.8,1371.2 L1894.8,1368.9 L1898.5,1368 L1901.3,1365.6 M1873.7,1055 L1878,1056.1 L1882.5,1056.1 L1886.2,1053.5 L1890.7,1052.8 L1895.1,1053.2 L1899.2,1054.7 L1903.7,1055.2 L1907.9,1053.6 M1874,1511.8 L1875.7,1506.7 L1879.4,1502.7 L1883.5,1499.3 L1886.2,1494.6 M1874.3,2054.5 L1876.9,2056.9 L1879.6,2059.1 L1883,2060.3 L1886,2062.2 L1888.5,2064.8 L1891.4,2067.1 L1892.3,2070.6 L1893.7,2073.9 M1875,628 L1875,632.4 M1875,628 L1878.6,626.2 L1881,623 M1875,632.4 L1875,636 M1875,636 L1873.7,639.8 L1873.5,643.9 L1874.1,647.9 L1875.4,651.7 M1876.1,715.6 L1877.3,714.6 M1876.5,1182.4 L1877.4,1186.1 L1879.2,1189.4 L1880.1,1193.1 L1881.8,1196.5 M1876.5,1182.4 L1877.9,1178.4 L1880.2,1174.9 L1882.1,1171.3 L1883.6,1167.4 L1886.4,1164.3 L1888.8,1160.9 L1892.4,1158.6 L1894.9,1155.2 M1876.8,1323 L1879.7,1326.3 L1882.5,1329.6 M1877,714.5 L1877.3,714.6 M1877.3,714.6 L1883.7,717.3 L1889.7,720.7 M1877.8,979.7 L1879.3,984.6 L1878.9,989.8 L1881.6,994.2 L1882.1,999.4 M1877.8,979.7 L1881.4,974 L1881.7,967.2 L1885.8,962 L1887.8,955.7 M1878.6,409.5 L1882.5,411.1 L1886.6,411.8 L1890.7,411.2 L1894.8,410.5 L1898.8,411.3 L1902.9,411.7 L1906.7,413.1 L1910.7,413.9 M1878.6,861 L1879.1,860.9 M1878.6,861 L1883.5,860 M1879.1,860.9 L1883.5,860 M1880,339 L1883.5,336.4 L1887.4,334.5 L1891.7,334.6 L1896,334 M1880.7,549.2 L1879.6,553.7 L1879.6,558.3 L1880.4,562.9 L1882.9,566.8 L1884.2,571.3 L1886.8,575.1 L1885.7,579.6 L1886.8,584.2 L1888.8,588.4 L1892.3,591.5 L1895.8,594.6 L1898.3,598.4 L1898.1,603.1 L1899.1,607.6 L1901.4,611.8 L1901.5,616.5 M1880.7,549.2 L1882.7,545.9 L1885.4,543.2 L1888.7,541.3 L1891.8,539.1 L1895.4,537.9 L1899,536.9 L1902.7,535.8 L1905.9,533.8 L1909.8,533 L1912.8,530.4 L1915,527.1 L1918.5,525.2 L1921.2,522.5 L1923.3,519.3 L1925.3,515.9 L1925.9,512 M1881,623 L1886.2,619.5 L1892,617 M1881.8,1196.5 L1885.5,1198.2 L1888.9,1200.5 L1891.8,1203.4 L1893.8,1207 M1881.9,1429 L1886.2,1429.7 L1890.2,1431.6 L1894.5,1430.8 L1898.8,1432 M1882.1,999.4 L1887.2,1002.5 L1892.5,1005.1 L1898.6,1004.9 L1904.3,1007 L1909.3,1010.2 L1913.2,1014.8 L1919,1016.2 L1923.9,1019.8 M1882.4,899.6 L1882.5,903.5 L1881.5,907.2 L1883,910.7 L1884.1,914.4 L1882.5,917.8 L1880.8,921.1 L1879.3,924.6 L1878.4,928.2 L1877.6,931.9 L1877.7,935.8 L1879.8,939 L1880.7,942.7 L1882.3,946.1 L1884.2,949.2 L1886.8,952 L1888.6,955.2 M1882.4,899.6 L1888.6,896.9 L1893.9,892.7 L1900.7,893.2 L1907.4,892.1 M1882.5,1329.6 L1888.6,1331.9 M1882.5,1329.6 L1887.6,1331.1 L1892.4,1333.3 M1883.5,860 L1886.4,862.1 L1889.7,863.5 M1883.8,1115.3 L1884.9,1120.5 L1884.3,1125.8 L1885,1131.1 L1885.4,1136.4 L1886.2,1141.7 L1889.4,1146.2 L1891.8,1150.9 L1894.9,1155.2 M1883.8,1115.3 L1886.8,1111.2 L1891.4,1109 L1895.9,1106.7 L1900.5,1105.1 L1905.4,1104.3 L1910.3,1104.5 L1915.2,1104.1 L1920.1,1103.6 M1886.2,1494.6 L1887,1493.7 M1887,1493.7 L1890.3,1489.4 L1893.9,1485.4 L1898.1,1481.9 L1901,1477.3 M1887.8,955.7 L1888.6,955.2 M1888.2,1821.8 L1890.7,1825.4 L1893.1,1829.2 L1896.9,1831.7 L1899.2,1835.6 M1888.6,955.2 L1892.8,953.7 L1896.7,951.6 L1901,950.2 L1905.5,950.4 L1910,949.4 L1914.5,949.3 L1918.5,951.6 L1923,952.4 M1888.6,1331.9 L1892.4,1333.3 M1888.6,1331.9 L1892.3,1328.4 L1894.5,1323.9 L1898.2,1320.5 L1901.5,1316.8 L1904.2,1312.4 L1906.3,1307.8 L1910.4,1304.8 L1914.2,1301.4 M1889.7,720.7 L1893.9,719.1 L1897,715.8 M1889.7,863.5 L1893.3,864.6 L1897,865 M1892,316.5 L1891.1,320.2 L1892,324 M1892,316.5 L1898.7,316.9 L1905.3,316.1 M1892,324 L1895.2,327 L1898.5,330 M1892,617 L1896.8,616.8 L1901.5,616.5 M1892.4,1333.3 L1896,1337 L1897.3,1342 M1893,800.9 L1894,805.6 L1894.4,810.4 L1892.8,815.1 L1893.1,820 L1894.2,824.7 L1896.8,828.8 L1900,832.4 L1902.2,836.7 L1905.9,839.7 L1908.1,843.9 L1910.7,847.9 L1912.1,852.4 L1913.3,856.9 L1914.1,861.6 L1915.9,866 L1919.2,869.5 M1893,800.9 L1895.8,798.3 L1897.6,794.9 L1901,793.2 L1903.8,790.5 L1906.8,788.2 L1908.8,785 L1910.8,781.8 L1912.8,778.7 L1916.7,778.4 L1920.4,777 L1924.2,776.4 L1927.6,774.3 L1930.3,771.6 L1933,768.9 L1936.4,766.8 L1938.4,763.4 M1893.7,2073.9 L1896.7,2075.8 L1899.7,2077.8 L1903.1,2079.1 L1906.2,2080.9 M1893.8,1207 L1896,1212.7 L1896,1218.8 L1896.2,1224.9 L1899.2,1230.3 M1893.8,1207 L1897.6,1207 L1901.4,1206.7 L1904.7,1204.9 L1908.4,1203.8 L1912.1,1204.3 L1915.8,1203.2 L1919.4,1201.8 L1923.2,1202.2 L1926.3,1199.7 L1930.1,1198.6 L1933.9,1197.7 L1937.8,1197.3 L1940.9,1194.9 L1943.7,1192.3 L1946.4,1189.5 L1948.2,1186 M1894.9,1155.2 L1899.7,1155 L1904.4,1154.4 L1909.3,1154.7 L1913.8,1156.5 L1918.3,1158.2 L1923.1,1157.9 L1927.9,1157 L1932.6,1158.2 M1896,334 L1898.5,330 M1897,715.8 L1901.3,715.1 L1905.7,714.5 M1897,865 L1898,871 M1897.3,1342 L1902,1344.3 L1907,1345.6 M1898,871 L1904.4,873.4 M1898.8,1432 L1900.1,1438.4 L1899.5,1444.8 L1898.2,1451.3 L1900.2,1457.6 L1904.6,1462.4 L1908.5,1467.6 L1911.3,1473.5 L1913.1,1479.8 M1898.8,1432 L1903.9,1430.8 L1907.8,1427.2 L1910.5,1422.7 L1914.7,1419.5 L1919.8,1418.5 L1925,1419.5 L1929.6,1417 L1934.3,1414.9 M1899.2,1230.3 L1901.7,1232.9 L1904.7,1235.1 L1907.7,1237.1 L1910.5,1239.5 M1899.2,1287.8 L1897.9,1281.4 L1899.9,1275.2 L1899.2,1268.9 L1900.8,1262.7 L1901.4,1256.3 L1903.3,1250.1 L1907.8,1245.4 L1910.5,1239.5 M1899.2,1287.8 L1903.8,1290.1 L1908,1293.2 L1911.1,1297.3 L1914.2,1301.4 M1899.2,1835.6 L1905,1836.9 L1910.3,1839.8 M1901,1477.3 L1906,1475.4 M1901.3,1365.6 L1903.9,1360.2 L1907.6,1355.6 L1910.5,1350.2 L1915.6,1346.8 M1901.3,1365.6 L1902.4,1369.3 L1905.1,1372.1 L1905.7,1375.8 L1907.3,1379.3 L1910.3,1381.8 L1912.5,1385 L1914.4,1388.4 L1914.7,1392.3 L1916.3,1395.9 L1917.3,1399.7 L1919.9,1402.5 L1923,1404.9 L1925.6,1407.7 L1928.3,1410.3 L1931.7,1412.1 L1934.3,1414.9 M1901.5,616.5 L1906.7,615.2 L1912,616 M1904.4,873.4 L1906.2,880.1 L1905.7,887 M1905.3,316.1 L1907,316 M1905.3,316.1 L1906.7,319.6 L1907.8,323.1 L1910,326.2 L1913.2,328.3 L1916.3,330.2 L1918.9,332.9 L1922.3,334.2 L1925.5,335.9 L1928.8,337.4 L1932.4,337.6 L1936.1,337.6 L1939.4,339.1 L1942.5,341 L1945.4,343.1 L1948.9,344.2 L1952.6,344.3 M1905.7,714.5 L1908.3,717.5 L1910.6,720.7 M1905.7,887 L1907.4,892.1 M1905.7,887 L1907.6,890.3 L1908,894 M1906,1475.4 L1909.2,1478.1 L1913.1,1479.8 M1906.2,2080.9 L1908.8,2076.5 L1913,2073.8 L1915.3,2069.4 L1915.7,2064.4 L1919.2,2061.1 L1922,2057.1 L1925.4,2053.6 L1927,2049 M1907,316 L1908.7,312.2 L1910.8,308.7 L1912.6,305 L1914.4,301.3 L1917.9,298.9 L1921.8,297.5 L1924.7,294.5 L1928,292 M1907,1345.6 L1911.4,1345.3 L1915.6,1346.8 M1907,1345.6 L1911.4,1346.5 L1915.8,1346.8 M1907.4,892.1 L1908,894 M1907.9,1053.6 L1909.8,1057.4 L1913.2,1060 L1915.8,1063.2 L1919.3,1065.6 M1907.9,1053.6 L1908.8,1048.7 L1908.2,1043.9 L1910.5,1039.5 L1912.7,1035.2 L1915.1,1030.9 L1916.6,1026.2 L1919.9,1022.7 L1923.9,1019.8 M1908,728 L1907.7,731.9 L1909,735.5 M1908,728 L1909.3,724.3 L1910.6,720.7 M1908,894 L1909,895.6 M1908,894 L1910.3,890.4 L1911.4,886.3 L1911.3,882 L1913,878 M1909,735.5 L1912.4,734.4 L1915.9,733.6 L1919.5,733.5 L1923,734 M1909,895.6 L1911.3,900.6 L1914,905.4 M1910.3,1839.8 L1911.4,1844.1 L1914.3,1847.4 L1916.5,1851.1 L1918.3,1855 L1922.1,1857.1 L1925.5,1859.8 L1929,1862.2 L1932.5,1864.7 M1910.5,1239.5 L1915.1,1240.1 L1919.4,1242.1 L1924,1242.9 L1928.6,1241.8 M1910.7,413.9 L1914.2,410.5 L1916.4,406.1 L1920.6,403.8 L1924.8,401.4 L1926.7,396.9 L1930.2,393.5 L1930.3,388.6 L1931.8,383.9 L1934.2,379.9 L1938.1,377.3 L1940.9,373.6 L1943.2,369.6 L1946.4,366.1 L1950.7,364 L1953.3,359.9 L1954.7,355.4 M1910.7,413.9 L1913.8,417.5 L1916.6,421.3 L1920.3,424.3 L1923.6,427.7 L1923.6,432.6 L1924.8,437.3 L1928,441 L1930.1,445.4 L1932.9,449.3 L1937,451.7 L1939.5,455.7 L1943.1,458.7 L1947.1,461.2 L1950.9,463.9 L1953.8,467.7 L1958.1,469.7 M1912,616 L1914.1,611.3 L1917,607 M1913,878 L1915.1,873 L1919.2,869.5 M1913.1,1479.8 L1917.4,1483.9 L1923,1486 M1914,905.4 L1914.6,911.7 L1916.7,917.7 M1914.2,1301.4 L1920,1301.3 L1925.5,1302.8 M1915.6,1346.8 L1915.8,1346.8 M1915.8,1346.8 L1920.2,1348.4 L1924.4,1350.5 M1916.7,917.7 L1919,922.4 L1920.7,927.3 L1921.7,932.4 L1923,937.4 M1917,607 L1916.7,603.4 L1918,600 M1918,600 L1923,596 M1919.2,869.5 L1921.7,866 M1919.3,1065.6 L1920.9,1070.3 L1922.9,1074.8 L1923.2,1079.8 L1921.6,1084.6 L1921.2,1089.3 L1920.1,1094 L1919.4,1098.8 L1920.1,1103.6 M1919.3,1065.6 L1924,1064.6 L1928.8,1065.5 L1933.5,1065.5 L1938.3,1065.7 L1942.7,1063.9 L1947.5,1063.4 L1952.1,1062.4 L1956.5,1060.5 M1920.1,1103.6 L1924.5,1106.1 L1928.9,1108.4 L1933.2,1111.2 L1938.3,1112.1 M1921,974.6 L1922.5,971.1 L1922.7,967.2 L1923.2,963.4 L1923,959.6 M1921,974.6 L1923.1,978.5 L1923.4,983 M1921.7,866 L1924.2,862.7 L1926.5,859.2 L1929.9,856.5 L1931.5,852.5 M1922,1293.6 L1924.3,1297.5 L1925,1302 M1922,1293.6 L1924.2,1290.6 L1926,1287.4 M1923,596 L1926.8,595 L1929.7,592.3 L1931.9,589.2 L1934,586 M1923,734 L1928.6,733.6 L1934,735 M1923,937.4 L1921.5,941 L1921.9,944.9 L1923.2,948.5 L1923,952.4 M1923,952.4 L1922.4,956 L1923,959.6 M1923,1486 L1928,1482.3 M1923.4,983 L1927,983.5 L1930.7,983.7 L1934.3,984.6 L1938,984.5 M1923.9,1019.8 L1927.3,1017.9 L1930.9,1016.6 M1924.4,1350.5 L1928.4,1350.9 L1931.8,1353 M1925,1302 L1925.5,1302.8 M1925,1302 L1928.6,1306.1 L1931,1311 M1925.5,1302.8 L1927.6,1307.4 L1931,1311 M1925.9,512 L1926.9,508.1 L1926,504.1 L1928.7,501.1 L1929.8,497.2 M1925.9,512 L1928,518.4 L1931.9,523.9 L1935.8,529.3 L1938.4,535.4 L1943.1,540.4 L1946.2,546.5 L1948.1,553 L1949.4,559.6 M1926,1287.4 L1928.2,1282.6 L1929.6,1277.6 M1926.8,1478.6 L1928,1482.3 M1926.8,1478.6 L1929.3,1474.4 L1933,1471.2 M1927,2049 L1929.3,2045.5 L1932.4,2042.8 L1935.7,2040 L1939.7,2038.8 L1942.2,2035.6 L1944.4,2032.1 L1946.8,2028.9 L1949.1,2025.5 M1928,292 L1931.4,290.6 L1935.1,289.9 L1938.8,289.5 L1942.4,289.1 L1946.1,288.3 L1949,285.8 L1951.6,283.1 L1955,281.5 M1928.6,1241.8 L1932.3,1239.1 L1935.6,1235.8 L1938.4,1232.3 L1941.3,1228.7 L1943.3,1224.6 L1945.3,1220.5 L1948.9,1217.4 L1950.6,1213 M1928.6,1241.8 L1931.5,1246.6 L1935.2,1250.8 L1938.2,1255.7 L1939.4,1261.2 L1943.7,1264.9 L1948.6,1267.5 L1952,1272.1 L1956.8,1275.1 M1929.6,1277.6 L1933.3,1278.7 L1937,1278.2 L1940.6,1277.2 L1944.3,1276.4 M1929.8,497.2 L1933.7,494.1 L1936.6,490 L1940.7,487.2 L1943.4,482.9 L1948.3,481.2 L1952.4,478.1 L1954.5,473.4 L1958.1,469.7 M1930.7,1324 L1930.7,1317.5 L1931,1311 M1930.7,1324 L1933.2,1330.2 M1930.7,1324 L1931.9,1328.2 L1934,1332 M1930.9,1016.6 L1930.7,1012.5 L1932.1,1008.6 L1934.2,1005.1 L1936.1,1001.6 L1938.7,998.3 L1939.8,994.3 L1939.6,990.2 L1939.9,986.1 M1930.9,1016.6 L1935.4,1019.4 L1939.2,1023.2 L1944.6,1024.2 L1949,1027.4 M1931.5,852.5 L1936.9,851 L1942.3,849.7 L1947.3,847 L1951,842.6 M1931.8,1353 L1934.7,1346.9 L1938,1341 M1932.5,1864.7 L1935.6,1869.3 L1940.4,1872.1 L1944.1,1876.3 L1949.1,1878.6 M1932.6,1158.2 L1935.4,1152.9 L1936.5,1147.1 L1937.1,1141.2 L1939.1,1135.6 L1940.5,1129.7 L1941.3,1123.8 L1941.2,1117.6 L1938.3,1112.1 M1932.6,1158.2 L1936.4,1160.9 L1939.6,1164.4 L1941.5,1168.9 L1945.3,1171.9 M1933,1471.2 L1937.9,1468.3 L1942.9,1465.6 L1948.1,1463.4 L1952.7,1460 M1933.2,1330.2 L1934,1332 M1933.2,1330.2 L1939.9,1331 L1946.2,1328.8 L1951.9,1332.2 L1958.6,1332.8 M1934,586 L1937.6,584.2 L1940,581 M1934,735 L1935.6,741.3 L1935,747.8 M1934,1332 L1935.5,1336.7 L1938,1341 M1934.3,1414.9 L1939.4,1414.4 L1944.3,1413.3 L1948.9,1415.8 L1954,1416.5 M1935,747.8 L1934.4,751.7 L1935.7,755.3 L1937.6,758.7 L1937.7,762.6 M1937.7,762.6 L1938.4,763.4 M1938,984.5 L1939.9,986.1 M1938.3,1112.1 L1943.3,1110.9 M1938.4,763.4 L1940.5,767.2 L1943.8,770 M1939.9,986.1 L1942.9,988.1 L1945.6,990.6 M1940,581 L1946.5,580 M1943,559 L1943.7,565.9 L1945,572.7 M1943,559 L1949,560 M1943.3,1110.9 L1948.6,1106.9 L1955.1,1105.3 L1959.5,1100.5 L1963.6,1095.5 L1965,1089.1 L1969.1,1084 L1973.2,1078.9 L1975.4,1072.9 M1943.3,1110.9 L1947.6,1114.6 L1952.6,1117.3 L1956.9,1121 L1960.4,1125.4 L1965.7,1127.3 L1970.7,1129.9 L1976.3,1131 L1981.1,1134.1 M1943.8,770 L1947.4,773 L1951,776 M1944.3,1276.4 L1950.4,1274.5 L1956.8,1275.1 M1944.3,1276.4 L1951.3,1276.8 L1958,1275 M1945,572.7 L1945.8,576.3 L1946.5,580 M1945.3,1171.9 L1946.3,1178.5 L1948.9,1184.7 M1945.3,1171.9 L1949.7,1167 L1955.5,1163.6 L1959.2,1158.2 L1963.4,1153.2 L1967.1,1147.6 L1973.1,1144.5 L1978.4,1140.3 L1981.1,1134.1 M1945.6,990.6 L1946.6,994.6 L1949,998 M1948.2,1186 L1948.9,1184.7 M1948.2,1186 L1948.1,1189.6 L1948.3,1193.1 L1947.6,1196.6 L1945.9,1199.8 L1947,1203.3 L1949.5,1206 L1950.7,1209.4 L1950.6,1213 M1948.9,1184.7 L1953.8,1185.5 L1958.7,1184.5 L1963.7,1184.3 L1968.4,1186.3 L1973.1,1187.7 L1978.1,1187.8 L1983.1,1187.6 L1987.9,1186.5 M1949,560 L1949.4,559.6 M1949,998 L1952.6,999.3 L1956.4,999.2 L1959.4,1001.4 L1962.8,1003 M1949,1027.4 L1949.1,1031.8 L1949,1036.1 L1950.2,1040.4 L1952.8,1043.9 L1953.8,1048.1 L1955.7,1052 L1957.1,1056.1 L1956.5,1060.5 M1949,1027.4 L1952.9,1027.1 L1956.5,1025.5 L1960.4,1024.9 L1963.8,1022.8 L1967.7,1021.9 L1971.6,1021.5 L1975,1019.6 L1978.6,1018 M1949.1,1878.6 L1951.1,1879.6 M1949.1,2025.5 L1952.8,2021.1 L1956.6,2016.7 L1960.4,2012.1 L1961.7,2006.3 L1962.5,2000.6 L1962.3,1994.8 L1964,1989.3 L1964.6,1983.5 M1949.4,559.6 L1952.2,556.6 L1953.5,552.7 L1957.2,551 L1960,548 M1950.6,1213 L1953.9,1215.3 L1957.8,1216.2 L1961,1218.5 L1964.2,1220.8 L1967.7,1222.8 L1970.9,1225.2 L1973.2,1228.6 L1974.9,1232.2 M1951,776 L1955.7,779.1 L1961,781 M1951,842.6 L1953.7,837.7 M1951.1,1879.6 L1955.9,1880.8 L1960.1,1883.4 L1963.9,1886.5 L1968.5,1888.3 M1952.6,344.3 L1952.9,350 L1954.7,355.4 M1952.6,344.3 L1954.8,341.5 L1956.5,338.4 L1958.7,335.6 L1961.9,333.9 L1967.1,329.3 L1971.8,324.2 L1974.1,321.4 L1977.4,319.9 L1980.7,318.5 L1983.6,316.5 L1986.3,314.2 L1989.2,312 L1991.4,309.1 L1992.5,305.6 M1952.7,1460 L1956.7,1456.4 L1961.8,1454.8 L1967,1453.8 L1971.9,1451.8 M1953.7,837.7 L1957.4,834.7 L1961,831.5 M1954,1416.5 L1955.2,1421.5 L1958.6,1425.5 L1959.8,1430.4 L1960.7,1435.3 L1964.7,1438.5 L1967.7,1442.6 L1968.7,1447.7 L1971.9,1451.8 M1954,1416.5 L1956.3,1410.6 L1960.8,1406.3 L1961.7,1400.2 L1963.5,1394.3 L1968.8,1391 L1972.3,1385.8 L1976.5,1381.1 L1978,1375 M1954.7,355.4 L1958.7,359.7 L1963.6,363 L1969,365.3 L1974.8,366.2 L1978.4,370.7 L1983,374.2 L1985.6,379.3 L1989.4,383.7 M1955,281.5 L1959.2,281.2 L1963.5,281.3 L1967.8,281.9 L1972,281 M1956.5,1060.5 L1961.5,1063.8 L1967.4,1064.5 L1970.6,1069.5 L1975.4,1072.9 M1956.8,1275.1 L1958,1275 M1958,1275 L1960.1,1271.5 L1961.6,1267.7 M1958.1,469.7 L1963.2,470.2 L1968.1,468.9 M1958.6,1332.8 L1960.8,1338.3 L1961.6,1344.1 L1963.8,1349.5 L1966,1354.9 L1970.1,1359.2 L1973.6,1364 L1975.3,1369.7 L1978,1375 M1958.6,1332.8 L1959.6,1328.9 L1962.2,1325.8 L1965.1,1323 L1967.7,1320.1 L1969.4,1316.5 L1971.8,1313.3 L1972.9,1309.4 L1973,1305.4 L1975.7,1302.5 L1979.4,1301 L1982.6,1298.9 L1985.5,1296.2 L1988.9,1294.1 L1992.4,1292.4 L1995.4,1289.7 L1997.3,1286.2 M1960,548 L1963.1,546.2 L1965.1,543.1 L1967.8,540.8 L1970,538 M1961,781 L1964.4,784.5 L1968.5,787 M1961,831.5 L1962.6,827.9 L1964.5,824.4 L1964.4,820.4 L1966,816.7 M1961.6,1267.7 L1962,1264 L1963,1260.4 M1961.6,1267.7 L1963.5,1261.7 L1964,1255.4 M1962.8,1003 L1968.4,1004.7 L1974,1006.7 M1963,1260.4 L1964,1255.4 M1963,1260.4 L1967.3,1263.8 L1972.4,1265.7 L1977.3,1268.1 L1981.8,1271.1 L1985.6,1275.1 L1990.3,1277.8 L1993.8,1282.1 L1997.3,1286.2 M1964,1255.4 L1969.5,1254 L1974,1250.5 M1964.6,1983.5 L1965.5,1977.8 L1968.5,1972.8 M1966,816.7 L1968.2,810.6 L1969.7,804.4 M1967.5,523.4 L1968,527.1 L1967.5,530.8 M1967.5,523.4 L1970.2,519.3 L1972.4,514.8 M1967.5,530.8 L1968.6,534.5 L1970,538 M1967.7,1244.3 L1970.3,1240.3 L1971.4,1235.7 M1967.7,1244.3 L1970.1,1248.2 L1974,1250.5 M1968.1,468.9 L1969.4,464.6 L1972.5,461.3 L1975.9,458.4 L1980,456.7 M1968.1,468.9 L1972.1,470.8 L1976.2,472.2 L1979.4,475.3 L1982.1,478.7 L1985.7,481.5 L1987.8,485.5 L1987.7,490 L1989.7,494.1 M1968.5,787 L1968,791.4 L1967.8,795.8 L1968.4,800.2 L1969.7,804.4 M1968.5,1888.3 L1972.1,1888.2 L1975.8,1888 L1978.7,1890.4 L1982.4,1891.1 M1968.5,1972.8 L1969.3,1967.4 L1972.1,1962.6 L1973.9,1957.4 L1974.1,1952 M1971.4,1235.7 L1974.9,1232.2 M1971.4,1235.7 L1975.3,1233.4 L1977.6,1229.6 M1971.9,1451.8 L1974.9,1448.6 L1978.8,1446.7 L1983,1446.3 L1987.2,1445.3 M1972,281 L1976,281.9 L1980.1,281.6 L1984,282.2 L1988,283 M1972.4,514.8 L1977.1,512.1 L1980,507.4 M1974,1006.7 L1977.2,1012 L1978.6,1018 M1974.1,1952 L1976.7,1948.9 L1979,1945.6 L1980.9,1942 L1982.4,1938.2 M1974.9,1232.2 L1977.6,1229.6 M1975.4,1072.9 L1978.7,1071.1 L1982.2,1069.8 L1986,1070.2 L1989.7,1069.4 L1993.4,1068.4 L1997.2,1068.8 L2001,1069.1 L2004.4,1070.7 M1977.6,1031.3 L1980.9,1027.6 L1985,1025 M1977.6,1031.3 L1980.4,1033.4 L1982.8,1036.1 L1985,1038.9 L1986,1042.4 M1977.6,1229.6 L1981.3,1230 L1985,1230.8 M1978,1375 L1983,1375.9 L1988,1375.6 L1993,1377.3 L1996.5,1381.1 L2001.2,1379.4 L2006.1,1379.6 L2011,1378.7 L2015.9,1379.4 M1978.6,1018 L1979,1019 M1979,1019 L1981.4,1022.6 L1985,1025 M1980,456.7 L1982.4,452.6 L1983.6,448.1 L1984.8,443.5 L1986.6,439.2 L1989.5,435.3 L1990.5,430.5 L1991.8,425.7 L1990.6,421 L1991.7,416.2 L1990.6,411.5 L1988.3,407.2 L1988,402.4 L1987.2,397.7 L1986.7,392.9 L1988.3,388.4 L1989.4,383.7 M1980,456.7 L1985,456.1 L1990,456.4 L1995.1,456.3 L1999.9,454.9 L2004.8,453.5 L2009.8,453.1 L2014.8,453.5 L2019.8,453 L2025,453.2 L2030,451.9 L2034.6,449.6 L2039.5,447.9 L2043.9,445.3 L2048.7,443.5 L2052.1,439.6 L2056.3,436.6 M1980,507.4 L1985.3,505 L1991,503.7 M1981.1,1134.1 L1986.7,1132.8 L1992.5,1133.3 M1982.4,1891.1 L1985,1894.2 L1987.7,1897.1 L1991.5,1898.5 L1994.8,1900.8 M1982.4,1938.2 L1987.1,1934.1 L1991.9,1930.3 L1994.6,1924.7 L1999,1920.2 M1985,1230.8 L1987.3,1234.2 L1988.7,1238 M1986,1042.4 L1992.4,1044.8 M1987.2,1445.3 L1991.3,1444.2 L1995,1442.2 L1998.1,1439.4 L2001.3,1436.7 L2005.2,1435.1 L2009.2,1434.1 L2012.7,1431.8 L2016.7,1430.5 M1987.9,1186.5 L1989.7,1182 L1992.3,1177.9 L1992.6,1173.1 L1993.8,1168.4 L1996.4,1164.2 L1999.3,1160.3 L1999.5,1155.4 L2001.5,1150.9 M1987.9,1186.5 L1991.2,1188.7 L1994.1,1191.4 L1996.6,1194.6 L1998.4,1198.1 L2001.3,1200.9 L2004.7,1202.8 L2007.2,1205.9 L2009.8,1208.8 M1988,283 L1990.8,286.4 L1992,290.6 M1988.7,1238 L1993.3,1238 L1997.6,1236.6 L2001.9,1235.2 L2006,1233.3 M1989.4,383.7 L1994.8,385.5 L2000.4,386.3 L2005.8,384.4 L2011.6,385 L2016.3,381.8 L2020.8,378.2 L2026.2,376.1 L2032,376.1 M1989.7,493.8 L1989.7,494.1 M1989.7,493.8 L1993.3,489 M1989.7,494.1 L1990.4,498.9 L1991,503.7 M1992,290.6 L1994.3,292.7 M1992.4,1044.8 L1991.6,1049.1 L1992.4,1053.4 M1992.4,1053.4 L1994.3,1058.2 L1993.6,1063.3 M1992.5,305.6 L1993.3,299.1 L1994.3,292.7 M1992.5,305.6 L1998.4,308.4 L2002.5,313.5 L2008,316.8 L2012.7,321.2 L2019,323.1 L2024.2,327.1 L2029.3,331.2 L2032.9,336.7 M1992.5,1133.3 L1995.7,1137.2 L1998.1,1141.6 L1999.1,1146.5 L2001.5,1150.9 M1992.5,1133.3 L1993.5,1128.6 L1994.2,1123.9 L1996.1,1119.4 L1999.8,1116.2 L2002.3,1112.3 L2005.2,1108.7 L2008.9,1105.6 L2011,1101.4 M1993.3,489 L1995.5,492.5 L1997,496.3 M1993.6,1063.3 L1997.4,1064.1 L2001,1065.8 M1994.3,292.7 L1998.8,296.4 L2003,300.5 M1994.8,1900.8 L1998.5,1902 L2001.1,1904.7 L2003,1908.1 L2005.9,1910.5 M1997,496.3 L2000.6,492.5 L2002.3,487.5 L2006.5,484.6 L2010.6,481.5 M1997.3,1286.2 L2002.7,1284.8 L2008.2,1284 L2013.2,1281.3 L2018.8,1280.6 M1999,1920.2 L2002,1915 L2005.9,1910.5 M2001,1065.8 L2004.4,1070.7 M2001.5,1150.9 L2005.3,1151.4 L2009,1152 L2011.6,1154.9 L2015.2,1156.4 L2018.5,1158.2 L2022.2,1159.2 L2025.9,1158.3 L2029.7,1158.9 M2003,300.5 L2006.9,301.6 L2010.6,303 M2004.4,1070.7 L2006,1073 M2006,1073 L2005.9,1076.8 L2005.6,1080.6 L2005.9,1084.4 L2007,1088 M2006,1233.3 L2006.4,1233 M2006,1233.3 L2008.7,1231 L2012,1229.6 M2006.4,1233 L2005.1,1226.8 L2005,1220.5 L2006.7,1214.3 L2009.8,1208.8 M2006.4,1233 L2012,1229.6 M2007,1088 L2008.7,1092.8 L2009.6,1097.8 M2009.6,1097.8 L2010.9,1098.1 M2009.8,1208.8 L2014.2,1206 L2017.3,1201.8 L2022.2,1200.1 L2026.9,1197.9 M2010.6,303 L2014,308.6 M2010.6,481.5 L2014.3,479.2 L2018,477 M2010.9,1098.1 L2011,1101.4 M2010.9,1098.1 L2014.3,1099.8 L2018,1100 M2011,1101.4 L2016.4,1104.6 L2022,1107.4 L2025.5,1112.6 L2029.7,1117.2 L2034.3,1121.5 L2037.9,1126.6 L2043.6,1129.2 L2048.5,1133 M2012,1229.6 L2017.9,1227 L2022,1222 M2014,308.6 L2018.5,305.9 L2023,303 M2015.9,1379.4 L2016.7,1385.9 L2014.4,1392.1 L2015.5,1398.4 L2017.2,1404.6 L2020.2,1410.4 L2020,1417 L2024.5,1421.8 L2026.5,1428 M2015.9,1379.4 L2021.8,1378.7 L2027.7,1377.4 L2032.5,1373.7 L2038,1371.2 L2043,1367.7 L2046,1362.4 L2051.1,1359.3 L2056.4,1356.6 M2016.7,1430.5 L2021.7,1429.5 L2026.5,1428 M2018,477 L2021.6,476.4 L2025,477.5 L2028.1,479.3 L2031.5,480.3 M2018,1100 L2023.8,1102 L2028,1106.4 M2018.8,1280.6 L2022,1277.6 L2024.3,1273.9 M2018.8,1280.6 L2021.4,1285.5 L2024.5,1290.1 L2027.1,1295.2 L2027.2,1300.9 L2031.1,1304.9 L2035.9,1307.7 L2039.4,1311.9 L2043.4,1315.7 L2046.7,1320.1 L2049.4,1325 L2050.8,1330.5 L2054.6,1334.7 L2057.2,1339.8 L2057.5,1345.5 L2056.8,1351 L2056.4,1356.6 M2022,1222 L2025,1224.3 L2028.2,1226.3 L2030.9,1228.9 L2034.2,1230.8 M2023,303 L2027.3,302.8 L2031.5,302.8 L2035.8,302.3 L2040,302 M2024.3,1273.9 L2024.8,1268.5 L2025.6,1263.1 L2027.4,1258 L2030.4,1253.4 L2030.7,1247.9 L2033.2,1243.1 L2034.7,1237.9 L2035.4,1232.6 M2024.3,1273.9 L2029.7,1272.3 L2035.3,1272.2 L2040.8,1273.1 L2046.1,1274.5 L2050.7,1277.8 L2056.2,1278.7 L2061.2,1281 L2066,1283.6 L2070.7,1286.4 L2075.6,1288.9 L2081.2,1288.3 L2086.6,1289.8 L2092.1,1290 L2097.3,1291.6 L2102.8,1292.7 L2108.1,1291 M2026.5,1428 L2026.6,1428 M2026.6,1428 L2032.3,1424.9 L2038.8,1424.4 L2044.6,1421.8 L2050.7,1420 L2056.3,1416.7 L2062,1413.8 L2066.4,1409.2 L2071,1404.7 M2026.9,1197.9 L2025.9,1193 L2026.7,1188.1 L2026.2,1183.2 L2026.1,1178.2 L2028.3,1173.7 L2029.3,1168.8 L2029.9,1163.9 L2029.7,1158.9 M2026.9,1197.9 L2030.6,1197.5 L2034.4,1197 L2038.2,1196.9 L2041.8,1195.7 L2045.2,1197.5 L2048.9,1198.5 L2052.7,1198.1 L2056.5,1199 M2028,1106.4 L2034,1107.6 M2029.7,1158.9 L2034.9,1156.5 L2039,1152.5 L2043.8,1149.2 L2049.6,1148.5 M2031.5,480.3 L2035.9,485.1 L2041.4,488.4 M2032,376.1 L2030.7,371.2 L2028.6,366.5 L2028.5,361.4 L2028.4,356.3 L2029.4,351.3 L2031.8,346.8 L2031.2,341.6 L2032.9,336.7 M2032,376.1 L2035.5,378.4 L2038.3,381.5 L2042.3,382.6 L2046.4,383.3 L2049,386.5 L2052,389.2 L2054.6,392.3 L2057.5,395.1 M2032.9,336.7 L2037.5,336.8 L2041.8,335.4 L2045.2,332.3 L2049.4,330.5 L2053.8,329 L2057.6,326.4 L2059.9,322.5 L2062.8,319 L2065.8,315.6 L2069.1,312.6 L2072.1,309.2 L2075.9,306.6 L2080.5,306.9 L2084.7,304.9 L2089.2,304.1 L2093.2,302 M2034,1092.9 L2034.1,1096.8 L2035.8,1100.2 L2035.6,1104.1 L2034,1107.6 M2034,1092.9 L2037.5,1090.5 L2041.6,1089 M2034.2,1230.8 L2035.4,1232.6 M2034.2,1230.8 L2036.4,1234.5 L2039,1238 M2035.4,1232.6 L2039,1238 M2039,1238 L2041.8,1235.3 L2044,1232 M2040,302 L2045.9,301 L2051,298 M2041.4,488.4 L2045.4,483.4 L2050,479 M2041.6,1089 L2046.5,1092.1 L2050,1096.6 M2044,1232 L2045.5,1227.5 L2047.8,1223.4 M2047.8,1223.4 L2051.7,1222.9 L2055.6,1223 L2058.8,1220.8 L2062.6,1219.7 M2048.5,1133 L2049.4,1136.8 L2049,1140.8 L2049,1144.6 L2049.6,1148.5 M2048.5,1133 L2051,1130 L2054.6,1128.3 L2057.2,1125.3 L2058.4,1121.6 L2062,1120.1 L2065.3,1118.1 L2067.4,1114.8 L2070,1111.9 M2049.6,1148.5 L2052.4,1150.8 L2055,1153.4 L2058.6,1154.6 L2061.5,1156.9 L2064.8,1158.6 L2068,1160.4 L2071,1162.5 L2073.5,1165.2 M2050,479 L2055.6,477.9 L2061,479.6 M2050,1096.6 L2054.1,1096.8 L2057.6,1099 M2050.7,415 L2051.8,418.6 L2051.9,422.5 L2053,426.2 L2052.5,430 M2050.7,415 L2052.1,408.8 L2053.7,402.7 M2051,298 L2057,298.8 M2052.5,430 L2054.5,433.3 L2056.3,436.6 M2053.7,402.7 L2056.1,399.2 L2057.5,395.1 M2056.3,436.6 L2057.4,438.4 M2056.4,1356.6 L2060.8,1358.6 L2064.8,1361.3 L2069.8,1361.3 L2074.2,1363.4 L2078.1,1366.4 L2082.4,1368.6 L2086.9,1370.6 L2091.9,1370.6 L2096.6,1372.2 L2101.6,1373.1 L2105.8,1375.8 L2109.8,1378.8 L2114.3,1376.5 L2119.5,1376.5 L2124.4,1376.8 L2129.4,1377.4 M2056.5,1199 L2058.4,1203.9 L2061,1208.3 L2064.8,1211.9 L2067.6,1216.3 M2056.5,1199 L2060.4,1193.3 L2064.2,1187.4 L2065.4,1183.9 L2068.1,1181.4 L2067.8,1177.8 L2068.9,1174.3 M2057,298.8 L2059.7,302.4 L2061,306.7 M2057.4,438.4 L2057.7,445.2 L2058.6,452 M2057.5,395.1 L2058.8,391.3 L2061,388 M2057.6,1099 L2059.4,1103.2 L2062.6,1106.4 M2058.6,452 L2061.5,457 L2064.8,461.8 M2061,306.7 L2064.8,307 L2068.5,308 M2061,388 L2064.1,383.6 L2068.5,380.5 M2061,479.6 L2064.7,481.9 L2068.5,484 M2062.6,1106.4 L2068.7,1106.4 M2062.6,1219.7 L2065.8,1217.5 M2062.6,1219.7 L2067.6,1216.3 M2064.8,461.8 L2069.3,465.9 L2073.4,470.4 M2065.8,1217.5 L2072,1214.4 L2077.3,1209.8 M2065.8,1217.5 L2069.6,1219.5 L2072.8,1222.3 L2075.3,1225.9 L2079,1228.1 L2082.8,1230.1 L2086.6,1232 L2089.9,1234.8 L2093.8,1236.4 L2097.6,1238.6 L2101.8,1239.6 L2106,1240.4 L2110.2,1240.8 L2113,1244.3 L2117.1,1246.1 L2121,1248.3 L2125.4,1248.5 M2067.6,1216.3 L2072.5,1213.1 L2077.3,1209.8 M2068.5,308 L2072.8,305.1 L2077,302 M2068.5,380.5 L2073,385.5 M2068.5,484 L2073.4,487.7 M2068.7,1106.4 L2070,1111.9 M2068.7,1174 L2068.9,1174.3 M2068.7,1174 L2069.4,1173.3 M2068.7,1174 L2073.6,1169.2 M2068.7,1174 L2071.5,1176.8 L2073.6,1180.3 M2068.9,1174.3 L2071.9,1176.8 L2073.6,1180.3 M2069.4,1173.3 L2071,1169 L2073.5,1165.2 M2069.4,1173.3 L2073.6,1169.2 M2070,1111.9 L2070.4,1117.3 L2072.4,1122.4 M2071,1404.7 L2075.8,1402.4 L2081.1,1402.4 L2085.6,1399.8 L2090.7,1398.6 L2094.4,1394.9 L2098.9,1392.4 L2103.3,1389.7 L2108,1387.4 M2072.4,1122.4 L2076.1,1127.6 L2080.3,1132.3 M2073,385.5 L2076.6,380.2 L2081,375.6 M2073.4,470.4 L2076,475.1 L2077,480.3 M2073.4,487.7 L2078,485 M2073.5,1165.2 L2079.8,1164.3 M2073.6,1142 L2075.2,1137.9 L2075,1133.5 M2073.6,1142 L2077.3,1147 M2073.6,1169.2 L2078.6,1170.4 M2073.6,1180.3 L2079.8,1177.8 M2075,1133.5 L2080.3,1132.3 M2077,302 L2081.1,302.9 L2085.1,303.9 L2089.3,303.4 L2093.2,302 M2077,480.3 L2078,485 M2077.3,1147 L2079.4,1149.9 L2082.3,1152 M2077.3,1209.8 L2081.3,1211.1 L2084.7,1213.5 M2078.6,1170.4 L2079.8,1164.3 M2079.8,1164.3 L2080,1160.4 L2081.3,1156.7 M2079.8,1164.3 L2081.1,1158.2 L2082.3,1152 M2079.8,1177.8 L2084.7,1176.6 M2080.3,1132.3 L2084.7,1133.5 M2081,375.6 L2084.6,371.9 L2088,368 M2081.3,1156.7 L2082.3,1152 M2081.3,1156.7 L2085.9,1158.7 L2090.4,1161 L2095.1,1162.9 L2099.5,1165.3 L2104.4,1167.2 L2108.5,1170.4 L2111.7,1174.4 L2114.7,1178.6 L2118.6,1182 L2123.5,1183.6 L2127.5,1186.7 L2132.2,1188.7 L2137.4,1188.7 L2142,1191.1 L2147,1191.9 L2152,1192.8 M2083.5,1184 L2084.4,1180.3 L2084.7,1176.6 M2083.5,1184 L2086,1189 M2084.7,1133.5 L2087.9,1127.7 L2092,1122.4 M2084.7,1213.5 L2091,1213.5 M2086,1189 L2085.2,1195.8 L2086,1202.5 M2086,1202.5 L2089.7,1207.4 M2088,368 L2089.6,364.8 L2091.8,361.9 L2094.4,359.4 L2097,357 M2089.7,1207.4 L2093.3,1206.2 M2091,1213.5 L2092.9,1210.1 L2093.3,1206.2 M2092,1122.4 L2094.6,1119.3 L2097.8,1116.9 L2101.6,1115.5 L2104.4,1112.6 M2093.2,302 L2095.6,302 M2095.6,302 L2099.7,306.3 L2105,309 M2097,357 L2103.2,357.7 L2109,355.4 M2104.4,1112.6 L2107.6,1110.4 L2110.4,1107.7 L2112.3,1104.2 L2115.6,1102 L2117.6,1098.6 L2119.4,1095.2 L2122.5,1092.7 L2124,1089 M2105,309 L2109.9,310.4 L2115,310 M2107,345 L2107.2,341.2 L2108,337.4 M2107,345 L2107.7,350.3 L2109,355.4 M2108,337.4 L2110.7,333.4 L2114,330 M2108,1387.4 L2113.1,1387.4 L2117.7,1385 M2108.1,1291 L2109.8,1285.4 L2112.7,1280.4 L2115.1,1275.1 L2115.4,1269.2 L2119.8,1265.1 L2123,1260.1 L2124.1,1254.3 L2125.4,1248.5 M2108.1,1291 L2108,1296.9 L2107.9,1302.9 L2104.4,1307.8 L2103.2,1313.8 L2106,1319 L2108.1,1324.5 L2109.9,1330.2 L2109.8,1336.2 L2111.8,1341.5 L2114,1346.9 L2116.6,1352 L2118.1,1357.6 L2120.4,1363 L2124.7,1367 L2129.2,1370.6 L2133,1375 M2114,330 L2119.2,326.1 L2125.6,325 M2115,310 L2118.5,315.2 L2122.7,320 M2117.7,1385 L2120.9,1383.6 L2124.2,1382.2 L2126.9,1379.9 L2129.4,1377.4 M2122.7,320 L2125.6,325 M2124,1089 L2129,1093.2 L2132,1099 M2125.4,1248.5 L2129.5,1246.5 L2133.1,1243.7 L2137.6,1242.4 L2142.2,1243.1 L2146.2,1241.1 L2150.5,1239.7 L2154,1236.9 L2157.2,1233.8 M2129.4,1377.4 L2133,1375 M2132,1099 L2133.7,1095.6 L2135.4,1092.2 L2138,1089.5 L2141.4,1087.6 M2133,1375 L2134.4,1374.1 M2134.4,1374.1 L2138,1371.1 L2142.2,1369.2 L2146.4,1367.2 L2149.8,1364 M2134.4,1374.1 L2137,1368 L2141.5,1363.1 L2143.5,1356.9 L2145.2,1350.6 L2147.5,1344.5 L2149.7,1338.4 L2153.1,1332.9 L2155.6,1326.8 L2157.4,1320.5 L2161.2,1315 L2165.7,1310.3 L2170.2,1305.4 L2174.1,1300.1 L2178.6,1295.4 L2182.2,1289.8 L2183.5,1283.2 M2141.4,1087.6 L2145.1,1083.9 L2148,1079.6 M2141.4,1087.6 L2144.4,1092.1 L2147.3,1096.8 L2148.6,1102 L2149.3,1107.4 L2149.4,1112.9 L2151,1118 L2153.9,1122.7 L2155.2,1128 L2156.3,1133.3 L2157.3,1138.6 L2160,1143.3 L2162.3,1148.2 L2165.8,1152.3 L2168.3,1157 L2170,1162.2 L2172.4,1167 M2148,1079.6 L2151.6,1077.6 L2154.4,1074.5 M2149.8,1364 L2153.8,1359 L2159.7,1356.3 L2164.8,1352.5 L2170.2,1349.3 M2152,1192.8 L2152.1,1198.1 L2152.5,1203.4 L2154.4,1208.3 L2156.9,1213 L2158.3,1218.1 L2158.7,1223.4 L2158.6,1228.7 L2157.2,1233.8 M2152,1192.8 L2154.2,1189.2 L2155.3,1185.1 L2157.7,1181.7 L2160.3,1178.4 L2162.5,1174.8 L2166,1172.3 L2169,1169.5 L2172.4,1167 M2154.4,1074.5 L2157.3,1072.2 M2154.4,1074.5 L2159.2,1077.4 L2164.6,1079 L2167.5,1083.8 L2172.1,1087.2 M2157.2,1233.8 L2159.4,1234.9 M2157.3,1072.2 L2161.5,1076.4 L2166.5,1079.6 M2159.4,1234.9 L2162.2,1241.2 L2166.8,1246.4 L2168.4,1253 L2170.8,1259.4 L2175.5,1264.4 L2179.4,1270.1 L2180.2,1277 L2183.5,1283.2 M2159.4,1234.9 L2163.2,1233.5 L2167,1232.5 L2171.1,1232.3 L2175,1233.5 L2179,1233.4 L2182.9,1232.2 L2186.9,1232.5 L2190.6,1234.2 L2194.3,1232.7 L2197.4,1230.1 L2201.4,1229.7 L2205.2,1228.5 L2208.3,1226 L2212,1224.5 L2215.8,1223.3 L2219.7,1222.8 M2166.5,1079.6 L2173,1081.4 M2170.2,1099.9 L2170.1,1093.4 L2172.1,1087.2 M2170.2,1099.9 L2172.4,1102.7 L2174.8,1105.4 M2170.2,1349.3 L2175.6,1346 L2180.3,1341.8 L2186.5,1340.4 L2192.4,1338.2 M2172.1,1087.2 L2173,1081.4 M2172.4,1167 L2176.6,1167.2 L2180.7,1166.6 L2184.9,1166.9 L2189,1167 L2193.1,1165.8 L2197.2,1165.5 L2201.2,1164 L2205.5,1164.4 L2209.4,1162.8 L2213.1,1160.8 L2217,1159.1 L2221.3,1159.2 L2225.5,1160.2 L2229.8,1160.3 L2234.2,1159.8 L2237.9,1157.3 M2174.8,1105.4 L2177.2,1102.7 L2180.4,1100.8 M2180.4,1100.8 L2181.7,1094.2 M2181.7,1094.2 L2182.2,1091.6 M2181.7,1094.2 L2185.2,1096.1 L2189,1097.3 L2191.1,1100.8 L2194.3,1103.2 L2197.1,1106 L2199.6,1109 L2202.8,1111.4 L2206.5,1112.8 L2209.3,1115.6 L2212.1,1118.4 L2215.7,1120 L2219.3,1121.5 L2223.1,1122.9 L2226.6,1124.7 L2229.4,1127.5 L2232,1130.5 M2182.2,1091.6 L2186.9,1088.4 L2192.4,1087 M2183.5,1283.2 L2189,1283.1 L2194.3,1284.6 L2199.6,1283.8 L2204.9,1282.4 L2210.3,1282.8 L2215.6,1284.2 L2220.6,1286.3 L2225.3,1288.9 M2192.4,1087 L2193.4,1082.8 L2194.2,1078.6 M2192.4,1338.2 L2197.6,1333.7 L2203.5,1330.1 L2210.3,1328.7 L2216.4,1325.3 M2194.2,1078.6 L2198.3,1078.8 L2202.2,1077.9 L2205.9,1076.1 L2210,1075.9 M2210,1075.9 L2216.4,1078.6 M2216.4,1078.6 L2220,1075.9 M2216.4,1325.3 L2220.9,1323.6 L2224.2,1320.2 L2227.7,1316.9 L2232,1315 M2217.3,1091.6 L2218.9,1088.1 L2221,1085 M2217.3,1091.6 L2220.5,1095.4 L2222.9,1099.9 M2219.7,1222.8 L2222.4,1219.3 L2223.2,1215 L2225,1211.1 L2225.6,1206.8 L2227,1202.5 L2230.3,1199.5 L2231.7,1195.3 L2231.6,1190.8 L2233.3,1186.8 L2232.9,1182.4 L2234,1178.2 L2234,1173.9 L2235,1169.8 L2235.9,1165.6 L2237.7,1161.7 L2237.9,1157.3 M2219.7,1222.8 L2223.4,1224.4 L2227.2,1225.7 L2230,1228.7 L2232.7,1231.7 L2234.7,1235.2 L2237.5,1238 L2239.1,1241.7 L2241.2,1245 M2220,1075.9 L2221.3,1080.4 L2221,1085 M2222.9,1099.9 L2226.2,1103.1 L2230.2,1105.4 M2225.3,1288.9 L2227.6,1293.3 L2230.3,1297.5 L2233.4,1301.4 L2236.3,1305.4 M2225.3,1288.9 L2227.4,1283.3 L2228.3,1277.5 L2230.3,1271.8 L2234.4,1267.4 L2238.4,1262.8 L2240.4,1257 L2240.3,1251 L2241.2,1245 M2230.2,1105.4 L2232.9,1101.9 L2236.7,1099.9 M2232,1130.5 L2233.1,1137.2 L2234.1,1143.9 L2235.9,1150.4 L2238.6,1156.7 M2232,1130.5 L2234.7,1126.3 L2236.5,1121.7 L2240.1,1118.2 L2244,1115.2 L2243.9,1110.3 L2244.2,1105.4 L2245.1,1100.4 L2247.6,1096.1 M2232,1310.5 L2232,1315 M2232,1310.5 L2236.3,1305.4 M2236.3,1305.4 L2236.7,1305 M2236.7,1099.9 L2240.6,1099 L2244,1097.1 M2236.7,1305 L2240.5,1302.8 L2243.2,1299.4 M2237.9,1157.3 L2238.6,1156.7 M2238.6,1156.7 L2244.7,1159.5 L2251.4,1160.4 L2257.8,1158.1 L2264.6,1158.9 L2271.2,1159.1 L2277.8,1160.4 L2284.4,1161.9 L2289.6,1166.3 M2241.2,1245 L2246,1244.9 L2250.3,1247 L2254.9,1246.4 L2259.5,1245.9 L2263.6,1243.6 L2268.3,1243.3 L2272.9,1242.8 L2277.4,1242.2 M2243.2,1299.4 L2247.8,1302.2 M2244,1097.1 L2247.6,1096.1 M2247.6,1096.1 L2250.6,1095.3 M2247.8,1302.2 L2251.7,1301.3 L2255.4,1300 L2259.1,1298.4 L2262.6,1296.6 M2250.6,1095.3 L2254.2,1100.9 L2256,1107.3 M2256,1107.3 L2260.9,1106.4 L2265.2,1103.9 L2269.9,1102.7 L2274.8,1102.5 M2262.6,1296.6 L2266.4,1295.5 L2270.2,1296 L2274.1,1295.4 L2277.3,1293 M2270,1083.3 L2269.2,1087.8 L2270,1092.2 M2270,1083.3 L2274,1078.9 M2270,1092.2 L2270.7,1097.7 M2270.7,1097.7 L2274.8,1102.5 M2274,1078.9 L2277.7,1079.6 M2277.3,1293 L2282.4,1289.5 L2288.4,1288.3 M2277.4,1242.2 L2276.3,1237.4 L2275.2,1232.5 L2275.2,1227.5 L2273.7,1222.7 L2274.3,1217.8 L2275.4,1213 L2275.6,1207.9 L2277.7,1203.3 L2278.1,1198.3 L2277.6,1193.3 L2278.8,1188.4 L2279.4,1183.4 L2280.6,1178.4 L2284,1174.6 L2285.9,1169.8 L2289.6,1166.3 M2277.4,1242.2 L2280.5,1244.9 L2282.6,1248.4 L2285.4,1251.4 L2286.5,1255.5 L2290.1,1257.2 L2293.3,1259.7 L2296.7,1262 L2300.6,1263.2 L2304,1265.2 L2306.5,1268.4 L2308.7,1271.7 L2311.3,1274.5 L2314.2,1277.3 L2317.9,1278.9 L2321,1281.3 L2323.6,1284.3 M2277.7,1079.6 L2280.7,1084.8 M2280.7,1084.8 L2281,1088.5 M2281,1088.5 L2285.1,1090 M2282.2,1095.9 L2282.9,1099.6 M2282.2,1095.9 L2284.4,1093.7 M2282.9,1099.6 L2285.1,1101 M2284.4,1093.7 L2287.3,1091.4 M2284.4,1135 L2285.9,1132.1 M2284.4,1135 L2288.1,1137.3 M2285.1,1090 L2287.3,1091.4 M2285.1,1101 L2289.6,1098.8 M2285.1,1104.7 L2286.6,1106.2 M2285.1,1104.7 L2289.6,1101.8 M2285.5,1117.3 L2285.9,1120.3 M2285.5,1117.3 L2287.3,1113.6 M2285.9,1120.3 L2289.6,1124 M2285.9,1132.1 L2291.8,1131.3 M2286.6,1106.2 L2291.8,1106.6 M2287.3,1113.6 L2289.2,1111 M2288.1,1137.3 L2291,1138 M2288.4,1288.3 L2290.3,1290.2 M2289.2,1111 L2291.8,1111.4 M2289.6,1098.8 L2292.5,1099.6 M2289.6,1101.8 L2292.5,1099.6 M2289.6,1124 L2291.8,1127.6 M2289.6,1166.3 L2294.9,1164.1 L2300.7,1164.1 L2306.4,1162.8 L2311,1159.4 M2290.3,1290.2 L2296.8,1288.3 M2291,1138 L2292.5,1141 M2291.8,1106.6 L2297.7,1109.9 M2291.8,1111.4 L2292.5,1114.3 M2291.8,1127.6 L2294,1124.7 M2291.8,1131.3 L2295.5,1129.1 M2291.8,1145.4 L2292.5,1141 M2291.8,1145.4 L2295.5,1146.9 M2292.5,1114.3 L2295.5,1116.6 M2294,1124.7 L2296.2,1123.2 M2295.5,1116.6 L2298.4,1114.3 M2295.5,1129.1 L2297.3,1126.2 M2295.5,1146.9 L2299.2,1147.6 M2296.2,1123.2 L2297.3,1126.2 M2296.8,1288.3 L2303.7,1288.6 L2310.3,1286.3 M2297.7,1109.9 L2298.4,1114.3 M2299.2,1147.6 L2301,1151.3 M2301,1151.3 L2302.1,1155 M2302.1,1155 L2306.6,1157.2 M2302.1,1163.9 L2303.6,1166.8 M2302.1,1163.9 L2305.1,1162.4 M2303.6,1166.8 L2306.2,1169 M2303.6,1172.7 L2304.3,1175 M2303.6,1172.7 L2306.2,1169 M2304.3,1175 L2308.8,1177.9 M2305.1,1162.4 L2310.3,1162.4 M2306.6,1157.2 L2311,1159.4 M2307.3,1191.5 L2308.3,1196.2 M2307.3,1191.5 L2309.6,1187.4 M2308.3,1196.2 L2311.7,1196.9 M2308.8,1177.9 L2313.2,1179.4 M2309.6,1187.4 L2313.4,1184.1 M2310.3,1162.4 L2311,1159.4 M2310.3,1286.3 L2317.2,1286.9 L2323.6,1284.3 M2311.7,1196.9 L2313,1192.9 M2313,1192.9 L2314.4,1189.5 M2313.2,1179.4 L2313.4,1184.1 M2314.4,1189.5 L2317.4,1187.5 L2319.8,1184.7 M2319.8,1184.7 L2322.5,1185.4 M2321.1,1194.2 L2321.8,1190.2 M2321.1,1194.2 L2325.2,1196.9 M2321.8,1190.2 L2322.5,1185.4 M2323.6,1284.3 L2323.9,1284.3 M2323.9,1284.3 L2330.6,1282.9 L2337.4,1283.9 M2325.2,1196.9 L2329.3,1200.3 M2327.2,1220.6 L2327.9,1218.6 M2327.2,1220.6 L2331.3,1224 M2327.9,1218.6 L2332,1219.3 M2328.6,1205.7 L2328.9,1211.8 M2328.6,1205.7 L2329.3,1200.3 M2328.9,1211.8 L2332,1215.2 M2331.3,1224 L2334.7,1225.4 M2331.3,1233.5 L2333.3,1231.5 M2331.3,1233.5 L2333.3,1236.2 M2332,1215.2 L2334,1217.9 M2332,1219.3 L2334,1217.9 M2333.3,1231.5 L2336.7,1230.1 M2333.3,1236.2 L2337.4,1239.6 M2334.7,1225.4 L2336.7,1223.3 M2336.7,1223.3 L2338.1,1226 M2336.7,1230.1 L2338.1,1226 M2337.4,1239.6 L2340.1,1240.9 M2337.4,1283.9 L2343.5,1284.5 L2349.6,1284.3 M2340.1,1240.9 L2343.5,1239.6 M2343.5,1239.6 L2346.2,1242.3 M2343.5,1254.5 L2344.2,1259.9 M2343.5,1254.5 L2345.5,1250.4 M2344.2,1259.9 L2346.9,1261.9 M2345.5,1250.4 L2347.2,1247 M2346.2,1242.3 L2347.2,1247 M2346.9,1261.9 L2350.9,1258.5 M2349.6,1284.3 L2353.6,1285.5 L2357.7,1284.6 M2350.9,1258.5 L2355,1257.2 M2355,1257.2 L2359.1,1259.9 M2356,1266 L2357.7,1267.3 M2356,1266 L2358.4,1262.6 M2357.7,1267.3 L2361.1,1266 M2357.7,1284.6 L2361.6,1282.6 L2365.8,1281.6 M2358.4,1262.6 L2359.1,1259.9 M2361.1,1266 L2365.8,1270 M2365.8,1270 L2369.9,1275.5 M2365.8,1281.6 L2369.9,1278.8 M2369.9,1275.5 L2369.9,1278.8"/>
</g>
<g fill="none" stroke="#000" stroke-width="3.3" stroke-linejoin="round" stroke-linecap="round">
<polygon points="1431.3,956.2 1433.7,946.3 1420.2,918 1427.6,909.4 1422.7,904.4 1419,898.3 1427.6,889.7 1444.8,889.7 1443.6,882.3 1437.4,873.6 1432.5,867.5 1430,857.6 1428.8,853.5 1429.5,844.6 1433.9,842.4 1442.1,846.8 1445,841.7 1452.4,835 1468.7,832.8 1475.3,833.5 1480.5,842.4 1487.1,834.3 1490.8,832.8 1495.3,835 1516,834.3 1518.9,830.6 1530.7,827.6 1548.5,824.7 1564,821 1569.9,817.3 1572.1,810.6 1576.5,805.5 1576.5,800.3 1583.9,792.2 1586.1,790 1586.9,781.1 1592.8,772.2 1592.8,765.6 1606.1,770.7 1606.8,759.6 1611.3,756.7 1615,753 1614.2,742.7 1599.5,742.7 1593.5,736.7 1591.3,730.1 1587.6,724.9 1581.7,720.5 1583.9,711.6 1586.1,702.8 1592.1,696.8 1585.4,694.6 1575.8,688.7 1568.4,693.1 1564,683.5 1565.5,675.4 1563.2,667.3 1554.4,671 1547,674.7 1532.9,675.4 1527.8,668.8 1524.8,661.4 1527,653.2 1529.3,648.1 1534.4,640.7 1530.7,637.7 1528.5,630.3 1527,622.2 1520.4,620 1509,612 1507,602 1493,596 1489,591 1494,585 1500,581 1516.5,579 1520,572.7 1525,577.6 1531,584.5 1529,567.7 1530,555 1535,538 1537,523 1542,517 1555,518 1560,511 1566,497.5 1564.5,487.7 1558,481.5 1550,480 1536,476.6 1519,476.6 1514.5,473 1514.5,464 1516.5,454 1522.7,452 1526,446 1541,437 1556,433.5 1566,432 1573,426 1582,422 1593,427 1603,426 1606,417 1617.5,411 1632,410.6 1638,422.4 1654,397 1662,380.5 1670,374 1673,361 1670.4,351 1675,341 1680,337.4 1684,317.7 1686.5,315 1684,308 1685,299 1685,285.7 1690,285.7 1694,292 1701,294 1711,303 1718.5,311.6 1731,316.5 1737,325 1747,322.7 1755,325 1761.6,337.4 1769,337.4 1770,353.4 1766.5,363.3 1779,347.3 1800,341 1801,335 1811,330 1817,335 1827,341 1844,339 1848,329 1863,329 1865,326 1871,335 1880,339 1896,334 1898.5,330 1892,324 1892,316.5 1907,316 1928,292 1955,281.5 1972,281 1988,283 1992,290.6 2003,300.5 2010.6,303 2014,308.6 2023,303 2040,302 2051,298 2057,298.8 2061,306.7 2068.5,308 2077,302 2095.6,302 2105,309 2115,310 2122.7,320 2125.6,325 2114,330 2108,337.4 2107,345 2109,355.4 2097,357 2088,368 2081,375.6 2073,385.5 2068.5,380.5 2061,388 2053.7,402.7 2050.7,415 2052.5,430 2057.4,438.4 2058.6,452 2064.8,461.8 2073.4,470.4 2077,480.3 2078,485 2073.4,487.7 2068.5,484 2061,479.6 2050,479 2041.4,488.4 2031.5,480.3 2018,477 2010.6,481.5 1997,496.3 1993.3,489 1989.7,493.8 1991,503.7 1980,507.4 1972.4,514.8 1967.5,523.4 1967.5,530.8 1970,538 1960,548 1949,560 1943,559 1945,572.7 1946.5,580 1940,581 1934,586 1923,596 1918,600 1917,607 1912,616 1892,617 1881,623 1875,628 1875,636 1875.4,651.7 1868.7,653 1860,660 1854,671.4 1852.7,683.7 1855,691 1861,693.6 1862.6,703.4 1872.4,711 1877,714.5 1889.7,720.7 1897,715.8 1905.7,714.5 1910.6,720.7 1908,728 1909,735.5 1923,734 1934,735 1935,747.8 1937.7,762.6 1943.8,770 1951,776 1961,781 1968.5,787 1969.7,804.4 1966,816.7 1961,831.5 1953.7,837.7 1951,842.6 1931.5,852.5 1921.7,866 1913,878 1908,894 1909,895.6 1914,905.4 1916.7,917.7 1923,937.4 1923,959.6 1921,974.6 1923.4,983 1938,984.5 1945.6,990.6 1949,998 1962.8,1003 1974,1006.7 1979,1019 1985,1025 1977.6,1031.3 1986,1042.4 1992.4,1044.8 1992.4,1053.4 1993.6,1063.3 2001,1065.8 2006,1073 2007,1088 2009.6,1097.8 2018,1100 2028,1106.4 2034,1107.6 2034,1092.9 2041.6,1089 2050,1096.6 2057.6,1099 2062.6,1106.4 2068.7,1106.4 2072.4,1122.4 2080.3,1132.3 2084.7,1133.5 2092,1122.4 2104.4,1112.6 2124,1089 2132,1099 2148,1079.6 2157.3,1072.2 2166.5,1079.6 2173,1081.4 2170.2,1099.9 2174.8,1105.4 2180.4,1100.8 2182.2,1091.6 2192.4,1087 2194.2,1078.6 2210,1075.9 2216.4,1078.6 2220,1075.9 2221,1085 2217.3,1091.6 2222.9,1099.9 2230.2,1105.4 2236.7,1099.9 2244,1097.1 2250.6,1095.3 2256,1107.3 2274.8,1102.5 2270.7,1097.7 2270,1092.2 2270,1083.3 2274,1078.9 2277.7,1079.6 2280.7,1084.8 2281,1088.5 2285.1,1090 2287.3,1091.4 2284.4,1093.7 2282.2,1095.9 2282.9,1099.6 2285.1,1101 2289.6,1098.8 2292.5,1099.6 2289.6,1101.8 2285.1,1104.7 2286.6,1106.2 2291.8,1106.6 2297.7,1109.9 2298.4,1114.3 2295.5,1116.6 2292.5,1114.3 2291.8,1111.4 2289.2,1111 2287.3,1113.6 2285.5,1117.3 2285.9,1120.3 2289.6,1124 2291.8,1127.6 2294,1124.7 2296.2,1123.2 2297.3,1126.2 2295.5,1129.1 2291.8,1131.3 2285.9,1132.1 2284.4,1135 2288.1,1137.3 2291,1138 2292.5,1141 2291.8,1145.4 2295.5,1146.9 2299.2,1147.6 2301,1151.3 2302.1,1155 2306.6,1157.2 2311,1159.4 2310.3,1162.4 2305.1,1162.4 2302.1,1163.9 2303.6,1166.8 2306.2,1169 2303.6,1172.7 2304.3,1175 2308.8,1177.9 2313.2,1179.4 2313.4,1184.1 2309.6,1187.4 2307.3,1191.5 2308.3,1196.2 2311.7,1196.9 2313,1192.9 2314.4,1189.5 2319.8,1184.7 2322.5,1185.4 2321.8,1190.2 2321.1,1194.2 2325.2,1196.9 2329.3,1200.3 2328.6,1205.7 2328.9,1211.8 2332,1215.2 2334,1217.9 2332,1219.3 2327.9,1218.6 2327.2,1220.6 2331.3,1224 2334.7,1225.4 2336.7,1223.3 2338.1,1226 2336.7,1230.1 2333.3,1231.5 2331.3,1233.5 2333.3,1236.2 2337.4,1239.6 2340.1,1240.9 2343.5,1239.6 2346.2,1242.3 2347.2,1247 2345.5,1250.4 2343.5,1254.5 2344.2,1259.9 2346.9,1261.9 2350.9,1258.5 2355,1257.2 2359.1,1259.9 2358.4,1262.6 2356,1266 2357.7,1267.3 2361.1,1266 2365.8,1270 2369.9,1275.5 2369.9,1278.8 2365.8,1281.6 2357.7,1284.6 2349.6,1284.3 2337.4,1283.9 2323.9,1284.3 2310.3,1286.3 2296.8,1288.3 2290.3,1290.2 2288.4,1288.3 2277.3,1293 2262.6,1296.6 2247.8,1302.2 2243.2,1299.4 2236.7,1305 2232,1310.5 2232,1315 2216.4,1325.3 2192.4,1338.2 2170.2,1349.3 2149.8,1364 2117.7,1385 2108,1387.4 2071,1404.7 2026.6,1428 2016.7,1430.5 1987.2,1445.3 1952.7,1460 1933,1471.2 1926.8,1478.6 1928,1482.3 1923,1486 1906,1475.4 1901,1477.3 1886.2,1494.6 1874,1511.8 1861.6,1539 1858,1551.2 1858,1562.3 1866.5,1565.5 1862.8,1568 1855.4,1568.5 1849.3,1585.7 1843,1610.3 1839.4,1632.5 1837,1649.8 1837,1659.6 1848,1662 1838.2,1665 1837,1672.2 1839.7,1686 1846.6,1706.8 1850.8,1708.2 1859.1,1723.4 1859.1,1730.4 1859.1,1741.4 1859.1,1766.4 1861.8,1794.1 1872.9,1802.4 1888.2,1821.8 1899.2,1835.6 1910.3,1839.8 1932.5,1864.7 1949.1,1878.6 1968.5,1888.3 1982.4,1891.1 1994.8,1900.8 2005.9,1910.5 1999,1920.2 1982.4,1938.2 1974.1,1952 1968.5,1972.8 1949.1,2025.5 1927,2049 1906.2,2080.9 1893.7,2073.9 1874.3,2054.5 1867.4,2037.9 1866,2022.7 1859.1,2018.5 1839.7,2014.4 1830,2004.7 1827.2,1982.5 1825.8,1964.5 1835.5,1950.6 1831.4,1941 1824.4,1932.6 1816.1,1934 1810.6,1939.6 1806.4,1935.4 1798.1,1940.9 1788.4,1950.6 1780.1,1949.2 1766.3,1947.9 1757.9,1942.3 1752.4,1934 1744.1,1936.8 1744.1,1945.1 1733,1947.9 1724.7,1943.7 1721.9,1932.6 1717.8,1920.2 1708.1,1916 1703.9,1907.7 1695.6,1906.3 1692.8,1903.5 1685.9,1904.9 1676.2,1902.1 1649.9,1902.1 1631.2,1895 1615.5,1892.1 1601.8,1899 1590,1903.9 1572.4,1900.9 1558.7,1902.9 1533.2,1903.9 1523.4,1901.9 1511.6,1900.9 1501.8,1908.8 1494,1914.6 1473.4,1918.6 1467.5,1924.4 1469.5,1930.3 1469.5,1941.1 1463.6,1947 1454.8,1948.4 1443,1951.9 1431.3,1957.8 1417.6,1961.7 1405.8,1971.5 1398,1977.4 1393.1,1983.2 1380.3,1984.2 1372.5,1983.2 1367.6,1979.3 1366.6,1969.5 1363.7,1962.7 1356.8,1956.8 1349,1954.8 1343.1,1950.9 1335.2,1943 1325.4,1938.6 1309.8,1939.1 1301.9,1938.2 1286.2,1939.1 1270.6,1943 1264.7,1947 1258.8,1944 1259.8,1924.4 1257.8,1916.6 1252.9,1911.7 1239.2,1908.8 1219.6,1899 1206,1892 1195.5,1886.2 1186.9,1875.4 1178.3,1864.7 1161,1862.5 1156.7,1853.9 1152.4,1850.6 1155.6,1839.9 1161,1836.6 1158.9,1835.5 1152.4,1829.1 1141.6,1835.5 1130.9,1836.6 1120.1,1828 1107.2,1822.6 1092,1823.7 1093.1,1808.6 1100.7,1801.1 1093.1,1797.8 1094.2,1787.1 1109.3,1778.4 1111.5,1775.2 1107.2,1776.3 1100.7,1774.1 1081.3,1766.6 1074.8,1762.3 1068.4,1764.4 1066.2,1774.1 1061.9,1782.8 1051.1,1780.6 1044.7,1774.1 1040.3,1782.8 1041.4,1789.2 1031.7,1787.1 1025.3,1788.1 1005.9,1776.3 997.2,1767.7 996.2,1759 1005.9,1753.7 1005.9,1744 1009.3,1739.4 1001.7,1738.4 998.5,1736.2 994.2,1730.8 986.6,1738.4 981.3,1736.2 973.7,1737.3 974.8,1723.3 972.6,1710.3 974.8,1706 967.2,1693.1 952.2,1687.7 942.5,1686.6 933.8,1680.2 931.7,1672.6 932.8,1660.8 911.2,1655.4 910.1,1650 906.9,1646.8 898.3,1647.8 896.1,1642.5 878.9,1638.1 874.6,1637.1 871.3,1625.2 863.8,1612.3 856.3,1609 854.1,1602.6 832.5,1583.2 802.4,1609 799.1,1602.6 798,1585.3 792.7,1581 783,1582.1 785.1,1578.9 786.2,1566 777.6,1560.6 769,1557.3 769,1547.6 780.8,1542.2 787.3,1534.7 777.6,1529.3 776.5,1522.8 783,1517.5 788.4,1507.8 789.4,1494.8 786.2,1485.1 771.1,1480.8 753.9,1477.6 750.6,1481.9 747.4,1488.4 741,1486.2 745.3,1477.6 742,1471.1 739.9,1463.6 728,1466.8 726.9,1462.5 741,1461.4 743.1,1456 739.9,1451.7 739.7,1434.5 736,1381 733.3,1334.7 729.6,1310.7 730.5,1307 769.3,1260.8 773,1255.3 825.6,1170.3 837.6,1150 851.7,1123.3 866.8,1102.8 872.2,1094.2 900.2,1108.2 902.4,1113.6 895.9,1121.1 892.7,1131.9 893.8,1136.2 899.1,1143.8 900.2,1148 895.9,1150.2 894.8,1156.7 889.4,1157.8 887.3,1164.2 884,1177.2 880.8,1177.2 875.4,1185.8 872.2,1193.3 873.3,1203 884,1203 892.7,1203 900.2,1203 906.7,1206.3 914.2,1210.6 923.9,1216 928.2,1220.3 923.9,1224.6 918.5,1227.8 921.8,1234.3 929.3,1240.7 934.7,1245 939,1245 940.1,1239.7 943.3,1233.2 948.7,1233.2 954.1,1237.5 954.1,1226.7 959.5,1220.3 956.3,1237.5 961.6,1231 970.3,1225.6 972.4,1220.3 972.4,1213.8 977.8,1208.4 984.3,1207.3 984.3,1200.9 987.5,1203 989.7,1214.9 1005.8,1211.6 1013.4,1202 1024.1,1216 1033.8,1222.4 1040.3,1226.7 1051,1222.4 1057.5,1223.5 1058.6,1228.9 1067.2,1225.6 1067.2,1222.4 1071.6,1205.2 1085.6,1194.4 1093.1,1185.8 1093.1,1175 1095.3,1151.3 1092,1136.2 1098.5,1136.2 1102.8,1141.6 1110.3,1140.5 1107.1,1134 1105,1125.4 1101.7,1114.7 1103.9,1109.3 1108.4,1099.5 1121.9,1093.3 1121.3,1079.8 1126.8,1077.3 1135.5,1070 1138.5,1052.7 1133,1049 1140.4,1042.2 1146,1044 1141.6,1029.3 1149.6,1023.2 1150.2,1013.3 1148.4,1009.6 1155.2,1012.7 1160.1,1010.2 1167.5,1012.7 1174.9,1009 1177.3,1012 1176.1,1002.2 1174.9,993.6 1176.7,993 1177.3,1001 1183.5,1001 1187.8,1008.4 1194.6,1011.5 1199.5,1014.5 1207,1020.2 1206,1009 1213.3,1005.4 1215.8,988.2 1229.3,987 1230.5,978.3 1226.8,968.5 1223.2,950 1226.8,948.8 1240.4,952.5 1250.2,951.2 1260.1,952.5 1273.6,951.2 1282.3,940.1 1287.2,936.5 1295.8,934 1302,925.4 1315.5,922.9 1325.4,921.7 1336.5,920 1343.8,922.9 1353.7,926.6 1358.6,927.8 1361,937.7 1366,962.3 1373.4,959.9 1382,963.5 1387,961 1394.3,964.8 1394.3,970.9 1410.3,967.2 1420.2,967.2 1430,962.3 1431.3,956.2"/>
<polyline points="1431.3,956.2 1432.5,953.7 1440,955 1449.8,958.6 1453.4,963.5 1448.5,973.4 1454.7,978.3 1457.4,979.3 1459.6,987 1460.2,994 1463.9,998.7 1470.3,996 1477.7,1000.6 1485.1,1006.1 1487.9,1008.9 1495.3,1006.1 1499.9,1007 1502.7,1012.6 1496.2,1019 1494.3,1027.4 1491.6,1039.4 1499,1043 1505.4,1045.8"/>
<polyline points="1505.4,1045.8 1512.8,1032.9 1518.4,1027.4 1523.9,1021.8 1529.4,1024.6 1535,1030 1538.7,1032.9 1536.8,1042.1 1540.5,1045 1553.5,1047.7 1568.2,1040.3 1583,1038.4 1596,1033.8 1605.2,1033.8 1605.2,1027.4 1602.4,1016.3 1604.3,1008.9 1603.3,1003.3 1607,983 1614.4,977.5 1623.7,973.8 1633,971 1640.3,964.5 1647.7,966.4 1652.3,970 1655,962.7 1660.6,959 1666.1,964.5 1671.7,971 1674.5,968.2 1680,972 1690.2,961.8 1693.9,955.3 1703.1,949.8 1708.6,944.2 1708.6,935 1713.3,930.4 1723.4,930.4 1730.8,933.1 1740,932.2 1749.3,928.5 1751.7,920 1760,921.4 1766.5,928.8 1776,924 1791,919 1801,908 1808,899 1824.4,890.6 1828,878 1840.4,861 1847.8,856 1857.6,855 1868.7,857.4 1878.6,861 1883.5,860 1889.7,863.5 1897,865 1898,871 1904.4,873.4 1905.7,887 1908,894"/>
<polyline points="1505.4,1045.8 1507.3,1049.5 1506.3,1055 1496.2,1057 1485.1,1058.8 1482.3,1067 1480.5,1069.8 1470.3,1070.8 1470.3,1076.3 1477.7,1083.7 1479.6,1090 1475.9,1095.7 1475,1105 1479.6,1114.2 1485.1,1121.6 1492.5,1131.7 1501.7,1125.2 1510,1126 1514.8,1129.6 1519.7,1139.4 1523.4,1149.3 1527,1160.3 1530.8,1172.7 1527,1180 1517.2,1180 1519.7,1198.5 1522.2,1213.3 1517.2,1223 1519.7,1230.5"/>
<polyline points="1519.7,1230.5 1533,1235.5 1535.7,1240.4 1549.3,1247.8 1559,1251.5 1564,1265 1567.7,1283.5 1566.5,1291 1572.7,1300.7 1574,1288.4 1581.3,1293.3 1593.6,1297 1603.4,1300.7 1615.8,1305.7 1623,1299.5 1626.8,1292 1642.9,1292 1644,1275 1657.6,1268.7 1674.9,1271.2 1679.8,1276 1688.4,1276 1692,1292 1697,1295.8 1698.3,1307 1700.7,1311.8"/>
<polyline points="1700.7,1311.8 1699.5,1307 1703.2,1311.8 1710.6,1309.4 1711.8,1300.7 1716.7,1302 1721.7,1307 1724,1314.3 1730.3,1318 1736.5,1320.4 1737.7,1327.8 1745,1332.8 1750,1339 1756.2,1332.8 1763.5,1327.8 1767.2,1330.3 1772.2,1337.7 1779.6,1340 1778.3,1353.7 1775.9,1362.3 1775.9,1368.5 1783.3,1372.2 1789.4,1372.2 1798,1373.4 1803,1379.6 1811.6,1377 1821.4,1374.6 1824,1368.5 1822.7,1361 1822.7,1351.2 1825,1343.8 1835,1342.6 1836.2,1337.7 1842.4,1340 1852.2,1345 1862,1351.2 1876.8,1323 1882.5,1329.6 1892.4,1333.3 1897.3,1342 1907,1345.6 1915.8,1346.8 1924.4,1350.5 1931.8,1353 1938,1341 1934,1332 1930.7,1324 1931,1311 1925,1302 1922,1293.6 1926,1287.4 1929.6,1277.6 1944.3,1276.4 1958,1275 1961.6,1267.7 1964,1255.4 1974,1250.5 1967.7,1244.3 1971.4,1235.7 1977.6,1229.6 1985,1230.8 1988.7,1238 2006,1233.3 2012,1229.6 2022,1222 2034.2,1230.8 2039,1238 2044,1232 2047.8,1223.4 2062.6,1219.7 2077.3,1209.8 2084.7,1213.5 2091,1213.5 2093.3,1206.2 2089.7,1207.4 2086,1202.5 2086,1189 2083.5,1184 2084.7,1176.6 2079.8,1177.8 2073.6,1180.3 2068.7,1174 2073.6,1169.2 2078.6,1170.4 2079.8,1164.3 2082.3,1152 2077.3,1147 2073.6,1142 2075,1133.5 2080.3,1132.3"/>
<polyline points="1700.7,1311.8 1698.3,1316.7 1697,1324 1689.7,1331.5 1682.3,1336.5 1665,1342.6 1662.6,1361 1661.3,1378.3 1656.4,1390.6 1654,1385.7 1646.5,1378.3 1641.6,1385.7 1639,1395.6 1634.2,1412.8 1630.5,1431.3 1624.4,1440 1625.6,1447.3 1635.5,1452.2 1647.8,1456 1656,1457.2 1652.4,1478.7 1638,1481.1 1639.2,1494.3 1627.2,1496.7 1623.7,1505.1 1633.2,1513.5 1635.6,1523.1 1650,1532.6 1657.2,1533.8 1660.8,1543.4 1654.8,1550.6 1648.8,1557.8 1650,1567.4 1657.2,1580.5 1666.8,1584.1 1675.1,1586.5 1678.7,1577 1685.9,1574.6 1691.9,1568.6 1700.3,1569.8 1708.7,1579.3 1715.9,1591.3 1730.2,1597.3 1738.6,1594.9 1762.6,1594.9 1766.2,1608.1 1775.7,1620.1 1775.7,1632 1769.8,1648.8 1767.4,1658.4 1755.4,1663.2 1743.4,1668 1742.2,1682.3 1748.2,1689.5 1751.8,1694.3 1761.4,1695.5 1741,1697.9 1720.7,1682.3 1626,1703.9 1622.5,1707.5 1623.7,1715.9 1627.2,1727.8 1616.6,1738.7 1618,1752.5"/>
<polyline points="1859.1,1729 1854.9,1735.9 1846.6,1742.8 1830,1744.2 1825.8,1747 1828.6,1756.7 1824.4,1763.6 1810.6,1771.9 1794,1778.8 1774.6,1781.6 1766.3,1791.3 1760.7,1795.5 1752.4,1792.7 1746.9,1801 1745.5,1809.3 1737.2,1816.3 1737.2,1823.2 1733,1827.3 1721.9,1824.6 1695.6,1802.4 1672,1780.2 1670.7,1770.5 1658.2,1765 1662.3,1759.4 1670.7,1756.7 1663.7,1755.3 1658.2,1749.7 1643,1747 1630.5,1749.7 1618,1752.5 1602.1,1751.8 1590.1,1745.8 1584.2,1751 1570.4,1754.9 1562.6,1751 1552.8,1753.9 1537.1,1757.8 1529.3,1762.7 1517.5,1763.7 1509.7,1767.6 1496.7,1780 1490.1,1786.3 1478.3,1790.2 1456.8,1788.2 1447,1784.3 1437.2,1787.2 1421.5,1780.4 1417.6,1782.3 1407.8,1779.4 1396,1777.4 1382.3,1776.5 1372.5,1768.6 1362.7,1769.6 1358.8,1762.7 1345,1766.7 1323.5,1766.7 1309.8,1777.4 1301.9,1782.3 1278.4,1770.6 1256.8,1759.8 1248,1756.9 1249,1764.7 1256.8,1769.6 1262.7,1777.4 1267.6,1787.2 1269.6,1795.1 1268.6,1801 1272.5,1805.9 1268.6,1812.7 1264.7,1815.7 1254.9,1817.6 1251,1822.5 1244.1,1829.4 1235.3,1828.4 1229.4,1826.4 1215.7,1824.5 1213.7,1815.7 1207.8,1812.7 1200,1809.8 1191.2,1804.3 1188,1800 1182.6,1794.6 1174,1793.1 1163.2,1793.5 1150.3,1793.5 1139.5,1794.6 1130.9,1797.8 1126.6,1802.2 1115.8,1789.2 1112.5,1784.9 1111.5,1775.2"/>
<polyline points="1248,1756.9 1254.8,1756.9 1259.1,1748.3 1260.2,1739.7 1253.7,1735.3 1255.9,1728.9 1249.4,1720.3 1247.2,1705.2 1244,1687.9 1241.8,1666.4 1244,1653.4 1241.8,1642.7 1236.5,1640.5 1244,1631.9 1251.6,1636.2 1260.2,1640.5 1266.6,1635.1 1279.6,1634 1295.7,1636.2 1300,1631"/>
<polyline points="1067.2,1222.4 1068.3,1228.9 1074.8,1234.3 1080.2,1235.3 1080.2,1244 1077,1257 1074.8,1265.5 1080.2,1272 1086.6,1285 1095.3,1295.7 1101.7,1294.6 1111.4,1289.2 1117.9,1290.3 1119,1300 1123.3,1310.8 1129.7,1314 1131.9,1320.5 1138.4,1327 1140.5,1336.6 1139.4,1349.6 1142.7,1362.5 1147,1371.1 1151.7,1378.3 1160.3,1385.7 1162.8,1399.3 1173.9,1405.4 1185,1407.9 1192.4,1415.3 1193.6,1435 1194.9,1444.4 1190.5,1447.8 1189.9,1451.1 1193.2,1456.6 1195.4,1461.1 1193.8,1464.9 1188.2,1469.4 1188.2,1472.1 1191.6,1475.5 1196.6,1471.6 1198.8,1473.8 1202.1,1479.9 1204.3,1487.7 1206,1495.4 1206.5,1505.4 1199.9,1505.4 1197.7,1510.9 1196.6,1515.4 1201,1519.8 1203.2,1524.2 1209.9,1528.7 1211.5,1535.3 1212.1,1546.4 1209.3,1549.7 1211,1553.1 1216.5,1550.8 1229.8,1550.6 1237.6,1552.5 1247.5,1559.2 1255.9,1560.3 1266.4,1568.6 1276.9,1576.3 1273,1583 1266.4,1581.9 1262.5,1584.1 1263.1,1590.7 1268.6,1595.2 1281.9,1601.8 1286.3,1606.8 1298.5,1610.1 1301.9,1614.6 1300.7,1620 1300,1631"/>
<polyline points="1519.7,1230.5 1500,1235.5 1479.3,1239 1462,1238 1447.3,1236.7 1448.5,1247.8 1441,1251.5 1430,1255.2 1431.3,1262.6 1426.4,1272.4 1419,1275 1407.9,1276 1404.2,1282.3 1405.4,1297 1401.7,1302 1403,1316.7 1410.3,1319.2 1416.5,1318 1421.4,1323 1420.2,1336.5 1419,1343.8 1421.4,1346.3 1417.7,1353.7 1410.3,1361 1412.8,1372.2 1420.2,1371 1426.4,1367.2 1427.6,1359.9 1436.2,1358.6 1441.1,1366 1448.5,1364.8 1454.7,1356 1456,1351.2 1460.8,1351.2 1480.5,1389.4 1479.3,1391.9 1460.8,1390.6 1462,1395.6 1464.5,1405.4 1465.8,1415.3 1467,1420.2 1473.2,1420.2 1470.7,1427.6 1469.5,1435 1458.4,1435 1444.8,1431.3 1442,1446 1439.2,1462 1432,1469.2 1426,1478.7 1417.7,1482.3 1410.5,1488.3 1409.3,1494.3 1399.7,1499.1 1384.1,1513.5 1381.7,1526.6 1388.9,1539.8 1393.7,1545.8 1391.3,1555.4 1385.3,1559 1386.5,1568.6 1382.9,1574.6 1381.7,1580.5 1374.6,1580.5 1365,1587.7 1361.4,1598.5 1361.4,1615.3 1362.6,1621.3 1372.2,1628.4 1385.3,1635.6 1382.9,1640.4 1369.8,1639.2 1362.6,1639.2 1353,1633.2 1345.8,1633.2 1331.4,1635.6 1319.5,1635.6 1300,1631"/>
</g>
<circle cx="1220.7" cy="1206.4" r="12" fill="#1ccf1c" stroke="#0f3f0f" stroke-width="1.3"/>
<circle cx="1578" cy="903.9" r="12" fill="#1ccf1c" stroke="#0f3f0f" stroke-width="1.3"/>
<circle cx="1879.3" cy="778.6" r="12" fill="#1ccf1c" stroke="#0f3f0f" stroke-width="1.3"/>
<circle cx="1797.3" cy="1246.1" r="12" fill="#1ccf1c" stroke="#0f3f0f" stroke-width="1.3"/>
<circle cx="1812.8" cy="1409.1" r="12" fill="#1ccf1c" stroke="#0f3f0f" stroke-width="1.3"/>
<circle cx="1534.3" cy="1530.7" r="12" fill="#1ccf1c" stroke="#0f3f0f" stroke-width="1.3"/>
<circle cx="1343.7" cy="1782.3" r="12" fill="#1ccf1c" stroke="#0f3f0f" stroke-width="1.3"/>
<rect x="1318" y="1354" width="24.5" height="24.5" fill="#1ccf1c" stroke="#0f3f0f" stroke-width="1.3"/>
<rect x="934.2" y="1448.5" width="24.5" height="24.5" fill="#1ccf1c" stroke="#0f3f0f" stroke-width="1.3"/>
<rect x="1483.3" y="1798.2" width="24.5" height="24.5" fill="#1ccf1c" stroke="#0f3f0f" stroke-width="1.3"/>
<polygon points="1171.8,1363.5 1183.8,1386.2 1159.8,1386.2" fill="#1ccf1c" stroke="#0f3f0f" stroke-width="1.3" stroke-linejoin="round"/>
<polygon points="1854.9,1828.7 1866.9,1851.7 1842.9,1851.7" fill="#1ccf1c" stroke="#0f3f0f" stroke-width="1.3" stroke-linejoin="round"/>
<text class="b" x="544.4" y="283.3" font-size="66" textLength="540.8" lengthAdjust="spacingAndGlyphs">Benzene (C6H6)</text>
<text class="b" x="323.1" y="364" font-size="66" textLength="980.8" lengthAdjust="spacingAndGlyphs">Superamenti del valore limite</text>
<text class="b" x="496.4" y="444.8" font-size="66" textLength="636.3" lengthAdjust="spacingAndGlyphs">annuale (5 µg/m3)</text>
<text class="b" x="634.1" y="524.2" font-size="66" textLength="361.1" lengthAdjust="spacingAndGlyphs">Anno 2017</text>
<text class="r" x="2359.8" y="496.9" font-size="66" textLength="248.3" lengthAdjust="spacingAndGlyphs">Legenda</text>
<text class="r" x="2359.7" y="602" font-size="49.3" textLength="740" lengthAdjust="spacingAndGlyphs">Benzene superamento VL annuale</text>
<text class="r" x="2465.5" y="693.7" font-size="66" textLength="674.7" lengthAdjust="spacingAndGlyphs">Fondo VL non superato</text>
<text class="r" x="2464.1" y="768.1" font-size="66" textLength="810.1" lengthAdjust="spacingAndGlyphs">Industriale VL non superato</text>
<text class="r" x="2467.1" y="842.5" font-size="66" textLength="709.9" lengthAdjust="spacingAndGlyphs">Traffico VL non superato</text>
<text class="r" x="2060.5" y="2205.5" font-size="50.5" textLength="56.9" lengthAdjust="spacingAndGlyphs">25</text>
<text class="r" x="2282.8" y="2205.5" font-size="50.5" textLength="29.1" lengthAdjust="spacingAndGlyphs">0</text>
<text class="r" x="2478.1" y="2205.5" font-size="50.5" textLength="59.1" lengthAdjust="spacingAndGlyphs">25</text>
<text class="r" x="2687" y="2205.5" font-size="50.5" textLength="58.4" lengthAdjust="spacingAndGlyphs">50</text>
<text class="r" x="2895.9" y="2205.5" font-size="50.5" textLength="59.8" lengthAdjust="spacingAndGlyphs">75</text>
<text class="r" x="3093" y="2205.5" font-size="50.5" textLength="167.1" lengthAdjust="spacingAndGlyphs">100 km</text>
<text class="k" x="489.8" y="1880.7" font-size="36.7" textLength="29.5" lengthAdjust="spacingAndGlyphs">N</text>
<text class="k" x="492" y="2265.7" font-size="36.7" textLength="25.4" lengthAdjust="spacingAndGlyphs">S</text>
<text class="k" x="292.1" y="2072.7" font-size="36.7" textLength="35.5" lengthAdjust="spacingAndGlyphs">W</text>
<text class="k" x="679.4" y="2072.9" font-size="36.7" textLength="25.4" lengthAdjust="spacingAndGlyphs">E</text>
<circle cx="2401" cy="667.5" r="12" fill="#1ccf1c" stroke="#0f3f0f" stroke-width="1.3"/>
<polygon points="2401,730.5 2413,754 2389,754" fill="#1ccf1c" stroke="#0f3f0f" stroke-width="1.3" stroke-linejoin="round"/>
<rect x="2388.8" y="804.2" width="24.3" height="24.3" fill="#1ccf1c" stroke="#0f3f0f" stroke-width="1.3"/>
<circle cx="503.7" cy="2060.2" r="76.4" fill="none" stroke="#111" stroke-width="8.6"/>
<path d="M503.7,1891.9 L526,1974.5 A88.6,88.6 0 0 0 481.4,1974.5 Z" fill="#000"/>
<path d="M672,2060.2 L589.4,2082.5 A88.6,88.6 0 0 0 589.4,2037.9 Z" fill="#000"/>
<path d="M503.7,2228.5 L481.4,2145.9 A88.6,88.6 0 0 0 526,2145.9 Z" fill="#000"/>
<path d="M335.4,2060.2 L418,2037.9 A88.6,88.6 0 0 0 418,2082.5 Z" fill="#000"/>
<rect x="2088.8" y="2240" width="104.6" height="34.9" fill="#000" stroke="#000" stroke-width="3.5"/>
<rect x="2193.4" y="2240" width="104.6" height="34.9" fill="#fff" stroke="#000" stroke-width="3.5"/>
<rect x="2298" y="2240" width="209.2" height="34.9" fill="#000" stroke="#000" stroke-width="3.5"/>
<rect x="2507.2" y="2240" width="209.2" height="34.9" fill="#fff" stroke="#000" stroke-width="3.5"/>
<rect x="2716.4" y="2240" width="209.2" height="34.9" fill="#000" stroke="#000" stroke-width="3.5"/>
<rect x="2925.6" y="2240" width="209.2" height="34.9" fill="#fff" stroke="#000" stroke-width="3.5"/>
</svg></body></html>
